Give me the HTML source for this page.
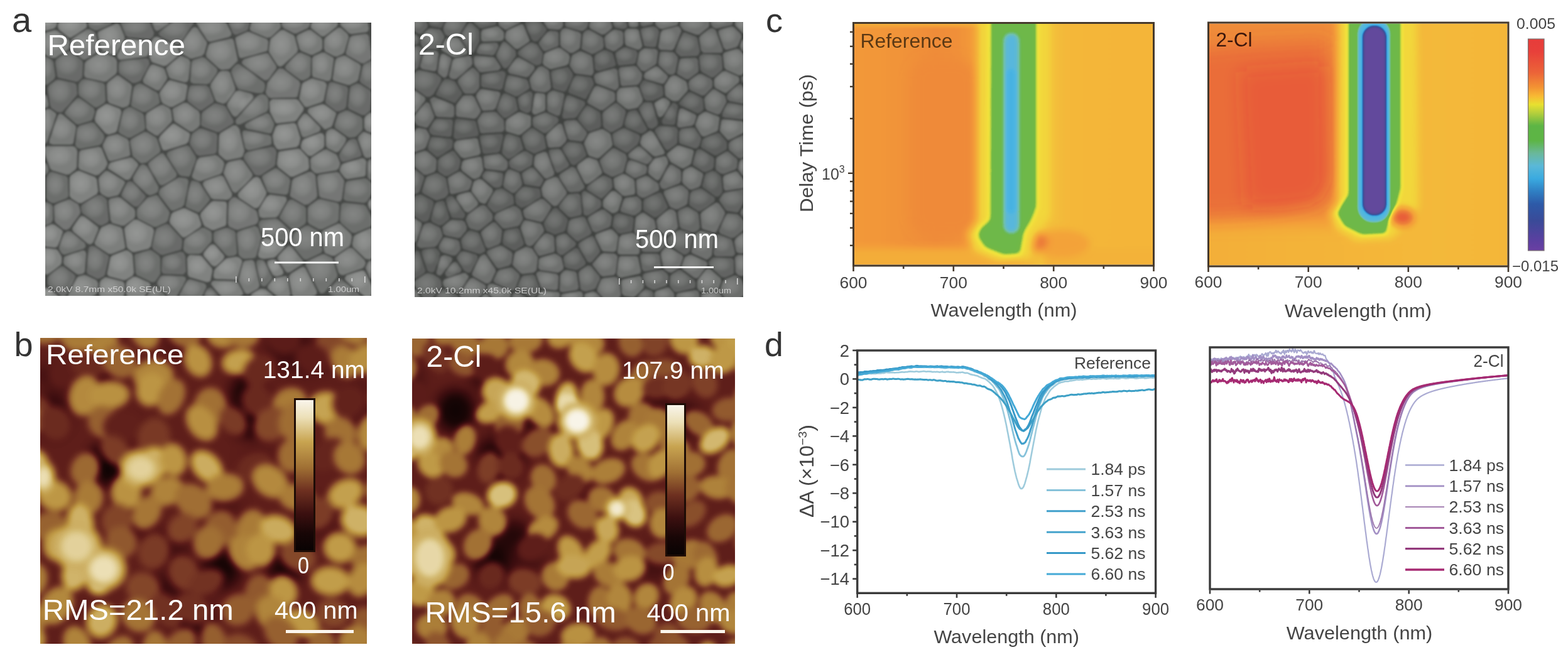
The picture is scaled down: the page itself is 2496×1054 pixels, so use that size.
<!DOCTYPE html>
<html><head><meta charset="utf-8"><title>Figure</title>
<style>html,body{margin:0;padding:0;background:#fff;width:2496px;height:1054px;overflow:hidden}svg{display:block}</style>
</head><body>
<svg width="2496" height="1054" viewBox="0 0 2496 1054" font-family="'Liberation Sans', Arial, sans-serif">
<rect x="0" y="0" width="2496" height="1054" fill="#ffffff"/>
<defs><clipPath id="semL_clip"><rect x="72" y="36" width="519" height="435"/></clipPath>
<filter id="semL_blur" x="62" y="26" width="539" height="455" filterUnits="userSpaceOnUse"><feGaussianBlur stdDeviation="1.50"/></filter>
<radialGradient id="semL_g0" cx="0.45" cy="0.4" r="0.65" fx="0.38" fy="0.3"><stop offset="0" stop-color="rgb(145,147,145)"/><stop offset="0.6" stop-color="rgb(121,123,121)"/><stop offset="0.9" stop-color="rgb(99,101,99)"/><stop offset="1" stop-color="rgb(94,96,94)"/></radialGradient>
<radialGradient id="semL_g1" cx="0.45" cy="0.4" r="0.65" fx="0.38" fy="0.3"><stop offset="0" stop-color="rgb(149,151,149)"/><stop offset="0.6" stop-color="rgb(125,127,125)"/><stop offset="0.9" stop-color="rgb(103,105,103)"/><stop offset="1" stop-color="rgb(98,100,98)"/></radialGradient>
<radialGradient id="semL_g2" cx="0.45" cy="0.4" r="0.65" fx="0.38" fy="0.3"><stop offset="0" stop-color="rgb(153,155,153)"/><stop offset="0.6" stop-color="rgb(129,131,129)"/><stop offset="0.9" stop-color="rgb(107,109,107)"/><stop offset="1" stop-color="rgb(102,104,102)"/></radialGradient>
<radialGradient id="semL_g3" cx="0.45" cy="0.4" r="0.65" fx="0.38" fy="0.3"><stop offset="0" stop-color="rgb(157,159,157)"/><stop offset="0.6" stop-color="rgb(132,134,132)"/><stop offset="0.9" stop-color="rgb(111,113,111)"/><stop offset="1" stop-color="rgb(106,108,106)"/></radialGradient>
<radialGradient id="semL_g4" cx="0.45" cy="0.4" r="0.65" fx="0.38" fy="0.3"><stop offset="0" stop-color="rgb(161,163,161)"/><stop offset="0.6" stop-color="rgb(136,138,136)"/><stop offset="0.9" stop-color="rgb(115,117,115)"/><stop offset="1" stop-color="rgb(110,112,110)"/></radialGradient>
<radialGradient id="semL_g5" cx="0.45" cy="0.4" r="0.65" fx="0.38" fy="0.3"><stop offset="0" stop-color="rgb(164,166,164)"/><stop offset="0.6" stop-color="rgb(140,142,140)"/><stop offset="0.9" stop-color="rgb(119,121,119)"/><stop offset="1" stop-color="rgb(113,115,113)"/></radialGradient>
<radialGradient id="semL_g6" cx="0.45" cy="0.4" r="0.65" fx="0.38" fy="0.3"><stop offset="0" stop-color="rgb(168,170,168)"/><stop offset="0.6" stop-color="rgb(144,146,144)"/><stop offset="0.9" stop-color="rgb(122,124,122)"/><stop offset="1" stop-color="rgb(117,119,117)"/></radialGradient>
<radialGradient id="semL_hl"><stop offset="0" stop-color="#fff" stop-opacity="0.16"/><stop offset="0.6" stop-color="#fff" stop-opacity="0.10"/><stop offset="1" stop-color="#fff" stop-opacity="0"/></radialGradient>
</defs>
<g clip-path="url(#semL_clip)"><g filter="url(#semL_blur)">
<rect x="64" y="28" width="535" height="451" fill="rgb(71,73,71)"/>
<path d="M65 44 L67 48 L72 49 L86 45 L89 42 L91 36 L90 31 L86 29 L70 29 L67 31 L65 34Z" fill="rgb(128,130,128)"/>
<ellipse cx="75" cy="36" rx="11" ry="7" fill="url(#semL_hl)"/>
<path d="M109 59 L112 60 L114 59 L136 45 L138 42 L138 40 L137 33 L135 31 L132 29 L99 29 L96 30 L94 33 L92 42 L94 47Z" fill="rgb(128,130,128)"/>
<ellipse cx="111" cy="39" rx="19" ry="12" fill="url(#semL_hl)"/>
<path d="M141 40 L143 44 L151 48 L155 48 L175 39 L178 36 L177 31 L173 29 L145 29 L141 31 L140 35Z" fill="rgb(108,110,108)"/>
<ellipse cx="154" cy="35" rx="16" ry="7" fill="url(#semL_hl)"/>
<path d="M197 29 L194 30 L192 33 L192 36 L200 56 L204 59 L237 62 L241 61 L244 57 L245 52 L237 32 L233 29Z" fill="rgb(105,107,105)"/>
<ellipse cx="215" cy="42" rx="23" ry="12" fill="url(#semL_hl)"/>
<path d="M246 46 L249 49 L253 48 L267 38 L269 35 L268 31 L264 29 L246 29 L243 30 L242 33 L242 36Z" fill="rgb(116,118,116)"/>
<ellipse cx="252" cy="35" rx="11" ry="7" fill="url(#semL_hl)"/>
<path d="M255 50 L253 53 L254 56 L256 58 L280 70 L283 71 L286 69 L308 37 L309 34 L307 31 L304 29 L286 29 L283 30Z" fill="rgb(105,107,105)"/>
<ellipse cx="277" cy="44" rx="23" ry="16" fill="url(#semL_hl)"/>
<path d="M317 29 L314 31 L312 34 L313 37 L330 64 L333 66 L336 66 L364 59 L368 56 L368 52 L361 38 L358 35 L338 30Z" fill="rgb(120,122,120)"/>
<ellipse cx="336" cy="43" rx="23" ry="14" fill="url(#semL_hl)"/>
<path d="M363 33 L364 37 L371 53 L374 55 L377 55 L392 49 L395 46 L397 36 L396 31 L392 29 L368 29Z" fill="rgb(105,107,105)"/>
<ellipse cx="378" cy="38" rx="14" ry="10" fill="url(#semL_hl)"/>
<path d="M445 34 L444 31 L441 29 L406 29 L403 30 L401 33 L398 44 L398 47 L401 50 L425 60 L431 59 L445 46 L447 42Z" fill="rgb(120,122,120)"/>
<ellipse cx="419" cy="39" rx="20" ry="12" fill="url(#semL_hl)"/>
<path d="M449 41 L452 45 L468 53 L472 53 L489 45 L492 42 L494 36 L493 31 L489 29 L453 29 L450 31 L448 35Z" fill="rgb(116,118,116)"/>
<ellipse cx="467" cy="37" rx="19" ry="9" fill="url(#semL_hl)"/>
<path d="M495 41 L495 44 L497 46 L511 57 L514 58 L517 57 L536 42 L538 37 L537 34 L536 31 L533 29 L502 29 L499 30 L497 33Z" fill="rgb(124,126,124)"/>
<ellipse cx="512" cy="38" rx="18" ry="11" fill="url(#semL_hl)"/>
<path d="M583 51 L586 49 L587 45 L585 34 L584 31 L580 29 L545 29 L542 31 L541 35 L543 41 L556 53 L560 54Z" fill="rgb(120,122,120)"/>
<ellipse cx="561" cy="38" rx="20" ry="9" fill="url(#semL_hl)"/>
<path d="M73 52 L70 53 L69 56 L69 82 L72 87 L83 92 L88 92 L108 79 L110 75 L110 66 L108 62 L91 49 L87 48Z" fill="rgb(124,126,124)"/>
<ellipse cx="84" cy="66" rx="17" ry="17" fill="url(#semL_hl)"/>
<path d="M152 54 L150 51 L143 47 L138 47 L115 62 L113 66 L113 76 L115 80 L131 94 L134 95 L137 94 L156 82 L158 80 L158 77Z" fill="rgb(116,118,116)"/>
<ellipse cx="132" cy="66" rx="19" ry="18" fill="url(#semL_hl)"/>
<path d="M198 62 L198 58 L191 41 L188 38 L184 38 L158 50 L156 52 L156 56 L161 78 L164 81 L179 87 L183 87 L186 84Z" fill="rgb(124,126,124)"/>
<ellipse cx="174" cy="57" rx="18" ry="19" fill="url(#semL_hl)"/>
<path d="M187 87 L187 91 L189 94 L192 95 L231 90 L234 89 L236 86 L238 70 L237 66 L233 65 L205 62 L202 62 L200 64Z" fill="rgb(128,130,128)"/>
<ellipse cx="209" cy="75" rx="21" ry="13" fill="url(#semL_hl)"/>
<path d="M260 105 L265 104 L284 88 L285 86 L285 83 L283 77 L281 74 L251 59 L248 59 L245 60 L241 66 L238 90 L239 92 L241 97 L243 99Z" fill="rgb(128,130,128)"/>
<ellipse cx="255" cy="78" rx="20" ry="18" fill="url(#semL_hl)"/>
<path d="M303 93 L306 93 L321 89 L325 85 L329 71 L329 67 L314 45 L310 43 L306 45 L287 72 L286 77 L289 84 L291 86Z" fill="rgb(120,122,120)"/>
<ellipse cx="305" cy="66" rx="18" ry="19" fill="url(#semL_hl)"/>
<path d="M366 109 L378 97 L378 94 L372 65 L370 62 L366 62 L335 69 L332 72 L328 86 L329 91 L349 109 L353 111 L363 110Z" fill="rgb(120,122,120)"/>
<ellipse cx="350" cy="81" rx="21" ry="19" fill="url(#semL_hl)"/>
<path d="M427 67 L426 64 L424 62 L397 51 L393 51 L378 58 L375 60 L375 64 L380 88 L382 92 L386 92 L422 82 L425 81 L426 78Z" fill="rgb(120,122,120)"/>
<ellipse cx="395" cy="67" rx="22" ry="16" fill="url(#semL_hl)"/>
<path d="M473 83 L474 78 L469 59 L467 56 L452 48 L449 48 L446 49 L431 62 L430 66 L428 80 L429 84 L442 104 L446 106 L450 104Z" fill="rgb(124,126,124)"/>
<ellipse cx="447" cy="70" rx="19" ry="22" fill="url(#semL_hl)"/>
<path d="M510 81 L513 77 L513 64 L511 60 L495 48 L490 48 L475 55 L473 57 L472 60 L477 78 L480 81 L494 87 L498 87Z" fill="rgb(120,122,120)"/>
<ellipse cx="490" cy="64" rx="17" ry="15" fill="url(#semL_hl)"/>
<path d="M531 89 L536 90 L545 86 L548 83 L555 59 L553 54 L543 45 L540 44 L537 45 L518 60 L516 64 L516 77 L518 82Z" fill="rgb(120,122,120)"/>
<ellipse cx="532" cy="63" rx="16" ry="17" fill="url(#semL_hl)"/>
<path d="M551 82 L551 86 L553 88 L574 100 L579 101 L589 95 L591 93 L591 90 L587 58 L585 55 L581 54 L561 57 L557 60Z" fill="rgb(116,118,116)"/>
<ellipse cx="569" cy="72" rx="17" ry="18" fill="url(#semL_hl)"/>
<path d="M73 90 L69 90 L66 92 L65 95 L65 129 L66 132 L72 135 L76 134 L86 126 L88 121 L85 99 L82 95Z" fill="rgb(108,110,108)"/>
<ellipse cx="74" cy="108" rx="10" ry="17" fill="url(#semL_hl)"/>
<path d="M132 101 L131 97 L114 83 L111 82 L108 82 L90 94 L88 99 L91 120 L92 123 L95 124 L121 130 L125 129 L130 124 L131 121Z" fill="rgb(105,107,105)"/>
<ellipse cx="107" cy="102" rx="19" ry="18" fill="url(#semL_hl)"/>
<path d="M184 93 L181 91 L163 83 L159 84 L138 97 L135 101 L134 118 L135 122 L138 124 L166 130 L170 129 L184 118 L186 114 L186 98Z" fill="rgb(120,122,120)"/>
<ellipse cx="157" cy="103" rx="22" ry="18" fill="url(#semL_hl)"/>
<path d="M238 102 L237 96 L235 94 L232 93 L193 97 L190 99 L189 102 L189 114 L191 118 L211 132 L215 132 L221 130 L224 128Z" fill="rgb(105,107,105)"/>
<ellipse cx="209" cy="107" rx="21" ry="15" fill="url(#semL_hl)"/>
<path d="M265 127 L266 123 L262 111 L259 108 L245 103 L242 103 L239 105 L228 126 L228 130 L230 133 L248 143 L252 144 L255 142Z" fill="rgb(120,122,120)"/>
<ellipse cx="245" cy="119" rx="16" ry="16" fill="url(#semL_hl)"/>
<path d="M269 122 L272 125 L294 131 L298 130 L300 126 L303 99 L300 94 L291 90 L288 89 L286 90 L267 106 L265 108 L265 111Z" fill="rgb(120,122,120)"/>
<ellipse cx="283" cy="107" rx="16" ry="16" fill="url(#semL_hl)"/>
<path d="M303 128 L304 131 L308 133 L329 134 L334 132 L345 116 L346 113 L345 109 L327 93 L322 91 L309 95 L306 97 L305 100Z" fill="rgb(112,114,112)"/>
<ellipse cx="319" cy="110" rx="18" ry="16" fill="url(#semL_hl)"/>
<path d="M417 148 L419 146 L421 143 L422 136 L420 131 L382 103 L379 102 L376 103 L370 109 L368 115 L377 138 L380 142 L409 148Z" fill="rgb(108,110,108)"/>
<ellipse cx="389" cy="123" rx="22" ry="18" fill="url(#semL_hl)"/>
<path d="M389 94 L386 97 L385 100 L387 103 L420 127 L423 128 L427 126 L439 110 L440 107 L439 104 L428 87 L426 85 L422 85Z" fill="rgb(116,118,116)"/>
<ellipse cx="411" cy="100" rx="23" ry="16" fill="url(#semL_hl)"/>
<path d="M495 94 L494 91 L491 89 L479 84 L474 85 L456 103 L454 107 L456 111 L478 127 L483 128 L491 124 L494 120Z" fill="rgb(112,114,112)"/>
<ellipse cx="475" cy="101" rx="17" ry="17" fill="url(#semL_hl)"/>
<path d="M521 129 L525 128 L527 124 L531 96 L531 93 L529 91 L517 84 L512 84 L500 89 L497 93 L497 118 L498 122 L500 123Z" fill="rgb(120,122,120)"/>
<ellipse cx="511" cy="102" rx="14" ry="17" fill="url(#semL_hl)"/>
<path d="M530 123 L530 127 L533 129 L553 135 L557 135 L567 130 L570 127 L574 108 L574 105 L572 102 L550 89 L546 89 L537 92 L534 96Z" fill="rgb(120,122,120)"/>
<ellipse cx="548" cy="108" rx="19" ry="18" fill="url(#semL_hl)"/>
<path d="M598 102 L596 98 L593 97 L590 97 L579 103 L577 107 L573 126 L573 129 L575 132 L590 142 L593 142 L596 141 L598 137Z" fill="rgb(105,107,105)"/>
<ellipse cx="585" cy="115" rx="10" ry="17" fill="url(#semL_hl)"/>
<path d="M65 167 L67 171 L72 172 L76 170 L77 166 L75 156 L74 152 L70 151 L67 153 L65 156Z" fill="rgb(120,122,120)"/>
<ellipse cx="70" cy="160" rx="5" ry="8" fill="url(#semL_hl)"/>
<path d="M121 153 L123 150 L122 137 L121 134 L118 132 L93 127 L89 128 L78 136 L76 141 L80 168 L82 172 L91 178 L97 179 L100 177Z" fill="rgb(105,107,105)"/>
<ellipse cx="95" cy="145" rx="19" ry="20" fill="url(#semL_hl)"/>
<path d="M127 131 L125 135 L125 149 L127 153 L150 170 L153 171 L156 170 L166 164 L168 160 L167 137 L166 134 L163 132 L136 126 L131 127Z" fill="rgb(108,110,108)"/>
<ellipse cx="144" cy="142" rx="18" ry="17" fill="url(#semL_hl)"/>
<path d="M190 121 L187 120 L185 121 L172 131 L170 135 L171 159 L174 164 L194 171 L197 171 L203 169 L206 165 L210 138 L208 134Z" fill="rgb(120,122,120)"/>
<ellipse cx="186" cy="141" rx="17" ry="19" fill="url(#semL_hl)"/>
<path d="M226 134 L222 133 L217 135 L213 139 L209 165 L209 168 L211 170 L227 178 L232 178 L252 166 L254 164 L254 161 L252 150 L249 147Z" fill="rgb(108,110,108)"/>
<ellipse cx="226" cy="152" rx="19" ry="17" fill="url(#semL_hl)"/>
<path d="M257 161 L260 165 L270 170 L275 170 L292 161 L295 158 L298 140 L298 136 L295 134 L272 128 L270 128 L267 130 L255 146 L254 150Z" fill="rgb(124,126,124)"/>
<ellipse cx="273" cy="145" rx="18" ry="16" fill="url(#semL_hl)"/>
<path d="M338 164 L340 162 L340 158 L333 140 L328 136 L306 136 L303 137 L301 140 L298 157 L300 162 L317 175 L320 176 L322 175Z" fill="rgb(105,107,105)"/>
<ellipse cx="315" cy="150" rx="18" ry="15" fill="url(#semL_hl)"/>
<path d="M366 116 L364 114 L361 113 L353 113 L349 115 L336 133 L335 138 L343 159 L346 162 L355 165 L358 164 L360 163 L374 144 L374 139Z" fill="rgb(120,122,120)"/>
<ellipse cx="352" cy="133" rx="16" ry="20" fill="url(#semL_hl)"/>
<path d="M381 144 L378 145 L375 146 L362 165 L362 170 L370 183 L374 186 L378 184 L402 157 L403 154 L402 151 L399 149Z" fill="rgb(120,122,120)"/>
<ellipse cx="377" cy="159" rx="17" ry="16" fill="url(#semL_hl)"/>
<path d="M451 110 L445 109 L442 111 L426 132 L423 146 L424 150 L427 154 L431 156 L470 155 L473 154 L474 151 L478 134 L476 129Z" fill="rgb(116,118,116)"/>
<ellipse cx="446" cy="131" rx="23" ry="18" fill="url(#semL_hl)"/>
<path d="M484 131 L481 134 L477 154 L477 158 L484 168 L486 170 L490 170 L511 163 L515 160 L520 136 L519 133 L516 130 L497 125 L494 126Z" fill="rgb(124,126,124)"/>
<ellipse cx="494" cy="143" rx="18" ry="17" fill="url(#semL_hl)"/>
<path d="M530 131 L526 131 L523 134 L518 160 L519 165 L535 177 L540 177 L548 174 L551 170 L554 143 L553 139 L550 137Z" fill="rgb(105,107,105)"/>
<ellipse cx="533" cy="149" rx="15" ry="18" fill="url(#semL_hl)"/>
<path d="M573 134 L568 133 L559 137 L557 141 L554 169 L555 172 L557 174 L576 183 L581 183 L587 178 L589 175 L591 149 L589 144Z" fill="rgb(105,107,105)"/>
<ellipse cx="569" cy="153" rx="15" ry="19" fill="url(#semL_hl)"/>
<path d="M69 176 L66 178 L65 181 L65 224 L67 227 L70 229 L73 228 L75 225 L89 184 L89 181 L87 179 L80 174 L76 174Z" fill="rgb(120,122,120)"/>
<ellipse cx="73" cy="192" rx="10" ry="21" fill="url(#semL_hl)"/>
<path d="M121 197 L125 198 L145 192 L148 188 L151 178 L149 172 L128 157 L124 156 L121 158 L105 176 L103 180 L105 183Z" fill="rgb(108,110,108)"/>
<ellipse cx="124" cy="174" rx="20" ry="16" fill="url(#semL_hl)"/>
<path d="M156 174 L154 177 L151 189 L152 194 L168 212 L173 214 L183 211 L186 208 L193 179 L192 175 L190 173 L172 166 L168 166Z" fill="rgb(128,130,128)"/>
<ellipse cx="169" cy="184" rx="18" ry="18" fill="url(#semL_hl)"/>
<path d="M209 171 L204 171 L199 174 L196 177 L189 207 L189 210 L192 213 L203 219 L208 219 L228 208 L230 206 L231 203 L229 184 L226 180Z" fill="rgb(108,110,108)"/>
<ellipse cx="206" cy="191" rx="17" ry="18" fill="url(#semL_hl)"/>
<path d="M234 180 L232 185 L233 204 L236 208 L247 215 L251 216 L253 214 L272 195 L274 191 L272 176 L269 172 L259 167 L254 168Z" fill="rgb(120,122,120)"/>
<ellipse cx="249" cy="186" rx="18" ry="18" fill="url(#semL_hl)"/>
<path d="M318 182 L316 177 L298 164 L292 164 L277 172 L275 174 L275 177 L277 191 L279 194 L302 209 L307 209 L315 203 L318 199Z" fill="rgb(120,122,120)"/>
<ellipse cx="294" cy="182" rx="18" ry="17" fill="url(#semL_hl)"/>
<path d="M345 210 L349 210 L369 198 L372 195 L371 191 L359 170 L356 168 L345 165 L341 165 L323 178 L321 182 L320 198 L321 200 L324 202Z" fill="rgb(105,107,105)"/>
<ellipse cx="341" cy="184" rx="21" ry="17" fill="url(#semL_hl)"/>
<path d="M376 190 L375 194 L377 198 L382 198 L424 178 L427 173 L427 159 L426 156 L423 152 L418 150 L413 151 L410 153Z" fill="rgb(112,114,112)"/>
<ellipse cx="400" cy="169" rx="22" ry="18" fill="url(#semL_hl)"/>
<path d="M393 196 L390 199 L391 203 L394 205 L427 212 L431 212 L433 209 L436 200 L436 196 L430 184 L427 181 L423 181Z" fill="rgb(112,114,112)"/>
<ellipse cx="413" cy="195" rx="19" ry="12" fill="url(#semL_hl)"/>
<path d="M469 193 L472 191 L482 177 L483 174 L483 171 L475 160 L471 158 L434 158 L431 160 L429 163 L430 178 L438 194 L440 196 L443 196Z" fill="rgb(128,130,128)"/>
<ellipse cx="451" cy="172" rx="23" ry="14" fill="url(#semL_hl)"/>
<path d="M493 172 L491 174 L490 177 L491 180 L515 204 L517 206 L520 205 L527 202 L529 199 L534 184 L535 181 L533 178 L517 167 L513 166Z" fill="rgb(124,126,124)"/>
<ellipse cx="511" cy="180" rx="19" ry="15" fill="url(#semL_hl)"/>
<path d="M554 218 L557 219 L565 218 L568 216 L576 208 L577 205 L577 190 L574 186 L554 176 L550 176 L541 180 L538 183 L533 198 L533 201 L534 204Z" fill="rgb(108,110,108)"/>
<ellipse cx="552" cy="193" rx="19" ry="16" fill="url(#semL_hl)"/>
<path d="M592 180 L588 180 L582 185 L580 189 L580 203 L583 208 L591 211 L594 212 L597 210 L598 207 L598 185 L596 181Z" fill="rgb(124,126,124)"/>
<ellipse cx="588" cy="193" rx="8" ry="12" fill="url(#semL_hl)"/>
<path d="M96 181 L94 182 L92 185 L79 223 L79 228 L84 230 L112 230 L116 229 L117 226 L121 203 L119 199 L100 183Z" fill="rgb(120,122,120)"/>
<ellipse cx="97" cy="205" rx="18" ry="18" fill="url(#semL_hl)"/>
<path d="M120 229 L121 233 L123 235 L128 237 L158 231 L162 228 L166 220 L165 214 L150 196 L145 195 L127 200 L123 204Z" fill="rgb(108,110,108)"/>
<ellipse cx="138" cy="213" rx="20" ry="16" fill="url(#semL_hl)"/>
<path d="M204 249 L207 247 L207 244 L205 225 L202 221 L188 214 L185 214 L172 217 L169 220 L164 230 L164 234 L172 253 L174 256 L178 256Z" fill="rgb(120,122,120)"/>
<ellipse cx="182" cy="231" rx="18" ry="16" fill="url(#semL_hl)"/>
<path d="M250 222 L248 219 L235 211 L230 210 L210 221 L208 223 L207 226 L211 247 L212 249 L222 258 L225 260 L231 259 L234 258 L254 243 L255 240 L255 237Z" fill="rgb(112,114,112)"/>
<ellipse cx="227" cy="230" rx="20" ry="19" fill="url(#semL_hl)"/>
<path d="M258 236 L260 239 L264 239 L296 229 L300 225 L302 216 L302 213 L300 211 L279 198 L276 197 L273 199 L255 217 L253 222Z" fill="rgb(128,130,128)"/>
<ellipse cx="273" cy="215" rx="20" ry="16" fill="url(#semL_hl)"/>
<path d="M307 212 L305 215 L302 227 L303 231 L313 246 L318 248 L341 245 L344 243 L345 240 L346 217 L345 214 L343 212 L322 205 L317 205Z" fill="rgb(105,107,105)"/>
<ellipse cx="321" cy="222" rx="18" ry="17" fill="url(#semL_hl)"/>
<path d="M379 203 L376 200 L371 200 L351 212 L349 216 L348 242 L349 246 L358 254 L362 255 L382 251 L386 249 L388 243 L389 240 L381 206Z" fill="rgb(124,126,124)"/>
<ellipse cx="364" cy="224" rx="17" ry="21" fill="url(#semL_hl)"/>
<path d="M390 235 L393 238 L396 239 L429 231 L432 229 L432 226 L432 220 L431 217 L428 215 L392 208 L388 208 L386 210 L386 214Z" fill="rgb(112,114,112)"/>
<ellipse cx="403" cy="220" rx="20" ry="12" fill="url(#semL_hl)"/>
<path d="M436 229 L441 237 L445 238 L472 234 L476 230 L478 220 L472 200 L470 197 L467 196 L443 199 L439 202 L434 216Z" fill="rgb(128,130,128)"/>
<ellipse cx="452" cy="213" rx="18" ry="16" fill="url(#semL_hl)"/>
<path d="M490 247 L493 248 L496 248 L514 236 L516 232 L516 217 L514 213 L509 212 L484 222 L481 225 L479 232 L480 237Z" fill="rgb(128,130,128)"/>
<ellipse cx="496" cy="226" rx="16" ry="14" fill="url(#semL_hl)"/>
<path d="M507 210 L509 208 L510 205 L509 202 L489 182 L485 181 L482 183 L475 193 L474 197 L480 215 L482 218 L486 218Z" fill="rgb(120,122,120)"/>
<ellipse cx="487" cy="197" rx="15" ry="14" fill="url(#semL_hl)"/>
<path d="M519 232 L522 236 L534 242 L537 242 L540 240 L550 225 L551 221 L549 218 L532 206 L527 205 L521 208 L519 213Z" fill="rgb(120,122,120)"/>
<ellipse cx="530" cy="220" rx="14" ry="14" fill="url(#semL_hl)"/>
<path d="M542 254 L544 257 L548 257 L572 250 L575 248 L575 244 L568 224 L566 222 L563 221 L558 222 L555 224 L541 244 L540 248Z" fill="rgb(105,107,105)"/>
<ellipse cx="555" cy="237" rx="15" ry="14" fill="url(#semL_hl)"/>
<path d="M582 251 L587 251 L594 249 L597 247 L598 244 L598 221 L595 216 L582 211 L579 210 L576 212 L571 217 L570 222 L579 247Z" fill="rgb(120,122,120)"/>
<ellipse cx="583" cy="226" rx="11" ry="16" fill="url(#semL_hl)"/>
<path d="M75 262 L73 260 L69 259 L67 261 L65 264 L65 274 L67 277 L71 279 L74 277 L77 273 L77 269Z" fill="rgb(112,114,112)"/>
<ellipse cx="70" cy="267" rx="5" ry="7" fill="url(#semL_hl)"/>
<path d="M123 242 L122 238 L119 234 L115 233 L76 233 L72 234 L70 237 L70 241 L80 268 L83 271 L106 278 L111 277 L120 270 L122 266Z" fill="rgb(124,126,124)"/>
<ellipse cx="94" cy="248" rx="22" ry="17" fill="url(#semL_hl)"/>
<path d="M167 269 L171 261 L170 257 L162 237 L160 235 L157 234 L130 239 L127 241 L126 244 L125 265 L126 268 L128 270 L152 279 L157 278Z" fill="rgb(124,126,124)"/>
<ellipse cx="144" cy="252" rx="19" ry="17" fill="url(#semL_hl)"/>
<path d="M200 286 L205 286 L208 283 L219 265 L220 262 L218 259 L211 252 L207 251 L176 259 L173 263 L172 268 L175 270Z" fill="rgb(124,126,124)"/>
<ellipse cx="194" cy="264" rx="20" ry="13" fill="url(#semL_hl)"/>
<path d="M262 247 L259 244 L255 245 L238 258 L236 261 L237 265 L253 292 L256 295 L260 294 L279 283 L281 280 L281 276Z" fill="rgb(112,114,112)"/>
<ellipse cx="255" cy="265" rx="19" ry="19" fill="url(#semL_hl)"/>
<path d="M298 281 L301 281 L303 278 L312 253 L311 249 L302 234 L299 232 L296 232 L269 241 L266 244 L266 248 L285 278 L289 280Z" fill="rgb(108,110,108)"/>
<ellipse cx="287" cy="250" rx="19" ry="19" fill="url(#semL_hl)"/>
<path d="M306 279 L306 282 L309 285 L316 288 L320 288 L351 277 L354 273 L357 261 L355 256 L347 249 L343 247 L318 251 L314 255Z" fill="rgb(120,122,120)"/>
<ellipse cx="327" cy="263" rx="21" ry="15" fill="url(#semL_hl)"/>
<path d="M370 304 L374 307 L378 305 L400 283 L402 279 L401 276 L387 256 L382 254 L364 258 L360 262 L356 275 L357 278Z" fill="rgb(120,122,120)"/>
<ellipse cx="374" cy="273" rx="19" ry="20" fill="url(#semL_hl)"/>
<path d="M388 249 L389 254 L405 277 L408 279 L412 279 L415 279 L436 265 L438 262 L440 243 L439 239 L436 235 L431 234 L394 242 L390 245Z" fill="rgb(105,107,105)"/>
<ellipse cx="412" cy="250" rx="22" ry="17" fill="url(#semL_hl)"/>
<path d="M447 241 L444 242 L443 245 L441 261 L443 266 L462 281 L467 281 L489 271 L491 269 L492 266 L491 254 L490 251 L478 238 L474 237Z" fill="rgb(128,130,128)"/>
<ellipse cx="462" cy="254" rx="21" ry="17" fill="url(#semL_hl)"/>
<path d="M495 268 L497 271 L501 275 L505 276 L535 271 L539 268 L541 262 L541 259 L537 249 L535 246 L520 238 L515 239 L496 251 L494 255Z" fill="rgb(120,122,120)"/>
<ellipse cx="513" cy="254" rx="20" ry="14" fill="url(#semL_hl)"/>
<path d="M583 257 L580 253 L576 252 L546 261 L543 264 L541 270 L542 274 L549 283 L553 285 L578 281 L581 280 L582 277Z" fill="rgb(124,126,124)"/>
<ellipse cx="560" cy="266" rx="17" ry="13" fill="url(#semL_hl)"/>
<path d="M591 253 L587 255 L585 258 L585 279 L586 283 L589 286 L593 287 L596 286 L598 282 L598 258 L596 254Z" fill="rgb(112,114,112)"/>
<ellipse cx="590" cy="266" rx="5" ry="13" fill="url(#semL_hl)"/>
<path d="M108 285 L107 282 L104 280 L84 274 L81 274 L78 276 L75 281 L74 284 L74 315 L77 320 L83 323 L87 323 L105 316 L108 314 L109 311Z" fill="rgb(108,110,108)"/>
<ellipse cx="88" cy="294" rx="15" ry="19" fill="url(#semL_hl)"/>
<path d="M154 286 L151 282 L126 272 L122 273 L113 279 L111 283 L111 312 L114 316 L125 323 L130 323 L154 309 L156 304Z" fill="rgb(128,130,128)"/>
<ellipse cx="128" cy="292" rx="19" ry="19" fill="url(#semL_hl)"/>
<path d="M169 313 L173 314 L187 311 L190 308 L198 293 L199 290 L196 287 L173 273 L170 272 L167 273 L159 281 L157 285 L159 305 L162 309Z" fill="rgb(120,122,120)"/>
<ellipse cx="173" cy="290" rx="17" ry="16" fill="url(#semL_hl)"/>
<path d="M213 328 L217 329 L220 328 L230 316 L232 313 L230 310 L211 290 L208 289 L205 289 L202 291 L194 308 L193 311 L195 314Z" fill="rgb(105,107,105)"/>
<ellipse cx="209" cy="306" rx="16" ry="15" fill="url(#semL_hl)"/>
<path d="M247 308 L251 305 L252 301 L252 297 L234 265 L229 262 L226 262 L222 265 L212 282 L212 286 L213 289 L234 309 L239 311Z" fill="rgb(112,114,112)"/>
<ellipse cx="229" cy="283" rx="17" ry="18" fill="url(#semL_hl)"/>
<path d="M253 306 L254 311 L271 333 L273 335 L277 335 L289 330 L293 326 L300 290 L299 286 L296 284 L288 283 L284 283 L258 299 L255 301Z" fill="rgb(112,114,112)"/>
<ellipse cx="275" cy="303" rx="20" ry="20" fill="url(#semL_hl)"/>
<path d="M332 321 L334 318 L333 315 L318 292 L316 290 L309 288 L305 288 L303 292 L296 325 L296 329 L299 331 L313 337 L316 338 L319 336Z" fill="rgb(108,110,108)"/>
<ellipse cx="310" cy="309" rx="16" ry="19" fill="url(#semL_hl)"/>
<path d="M326 288 L323 292 L324 296 L336 315 L340 317 L361 318 L364 317 L368 314 L369 311 L369 308 L356 282 L353 280 L349 280Z" fill="rgb(124,126,124)"/>
<ellipse cx="343" cy="297" rx="19" ry="15" fill="url(#semL_hl)"/>
<path d="M380 307 L379 311 L381 315 L405 331 L409 331 L412 329 L423 311 L424 306 L414 285 L410 282 L408 282 L404 283Z" fill="rgb(128,130,128)"/>
<ellipse cx="400" cy="302" rx="19" ry="19" fill="url(#semL_hl)"/>
<path d="M419 279 L417 282 L418 285 L426 305 L430 307 L454 310 L457 309 L459 306 L462 288 L460 283 L442 269 L439 268 L436 269Z" fill="rgb(112,114,112)"/>
<ellipse cx="437" cy="286" rx="19" ry="16" fill="url(#semL_hl)"/>
<path d="M462 309 L462 312 L464 314 L485 326 L491 325 L503 316 L505 311 L502 280 L500 277 L496 274 L491 274 L468 284 L465 288Z" fill="rgb(116,118,116)"/>
<ellipse cx="481" cy="295" rx="18" ry="20" fill="url(#semL_hl)"/>
<path d="M538 321 L542 320 L544 317 L548 289 L547 286 L540 276 L536 274 L509 278 L506 280 L505 284 L508 310 L509 313 L512 315Z" fill="rgb(116,118,116)"/>
<ellipse cx="523" cy="292" rx="18" ry="18" fill="url(#semL_hl)"/>
<path d="M596 301 L596 298 L595 295 L584 285 L580 284 L555 288 L552 289 L550 292 L547 315 L548 318 L552 320 L579 323 L584 321Z" fill="rgb(108,110,108)"/>
<ellipse cx="567" cy="300" rx="21" ry="15" fill="url(#semL_hl)"/>
<path d="M81 355 L84 350 L84 329 L81 325 L74 322 L70 322 L67 323 L65 326 L65 354 L66 357 L69 359 L72 359Z" fill="rgb(112,114,112)"/>
<ellipse cx="73" cy="336" rx="8" ry="14" fill="url(#semL_hl)"/>
<path d="M126 329 L124 325 L112 318 L108 318 L90 325 L87 327 L86 329 L87 351 L89 355 L101 365 L105 366 L108 365 L111 363 L127 341 L128 337Z" fill="rgb(116,118,116)"/>
<ellipse cx="102" cy="336" rx="17" ry="18" fill="url(#semL_hl)"/>
<path d="M170 355 L172 353 L173 350 L170 319 L167 315 L161 311 L155 311 L132 325 L130 327 L129 330 L130 337 L132 340 L157 358 L162 359Z" fill="rgb(105,107,105)"/>
<ellipse cx="150" cy="330" rx="18" ry="18" fill="url(#semL_hl)"/>
<path d="M193 359 L198 359 L213 348 L215 344 L215 336 L213 332 L192 315 L187 314 L177 316 L174 318 L173 321 L176 350 L179 355Z" fill="rgb(120,122,120)"/>
<ellipse cx="189" cy="332" rx="18" ry="17" fill="url(#semL_hl)"/>
<path d="M218 343 L220 348 L245 361 L249 361 L264 354 L267 351 L270 340 L269 336 L252 313 L250 311 L247 311 L238 314 L235 315 L219 332 L218 335Z" fill="rgb(112,114,112)"/>
<ellipse cx="240" cy="332" rx="22" ry="19" fill="url(#semL_hl)"/>
<path d="M270 351 L271 356 L289 376 L292 378 L295 377 L318 362 L320 359 L320 356 L316 344 L314 341 L295 332 L291 332 L276 338 L273 341Z" fill="rgb(128,130,128)"/>
<ellipse cx="291" cy="349" rx="21" ry="17" fill="url(#semL_hl)"/>
<path d="M337 366 L341 366 L357 360 L359 359 L360 356 L361 326 L360 322 L357 321 L340 320 L336 322 L320 339 L319 344 L324 357 L326 360Z" fill="rgb(128,130,128)"/>
<ellipse cx="339" cy="338" rx="18" ry="17" fill="url(#semL_hl)"/>
<path d="M376 315 L373 314 L370 315 L366 319 L364 323 L363 356 L365 361 L374 365 L378 366 L407 357 L410 354 L411 351 L411 347 L409 338 L407 335Z" fill="rgb(116,118,116)"/>
<ellipse cx="380" cy="337" rx="20" ry="20" fill="url(#semL_hl)"/>
<path d="M439 346 L443 343 L456 320 L456 317 L455 314 L452 313 L430 310 L425 313 L412 334 L412 338 L413 344 L415 346 L419 347Z" fill="rgb(124,126,124)"/>
<ellipse cx="430" cy="325" rx="19" ry="14" fill="url(#semL_hl)"/>
<path d="M487 332 L484 328 L466 318 L462 318 L459 320 L446 343 L445 346 L447 349 L465 365 L468 367 L471 366 L485 357 L487 353Z" fill="rgb(108,110,108)"/>
<ellipse cx="465" cy="338" rx="18" ry="19" fill="url(#semL_hl)"/>
<path d="M536 354 L539 350 L540 329 L539 325 L536 323 L510 317 L506 318 L492 328 L490 332 L490 353 L493 357 L508 365 L513 365Z" fill="rgb(112,114,112)"/>
<ellipse cx="510" cy="336" rx="21" ry="18" fill="url(#semL_hl)"/>
<path d="M549 323 L545 324 L543 327 L541 350 L543 355 L560 370 L565 371 L589 361 L592 358 L594 353 L593 349 L583 329 L579 326Z" fill="rgb(108,110,108)"/>
<ellipse cx="562" cy="341" rx="22" ry="18" fill="url(#semL_hl)"/>
<path d="M588 332 L592 335 L596 334 L598 330 L598 321 L596 318 L592 316 L588 319 L586 323 L586 327Z" fill="rgb(120,122,120)"/>
<ellipse cx="591" cy="324" rx="5" ry="7" fill="url(#semL_hl)"/>
<path d="M66 389 L70 392 L87 394 L90 393 L92 391 L99 372 L100 369 L98 366 L87 358 L82 357 L68 363 L65 368 L65 386Z" fill="rgb(128,130,128)"/>
<ellipse cx="79" cy="372" rx="14" ry="14" fill="url(#semL_hl)"/>
<path d="M134 345 L130 344 L127 346 L116 362 L115 365 L117 369 L140 388 L144 389 L148 386 L156 366 L156 362 L154 360Z" fill="rgb(124,126,124)"/>
<ellipse cx="133" cy="361" rx="17" ry="17" fill="url(#semL_hl)"/>
<path d="M113 369 L108 368 L106 369 L102 372 L94 394 L95 398 L98 403 L101 405 L104 405 L133 396 L136 393 L136 390 L135 387Z" fill="rgb(112,114,112)"/>
<ellipse cx="109" cy="384" rx="18" ry="14" fill="url(#semL_hl)"/>
<path d="M151 385 L151 388 L153 391 L173 404 L178 404 L196 397 L199 395 L199 392 L195 366 L192 362 L177 357 L173 357 L162 362 L160 365Z" fill="rgb(124,126,124)"/>
<ellipse cx="172" cy="376" rx="20" ry="18" fill="url(#semL_hl)"/>
<path d="M202 393 L205 397 L211 401 L215 401 L236 396 L240 392 L245 368 L244 365 L242 362 L219 350 L213 350 L200 361 L198 365Z" fill="rgb(128,130,128)"/>
<ellipse cx="217" cy="371" rx="20" ry="20" fill="url(#semL_hl)"/>
<path d="M250 363 L248 367 L242 392 L244 397 L255 405 L259 406 L286 398 L288 397 L289 394 L290 384 L289 380 L269 358 L266 357 L263 357Z" fill="rgb(105,107,105)"/>
<ellipse cx="261" cy="378" rx="20" ry="19" fill="url(#semL_hl)"/>
<path d="M317 404 L321 402 L336 385 L337 382 L337 372 L335 368 L326 363 L321 363 L295 380 L293 384 L292 396 L293 399 L296 402 L300 404Z" fill="rgb(112,114,112)"/>
<ellipse cx="311" cy="381" rx="19" ry="15" fill="url(#semL_hl)"/>
<path d="M340 381 L341 385 L360 406 L364 408 L372 407 L376 405 L377 402 L375 371 L372 367 L363 363 L359 363 L343 368 L341 370 L340 373Z" fill="rgb(108,110,108)"/>
<ellipse cx="357" cy="380" rx="16" ry="17" fill="url(#semL_hl)"/>
<path d="M381 368 L378 370 L377 373 L380 405 L382 408 L386 411 L389 412 L403 411 L406 410 L408 407 L416 378 L415 375 L411 363 L408 361 L405 360Z" fill="rgb(112,114,112)"/>
<ellipse cx="393" cy="381" rx="16" ry="20" fill="url(#semL_hl)"/>
<path d="M452 394 L453 391 L452 388 L449 386 L423 379 L420 380 L417 383 L411 405 L412 409 L415 411 L420 412 L436 410 L439 408Z" fill="rgb(128,130,128)"/>
<ellipse cx="427" cy="393" rx="18" ry="12" fill="url(#semL_hl)"/>
<path d="M456 385 L459 384 L461 382 L465 373 L465 370 L463 368 L443 350 L439 348 L417 350 L413 353 L412 356 L412 359 L418 373 L421 376Z" fill="rgb(108,110,108)"/>
<ellipse cx="434" cy="362" rx="22" ry="14" fill="url(#semL_hl)"/>
<path d="M491 359 L486 360 L470 370 L468 372 L464 384 L464 389 L483 412 L486 413 L489 413 L510 403 L512 401 L513 398 L509 372 L507 368Z" fill="rgb(108,110,108)"/>
<ellipse cx="486" cy="380" rx="21" ry="20" fill="url(#semL_hl)"/>
<path d="M516 399 L518 403 L528 407 L533 407 L556 392 L558 388 L560 377 L558 372 L542 357 L539 356 L536 357 L515 367 L513 369 L512 372Z" fill="rgb(124,126,124)"/>
<ellipse cx="531" cy="377" rx="20" ry="19" fill="url(#semL_hl)"/>
<path d="M594 366 L591 364 L588 364 L566 374 L563 377 L561 388 L562 393 L582 412 L588 413 L595 410 L598 405 L598 374Z" fill="rgb(124,126,124)"/>
<ellipse cx="579" cy="383" rx="15" ry="18" fill="url(#semL_hl)"/>
<path d="M71 395 L67 397 L65 400 L65 429 L67 433 L71 436 L74 437 L77 436 L96 422 L98 418 L98 410 L97 407 L92 399 L89 397Z" fill="rgb(128,130,128)"/>
<ellipse cx="77" cy="410" rx="14" ry="16" fill="url(#semL_hl)"/>
<path d="M131 436 L134 434 L135 431 L137 404 L136 401 L134 399 L131 399 L104 408 L102 410 L101 418 L103 422 L122 436 L125 437Z" fill="rgb(120,122,120)"/>
<ellipse cx="119" cy="414" rx="15" ry="14" fill="url(#semL_hl)"/>
<path d="M150 392 L144 392 L142 394 L141 397 L138 432 L139 435 L141 437 L155 444 L159 443 L165 440 L167 437 L173 411 L173 408 L171 406Z" fill="rgb(105,107,105)"/>
<ellipse cx="151" cy="413" rx="15" ry="20" fill="url(#semL_hl)"/>
<path d="M179 407 L176 410 L171 434 L171 437 L174 440 L197 446 L201 445 L211 439 L213 434 L211 407 L209 403 L203 399 L199 399Z" fill="rgb(128,130,128)"/>
<ellipse cx="190" cy="418" rx="18" ry="18" fill="url(#semL_hl)"/>
<path d="M241 449 L245 449 L248 447 L254 438 L255 436 L255 412 L253 407 L242 399 L238 398 L218 404 L215 405 L214 409 L216 434 L218 438Z" fill="rgb(108,110,108)"/>
<ellipse cx="232" cy="418" rx="17" ry="19" fill="url(#semL_hl)"/>
<path d="M292 402 L287 401 L262 408 L259 410 L258 413 L257 431 L259 435 L262 436 L291 437 L294 435 L296 432 L295 408Z" fill="rgb(105,107,105)"/>
<ellipse cx="274" cy="417" rx="16" ry="14" fill="url(#semL_hl)"/>
<path d="M299 436 L300 439 L302 441 L329 449 L334 448 L335 446 L338 431 L337 427 L321 408 L318 407 L303 406 L300 408 L298 412Z" fill="rgb(128,130,128)"/>
<ellipse cx="314" cy="423" rx="17" ry="16" fill="url(#semL_hl)"/>
<path d="M337 422 L341 424 L344 423 L355 413 L357 409 L356 406 L342 390 L338 389 L334 391 L325 402 L324 405 L325 408Z" fill="rgb(128,130,128)"/>
<ellipse cx="337" cy="403" rx="14" ry="13" fill="url(#semL_hl)"/>
<path d="M373 445 L376 445 L378 442 L385 418 L385 415 L383 412 L380 410 L376 409 L363 411 L360 412 L343 428 L341 431 L340 439 L341 443 L345 444Z" fill="rgb(128,130,128)"/>
<ellipse cx="360" cy="425" rx="19" ry="14" fill="url(#semL_hl)"/>
<path d="M430 414 L426 416 L426 421 L434 437 L437 439 L440 440 L448 438 L451 435 L450 430 L440 415 L435 413Z" fill="rgb(128,130,128)"/>
<ellipse cx="436" cy="424" rx="11" ry="10" fill="url(#semL_hl)"/>
<path d="M455 432 L458 434 L462 433 L480 421 L483 418 L481 414 L464 393 L460 391 L457 393 L443 408 L442 411 L443 414Z" fill="rgb(120,122,120)"/>
<ellipse cx="458" cy="409" rx="17" ry="16" fill="url(#semL_hl)"/>
<path d="M418 414 L411 414 L409 416 L408 420 L415 452 L417 455 L421 456 L424 454 L432 445 L433 442 L432 439 L421 417Z" fill="rgb(108,110,108)"/>
<ellipse cx="418" cy="430" rx="10" ry="16" fill="url(#semL_hl)"/>
<path d="M489 416 L487 419 L487 423 L508 464 L511 467 L516 466 L536 442 L537 438 L530 413 L527 410 L517 405 L513 405Z" fill="rgb(112,114,112)"/>
<ellipse cx="509" cy="427" rx="21" ry="23" fill="url(#semL_hl)"/>
<path d="M535 409 L533 411 L533 414 L539 434 L542 437 L546 438 L577 427 L580 424 L582 419 L580 414 L562 396 L559 395 L555 395Z" fill="rgb(120,122,120)"/>
<ellipse cx="552" cy="413" rx="20" ry="16" fill="url(#semL_hl)"/>
<path d="M587 416 L585 419 L582 426 L583 429 L588 441 L591 444 L596 443 L598 439 L598 419 L597 416 L594 414Z" fill="rgb(116,118,116)"/>
<ellipse cx="590" cy="426" rx="6" ry="11" fill="url(#semL_hl)"/>
<path d="M102 425 L99 424 L96 425 L78 439 L76 443 L76 452 L78 455 L97 471 L101 472 L106 469 L119 443 L120 440 L118 437Z" fill="rgb(105,107,105)"/>
<ellipse cx="94" cy="442" rx="18" ry="18" fill="url(#semL_hl)"/>
<path d="M109 469 L109 473 L111 475 L115 478 L134 477 L152 469 L155 465 L156 451 L153 446 L138 439 L134 438 L126 440 L123 442Z" fill="rgb(124,126,124)"/>
<ellipse cx="129" cy="455" rx="20" ry="15" fill="url(#semL_hl)"/>
<path d="M196 472 L198 468 L198 453 L197 450 L194 448 L170 442 L167 442 L161 446 L159 450 L158 467 L159 470 L163 476 L167 478 L187 478 L189 477Z" fill="rgb(128,130,128)"/>
<ellipse cx="174" cy="457" rx="17" ry="14" fill="url(#semL_hl)"/>
<path d="M201 468 L203 472 L212 477 L223 478 L228 475 L239 457 L239 453 L237 450 L217 441 L212 441 L203 447 L201 451Z" fill="rgb(128,130,128)"/>
<ellipse cx="215" cy="455" rx="16" ry="14" fill="url(#semL_hl)"/>
<path d="M259 439 L255 441 L251 448 L250 451 L251 454 L272 476 L275 477 L278 477 L280 474 L295 447 L296 444 L294 441 L291 440Z" fill="rgb(112,114,112)"/>
<ellipse cx="269" cy="450" rx="19" ry="14" fill="url(#semL_hl)"/>
<path d="M328 458 L328 454 L325 451 L304 445 L301 445 L298 447 L286 469 L286 474 L290 477 L295 478 L315 478 L320 475Z" fill="rgb(112,114,112)"/>
<ellipse cx="304" cy="459" rx="17" ry="13" fill="url(#semL_hl)"/>
<path d="M342 447 L338 448 L336 452 L338 455 L356 476 L360 478 L368 477 L384 471 L387 468 L386 464 L379 451 L375 448Z" fill="rgb(124,126,124)"/>
<ellipse cx="359" cy="458" rx="21" ry="12" fill="url(#semL_hl)"/>
<path d="M390 466 L394 468 L397 467 L410 460 L412 457 L413 454 L405 418 L403 415 L400 414 L392 415 L389 416 L387 418 L380 445 L381 449Z" fill="rgb(120,122,120)"/>
<ellipse cx="394" cy="436" rx="14" ry="20" fill="url(#semL_hl)"/>
<path d="M447 476 L452 477 L459 474 L461 471 L462 468 L458 444 L456 440 L452 440 L438 443 L435 445 L427 454 L426 458 L428 461Z" fill="rgb(124,126,124)"/>
<ellipse cx="443" cy="454" rx="15" ry="14" fill="url(#semL_hl)"/>
<path d="M465 469 L468 473 L483 477 L487 476 L502 470 L504 467 L504 463 L486 427 L483 425 L479 426 L463 436 L460 441Z" fill="rgb(124,126,124)"/>
<ellipse cx="477" cy="448" rx="18" ry="20" fill="url(#semL_hl)"/>
<path d="M524 461 L523 465 L526 469 L545 478 L569 478 L573 476 L574 472 L572 469 L544 445 L540 444 L537 446Z" fill="rgb(105,107,105)"/>
<ellipse cx="543" cy="461" rx="21" ry="13" fill="url(#semL_hl)"/>
<path d="M582 473 L585 474 L589 472 L591 470 L593 461 L593 458 L581 433 L579 431 L575 431 L552 438 L550 441 L549 444 L551 447Z" fill="rgb(128,130,128)"/>
<ellipse cx="570" cy="446" rx="18" ry="16" fill="url(#semL_hl)"/>
<path d="M87 478 L90 476 L92 472 L90 469 L77 459 L75 458 L68 461 L65 465 L65 473 L67 476 L70 478Z" fill="rgb(128,130,128)"/>
<ellipse cx="75" cy="467" rx="11" ry="8" fill="url(#semL_hl)"/>
<path d="M250 457 L246 455 L242 457 L234 470 L233 473 L235 476 L238 478 L258 478 L262 476 L263 473 L262 469Z" fill="rgb(108,110,108)"/>
<ellipse cx="245" cy="466" rx="12" ry="9" fill="url(#semL_hl)"/>
<path d="M325 471 L325 474 L326 477 L330 478 L343 478 L346 476 L348 473 L346 469 L338 460 L335 458 L332 459 L329 461Z" fill="rgb(105,107,105)"/>
<ellipse cx="334" cy="468" rx="10" ry="7" fill="url(#semL_hl)"/>
<path d="M401 468 L399 472 L400 476 L404 478 L430 478 L433 476 L435 472 L433 469 L423 461 L419 460 L414 460Z" fill="rgb(124,126,124)"/>
<ellipse cx="414" cy="468" rx="15" ry="7" fill="url(#semL_hl)"/>
</g></g>
<defs><clipPath id="semR_clip"><rect x="660" y="35" width="523" height="438"/></clipPath>
<filter id="semR_blur" x="650" y="25" width="543" height="458" filterUnits="userSpaceOnUse"><feGaussianBlur stdDeviation="1.50"/></filter>
<radialGradient id="semR_g0" cx="0.45" cy="0.4" r="0.65" fx="0.38" fy="0.3"><stop offset="0" stop-color="rgb(129,131,129)"/><stop offset="0.6" stop-color="rgb(106,108,106)"/><stop offset="0.9" stop-color="rgb(85,87,85)"/><stop offset="1" stop-color="rgb(80,82,80)"/></radialGradient>
<radialGradient id="semR_g1" cx="0.45" cy="0.4" r="0.65" fx="0.38" fy="0.3"><stop offset="0" stop-color="rgb(133,135,133)"/><stop offset="0.6" stop-color="rgb(110,112,110)"/><stop offset="0.9" stop-color="rgb(89,91,89)"/><stop offset="1" stop-color="rgb(84,86,84)"/></radialGradient>
<radialGradient id="semR_g2" cx="0.45" cy="0.4" r="0.65" fx="0.38" fy="0.3"><stop offset="0" stop-color="rgb(136,138,136)"/><stop offset="0.6" stop-color="rgb(113,115,113)"/><stop offset="0.9" stop-color="rgb(93,95,93)"/><stop offset="1" stop-color="rgb(88,90,88)"/></radialGradient>
<radialGradient id="semR_g3" cx="0.45" cy="0.4" r="0.65" fx="0.38" fy="0.3"><stop offset="0" stop-color="rgb(140,142,140)"/><stop offset="0.6" stop-color="rgb(117,119,117)"/><stop offset="0.9" stop-color="rgb(97,99,97)"/><stop offset="1" stop-color="rgb(92,94,92)"/></radialGradient>
<radialGradient id="semR_g4" cx="0.45" cy="0.4" r="0.65" fx="0.38" fy="0.3"><stop offset="0" stop-color="rgb(144,146,144)"/><stop offset="0.6" stop-color="rgb(121,123,121)"/><stop offset="0.9" stop-color="rgb(101,103,101)"/><stop offset="1" stop-color="rgb(96,98,96)"/></radialGradient>
<radialGradient id="semR_g5" cx="0.45" cy="0.4" r="0.65" fx="0.38" fy="0.3"><stop offset="0" stop-color="rgb(148,150,148)"/><stop offset="0.6" stop-color="rgb(125,127,125)"/><stop offset="0.9" stop-color="rgb(105,107,105)"/><stop offset="1" stop-color="rgb(99,101,99)"/></radialGradient>
<radialGradient id="semR_g6" cx="0.45" cy="0.4" r="0.65" fx="0.38" fy="0.3"><stop offset="0" stop-color="rgb(152,154,152)"/><stop offset="0.6" stop-color="rgb(129,131,129)"/><stop offset="0.9" stop-color="rgb(108,110,108)"/><stop offset="1" stop-color="rgb(103,105,103)"/></radialGradient>
<radialGradient id="semR_hl"><stop offset="0" stop-color="#fff" stop-opacity="0.15"/><stop offset="0.6" stop-color="#fff" stop-opacity="0.09"/><stop offset="1" stop-color="#fff" stop-opacity="0"/></radialGradient>
</defs>
<g clip-path="url(#semR_clip)"><g filter="url(#semR_blur)">
<rect x="652" y="27" width="539" height="454" fill="rgb(64,66,64)"/>
<path d="M665 53 L668 54 L671 53 L680 44 L681 40 L678 32 L677 29 L674 28 L658 28 L655 30 L653 33 L653 42 L655 46Z" fill="rgb(98,100,98)"/>
<ellipse cx="664" cy="37" rx="11" ry="10" fill="url(#semR_hl)"/>
<path d="M683 39 L687 42 L699 44 L702 44 L704 42 L707 35 L707 32 L706 29 L703 28 L686 28 L683 30 L682 34Z" fill="rgb(91,93,91)"/>
<ellipse cx="693" cy="34" rx="11" ry="6" fill="url(#semR_hl)"/>
<path d="M706 44 L706 48 L709 55 L713 57 L727 57 L731 55 L743 35 L744 32 L742 30 L740 28 L716 28 L712 31Z" fill="rgb(102,104,102)"/>
<ellipse cx="720" cy="39" rx="16" ry="11" fill="url(#semR_hl)"/>
<path d="M757 28 L754 30 L753 33 L754 36 L763 44 L767 45 L787 40 L790 38 L790 32 L789 30 L786 28Z" fill="rgb(94,96,94)"/>
<ellipse cx="769" cy="34" rx="16" ry="6" fill="url(#semR_hl)"/>
<path d="M826 37 L829 34 L828 30 L825 28 L798 28 L794 30 L793 33 L794 38 L795 41 L804 47 L806 47Z" fill="rgb(110,112,110)"/>
<ellipse cx="807" cy="34" rx="15" ry="7" fill="url(#semR_hl)"/>
<path d="M840 32 L838 33 L836 35 L836 38 L846 62 L849 65 L851 66 L856 65 L869 50 L870 47 L869 45 L862 36 L859 34Z" fill="rgb(91,93,91)"/>
<ellipse cx="850" cy="44" rx="14" ry="13" fill="url(#semR_hl)"/>
<path d="M869 28 L866 30 L865 32 L866 36 L872 45 L876 46 L888 47 L892 46 L895 43 L896 40 L896 33 L895 30 L892 28Z" fill="rgb(110,112,110)"/>
<ellipse cx="879" cy="35" rx="13" ry="7" fill="url(#semR_hl)"/>
<path d="M899 33 L900 41 L902 43 L924 49 L928 49 L933 45 L935 42 L937 34 L936 30 L932 28 L903 28 L900 30Z" fill="rgb(102,104,102)"/>
<ellipse cx="916" cy="35" rx="16" ry="8" fill="url(#semR_hl)"/>
<path d="M938 41 L939 44 L941 46 L958 55 L963 54 L973 46 L974 44 L974 41 L971 31 L969 29 L967 28 L944 28 L942 29 L940 32Z" fill="rgb(110,112,110)"/>
<ellipse cx="954" cy="37" rx="15" ry="10" fill="url(#semR_hl)"/>
<path d="M996 45 L998 43 L998 40 L997 32 L995 29 L992 28 L979 28 L975 30 L975 34 L977 41 L980 44 L991 46Z" fill="rgb(98,100,98)"/>
<ellipse cx="985" cy="35" rx="10" ry="7" fill="url(#semR_hl)"/>
<path d="M1001 39 L1002 42 L1005 43 L1011 43 L1015 42 L1016 39 L1016 33 L1015 30 L1012 28 L1004 28 L1001 30 L1000 34Z" fill="rgb(113,115,113)"/>
<ellipse cx="1007" cy="34" rx="7" ry="6" fill="url(#semR_hl)"/>
<path d="M1041 33 L1039 30 L1036 28 L1024 28 L1021 30 L1019 33 L1019 37 L1020 40 L1024 42 L1037 39 L1039 38Z" fill="rgb(102,104,102)"/>
<ellipse cx="1028" cy="33" rx="9" ry="5" fill="url(#semR_hl)"/>
<path d="M1077 40 L1079 38 L1080 35 L1078 30 L1074 28 L1048 28 L1045 30 L1043 33 L1043 37 L1045 41 L1050 45 L1054 46Z" fill="rgb(113,115,113)"/>
<ellipse cx="1057" cy="34" rx="16" ry="6" fill="url(#semR_hl)"/>
<path d="M1023 45 L1020 47 L1020 50 L1025 71 L1026 73 L1029 74 L1040 75 L1044 74 L1045 71 L1049 51 L1047 46 L1043 43 L1039 42Z" fill="rgb(98,100,98)"/>
<ellipse cx="1032" cy="55" rx="12" ry="13" fill="url(#semR_hl)"/>
<path d="M1128 43 L1129 39 L1129 32 L1127 30 L1124 28 L1091 28 L1088 30 L1084 32 L1083 35 L1083 41 L1087 46 L1089 48 L1108 55 L1113 55Z" fill="rgb(110,112,110)"/>
<ellipse cx="1103" cy="37" rx="19" ry="10" fill="url(#semR_hl)"/>
<path d="M1164 40 L1166 38 L1167 33 L1166 30 L1163 28 L1136 28 L1133 30 L1131 33 L1132 39 L1135 43 L1139 45 L1142 45Z" fill="rgb(106,108,106)"/>
<ellipse cx="1145" cy="34" rx="15" ry="6" fill="url(#semR_hl)"/>
<path d="M1170 38 L1171 41 L1182 52 L1186 54 L1189 52 L1190 49 L1190 33 L1188 30 L1185 28 L1174 28 L1171 30 L1170 33Z" fill="rgb(113,115,113)"/>
<ellipse cx="1179" cy="37" rx="8" ry="10" fill="url(#semR_hl)"/>
<path d="M667 60 L665 57 L661 54 L658 53 L655 54 L653 57 L653 67 L655 71 L659 72 L663 71 L666 69 L667 66Z" fill="rgb(94,96,94)"/>
<ellipse cx="659" cy="61" rx="6" ry="7" fill="url(#semR_hl)"/>
<path d="M707 61 L707 57 L703 50 L700 47 L686 45 L682 46 L671 57 L669 60 L670 69 L671 72 L674 77 L678 78 L696 78 L700 75Z" fill="rgb(102,104,102)"/>
<ellipse cx="685" cy="59" rx="16" ry="13" fill="url(#semR_hl)"/>
<path d="M703 76 L703 79 L705 81 L720 90 L723 91 L740 87 L743 86 L744 83 L743 80 L731 62 L727 60 L713 60 L709 63Z" fill="rgb(113,115,113)"/>
<ellipse cx="720" cy="72" rx="17" ry="12" fill="url(#semR_hl)"/>
<path d="M747 82 L750 84 L753 84 L755 82 L763 66 L763 50 L761 46 L751 37 L748 36 L745 38 L733 56 L733 61Z" fill="rgb(94,96,94)"/>
<ellipse cx="747" cy="55" rx="13" ry="18" fill="url(#semR_hl)"/>
<path d="M794 43 L790 42 L769 47 L767 49 L766 52 L766 61 L767 65 L770 66 L796 65 L800 64 L802 60 L802 52 L800 49Z" fill="rgb(113,115,113)"/>
<ellipse cx="781" cy="53" rx="15" ry="9" fill="url(#semR_hl)"/>
<path d="M834 42 L832 39 L828 39 L807 49 L805 53 L804 60 L806 64 L820 77 L823 78 L826 77 L841 67 L843 65 L842 62Z" fill="rgb(113,115,113)"/>
<ellipse cx="821" cy="55" rx="16" ry="15" fill="url(#semR_hl)"/>
<path d="M864 79 L866 81 L869 81 L887 74 L889 72 L889 70 L889 54 L888 51 L885 50 L876 49 L872 51 L859 66 L858 69 L859 72Z" fill="rgb(102,104,102)"/>
<ellipse cx="873" cy="62" rx="13" ry="12" fill="url(#semR_hl)"/>
<path d="M920 79 L923 76 L925 56 L924 53 L921 51 L901 45 L896 46 L894 48 L892 52 L892 71 L894 75 L907 84 L912 84Z" fill="rgb(110,112,110)"/>
<ellipse cx="905" cy="60" rx="14" ry="15" fill="url(#semR_hl)"/>
<path d="M960 61 L957 58 L939 48 L934 48 L930 51 L928 54 L926 75 L926 78 L928 79 L942 86 L946 85 L959 78 L961 73Z" fill="rgb(102,104,102)"/>
<ellipse cx="940" cy="63" rx="15" ry="14" fill="url(#semR_hl)"/>
<path d="M990 73 L992 69 L992 53 L990 50 L988 49 L979 47 L976 48 L964 57 L962 61 L964 74 L966 77 L975 81 L979 81Z" fill="rgb(106,108,106)"/>
<ellipse cx="975" cy="60" rx="12" ry="13" fill="url(#semR_hl)"/>
<path d="M1015 79 L1019 78 L1022 74 L1022 72 L1017 49 L1015 47 L1012 46 L999 46 L996 48 L994 52 L995 68 L996 71 L998 73Z" fill="rgb(113,115,113)"/>
<ellipse cx="1006" cy="58" rx="12" ry="12" fill="url(#semR_hl)"/>
<path d="M1048 74 L1049 77 L1052 79 L1069 80 L1071 79 L1073 77 L1084 51 L1084 47 L1082 44 L1080 42 L1077 42 L1055 48 L1052 52Z" fill="rgb(110,112,110)"/>
<ellipse cx="1062" cy="58" rx="15" ry="14" fill="url(#semR_hl)"/>
<path d="M1091 52 L1088 52 L1086 55 L1076 78 L1076 83 L1081 88 L1084 90 L1109 89 L1112 87 L1114 82 L1110 61 L1107 58Z" fill="rgb(98,100,98)"/>
<ellipse cx="1092" cy="69" rx="16" ry="14" fill="url(#semR_hl)"/>
<path d="M1116 80 L1118 82 L1120 84 L1146 84 L1150 83 L1150 78 L1140 50 L1138 47 L1134 45 L1129 46 L1115 57 L1113 61Z" fill="rgb(106,108,106)"/>
<ellipse cx="1128" cy="63" rx="16" ry="15" fill="url(#semR_hl)"/>
<path d="M1152 76 L1155 79 L1158 79 L1172 75 L1175 72 L1180 59 L1179 54 L1169 44 L1165 42 L1147 47 L1144 49 L1144 53Z" fill="rgb(110,112,110)"/>
<ellipse cx="1159" cy="56" rx="15" ry="14" fill="url(#semR_hl)"/>
<path d="M1190 67 L1188 63 L1184 62 L1181 65 L1178 73 L1179 77 L1182 81 L1185 82 L1188 81 L1190 78Z" fill="rgb(106,108,106)"/>
<ellipse cx="1183" cy="70" rx="5" ry="8" fill="url(#semR_hl)"/>
<path d="M653 108 L655 111 L657 113 L660 112 L666 107 L673 82 L672 78 L669 75 L665 73 L657 75 L654 76 L653 79Z" fill="rgb(98,100,98)"/>
<ellipse cx="660" cy="87" rx="8" ry="15" fill="url(#semR_hl)"/>
<path d="M707 86 L703 86 L701 89 L697 113 L698 117 L704 122 L708 124 L712 120 L718 96 L718 93 L716 91Z" fill="rgb(110,112,110)"/>
<ellipse cx="706" cy="100" rx="9" ry="14" fill="url(#semR_hl)"/>
<path d="M725 93 L721 96 L715 119 L716 123 L718 125 L723 126 L727 125 L750 105 L752 101 L751 93 L749 90 L746 89Z" fill="rgb(110,112,110)"/>
<ellipse cx="730" cy="102" rx="15" ry="14" fill="url(#semR_hl)"/>
<path d="M759 89 L755 90 L754 94 L755 102 L756 105 L763 114 L767 115 L793 112 L795 110 L797 108 L796 105 L788 93 L785 91Z" fill="rgb(106,108,106)"/>
<ellipse cx="770" cy="99" rx="18" ry="10" fill="url(#semR_hl)"/>
<path d="M806 68 L802 66 L799 69 L790 87 L791 92 L801 107 L804 109 L808 107 L821 89 L821 87 L821 84 L820 80Z" fill="rgb(98,100,98)"/>
<ellipse cx="803" cy="83" rx="13" ry="16" fill="url(#semR_hl)"/>
<path d="M784 88 L786 87 L788 85 L793 75 L793 72 L792 69 L789 68 L768 69 L764 71 L759 80 L759 83 L760 85 L763 86Z" fill="rgb(102,104,102)"/>
<ellipse cx="774" cy="76" rx="14" ry="7" fill="url(#semR_hl)"/>
<path d="M809 110 L809 114 L812 117 L838 123 L842 121 L850 111 L851 107 L849 104 L827 92 L824 92 L821 94Z" fill="rgb(106,108,106)"/>
<ellipse cx="826" cy="105" rx="18" ry="12" fill="url(#semR_hl)"/>
<path d="M853 104 L859 103 L862 100 L864 86 L863 83 L855 71 L848 68 L844 68 L826 81 L824 85 L827 89Z" fill="rgb(94,96,94)"/>
<ellipse cx="843" cy="82" rx="17" ry="14" fill="url(#semR_hl)"/>
<path d="M864 100 L866 104 L874 109 L877 110 L901 104 L905 101 L907 91 L905 86 L893 77 L888 76 L869 84 L866 87Z" fill="rgb(113,115,113)"/>
<ellipse cx="882" cy="90" rx="18" ry="13" fill="url(#semR_hl)"/>
<path d="M944 117 L945 115 L943 92 L940 88 L926 82 L922 82 L912 87 L910 90 L907 103 L908 106 L914 115 L917 117 L940 120 L942 120Z" fill="rgb(106,108,106)"/>
<ellipse cx="924" cy="98" rx="16" ry="15" fill="url(#semR_hl)"/>
<path d="M976 87 L974 84 L965 80 L961 80 L948 87 L946 92 L947 109 L949 112 L953 113 L977 106 L980 104 L980 101Z" fill="rgb(91,93,91)"/>
<ellipse cx="959" cy="93" rx="14" ry="13" fill="url(#semR_hl)"/>
<path d="M983 101 L985 104 L988 104 L1008 102 L1010 101 L1012 99 L1015 86 L1014 83 L1012 80 L996 75 L992 76 L981 83 L980 85 L980 88Z" fill="rgb(94,96,94)"/>
<ellipse cx="994" cy="87" rx="15" ry="11" fill="url(#semR_hl)"/>
<path d="M1027 116 L1025 121 L1026 124 L1028 126 L1053 133 L1056 133 L1058 131 L1062 125 L1063 122 L1061 119 L1048 107 L1046 106 L1043 106Z" fill="rgb(110,112,110)"/>
<ellipse cx="1041" cy="117" rx="16" ry="10" fill="url(#semR_hl)"/>
<path d="M1021 112 L1024 113 L1027 113 L1043 103 L1045 100 L1047 83 L1046 80 L1043 78 L1027 77 L1024 78 L1020 81 L1018 83 L1014 101 L1015 104Z" fill="rgb(106,108,106)"/>
<ellipse cx="1028" cy="90" rx="14" ry="14" fill="url(#semR_hl)"/>
<path d="M1054 82 L1051 83 L1050 86 L1048 100 L1049 104 L1064 118 L1069 119 L1072 118 L1075 115 L1079 94 L1078 90 L1073 84 L1070 83Z" fill="rgb(102,104,102)"/>
<ellipse cx="1061" cy="95" rx="13" ry="14" fill="url(#semR_hl)"/>
<path d="M1078 114 L1078 117 L1080 119 L1092 126 L1096 126 L1111 115 L1112 111 L1111 96 L1109 93 L1106 92 L1086 93 L1083 94 L1082 96Z" fill="rgb(102,104,102)"/>
<ellipse cx="1092" cy="104" rx="15" ry="13" fill="url(#semR_hl)"/>
<path d="M1114 89 L1113 92 L1115 111 L1118 115 L1132 123 L1135 123 L1137 122 L1149 112 L1150 108 L1149 91 L1147 88 L1144 87 L1119 86Z" fill="rgb(98,100,98)"/>
<ellipse cx="1129" cy="99" rx="16" ry="14" fill="url(#semR_hl)"/>
<path d="M1177 79 L1172 78 L1155 83 L1152 85 L1151 88 L1153 107 L1156 111 L1176 120 L1181 119 L1188 112 L1190 109 L1190 95 L1188 92Z" fill="rgb(113,115,113)"/>
<ellipse cx="1168" cy="94" rx="16" ry="16" fill="url(#semR_hl)"/>
<path d="M669 112 L665 112 L656 119 L654 123 L657 137 L659 140 L679 154 L684 154 L690 150 L702 129 L702 126 L701 123 L693 117Z" fill="rgb(98,100,98)"/>
<ellipse cx="674" cy="127" rx="20" ry="16" fill="url(#semR_hl)"/>
<path d="M698 86 L697 83 L694 81 L680 81 L677 82 L675 84 L669 104 L670 108 L673 110 L689 113 L693 113 L695 110Z" fill="rgb(110,112,110)"/>
<ellipse cx="682" cy="93" rx="12" ry="12" fill="url(#semR_hl)"/>
<path d="M708 126 L705 129 L695 147 L694 151 L697 153 L721 163 L724 164 L726 162 L734 152 L735 150 L735 147 L725 131 L723 129 L714 126Z" fill="rgb(91,93,91)"/>
<ellipse cx="712" cy="141" rx="17" ry="14" fill="url(#semR_hl)"/>
<path d="M762 141 L763 138 L763 119 L762 116 L756 110 L753 108 L750 109 L730 126 L729 129 L729 132 L738 147 L741 149 L752 149 L756 148Z" fill="rgb(102,104,102)"/>
<ellipse cx="745" cy="126" rx="15" ry="16" fill="url(#semR_hl)"/>
<path d="M795 143 L798 142 L800 140 L805 119 L804 115 L800 113 L770 118 L767 119 L766 122 L766 135 L767 138 L770 139Z" fill="rgb(94,96,94)"/>
<ellipse cx="782" cy="125" rx="17" ry="11" fill="url(#semR_hl)"/>
<path d="M803 141 L803 144 L805 146 L820 153 L824 153 L840 143 L842 141 L843 139 L840 129 L837 126 L812 120 L809 120 L807 123Z" fill="rgb(98,100,98)"/>
<ellipse cx="819" cy="133" rx="17" ry="13" fill="url(#semR_hl)"/>
<path d="M875 143 L877 139 L874 114 L872 111 L864 106 L860 106 L857 107 L844 124 L843 128 L846 140 L848 143 L852 145 L867 147 L870 146Z" fill="rgb(106,108,106)"/>
<ellipse cx="858" cy="124" rx="14" ry="16" fill="url(#semR_hl)"/>
<path d="M897 146 L900 145 L902 143 L912 121 L911 116 L906 109 L904 107 L902 107 L881 112 L878 113 L877 117 L880 138 L881 141 L883 142Z" fill="rgb(91,93,91)"/>
<ellipse cx="891" cy="122" rx="15" ry="15" fill="url(#semR_hl)"/>
<path d="M943 126 L940 123 L919 120 L916 121 L914 123 L905 143 L905 147 L908 149 L929 157 L932 158 L934 155 L945 135 L945 132Z" fill="rgb(91,93,91)"/>
<ellipse cx="922" cy="134" rx="17" ry="14" fill="url(#semR_hl)"/>
<path d="M983 113 L981 110 L977 109 L949 117 L946 120 L946 124 L948 131 L950 133 L977 143 L979 144 L984 140 L985 136Z" fill="rgb(106,108,106)"/>
<ellipse cx="965" cy="123" rx="17" ry="13" fill="url(#semR_hl)"/>
<path d="M988 133 L989 136 L992 137 L1014 135 L1017 133 L1021 127 L1022 119 L1021 116 L1013 106 L1009 105 L989 107 L986 109 L985 112Z" fill="rgb(106,108,106)"/>
<ellipse cx="1000" cy="118" rx="15" ry="12" fill="url(#semR_hl)"/>
<path d="M1019 135 L1019 139 L1025 157 L1029 160 L1040 160 L1053 154 L1055 152 L1056 150 L1055 140 L1054 137 L1052 136 L1027 128 L1024 128Z" fill="rgb(91,93,91)"/>
<ellipse cx="1034" cy="142" rx="16" ry="12" fill="url(#semR_hl)"/>
<path d="M1059 135 L1058 137 L1059 151 L1061 154 L1070 160 L1075 161 L1080 160 L1093 146 L1095 142 L1093 132 L1091 129 L1077 121 L1073 120 L1068 122 L1066 124Z" fill="rgb(113,115,113)"/>
<ellipse cx="1073" cy="137" rx="15" ry="16" fill="url(#semR_hl)"/>
<path d="M1117 118 L1112 118 L1098 128 L1096 133 L1097 141 L1100 144 L1117 152 L1119 152 L1122 151 L1133 140 L1134 137 L1134 129 L1131 125Z" fill="rgb(102,104,102)"/>
<ellipse cx="1112" cy="131" rx="16" ry="13" fill="url(#semR_hl)"/>
<path d="M1176 131 L1177 126 L1175 122 L1155 113 L1150 114 L1138 125 L1137 128 L1137 136 L1139 140 L1152 147 L1155 148 L1157 147Z" fill="rgb(113,115,113)"/>
<ellipse cx="1152" cy="127" rx="17" ry="13" fill="url(#semR_hl)"/>
<path d="M1181 122 L1180 125 L1181 131 L1185 133 L1188 132 L1190 129 L1190 125 L1188 122 L1185 120Z" fill="rgb(91,93,91)"/>
<ellipse cx="1184" cy="125" rx="4" ry="5" fill="url(#semR_hl)"/>
<path d="M653 176 L655 179 L658 180 L661 179 L676 161 L677 157 L675 154 L660 144 L657 144 L655 145 L653 148Z" fill="rgb(113,115,113)"/>
<ellipse cx="661" cy="157" rx="10" ry="14" fill="url(#semR_hl)"/>
<path d="M723 170 L720 166 L692 155 L689 155 L685 158 L685 161 L693 183 L695 185 L697 186 L718 187 L722 186 L723 182Z" fill="rgb(106,108,106)"/>
<ellipse cx="701" cy="169" rx="16" ry="12" fill="url(#semR_hl)"/>
<path d="M755 189 L759 187 L764 180 L765 176 L755 155 L751 152 L741 152 L737 153 L727 166 L726 169 L726 182 L727 185 L730 186Z" fill="rgb(110,112,110)"/>
<ellipse cx="742" cy="168" rx="16" ry="14" fill="url(#semR_hl)"/>
<path d="M768 142 L764 143 L759 149 L758 154 L767 174 L769 176 L771 176 L785 175 L789 172 L796 152 L796 148 L793 146Z" fill="rgb(110,112,110)"/>
<ellipse cx="774" cy="155" rx="16" ry="13" fill="url(#semR_hl)"/>
<path d="M806 149 L802 149 L799 152 L791 173 L793 178 L801 187 L804 188 L807 187 L822 177 L824 175 L824 173 L821 158 L819 155Z" fill="rgb(94,96,94)"/>
<ellipse cx="805" cy="165" rx="14" ry="15" fill="url(#semR_hl)"/>
<path d="M848 151 L847 148 L845 146 L841 146 L827 154 L825 156 L824 159 L827 173 L830 176 L838 180 L842 179 L845 176Z" fill="rgb(94,96,94)"/>
<ellipse cx="835" cy="159" rx="10" ry="13" fill="url(#semR_hl)"/>
<path d="M847 177 L848 180 L850 182 L853 182 L865 177 L867 176 L868 173 L868 153 L867 150 L864 149 L856 148 L852 149 L851 152Z" fill="rgb(113,115,113)"/>
<ellipse cx="856" cy="162" rx="9" ry="13" fill="url(#semR_hl)"/>
<path d="M871 174 L873 178 L886 184 L890 184 L892 181 L898 153 L898 150 L895 148 L881 144 L878 145 L873 148 L871 152Z" fill="rgb(102,104,102)"/>
<ellipse cx="881" cy="159" rx="12" ry="15" fill="url(#semR_hl)"/>
<path d="M895 184 L896 188 L899 189 L914 188 L918 186 L931 167 L931 163 L929 161 L907 152 L903 152 L901 155Z" fill="rgb(94,96,94)"/>
<ellipse cx="908" cy="167" rx="15" ry="14" fill="url(#semR_hl)"/>
<path d="M936 159 L935 162 L937 165 L955 175 L960 175 L977 162 L979 159 L979 150 L978 148 L976 146 L952 137 L949 137 L946 139Z" fill="rgb(106,108,106)"/>
<ellipse cx="954" cy="152" rx="18" ry="15" fill="url(#semR_hl)"/>
<path d="M989 140 L986 141 L983 145 L982 148 L982 159 L983 162 L997 173 L1001 174 L1012 172 L1015 171 L1022 163 L1023 158 L1017 141 L1015 139 L1012 138Z" fill="rgb(113,115,113)"/>
<ellipse cx="999" cy="152" rx="17" ry="14" fill="url(#semR_hl)"/>
<path d="M1037 205 L1040 204 L1046 200 L1047 195 L1039 167 L1038 164 L1035 163 L1028 163 L1024 164 L1018 171 L1017 173 L1018 176 L1032 203Z" fill="rgb(94,96,94)"/>
<ellipse cx="1031" cy="179" rx="13" ry="16" fill="url(#semR_hl)"/>
<path d="M1060 157 L1055 156 L1045 162 L1042 164 L1042 167 L1047 183 L1049 186 L1052 186 L1055 184 L1066 166 L1066 162 L1064 160Z" fill="rgb(113,115,113)"/>
<ellipse cx="1052" cy="167" rx="10" ry="11" fill="url(#semR_hl)"/>
<path d="M1083 161 L1081 165 L1084 168 L1109 180 L1113 180 L1118 177 L1120 172 L1119 158 L1116 155 L1100 147 L1097 147 L1095 148Z" fill="rgb(91,93,91)"/>
<ellipse cx="1100" cy="161" rx="16" ry="13" fill="url(#semR_hl)"/>
<path d="M1154 153 L1152 151 L1139 143 L1136 142 L1134 143 L1123 154 L1121 158 L1123 172 L1126 176 L1141 182 L1144 182 L1147 180 L1156 163 L1156 160Z" fill="rgb(106,108,106)"/>
<ellipse cx="1136" cy="158" rx="15" ry="15" fill="url(#semR_hl)"/>
<path d="M1150 180 L1150 185 L1153 187 L1181 190 L1186 188 L1189 184 L1190 175 L1188 171 L1185 168 L1162 164 L1159 164 L1157 166Z" fill="rgb(98,100,98)"/>
<ellipse cx="1167" cy="175" rx="17" ry="10" fill="url(#semR_hl)"/>
<path d="M1183 165 L1187 164 L1188 162 L1190 157 L1190 149 L1189 147 L1181 136 L1178 134 L1175 135 L1159 149 L1157 154 L1158 158 L1162 161Z" fill="rgb(102,104,102)"/>
<ellipse cx="1173" cy="148" rx="14" ry="12" fill="url(#semR_hl)"/>
<path d="M677 203 L680 203 L682 201 L690 189 L691 185 L684 166 L682 164 L679 163 L676 165 L659 186 L658 189 L659 192 L664 199 L666 200Z" fill="rgb(106,108,106)"/>
<ellipse cx="673" cy="181" rx="14" ry="15" fill="url(#semR_hl)"/>
<path d="M714 218 L718 217 L719 214 L721 195 L720 191 L717 190 L696 189 L692 191 L684 204 L683 208 L685 212 L689 215Z" fill="rgb(94,96,94)"/>
<ellipse cx="701" cy="200" rx="16" ry="11" fill="url(#semR_hl)"/>
<path d="M722 217 L723 220 L727 222 L758 217 L761 216 L762 212 L758 196 L757 193 L754 192 L729 189 L726 190 L724 193Z" fill="rgb(91,93,91)"/>
<ellipse cx="738" cy="202" rx="17" ry="12" fill="url(#semR_hl)"/>
<path d="M802 193 L801 190 L790 179 L786 178 L770 179 L767 181 L761 190 L760 193 L764 209 L766 212 L769 212 L799 210 L802 208 L803 205Z" fill="rgb(102,104,102)"/>
<ellipse cx="778" cy="192" rx="18" ry="13" fill="url(#semR_hl)"/>
<path d="M844 202 L845 199 L845 189 L845 186 L843 184 L829 179 L825 179 L807 190 L805 194 L805 206 L806 209 L809 210 L825 215 L829 214Z" fill="rgb(113,115,113)"/>
<ellipse cx="822" cy="193" rx="17" ry="14" fill="url(#semR_hl)"/>
<path d="M888 195 L889 191 L887 187 L871 180 L868 179 L851 186 L849 187 L848 190 L848 198 L850 202 L864 211 L867 212 L870 211Z" fill="rgb(98,100,98)"/>
<ellipse cx="864" cy="191" rx="17" ry="12" fill="url(#semR_hl)"/>
<path d="M918 192 L914 191 L902 192 L898 194 L898 198 L904 220 L906 222 L908 223 L925 225 L929 223 L934 214 L934 212 L933 209Z" fill="rgb(102,104,102)"/>
<ellipse cx="912" cy="205" rx="15" ry="13" fill="url(#semR_hl)"/>
<path d="M954 204 L956 202 L957 199 L956 182 L954 178 L938 169 L935 168 L932 170 L921 186 L920 189 L921 192 L935 208 L938 209 L940 209Z" fill="rgb(91,93,91)"/>
<ellipse cx="937" cy="185" rx="15" ry="16" fill="url(#semR_hl)"/>
<path d="M971 210 L975 210 L989 202 L991 199 L996 179 L995 175 L983 165 L980 164 L978 165 L961 178 L959 182 L960 200 L962 204Z" fill="rgb(98,100,98)"/>
<ellipse cx="974" cy="183" rx="16" ry="17" fill="url(#semR_hl)"/>
<path d="M1015 178 L1013 176 L1011 175 L1002 177 L999 180 L994 197 L995 200 L997 203 L1019 212 L1023 212 L1028 209 L1030 206 L1029 203Z" fill="rgb(91,93,91)"/>
<ellipse cx="1008" cy="191" rx="15" ry="14" fill="url(#semR_hl)"/>
<path d="M1054 191 L1054 194 L1055 197 L1058 198 L1070 199 L1074 198 L1075 195 L1079 170 L1078 167 L1074 164 L1071 164 L1069 166Z" fill="rgb(91,93,91)"/>
<ellipse cx="1066" cy="180" rx="11" ry="13" fill="url(#semR_hl)"/>
<path d="M1101 200 L1105 197 L1108 187 L1108 184 L1106 182 L1087 173 L1083 173 L1081 176 L1078 198 L1079 202 L1083 203Z" fill="rgb(110,112,110)"/>
<ellipse cx="1089" cy="186" rx="13" ry="11" fill="url(#semR_hl)"/>
<path d="M1124 178 L1120 179 L1114 183 L1112 185 L1107 198 L1108 202 L1116 215 L1119 217 L1122 217 L1141 209 L1143 206 L1145 190 L1145 187 L1142 185Z" fill="rgb(113,115,113)"/>
<ellipse cx="1123" cy="193" rx="16" ry="15" fill="url(#semR_hl)"/>
<path d="M1153 190 L1149 191 L1148 194 L1146 207 L1147 210 L1157 221 L1159 223 L1162 222 L1182 212 L1184 211 L1185 208 L1184 197 L1183 194 L1180 193Z" fill="rgb(113,115,113)"/>
<ellipse cx="1162" cy="201" rx="16" ry="12" fill="url(#semR_hl)"/>
<path d="M657 241 L661 242 L675 237 L678 234 L684 218 L683 214 L680 209 L678 206 L668 204 L665 204 L663 205 L654 218 L653 220 L653 236 L655 240Z" fill="rgb(110,112,110)"/>
<ellipse cx="665" cy="219" rx="13" ry="14" fill="url(#semR_hl)"/>
<path d="M694 249 L696 250 L699 249 L718 237 L720 234 L721 226 L720 223 L717 221 L690 218 L687 218 L685 221 L681 234 L682 239Z" fill="rgb(91,93,91)"/>
<ellipse cx="697" cy="229" rx="17" ry="12" fill="url(#semR_hl)"/>
<path d="M734 250 L739 252 L761 247 L764 245 L765 242 L761 224 L760 221 L756 220 L727 224 L725 226 L723 229 L723 235 L724 238Z" fill="rgb(113,115,113)"/>
<ellipse cx="741" cy="232" rx="17" ry="12" fill="url(#semR_hl)"/>
<path d="M768 215 L764 217 L764 221 L768 241 L769 244 L773 245 L792 243 L795 241 L796 239 L801 218 L800 214 L796 213Z" fill="rgb(91,93,91)"/>
<ellipse cx="779" cy="225" rx="16" ry="12" fill="url(#semR_hl)"/>
<path d="M810 213 L806 214 L804 217 L799 241 L800 245 L806 251 L809 253 L812 252 L831 239 L833 237 L832 234 L828 220 L825 218Z" fill="rgb(94,96,94)"/>
<ellipse cx="812" cy="229" rx="14" ry="15" fill="url(#semR_hl)"/>
<path d="M866 238 L869 236 L869 233 L866 217 L864 214 L850 205 L847 204 L844 205 L832 215 L831 218 L831 220 L836 235 L838 238 L849 244 L852 244Z" fill="rgb(94,96,94)"/>
<ellipse cx="847" cy="221" rx="16" ry="15" fill="url(#semR_hl)"/>
<path d="M890 234 L893 233 L900 226 L902 221 L895 200 L894 198 L891 197 L888 198 L871 214 L869 218 L872 231 L873 234 L876 235Z" fill="rgb(110,112,110)"/>
<ellipse cx="883" cy="214" rx="14" ry="15" fill="url(#semR_hl)"/>
<path d="M897 233 L895 236 L896 239 L909 261 L913 263 L916 262 L931 250 L933 248 L933 245 L928 231 L924 228 L906 226 L903 227Z" fill="rgb(91,93,91)"/>
<ellipse cx="912" cy="239" rx="16" ry="14" fill="url(#semR_hl)"/>
<path d="M931 225 L930 229 L936 245 L938 248 L950 252 L954 251 L973 234 L975 230 L972 215 L970 212 L960 206 L956 206 L939 212 L937 214Z" fill="rgb(113,115,113)"/>
<ellipse cx="949" cy="224" rx="19" ry="18" fill="url(#semR_hl)"/>
<path d="M1015 230 L1019 220 L1018 216 L1016 214 L994 204 L990 205 L977 212 L975 214 L975 216 L977 230 L980 233 L995 242 L998 243 L1000 242Z" fill="rgb(94,96,94)"/>
<ellipse cx="992" cy="219" rx="18" ry="15" fill="url(#semR_hl)"/>
<path d="M1055 246 L1058 244 L1057 240 L1040 211 L1035 208 L1024 215 L1022 217 L1019 227 L1021 232 L1040 248 L1044 249Z" fill="rgb(113,115,113)"/>
<ellipse cx="1035" cy="226" rx="16" ry="15" fill="url(#semR_hl)"/>
<path d="M1002 244 L1000 247 L1001 250 L1003 252 L1028 261 L1031 261 L1033 259 L1037 255 L1038 252 L1036 249 L1020 234 L1017 233 L1014 234Z" fill="rgb(106,108,106)"/>
<ellipse cx="1016" cy="245" rx="16" ry="10" fill="url(#semR_hl)"/>
<path d="M1076 230 L1078 227 L1079 207 L1076 203 L1074 202 L1051 201 L1048 202 L1044 205 L1043 207 L1043 210 L1059 237 L1062 239 L1065 238Z" fill="rgb(94,96,94)"/>
<ellipse cx="1060" cy="213" rx="15" ry="15" fill="url(#semR_hl)"/>
<path d="M1081 225 L1082 228 L1084 229 L1105 236 L1109 236 L1113 232 L1116 222 L1115 218 L1106 204 L1101 203 L1085 205 L1083 207 L1081 210Z" fill="rgb(98,100,98)"/>
<ellipse cx="1095" cy="216" rx="15" ry="13" fill="url(#semR_hl)"/>
<path d="M1157 228 L1156 225 L1146 213 L1144 212 L1141 212 L1121 220 L1118 223 L1116 231 L1116 234 L1118 236 L1137 247 L1141 247 L1155 239 L1157 236Z" fill="rgb(91,93,91)"/>
<ellipse cx="1134" cy="226" rx="17" ry="13" fill="url(#semR_hl)"/>
<path d="M1190 219 L1189 216 L1186 215 L1183 215 L1163 225 L1160 229 L1160 236 L1161 239 L1175 251 L1179 252 L1187 249 L1189 247 L1190 245Z" fill="rgb(102,104,102)"/>
<ellipse cx="1174" cy="230" rx="13" ry="14" fill="url(#semR_hl)"/>
<path d="M663 244 L661 245 L660 248 L660 264 L662 267 L675 278 L680 278 L691 274 L694 270 L695 256 L693 252 L680 241 L676 240Z" fill="rgb(106,108,106)"/>
<ellipse cx="674" cy="255" rx="15" ry="15" fill="url(#semR_hl)"/>
<path d="M697 270 L699 274 L708 280 L713 280 L729 271 L731 267 L733 257 L732 253 L724 242 L721 240 L718 241 L700 252 L697 256Z" fill="rgb(94,96,94)"/>
<ellipse cx="712" cy="257" rx="15" ry="15" fill="url(#semR_hl)"/>
<path d="M763 282 L765 279 L769 271 L769 269 L767 253 L765 250 L761 250 L739 255 L736 258 L734 267 L736 272 L752 284 L756 285Z" fill="rgb(113,115,113)"/>
<ellipse cx="750" cy="263" rx="15" ry="13" fill="url(#semR_hl)"/>
<path d="M798 247 L794 245 L773 248 L770 249 L770 253 L771 266 L773 268 L775 269 L801 272 L804 271 L807 268 L808 265 L808 258 L806 255Z" fill="rgb(106,108,106)"/>
<ellipse cx="786" cy="256" rx="16" ry="10" fill="url(#semR_hl)"/>
<path d="M786 298 L790 299 L796 298 L799 294 L801 280 L800 276 L797 275 L775 272 L772 273 L768 279 L768 281 L769 284Z" fill="rgb(98,100,98)"/>
<ellipse cx="783" cy="281" rx="14" ry="10" fill="url(#semR_hl)"/>
<path d="M838 241 L833 241 L812 255 L810 259 L811 263 L813 267 L827 273 L831 272 L845 264 L847 261 L848 250 L848 247 L846 246Z" fill="rgb(98,100,98)"/>
<ellipse cx="827" cy="254" rx="16" ry="12" fill="url(#semR_hl)"/>
<path d="M850 261 L851 265 L866 282 L868 284 L871 284 L880 280 L882 277 L882 274 L871 244 L868 242 L865 242 L854 246 L851 250Z" fill="rgb(110,112,110)"/>
<ellipse cx="863" cy="259" rx="14" ry="16" fill="url(#semR_hl)"/>
<path d="M877 238 L874 240 L874 244 L884 272 L887 275 L891 274 L904 266 L906 263 L905 260 L893 239 L889 237Z" fill="rgb(98,100,98)"/>
<ellipse cx="887" cy="251" rx="14" ry="14" fill="url(#semR_hl)"/>
<path d="M952 258 L950 255 L938 251 L934 252 L920 262 L919 265 L919 268 L930 290 L933 293 L937 292 L956 278 L958 276 L958 273Z" fill="rgb(113,115,113)"/>
<ellipse cx="935" cy="266" rx="17" ry="16" fill="url(#semR_hl)"/>
<path d="M997 248 L995 245 L980 237 L977 236 L974 237 L957 253 L955 255 L955 258 L961 274 L964 276 L973 281 L977 281 L991 275 L993 272 L998 253Z" fill="rgb(102,104,102)"/>
<ellipse cx="974" cy="255" rx="18" ry="17" fill="url(#semR_hl)"/>
<path d="M1005 255 L1001 256 L999 259 L996 271 L996 274 L998 276 L1009 283 L1013 283 L1027 277 L1029 274 L1030 268 L1029 265 L1027 263Z" fill="rgb(106,108,106)"/>
<ellipse cx="1010" cy="267" rx="14" ry="11" fill="url(#semR_hl)"/>
<path d="M1034 263 L1033 265 L1032 274 L1034 278 L1044 286 L1047 287 L1050 285 L1063 261 L1063 256 L1061 251 L1059 249 L1056 249 L1044 252 L1041 254Z" fill="rgb(113,115,113)"/>
<ellipse cx="1045" cy="263" rx="13" ry="14" fill="url(#semR_hl)"/>
<path d="M1064 243 L1062 245 L1062 248 L1068 258 L1084 267 L1088 268 L1097 263 L1100 260 L1104 243 L1104 240 L1101 238 L1082 232 L1078 232Z" fill="rgb(113,115,113)"/>
<ellipse cx="1081" cy="246" rx="18" ry="14" fill="url(#semR_hl)"/>
<path d="M1137 254 L1135 250 L1116 238 L1111 238 L1108 241 L1103 259 L1103 262 L1105 264 L1119 273 L1123 274 L1133 270 L1136 266Z" fill="rgb(94,96,94)"/>
<ellipse cx="1117" cy="253" rx="14" ry="14" fill="url(#semR_hl)"/>
<path d="M1170 270 L1173 267 L1174 257 L1173 253 L1160 242 L1158 241 L1155 242 L1142 250 L1140 253 L1139 266 L1140 271 L1147 276 L1152 277Z" fill="rgb(102,104,102)"/>
<ellipse cx="1153" cy="256" rx="15" ry="13" fill="url(#semR_hl)"/>
<path d="M1182 279 L1185 280 L1188 279 L1190 276 L1190 257 L1188 254 L1184 253 L1180 254 L1177 258 L1175 268 L1176 271Z" fill="rgb(110,112,110)"/>
<ellipse cx="1182" cy="264" rx="6" ry="10" fill="url(#semR_hl)"/>
<path d="M661 270 L656 269 L653 273 L653 305 L656 309 L660 309 L666 307 L668 304 L675 284 L675 282 L673 279Z" fill="rgb(98,100,98)"/>
<ellipse cx="660" cy="285" rx="9" ry="15" fill="url(#semR_hl)"/>
<path d="M697 276 L693 276 L680 281 L678 284 L672 303 L672 306 L674 308 L692 318 L695 319 L708 315 L712 311 L714 307 L710 285 L707 282Z" fill="rgb(98,100,98)"/>
<ellipse cx="690" cy="294" rx="18" ry="16" fill="url(#semR_hl)"/>
<path d="M734 274 L732 273 L729 274 L715 282 L713 284 L713 286 L716 305 L717 308 L720 309 L745 303 L748 300 L751 291 L751 288 L749 286Z" fill="rgb(106,108,106)"/>
<ellipse cx="728" cy="288" rx="16" ry="14" fill="url(#semR_hl)"/>
<path d="M751 301 L751 305 L764 322 L770 324 L772 324 L774 322 L784 305 L784 302 L783 300 L767 286 L762 285 L756 288 L754 290Z" fill="rgb(113,115,113)"/>
<ellipse cx="764" cy="300" rx="14" ry="15" fill="url(#semR_hl)"/>
<path d="M813 270 L810 270 L808 271 L805 276 L801 294 L803 299 L815 307 L818 307 L820 306 L830 296 L831 292 L828 279 L826 275Z" fill="rgb(102,104,102)"/>
<ellipse cx="814" cy="285" rx="13" ry="14" fill="url(#semR_hl)"/>
<path d="M833 274 L831 276 L831 279 L834 291 L835 293 L838 294 L857 297 L859 297 L861 295 L865 287 L864 284 L850 268 L847 267 L844 267Z" fill="rgb(98,100,98)"/>
<ellipse cx="845" cy="280" rx="14" ry="12" fill="url(#semR_hl)"/>
<path d="M863 298 L862 301 L864 312 L866 314 L880 327 L883 328 L887 327 L901 310 L902 307 L901 304 L888 283 L885 282 L882 282 L870 287 L868 289Z" fill="rgb(110,112,110)"/>
<ellipse cx="878" cy="300" rx="17" ry="18" fill="url(#semR_hl)"/>
<path d="M930 299 L930 296 L916 268 L912 266 L909 266 L892 277 L890 280 L891 283 L904 304 L908 306 L922 305 L928 301Z" fill="rgb(102,104,102)"/>
<ellipse cx="907" cy="283" rx="17" ry="15" fill="url(#semR_hl)"/>
<path d="M936 296 L934 300 L936 303 L955 315 L958 316 L960 314 L973 301 L975 297 L974 287 L972 284 L963 280 L959 280Z" fill="rgb(98,100,98)"/>
<ellipse cx="953" cy="294" rx="17" ry="14" fill="url(#semR_hl)"/>
<path d="M978 297 L979 300 L991 311 L995 312 L1007 310 L1010 309 L1011 305 L1010 289 L1008 285 L996 278 L991 277 L979 283 L977 285 L977 288Z" fill="rgb(113,115,113)"/>
<ellipse cx="992" cy="291" rx="14" ry="13" fill="url(#semR_hl)"/>
<path d="M1014 308 L1016 311 L1020 314 L1025 315 L1047 304 L1049 302 L1049 299 L1048 293 L1046 291 L1032 281 L1028 280 L1015 285 L1013 287 L1013 290Z" fill="rgb(106,108,106)"/>
<ellipse cx="1026" cy="294" rx="15" ry="13" fill="url(#semR_hl)"/>
<path d="M1052 298 L1054 300 L1058 301 L1081 292 L1084 288 L1084 274 L1082 270 L1071 263 L1067 262 L1065 265 L1051 290 L1050 293Z" fill="rgb(106,108,106)"/>
<ellipse cx="1066" cy="279" rx="14" ry="15" fill="url(#semR_hl)"/>
<path d="M1119 280 L1119 277 L1117 275 L1102 266 L1098 266 L1090 270 L1087 274 L1086 289 L1088 293 L1097 301 L1101 302 L1112 298 L1115 295Z" fill="rgb(110,112,110)"/>
<ellipse cx="1099" cy="280" rx="14" ry="14" fill="url(#semR_hl)"/>
<path d="M1148 282 L1146 279 L1139 273 L1134 272 L1124 276 L1122 279 L1118 295 L1118 297 L1120 299 L1139 313 L1142 313 L1145 312 L1149 307 L1150 304Z" fill="rgb(91,93,91)"/>
<ellipse cx="1133" cy="288" rx="13" ry="16" fill="url(#semR_hl)"/>
<path d="M1184 299 L1187 297 L1188 294 L1187 291 L1175 275 L1173 273 L1170 273 L1154 279 L1152 281 L1151 284 L1152 299 L1154 303 L1157 303Z" fill="rgb(110,112,110)"/>
<ellipse cx="1165" cy="286" rx="16" ry="12" fill="url(#semR_hl)"/>
<path d="M671 310 L667 310 L661 312 L659 315 L654 337 L656 342 L673 353 L676 353 L680 352 L683 349 L690 325 L690 322 L688 319Z" fill="rgb(91,93,91)"/>
<ellipse cx="669" cy="327" rx="15" ry="17" fill="url(#semR_hl)"/>
<path d="M711 315 L710 320 L718 344 L719 346 L722 347 L736 348 L738 347 L740 344 L740 340 L721 313 L718 312 L714 313Z" fill="rgb(91,93,91)"/>
<ellipse cx="722" cy="328" rx="13" ry="14" fill="url(#semR_hl)"/>
<path d="M750 307 L748 306 L745 306 L730 310 L727 313 L727 317 L740 336 L744 338 L747 337 L759 328 L761 325 L760 321Z" fill="rgb(113,115,113)"/>
<ellipse cx="741" cy="317" rx="14" ry="12" fill="url(#semR_hl)"/>
<path d="M784 336 L786 338 L789 338 L816 326 L818 324 L818 321 L817 313 L815 310 L801 301 L797 300 L790 302 L788 304 L777 323 L776 326 L777 329Z" fill="rgb(94,96,94)"/>
<ellipse cx="794" cy="315" rx="18" ry="14" fill="url(#semR_hl)"/>
<path d="M836 297 L832 298 L821 309 L820 313 L821 323 L823 326 L830 331 L833 330 L859 315 L861 313 L860 304 L859 301 L856 300Z" fill="rgb(91,93,91)"/>
<ellipse cx="836" cy="309" rx="17" ry="13" fill="url(#semR_hl)"/>
<path d="M866 318 L863 317 L860 317 L835 333 L833 335 L833 338 L835 345 L838 348 L860 353 L862 353 L865 351 L876 333 L877 330 L876 327Z" fill="rgb(106,108,106)"/>
<ellipse cx="852" cy="332" rx="19" ry="14" fill="url(#semR_hl)"/>
<path d="M905 345 L909 346 L923 343 L925 342 L926 338 L924 312 L922 309 L919 308 L908 309 L904 310 L891 326 L890 329 L891 332Z" fill="rgb(98,100,98)"/>
<ellipse cx="907" cy="324" rx="15" ry="15" fill="url(#semR_hl)"/>
<path d="M929 339 L930 342 L933 343 L936 343 L955 331 L957 327 L957 322 L955 318 L933 305 L931 304 L928 305 L926 309Z" fill="rgb(98,100,98)"/>
<ellipse cx="937" cy="320" rx="13" ry="15" fill="url(#semR_hl)"/>
<path d="M982 337 L984 335 L990 317 L989 312 L980 305 L977 304 L973 305 L961 318 L960 321 L960 328 L962 331 L974 339 L978 339Z" fill="rgb(113,115,113)"/>
<ellipse cx="973" cy="318" rx="13" ry="14" fill="url(#semR_hl)"/>
<path d="M1019 337 L1021 333 L1021 321 L1019 317 L1014 313 L1011 313 L996 315 L993 318 L988 332 L988 336 L991 338 L1008 343 L1012 342Z" fill="rgb(102,104,102)"/>
<ellipse cx="1003" cy="325" rx="14" ry="12" fill="url(#semR_hl)"/>
<path d="M1041 346 L1043 346 L1046 345 L1061 333 L1063 330 L1062 327 L1054 309 L1051 307 L1048 307 L1026 317 L1024 321 L1024 333 L1026 336Z" fill="rgb(91,93,91)"/>
<ellipse cx="1040" cy="323" rx="16" ry="15" fill="url(#semR_hl)"/>
<path d="M1075 333 L1079 333 L1091 327 L1094 324 L1096 307 L1095 303 L1087 296 L1082 295 L1059 303 L1057 305 L1057 309 L1066 328 L1068 330Z" fill="rgb(106,108,106)"/>
<ellipse cx="1075" cy="310" rx="17" ry="14" fill="url(#semR_hl)"/>
<path d="M1118 301 L1114 300 L1102 304 L1099 308 L1097 324 L1099 328 L1111 336 L1115 336 L1136 322 L1138 318 L1137 314Z" fill="rgb(94,96,94)"/>
<ellipse cx="1112" cy="314" rx="18" ry="13" fill="url(#semR_hl)"/>
<path d="M1146 316 L1145 318 L1146 321 L1156 335 L1159 336 L1172 338 L1174 338 L1176 336 L1189 313 L1190 306 L1188 302 L1184 301 L1154 307 L1151 309Z" fill="rgb(98,100,98)"/>
<ellipse cx="1164" cy="315" rx="19" ry="14" fill="url(#semR_hl)"/>
<path d="M1181 333 L1178 340 L1182 345 L1185 346 L1188 345 L1190 342 L1190 335 L1188 332 L1184 331Z" fill="rgb(94,96,94)"/>
<ellipse cx="1184" cy="337" rx="5" ry="6" fill="url(#semR_hl)"/>
<path d="M660 348 L657 347 L655 349 L653 352 L653 381 L655 385 L660 386 L663 383 L671 359 L671 356 L670 354Z" fill="rgb(113,115,113)"/>
<ellipse cx="659" cy="362" rx="8" ry="15" fill="url(#semR_hl)"/>
<path d="M697 321 L693 324 L686 348 L687 352 L689 354 L699 359 L704 358 L714 350 L715 348 L715 345 L708 323 L706 320 L702 320Z" fill="rgb(91,93,91)"/>
<ellipse cx="698" cy="336" rx="12" ry="15" fill="url(#semR_hl)"/>
<path d="M720 350 L717 351 L706 360 L704 362 L706 372 L710 375 L729 379 L733 378 L742 367 L743 362 L740 354 L736 351Z" fill="rgb(102,104,102)"/>
<ellipse cx="721" cy="361" rx="16" ry="11" fill="url(#semR_hl)"/>
<path d="M745 342 L742 348 L742 351 L746 361 L749 364 L760 367 L764 366 L783 351 L784 348 L784 343 L783 340 L774 329 L771 327 L767 327 L764 328Z" fill="rgb(102,104,102)"/>
<ellipse cx="760" cy="343" rx="18" ry="15" fill="url(#semR_hl)"/>
<path d="M832 350 L832 347 L829 336 L828 334 L822 329 L817 328 L790 340 L787 345 L787 348 L789 351 L800 363 L804 364 L824 360 L827 358Z" fill="rgb(102,104,102)"/>
<ellipse cx="807" cy="343" rx="19" ry="13" fill="url(#semR_hl)"/>
<path d="M837 388 L840 391 L844 392 L848 390 L865 370 L866 366 L863 359 L860 356 L838 351 L835 351 L833 353 L830 359 L829 363Z" fill="rgb(106,108,106)"/>
<ellipse cx="843" cy="365" rx="15" ry="15" fill="url(#semR_hl)"/>
<path d="M897 369 L900 366 L904 351 L902 347 L887 332 L884 331 L880 333 L866 354 L866 358 L869 366 L871 368 L882 373 L885 373Z" fill="rgb(91,93,91)"/>
<ellipse cx="882" cy="350" rx="16" ry="16" fill="url(#semR_hl)"/>
<path d="M932 348 L930 346 L926 345 L910 349 L906 352 L903 366 L904 371 L917 383 L920 384 L922 383 L939 374 L941 371 L941 368Z" fill="rgb(98,100,98)"/>
<ellipse cx="918" cy="360" rx="16" ry="15" fill="url(#semR_hl)"/>
<path d="M943 367 L946 369 L949 370 L969 362 L972 359 L974 346 L972 342 L962 334 L957 334 L938 345 L936 347 L936 350Z" fill="rgb(102,104,102)"/>
<ellipse cx="952" cy="348" rx="16" ry="14" fill="url(#semR_hl)"/>
<path d="M1009 350 L1008 347 L1006 345 L987 340 L983 340 L979 342 L977 346 L975 360 L977 363 L984 371 L988 372 L1003 369 L1006 368 L1007 365Z" fill="rgb(91,93,91)"/>
<ellipse cx="989" cy="353" rx="14" ry="12" fill="url(#semR_hl)"/>
<path d="M1017 375 L1021 375 L1041 367 L1043 365 L1044 362 L1042 352 L1040 349 L1025 339 L1023 339 L1020 340 L1013 345 L1012 348 L1010 366 L1011 371Z" fill="rgb(110,112,110)"/>
<ellipse cx="1023" cy="354" rx="14" ry="14" fill="url(#semR_hl)"/>
<path d="M1077 365 L1079 361 L1076 339 L1073 335 L1068 333 L1064 334 L1047 348 L1045 352 L1047 363 L1048 366 L1058 374 L1061 375 L1063 374Z" fill="rgb(110,112,110)"/>
<ellipse cx="1060" cy="350" rx="14" ry="16" fill="url(#semR_hl)"/>
<path d="M1103 370 L1107 369 L1112 366 L1114 362 L1112 342 L1110 338 L1096 330 L1092 330 L1082 334 L1080 336 L1079 339 L1082 360 L1085 364Z" fill="rgb(102,104,102)"/>
<ellipse cx="1094" cy="346" rx="15" ry="15" fill="url(#semR_hl)"/>
<path d="M1136 370 L1139 370 L1141 368 L1154 340 L1153 336 L1145 325 L1142 323 L1139 323 L1117 338 L1115 342 L1117 362 L1118 364 L1120 365Z" fill="rgb(110,112,110)"/>
<ellipse cx="1131" cy="342" rx="16" ry="18" fill="url(#semR_hl)"/>
<path d="M1161 340 L1158 340 L1156 342 L1145 366 L1145 369 L1147 372 L1164 379 L1169 378 L1184 366 L1186 362 L1186 356 L1185 353 L1176 343 L1173 341Z" fill="rgb(102,104,102)"/>
<ellipse cx="1162" cy="355" rx="17" ry="15" fill="url(#semR_hl)"/>
<path d="M664 388 L664 391 L666 393 L670 395 L692 393 L696 390 L704 377 L704 373 L701 364 L699 362 L685 355 L682 355 L677 356 L674 359Z" fill="rgb(102,104,102)"/>
<ellipse cx="681" cy="372" rx="17" ry="15" fill="url(#semR_hl)"/>
<path d="M732 399 L733 395 L731 385 L728 382 L710 378 L707 378 L705 380 L699 391 L699 396 L703 401 L705 402 L721 407 L726 406Z" fill="rgb(102,104,102)"/>
<ellipse cx="713" cy="389" rx="14" ry="11" fill="url(#semR_hl)"/>
<path d="M696 397 L692 395 L675 397 L672 399 L671 403 L680 430 L683 433 L687 434 L690 433 L692 431 L700 406 L700 402Z" fill="rgb(91,93,91)"/>
<ellipse cx="684" cy="408" rx="12" ry="15" fill="url(#semR_hl)"/>
<path d="M763 373 L760 370 L749 367 L744 369 L735 380 L734 384 L736 394 L739 397 L762 404 L765 404 L769 402 L772 400 L772 396Z" fill="rgb(94,96,94)"/>
<ellipse cx="750" cy="383" rx="16" ry="14" fill="url(#semR_hl)"/>
<path d="M789 355 L786 354 L783 355 L767 368 L766 370 L766 373 L773 392 L776 395 L779 395 L794 389 L797 385 L799 368 L798 365Z" fill="rgb(102,104,102)"/>
<ellipse cx="780" cy="371" rx="14" ry="15" fill="url(#semR_hl)"/>
<path d="M806 366 L803 368 L802 370 L800 385 L802 390 L816 398 L820 399 L831 392 L833 390 L834 387 L827 366 L825 364 L822 363Z" fill="rgb(91,93,91)"/>
<ellipse cx="814" cy="377" rx="14" ry="13" fill="url(#semR_hl)"/>
<path d="M872 372 L869 372 L866 373 L851 391 L850 394 L851 397 L856 405 L858 407 L861 407 L879 402 L882 401 L883 398 L882 379 L880 375Z" fill="rgb(106,108,106)"/>
<ellipse cx="865" cy="387" rx="14" ry="13" fill="url(#semR_hl)"/>
<path d="M915 392 L917 388 L915 385 L902 373 L898 372 L888 375 L886 377 L885 380 L886 399 L888 403 L892 406 L894 406 L897 405Z" fill="rgb(98,100,98)"/>
<ellipse cx="896" cy="385" rx="13" ry="13" fill="url(#semR_hl)"/>
<path d="M923 386 L921 389 L921 392 L935 416 L938 418 L942 417 L954 403 L955 399 L946 379 L943 376 L939 377Z" fill="rgb(98,100,98)"/>
<ellipse cx="936" cy="392" rx="14" ry="16" fill="url(#semR_hl)"/>
<path d="M958 398 L961 400 L976 401 L979 400 L981 398 L984 377 L982 373 L975 366 L971 365 L951 372 L948 374 L948 378Z" fill="rgb(113,115,113)"/>
<ellipse cx="965" cy="379" rx="15" ry="14" fill="url(#semR_hl)"/>
<path d="M983 400 L984 404 L988 405 L1014 405 L1017 404 L1018 400 L1017 381 L1016 377 L1009 372 L1005 371 L990 374 L988 376 L986 378Z" fill="rgb(113,115,113)"/>
<ellipse cx="998" cy="386" rx="15" ry="13" fill="url(#semR_hl)"/>
<path d="M1021 397 L1023 400 L1026 401 L1047 401 L1051 399 L1059 391 L1060 387 L1059 380 L1058 377 L1047 369 L1043 369 L1023 378 L1021 379 L1020 382Z" fill="rgb(102,104,102)"/>
<ellipse cx="1036" cy="383" rx="17" ry="12" fill="url(#semR_hl)"/>
<path d="M1062 387 L1065 390 L1088 405 L1092 405 L1095 403 L1098 400 L1103 377 L1102 374 L1100 371 L1083 366 L1079 367 L1064 377 L1062 381Z" fill="rgb(98,100,98)"/>
<ellipse cx="1081" cy="381" rx="17" ry="15" fill="url(#semR_hl)"/>
<path d="M1118 368 L1114 368 L1108 372 L1106 375 L1101 399 L1101 402 L1104 404 L1124 413 L1126 413 L1131 409 L1133 406 L1136 377 L1135 374 L1132 372Z" fill="rgb(110,112,110)"/>
<ellipse cx="1117" cy="385" rx="15" ry="17" fill="url(#semR_hl)"/>
<path d="M1145 374 L1141 374 L1138 377 L1136 403 L1137 406 L1140 408 L1166 408 L1169 406 L1170 403 L1166 385 L1164 381Z" fill="rgb(102,104,102)"/>
<ellipse cx="1149" cy="389" rx="14" ry="13" fill="url(#semR_hl)"/>
<path d="M1190 374 L1188 371 L1185 370 L1182 371 L1171 380 L1169 385 L1172 400 L1174 402 L1177 403 L1185 403 L1188 402 L1190 399Z" fill="rgb(110,112,110)"/>
<ellipse cx="1179" cy="384" rx="9" ry="13" fill="url(#semR_hl)"/>
<path d="M653 440 L654 443 L657 444 L660 444 L675 435 L677 432 L677 430 L668 402 L666 400 L663 399 L660 402 L654 413Z" fill="rgb(91,93,91)"/>
<ellipse cx="662" cy="419" rx="10" ry="17" fill="url(#semR_hl)"/>
<path d="M719 416 L720 412 L717 409 L708 406 L705 407 L702 409 L695 432 L695 435 L696 437 L700 439 L703 437Z" fill="rgb(106,108,106)"/>
<ellipse cx="704" cy="418" rx="11" ry="12" fill="url(#semR_hl)"/>
<path d="M709 433 L709 437 L711 440 L715 440 L732 434 L734 431 L734 428 L728 419 L725 417 L721 418Z" fill="rgb(102,104,102)"/>
<ellipse cx="720" cy="427" rx="11" ry="9" fill="url(#semR_hl)"/>
<path d="M728 408 L727 410 L728 413 L739 431 L744 434 L748 434 L750 432 L760 412 L760 408 L757 405 L738 400 L733 401Z" fill="rgb(94,96,94)"/>
<ellipse cx="741" cy="412" rx="14" ry="13" fill="url(#semR_hl)"/>
<path d="M752 434 L752 438 L754 440 L773 451 L778 451 L782 447 L789 432 L788 428 L774 407 L771 405 L768 406 L764 409Z" fill="rgb(110,112,110)"/>
<ellipse cx="768" cy="425" rx="15" ry="17" fill="url(#semR_hl)"/>
<path d="M778 398 L775 401 L776 405 L790 425 L793 427 L795 427 L810 423 L814 419 L816 405 L814 401 L800 392 L796 391Z" fill="rgb(102,104,102)"/>
<ellipse cx="794" cy="405" rx="17" ry="14" fill="url(#semR_hl)"/>
<path d="M856 411 L855 408 L847 396 L844 395 L838 393 L835 394 L821 401 L819 405 L816 421 L818 424 L829 435 L832 436 L849 434 L852 432 L854 429Z" fill="rgb(110,112,110)"/>
<ellipse cx="833" cy="411" rx="17" ry="16" fill="url(#semR_hl)"/>
<path d="M894 412 L892 409 L886 405 L882 404 L862 410 L860 411 L858 413 L857 425 L858 428 L861 430 L888 434 L892 432 L896 429 L897 425Z" fill="rgb(110,112,110)"/>
<ellipse cx="874" cy="417" rx="17" ry="11" fill="url(#semR_hl)"/>
<path d="M917 430 L920 429 L930 423 L932 420 L932 417 L921 397 L918 395 L914 396 L898 408 L897 413 L899 424 L903 427Z" fill="rgb(94,96,94)"/>
<ellipse cx="911" cy="411" rx="15" ry="13" fill="url(#semR_hl)"/>
<path d="M956 438 L960 440 L976 438 L978 437 L980 434 L983 409 L981 406 L978 404 L961 403 L957 405 L945 418 L943 421 L945 424Z" fill="rgb(110,112,110)"/>
<ellipse cx="962" cy="417" rx="16" ry="14" fill="url(#semR_hl)"/>
<path d="M986 441 L989 442 L1016 436 L1019 435 L1020 431 L1016 412 L1015 409 L1012 408 L989 408 L986 409 L985 412 L982 436 L984 440Z" fill="rgb(113,115,113)"/>
<ellipse cx="997" cy="421" rx="16" ry="13" fill="url(#semR_hl)"/>
<path d="M1023 404 L1020 406 L1019 409 L1022 428 L1024 431 L1027 432 L1049 428 L1052 426 L1052 423 L1050 407 L1048 405 L1045 404Z" fill="rgb(102,104,102)"/>
<ellipse cx="1033" cy="414" rx="14" ry="11" fill="url(#semR_hl)"/>
<path d="M1080 427 L1082 425 L1087 411 L1087 408 L1085 406 L1065 394 L1062 393 L1059 394 L1053 401 L1052 405 L1056 426 L1058 429 L1064 433 L1069 434Z" fill="rgb(110,112,110)"/>
<ellipse cx="1065" cy="409" rx="15" ry="15" fill="url(#semR_hl)"/>
<path d="M1125 424 L1126 419 L1123 416 L1101 406 L1097 406 L1093 408 L1090 410 L1085 424 L1085 426 L1087 429 L1105 442 L1108 443 L1111 442Z" fill="rgb(110,112,110)"/>
<ellipse cx="1101" cy="420" rx="17" ry="14" fill="url(#semR_hl)"/>
<path d="M1130 415 L1128 418 L1130 424 L1149 441 L1154 442 L1166 437 L1168 435 L1168 433 L1168 415 L1166 412 L1163 411 L1136 410 L1133 412Z" fill="rgb(98,100,98)"/>
<ellipse cx="1147" cy="421" rx="17" ry="12" fill="url(#semR_hl)"/>
<path d="M1171 409 L1170 412 L1171 433 L1174 437 L1178 439 L1182 439 L1188 436 L1190 432 L1190 410 L1188 407 L1185 406 L1175 406Z" fill="rgb(110,112,110)"/>
<ellipse cx="1179" cy="419" rx="8" ry="13" fill="url(#semR_hl)"/>
<path d="M681 435 L678 436 L661 447 L658 450 L659 453 L675 476 L677 477 L684 479 L686 477 L702 458 L703 455 L702 447 L699 443 L690 437Z" fill="rgb(98,100,98)"/>
<ellipse cx="678" cy="451" rx="19" ry="17" fill="url(#semR_hl)"/>
<path d="M745 443 L746 440 L743 437 L741 435 L737 435 L708 445 L706 447 L705 450 L706 454 L708 457 L726 466 L729 466 L731 464Z" fill="rgb(113,115,113)"/>
<ellipse cx="723" cy="447" rx="17" ry="12" fill="url(#semR_hl)"/>
<path d="M733 467 L732 470 L733 473 L736 474 L756 477 L760 476 L772 463 L773 457 L773 455 L771 453 L754 443 L751 443 L748 444Z" fill="rgb(110,112,110)"/>
<ellipse cx="750" cy="458" rx="17" ry="13" fill="url(#semR_hl)"/>
<path d="M795 430 L792 433 L786 445 L786 448 L789 451 L814 462 L817 462 L820 460 L827 441 L827 439 L826 436 L816 427 L812 426Z" fill="rgb(102,104,102)"/>
<ellipse cx="804" cy="440" rx="17" ry="14" fill="url(#semR_hl)"/>
<path d="M852 440 L850 438 L847 437 L833 439 L830 442 L823 457 L823 461 L826 463 L847 474 L850 474 L852 472 L858 463 L859 459Z" fill="rgb(94,96,94)"/>
<ellipse cx="839" cy="451" rx="15" ry="14" fill="url(#semR_hl)"/>
<path d="M859 432 L856 433 L854 435 L854 438 L861 457 L865 460 L883 462 L887 461 L888 458 L889 441 L888 438 L885 436Z" fill="rgb(110,112,110)"/>
<ellipse cx="870" cy="444" rx="15" ry="11" fill="url(#semR_hl)"/>
<path d="M891 461 L892 464 L896 465 L917 462 L920 460 L921 457 L918 436 L917 434 L914 432 L902 430 L898 431 L894 435 L892 438Z" fill="rgb(106,108,106)"/>
<ellipse cx="903" cy="444" rx="13" ry="14" fill="url(#semR_hl)"/>
<path d="M924 459 L926 462 L932 464 L944 461 L948 459 L955 444 L954 440 L941 424 L938 423 L935 423 L923 431 L921 435Z" fill="rgb(102,104,102)"/>
<ellipse cx="934" cy="440" rx="14" ry="16" fill="url(#semR_hl)"/>
<path d="M987 472 L988 469 L986 447 L984 444 L982 442 L978 441 L961 443 L957 445 L951 459 L951 464 L964 478 L967 480 L978 480 L982 478Z" fill="rgb(110,112,110)"/>
<ellipse cx="968" cy="456" rx="16" ry="15" fill="url(#semR_hl)"/>
<path d="M990 467 L992 469 L994 471 L1008 473 L1012 471 L1024 459 L1025 454 L1021 442 L1019 440 L1016 440 L992 445 L990 446 L989 450Z" fill="rgb(113,115,113)"/>
<ellipse cx="1003" cy="453" rx="15" ry="13" fill="url(#semR_hl)"/>
<path d="M1027 435 L1024 437 L1023 441 L1028 454 L1031 457 L1039 461 L1043 461 L1060 455 L1063 451 L1064 440 L1062 436 L1056 431 L1053 430Z" fill="rgb(102,104,102)"/>
<ellipse cx="1041" cy="442" rx="17" ry="12" fill="url(#semR_hl)"/>
<path d="M1107 450 L1105 446 L1085 431 L1082 430 L1080 430 L1069 437 L1067 440 L1066 453 L1067 456 L1073 464 L1078 465 L1104 459 L1106 458 L1107 455Z" fill="rgb(98,100,98)"/>
<ellipse cx="1081" cy="445" rx="17" ry="13" fill="url(#semR_hl)"/>
<path d="M1114 463 L1118 464 L1141 462 L1144 459 L1148 448 L1147 443 L1131 429 L1128 428 L1124 429 L1111 446 L1110 449 L1110 457 L1111 460Z" fill="rgb(113,115,113)"/>
<ellipse cx="1125" cy="445" rx="16" ry="14" fill="url(#semR_hl)"/>
<path d="M1186 468 L1188 465 L1187 463 L1180 445 L1178 443 L1172 439 L1168 439 L1154 445 L1151 448 L1147 460 L1147 464 L1156 478 L1160 480 L1170 480 L1172 479Z" fill="rgb(106,108,106)"/>
<ellipse cx="1163" cy="456" rx="17" ry="15" fill="url(#semR_hl)"/>
<path d="M662 461 L658 460 L655 461 L653 464 L653 475 L655 478 L658 480 L666 480 L669 478 L670 476 L669 473Z" fill="rgb(102,104,102)"/>
<ellipse cx="659" cy="469" rx="7" ry="8" fill="url(#semR_hl)"/>
<path d="M709 460 L706 460 L703 462 L694 472 L693 475 L695 478 L698 480 L726 480 L728 479 L730 476 L730 473 L727 470Z" fill="rgb(94,96,94)"/>
<ellipse cx="708" cy="470" rx="15" ry="7" fill="url(#semR_hl)"/>
<path d="M767 472 L766 475 L767 478 L771 480 L776 480 L779 478 L780 475 L780 472 L777 469 L774 467 L770 469Z" fill="rgb(102,104,102)"/>
<ellipse cx="772" cy="473" rx="6" ry="5" fill="url(#semR_hl)"/>
<path d="M787 478 L791 480 L807 480 L809 479 L811 476 L813 469 L813 466 L811 464 L785 452 L781 452 L778 453 L776 456 L776 460 L776 464Z" fill="rgb(113,115,113)"/>
<ellipse cx="791" cy="464" rx="16" ry="10" fill="url(#semR_hl)"/>
<path d="M823 465 L819 465 L817 468 L815 474 L815 478 L819 480 L833 480 L837 478 L838 474 L835 471Z" fill="rgb(94,96,94)"/>
<ellipse cx="823" cy="472" rx="10" ry="6" fill="url(#semR_hl)"/>
<path d="M855 473 L855 476 L856 478 L859 480 L886 480 L889 478 L890 475 L891 470 L890 466 L887 465 L864 463 L860 465Z" fill="rgb(113,115,113)"/>
<ellipse cx="870" cy="470" rx="15" ry="6" fill="url(#semR_hl)"/>
<path d="M893 475 L894 478 L898 480 L923 480 L926 478 L927 476 L928 470 L926 465 L921 464 L897 468 L894 469Z" fill="rgb(113,115,113)"/>
<ellipse cx="909" cy="471" rx="14" ry="6" fill="url(#semR_hl)"/>
<path d="M930 475 L931 478 L934 480 L951 480 L954 478 L956 475 L955 472 L949 466 L944 464 L934 467 L931 468Z" fill="rgb(110,112,110)"/>
<ellipse cx="940" cy="471" rx="11" ry="6" fill="url(#semR_hl)"/>
<path d="M1015 472 L1014 475 L1015 478 L1018 480 L1035 480 L1038 478 L1040 475 L1040 467 L1037 463 L1028 460 L1026 461Z" fill="rgb(98,100,98)"/>
<ellipse cx="1026" cy="469" rx="11" ry="7" fill="url(#semR_hl)"/>
<path d="M1042 475 L1044 478 L1047 480 L1068 480 L1071 478 L1073 475 L1073 469 L1072 466 L1066 459 L1064 458 L1061 458 L1045 463 L1043 465 L1042 467Z" fill="rgb(110,112,110)"/>
<ellipse cx="1055" cy="468" rx="13" ry="8" fill="url(#semR_hl)"/>
<path d="M1079 467 L1077 469 L1076 475 L1077 478 L1080 480 L1108 480 L1111 478 L1113 475 L1113 469 L1112 465 L1110 463 L1106 462Z" fill="rgb(106,108,106)"/>
<ellipse cx="1093" cy="470" rx="16" ry="7" fill="url(#semR_hl)"/>
<path d="M1116 475 L1117 478 L1120 480 L1146 480 L1148 478 L1150 476 L1149 473 L1145 466 L1141 464 L1120 467 L1117 468Z" fill="rgb(113,115,113)"/>
<ellipse cx="1130" cy="471" rx="14" ry="6" fill="url(#semR_hl)"/>
</g></g>
<text x="75.5" y="88.0" font-size="47.0" fill="#ffffff" textLength="219.5" lengthAdjust="spacingAndGlyphs">Reference</text>
<text x="666.0" y="87.0" font-size="48.0" fill="#ffffff" textLength="88.0" lengthAdjust="spacingAndGlyphs">2-Cl</text>
<text x="415.0" y="391.8" font-size="42.0" fill="#ffffff" textLength="133.0" lengthAdjust="spacingAndGlyphs">500 nm</text>
<text x="1011.0" y="395.3" font-size="42.0" fill="#ffffff" textLength="133.0" lengthAdjust="spacingAndGlyphs">500 nm</text>
<rect x="437" y="416.5" width="102" height="3" fill="#f4f4f4"/>
<rect x="1041" y="424" width="95" height="3" fill="#f4f4f4"/>
<rect x="375.0" y="440.0" width="1.6" height="10.0" fill="#e8e8e8" opacity="0.85"/><rect x="395.5" y="443.0" width="1.6" height="5.0" fill="#e8e8e8" opacity="0.85"/><rect x="416.0" y="443.0" width="1.6" height="5.0" fill="#e8e8e8" opacity="0.85"/><rect x="436.5" y="443.0" width="1.6" height="5.0" fill="#e8e8e8" opacity="0.85"/><rect x="457.0" y="443.0" width="1.6" height="5.0" fill="#e8e8e8" opacity="0.85"/><rect x="477.5" y="443.0" width="1.6" height="5.0" fill="#e8e8e8" opacity="0.85"/><rect x="498.0" y="443.0" width="1.6" height="5.0" fill="#e8e8e8" opacity="0.85"/><rect x="518.5" y="443.0" width="1.6" height="5.0" fill="#e8e8e8" opacity="0.85"/><rect x="539.0" y="443.0" width="1.6" height="5.0" fill="#e8e8e8" opacity="0.85"/><rect x="559.5" y="443.0" width="1.6" height="5.0" fill="#e8e8e8" opacity="0.85"/><rect x="580.0" y="440.0" width="1.6" height="10.0" fill="#e8e8e8" opacity="0.85"/>
<rect x="985.0" y="443.0" width="1.6" height="10.0" fill="#e8e8e8" opacity="0.85"/><rect x="1003.8" y="446.0" width="1.6" height="5.0" fill="#e8e8e8" opacity="0.85"/><rect x="1022.6" y="446.0" width="1.6" height="5.0" fill="#e8e8e8" opacity="0.85"/><rect x="1041.4" y="446.0" width="1.6" height="5.0" fill="#e8e8e8" opacity="0.85"/><rect x="1060.2" y="446.0" width="1.6" height="5.0" fill="#e8e8e8" opacity="0.85"/><rect x="1079.0" y="446.0" width="1.6" height="5.0" fill="#e8e8e8" opacity="0.85"/><rect x="1097.8" y="446.0" width="1.6" height="5.0" fill="#e8e8e8" opacity="0.85"/><rect x="1116.6" y="446.0" width="1.6" height="5.0" fill="#e8e8e8" opacity="0.85"/><rect x="1135.4" y="446.0" width="1.6" height="5.0" fill="#e8e8e8" opacity="0.85"/><rect x="1154.2" y="446.0" width="1.6" height="5.0" fill="#e8e8e8" opacity="0.85"/><rect x="1173.0" y="443.0" width="1.6" height="10.0" fill="#e8e8e8" opacity="0.85"/>
<text x="76.0" y="465.0" font-size="13.0" fill="#e0e0e0" textLength="196.0" lengthAdjust="spacingAndGlyphs" opacity="0.8">2.0kV 8.7mm x50.0k SE(UL)</text>
<text x="522.0" y="465.0" font-size="13.0" fill="#e0e0e0" textLength="50.0" lengthAdjust="spacingAndGlyphs" opacity="0.8">1.00um</text>
<text x="664.0" y="467.0" font-size="13.0" fill="#e0e0e0" textLength="206.0" lengthAdjust="spacingAndGlyphs" opacity="0.8">2.0kV 10.2mm x45.0k SE(UL)</text>
<text x="1116.0" y="467.0" font-size="13.0" fill="#e0e0e0" textLength="48.0" lengthAdjust="spacingAndGlyphs" opacity="0.8">1.00um</text>
<defs><clipPath id="afmL_clip"><rect x="64" y="538" width="520" height="487"/></clipPath>
<filter id="afmL_f" x="34" y="508" width="580" height="547" filterUnits="userSpaceOnUse" color-interpolation-filters="sRGB">
<feGaussianBlur stdDeviation="5.5"/>
<feComponentTransfer><feFuncR type="table" tableValues="0.024 0.032 0.040 0.048 0.057 0.065 0.073 0.082 0.090 0.098 0.111 0.129 0.146 0.163 0.180 0.198 0.215 0.232 0.250 0.270 0.290 0.310 0.330 0.350 0.370 0.392 0.414 0.435 0.457 0.479 0.498 0.518 0.537 0.556 0.576 0.594 0.609 0.625 0.640 0.656 0.672 0.689 0.706 0.723 0.740 0.757 0.772 0.787 0.803 0.818 0.833 0.847 0.861 0.875 0.889 0.902 0.916 0.928 0.937 0.946 0.954 0.963 0.972 0.980"/><feFuncG type="table" tableValues="0.012 0.013 0.014 0.015 0.017 0.018 0.019 0.020 0.022 0.023 0.026 0.029 0.033 0.037 0.041 0.045 0.049 0.052 0.058 0.068 0.078 0.088 0.098 0.108 0.119 0.141 0.163 0.184 0.206 0.228 0.254 0.281 0.307 0.333 0.359 0.384 0.406 0.428 0.449 0.471 0.494 0.517 0.540 0.564 0.587 0.611 0.636 0.660 0.685 0.710 0.735 0.757 0.778 0.799 0.819 0.840 0.860 0.879 0.894 0.909 0.924 0.939 0.954 0.969"/><feFuncB type="table" tableValues="0.012 0.013 0.014 0.015 0.017 0.018 0.019 0.020 0.022 0.023 0.026 0.031 0.036 0.041 0.045 0.050 0.055 0.060 0.065 0.071 0.077 0.084 0.090 0.096 0.103 0.112 0.121 0.131 0.140 0.149 0.156 0.163 0.170 0.177 0.184 0.190 0.197 0.203 0.209 0.215 0.223 0.234 0.245 0.256 0.267 0.284 0.318 0.353 0.388 0.422 0.457 0.493 0.530 0.568 0.605 0.642 0.680 0.717 0.754 0.792 0.829 0.866 0.904 0.941"/><feFuncA type="identity"/></feComponentTransfer>
</filter>
<filter id="afmL_s" x="34" y="508" width="580" height="547" filterUnits="userSpaceOnUse"><feGaussianBlur stdDeviation="10.0"/></filter>
</defs>
<g clip-path="url(#afmL_clip)"><g filter="url(#afmL_f)">
<rect x="34" y="508" width="580" height="547" fill="rgb(97,97,97)"/>
<g filter="url(#afmL_s)">
<ellipse cx="124" cy="598" rx="82" ry="20" fill="rgb(76,76,76)"/>
<ellipse cx="84" cy="658" rx="24" ry="33" fill="rgb(56,56,56)"/>
<ellipse cx="461" cy="550" rx="33" ry="24" fill="rgb(46,46,46)"/>
<ellipse cx="484" cy="568" rx="50" ry="28" fill="rgb(71,71,71)"/>
<ellipse cx="394" cy="628" rx="24" ry="29" fill="rgb(20,20,20)"/>
<ellipse cx="400" cy="666" rx="29" ry="31" fill="rgb(31,31,31)"/>
<ellipse cx="567" cy="642" rx="20" ry="33" fill="rgb(76,76,76)"/>
<ellipse cx="194" cy="684" rx="24" ry="22" fill="rgb(76,76,76)"/>
<ellipse cx="170" cy="739" rx="26" ry="31" fill="rgb(10,10,10)"/>
<ellipse cx="417" cy="735" rx="33" ry="22" fill="rgb(84,84,84)"/>
<ellipse cx="207" cy="840" rx="33" ry="28" fill="rgb(82,82,82)"/>
<ellipse cx="271" cy="874" rx="33" ry="31" fill="rgb(76,76,76)"/>
<ellipse cx="260" cy="943" rx="33" ry="28" fill="rgb(64,64,64)"/>
<ellipse cx="306" cy="985" rx="33" ry="33" fill="rgb(56,56,56)"/>
<ellipse cx="352" cy="906" rx="29" ry="29" fill="rgb(26,26,26)"/>
<ellipse cx="453" cy="906" rx="24" ry="24" fill="rgb(31,31,31)"/>
<ellipse cx="359" cy="805" rx="24" ry="22" fill="rgb(82,82,82)"/>
<ellipse cx="508" cy="828" rx="28" ry="33" fill="rgb(82,82,82)"/>
<ellipse cx="294" cy="548" rx="33" ry="16" fill="rgb(76,76,76)"/>
</g>
<ellipse cx="24" cy="489" rx="30" ry="23" transform="rotate(39 24 489)" fill="rgb(123,123,123)"/>
<ellipse cx="95" cy="473" rx="31" ry="25" transform="rotate(148 95 473)" fill="rgb(156,156,156)"/>
<ellipse cx="136" cy="504" rx="27" ry="20" transform="rotate(36 136 504)" fill="rgb(160,160,160)"/>
<ellipse cx="190" cy="477" rx="30" ry="23" transform="rotate(92 190 477)" fill="rgb(165,165,165)"/>
<ellipse cx="275" cy="493" rx="26" ry="24" transform="rotate(9 275 493)" fill="rgb(158,158,158)"/>
<ellipse cx="312" cy="490" rx="30" ry="22" transform="rotate(53 312 490)" fill="rgb(123,123,123)"/>
<ellipse cx="377" cy="482" rx="28" ry="20" transform="rotate(45 377 482)" fill="rgb(171,171,171)"/>
<ellipse cx="416" cy="499" rx="31" ry="21" transform="rotate(175 416 499)" fill="rgb(155,155,155)"/>
<ellipse cx="490" cy="490" rx="28" ry="23" transform="rotate(55 490 490)" fill="rgb(176,176,176)"/>
<ellipse cx="551" cy="491" rx="26" ry="22" transform="rotate(5 551 491)" fill="rgb(159,159,159)"/>
<ellipse cx="612" cy="479" rx="32" ry="22" transform="rotate(49 612 479)" fill="rgb(139,139,139)"/>
<ellipse cx="654" cy="489" rx="32" ry="22" transform="rotate(68 654 489)" fill="rgb(164,164,164)"/>
<ellipse cx="703" cy="492" rx="31" ry="24" transform="rotate(32 703 492)" fill="rgb(168,168,168)"/>
<ellipse cx="-1" cy="548" rx="31" ry="24" transform="rotate(161 -1 548)" fill="rgb(180,180,180)"/>
<ellipse cx="76" cy="526" rx="29" ry="21" transform="rotate(160 76 526)" fill="rgb(150,150,150)"/>
<ellipse cx="119" cy="531" rx="30" ry="24" transform="rotate(69 119 531)" fill="rgb(160,160,160)"/>
<ellipse cx="162" cy="551" rx="30" ry="23" transform="rotate(128 162 551)" fill="rgb(164,164,164)"/>
<ellipse cx="230" cy="526" rx="31" ry="22" transform="rotate(67 230 526)" fill="rgb(164,164,164)"/>
<ellipse cx="294" cy="528" rx="28" ry="25" transform="rotate(17 294 528)" fill="rgb(146,146,146)"/>
<ellipse cx="357" cy="528" rx="29" ry="25" transform="rotate(158 357 528)" fill="rgb(171,171,171)"/>
<ellipse cx="384" cy="528" rx="30" ry="24" transform="rotate(27 384 528)" fill="rgb(158,158,158)"/>
<ellipse cx="451" cy="537" rx="29" ry="26" transform="rotate(34 451 537)" fill="rgb(95,95,95)"/>
<ellipse cx="526" cy="545" rx="28" ry="24" transform="rotate(109 526 545)" fill="rgb(126,126,126)"/>
<ellipse cx="563" cy="522" rx="28" ry="23" transform="rotate(67 563 522)" fill="rgb(162,162,162)"/>
<ellipse cx="613" cy="555" rx="29" ry="23" transform="rotate(47 613 555)" fill="rgb(163,163,163)"/>
<ellipse cx="679" cy="544" rx="32" ry="22" transform="rotate(156 679 544)" fill="rgb(157,157,157)"/>
<ellipse cx="21" cy="571" rx="32" ry="21" transform="rotate(169 21 571)" fill="rgb(132,132,132)"/>
<ellipse cx="104" cy="590" rx="30" ry="24" transform="rotate(130 104 590)" fill="rgb(96,96,96)"/>
<ellipse cx="142" cy="581" rx="30" ry="21" transform="rotate(4 142 581)" fill="rgb(106,106,106)"/>
<ellipse cx="190" cy="576" rx="29" ry="25" transform="rotate(48 190 576)" fill="rgb(143,143,143)"/>
<ellipse cx="244" cy="598" rx="32" ry="25" transform="rotate(174 244 598)" fill="rgb(167,167,167)"/>
<ellipse cx="315" cy="574" rx="27" ry="21" transform="rotate(65 315 574)" fill="rgb(176,176,176)"/>
<ellipse cx="380" cy="576" rx="27" ry="20" transform="rotate(168 380 576)" fill="rgb(185,185,185)"/>
<ellipse cx="413" cy="590" rx="30" ry="23" transform="rotate(134 413 590)" fill="rgb(105,105,105)"/>
<ellipse cx="497" cy="571" rx="28" ry="23" transform="rotate(18 497 571)" fill="rgb(96,96,96)"/>
<ellipse cx="550" cy="576" rx="27" ry="22" transform="rotate(58 550 576)" fill="rgb(161,161,161)"/>
<ellipse cx="582" cy="571" rx="28" ry="22" transform="rotate(150 582 571)" fill="rgb(173,173,173)"/>
<ellipse cx="645" cy="594" rx="26" ry="20" transform="rotate(156 645 594)" fill="rgb(161,161,161)"/>
<ellipse cx="708" cy="599" rx="31" ry="26" transform="rotate(39 708 599)" fill="rgb(159,159,159)"/>
<ellipse cx="-2" cy="629" rx="27" ry="23" transform="rotate(123 -2 629)" fill="rgb(151,151,151)"/>
<ellipse cx="56" cy="652" rx="27" ry="23" transform="rotate(8 56 652)" fill="rgb(115,115,115)"/>
<ellipse cx="135" cy="630" rx="32" ry="25" transform="rotate(105 135 630)" fill="rgb(170,170,170)"/>
<ellipse cx="174" cy="629" rx="32" ry="22" transform="rotate(176 174 629)" fill="rgb(175,175,175)"/>
<ellipse cx="240" cy="620" rx="27" ry="23" transform="rotate(107 240 620)" fill="rgb(178,178,178)"/>
<ellipse cx="273" cy="632" rx="30" ry="20" transform="rotate(115 273 632)" fill="rgb(154,154,154)"/>
<ellipse cx="335" cy="647" rx="30" ry="26" transform="rotate(92 335 647)" fill="rgb(152,152,152)"/>
<ellipse cx="408" cy="637" rx="27" ry="25" transform="rotate(79 408 637)" fill="rgb(105,105,105)"/>
<ellipse cx="461" cy="642" rx="28" ry="24" transform="rotate(152 461 642)" fill="rgb(160,160,160)"/>
<ellipse cx="521" cy="650" rx="30" ry="26" transform="rotate(16 521 650)" fill="rgb(187,187,187)"/>
<ellipse cx="556" cy="640" rx="29" ry="26" transform="rotate(124 556 640)" fill="rgb(100,100,100)"/>
<ellipse cx="612" cy="634" rx="26" ry="23" transform="rotate(86 612 634)" fill="rgb(168,168,168)"/>
<ellipse cx="690" cy="649" rx="30" ry="22" transform="rotate(158 690 649)" fill="rgb(146,146,146)"/>
<ellipse cx="45" cy="669" rx="26" ry="22" transform="rotate(168 45 669)" fill="rgb(147,147,147)"/>
<ellipse cx="87" cy="673" rx="28" ry="25" transform="rotate(63 87 673)" fill="rgb(107,107,107)"/>
<ellipse cx="165" cy="672" rx="26" ry="25" transform="rotate(43 165 672)" fill="rgb(141,141,141)"/>
<ellipse cx="195" cy="679" rx="31" ry="26" transform="rotate(173 195 679)" fill="rgb(99,99,99)"/>
<ellipse cx="245" cy="697" rx="32" ry="26" transform="rotate(99 245 697)" fill="rgb(117,117,117)"/>
<ellipse cx="321" cy="673" rx="31" ry="22" transform="rotate(56 321 673)" fill="rgb(174,174,174)"/>
<ellipse cx="372" cy="670" rx="26" ry="20" transform="rotate(48 372 670)" fill="rgb(118,118,118)"/>
<ellipse cx="432" cy="675" rx="31" ry="26" transform="rotate(147 432 675)" fill="rgb(126,126,126)"/>
<ellipse cx="468" cy="671" rx="30" ry="24" transform="rotate(106 468 671)" fill="rgb(150,150,150)"/>
<ellipse cx="542" cy="689" rx="26" ry="24" transform="rotate(36 542 689)" fill="rgb(153,153,153)"/>
<ellipse cx="590" cy="689" rx="29" ry="20" transform="rotate(101 590 689)" fill="rgb(171,171,171)"/>
<ellipse cx="647" cy="672" rx="26" ry="22" transform="rotate(55 647 672)" fill="rgb(162,162,162)"/>
<ellipse cx="702" cy="681" rx="31" ry="21" transform="rotate(80 702 681)" fill="rgb(168,168,168)"/>
<ellipse cx="22" cy="720" rx="32" ry="21" transform="rotate(14 22 720)" fill="rgb(133,133,133)"/>
<ellipse cx="50" cy="735" rx="27" ry="21" transform="rotate(14 50 735)" fill="rgb(203,203,203)"/>
<ellipse cx="136" cy="747" rx="27" ry="23" transform="rotate(117 136 747)" fill="rgb(147,147,147)"/>
<ellipse cx="183" cy="718" rx="27" ry="21" transform="rotate(47 183 718)" fill="rgb(119,119,119)"/>
<ellipse cx="242" cy="739" rx="29" ry="25" transform="rotate(129 242 739)" fill="rgb(197,197,197)"/>
<ellipse cx="276" cy="732" rx="26" ry="21" transform="rotate(78 276 732)" fill="rgb(178,178,178)"/>
<ellipse cx="329" cy="743" rx="30" ry="21" transform="rotate(46 329 743)" fill="rgb(193,193,193)"/>
<ellipse cx="407" cy="743" rx="30" ry="23" transform="rotate(162 407 743)" fill="rgb(107,107,107)"/>
<ellipse cx="465" cy="725" rx="27" ry="23" transform="rotate(102 465 725)" fill="rgb(150,150,150)"/>
<ellipse cx="522" cy="724" rx="32" ry="23" transform="rotate(137 522 724)" fill="rgb(102,102,102)"/>
<ellipse cx="556" cy="729" rx="27" ry="24" transform="rotate(55 556 729)" fill="rgb(158,158,158)"/>
<ellipse cx="624" cy="726" rx="27" ry="20" transform="rotate(154 624 726)" fill="rgb(148,148,148)"/>
<ellipse cx="684" cy="736" rx="31" ry="22" transform="rotate(75 684 736)" fill="rgb(140,140,140)"/>
<ellipse cx="27" cy="786" rx="30" ry="25" transform="rotate(140 27 786)" fill="rgb(167,167,167)"/>
<ellipse cx="87" cy="789" rx="28" ry="24" transform="rotate(23 87 789)" fill="rgb(179,179,179)"/>
<ellipse cx="141" cy="792" rx="27" ry="23" transform="rotate(98 141 792)" fill="rgb(160,160,160)"/>
<ellipse cx="201" cy="783" rx="28" ry="24" transform="rotate(87 201 783)" fill="rgb(176,176,176)"/>
<ellipse cx="266" cy="782" rx="27" ry="22" transform="rotate(152 266 782)" fill="rgb(166,166,166)"/>
<ellipse cx="308" cy="798" rx="32" ry="25" transform="rotate(39 308 798)" fill="rgb(151,151,151)"/>
<ellipse cx="358" cy="776" rx="30" ry="22" transform="rotate(172 358 776)" fill="rgb(162,162,162)"/>
<ellipse cx="430" cy="766" rx="31" ry="24" transform="rotate(38 430 766)" fill="rgb(170,170,170)"/>
<ellipse cx="472" cy="792" rx="28" ry="21" transform="rotate(9 472 792)" fill="rgb(161,161,161)"/>
<ellipse cx="550" cy="786" rx="30" ry="22" transform="rotate(152 550 786)" fill="rgb(185,185,185)"/>
<ellipse cx="610" cy="790" rx="31" ry="20" transform="rotate(47 610 790)" fill="rgb(166,166,166)"/>
<ellipse cx="645" cy="786" rx="29" ry="22" transform="rotate(71 645 786)" fill="rgb(167,167,167)"/>
<ellipse cx="703" cy="790" rx="30" ry="24" transform="rotate(70 703 790)" fill="rgb(144,144,144)"/>
<ellipse cx="4" cy="819" rx="29" ry="24" transform="rotate(165 4 819)" fill="rgb(147,147,147)"/>
<ellipse cx="77" cy="837" rx="29" ry="22" transform="rotate(164 77 837)" fill="rgb(142,142,142)"/>
<ellipse cx="128" cy="832" rx="31" ry="21" transform="rotate(79 128 832)" fill="rgb(196,196,196)"/>
<ellipse cx="186" cy="829" rx="27" ry="25" transform="rotate(97 186 829)" fill="rgb(124,124,124)"/>
<ellipse cx="234" cy="816" rx="28" ry="21" transform="rotate(121 234 816)" fill="rgb(157,157,157)"/>
<ellipse cx="290" cy="841" rx="26" ry="22" transform="rotate(138 290 841)" fill="rgb(124,124,124)"/>
<ellipse cx="351" cy="841" rx="29" ry="25" transform="rotate(103 351 841)" fill="rgb(139,139,139)"/>
<ellipse cx="400" cy="843" rx="32" ry="24" transform="rotate(102 400 843)" fill="rgb(160,160,160)"/>
<ellipse cx="443" cy="843" rx="30" ry="22" transform="rotate(21 443 843)" fill="rgb(192,192,192)"/>
<ellipse cx="508" cy="817" rx="27" ry="22" transform="rotate(114 508 817)" fill="rgb(119,119,119)"/>
<ellipse cx="572" cy="829" rx="30" ry="25" transform="rotate(17 572 829)" fill="rgb(196,196,196)"/>
<ellipse cx="622" cy="842" rx="26" ry="23" transform="rotate(14 622 842)" fill="rgb(163,163,163)"/>
<ellipse cx="668" cy="834" rx="26" ry="22" transform="rotate(137 668 834)" fill="rgb(171,171,171)"/>
<ellipse cx="33" cy="880" rx="31" ry="21" transform="rotate(52 33 880)" fill="rgb(160,160,160)"/>
<ellipse cx="92" cy="867" rx="26" ry="23" transform="rotate(105 92 867)" fill="rgb(183,183,183)"/>
<ellipse cx="148" cy="891" rx="26" ry="25" transform="rotate(103 148 891)" fill="rgb(223,223,223)"/>
<ellipse cx="193" cy="863" rx="26" ry="25" transform="rotate(50 193 863)" fill="rgb(136,136,136)"/>
<ellipse cx="245" cy="878" rx="29" ry="25" transform="rotate(108 245 878)" fill="rgb(118,118,118)"/>
<ellipse cx="332" cy="864" rx="27" ry="24" transform="rotate(104 332 864)" fill="rgb(152,152,152)"/>
<ellipse cx="388" cy="880" rx="30" ry="23" transform="rotate(61 388 880)" fill="rgb(166,166,166)"/>
<ellipse cx="415" cy="876" rx="26" ry="23" transform="rotate(82 415 876)" fill="rgb(178,178,178)"/>
<ellipse cx="474" cy="886" rx="30" ry="24" transform="rotate(23 474 886)" fill="rgb(126,126,126)"/>
<ellipse cx="541" cy="872" rx="26" ry="24" transform="rotate(15 541 872)" fill="rgb(182,182,182)"/>
<ellipse cx="588" cy="891" rx="29" ry="23" transform="rotate(6 588 891)" fill="rgb(153,153,153)"/>
<ellipse cx="661" cy="877" rx="27" ry="24" transform="rotate(40 661 877)" fill="rgb(150,150,150)"/>
<ellipse cx="705" cy="887" rx="28" ry="22" transform="rotate(85 705 887)" fill="rgb(142,142,142)"/>
<ellipse cx="24" cy="914" rx="30" ry="24" transform="rotate(48 24 914)" fill="rgb(141,141,141)"/>
<ellipse cx="53" cy="923" rx="27" ry="22" transform="rotate(109 53 923)" fill="rgb(162,162,162)"/>
<ellipse cx="120" cy="913" rx="28" ry="21" transform="rotate(107 120 913)" fill="rgb(198,198,198)"/>
<ellipse cx="161" cy="918" rx="29" ry="24" transform="rotate(112 161 918)" fill="rgb(225,225,225)"/>
<ellipse cx="228" cy="936" rx="28" ry="25" transform="rotate(16 228 936)" fill="rgb(125,125,125)"/>
<ellipse cx="292" cy="912" rx="29" ry="24" transform="rotate(71 292 912)" fill="rgb(118,118,118)"/>
<ellipse cx="329" cy="926" rx="30" ry="20" transform="rotate(156 329 926)" fill="rgb(112,112,112)"/>
<ellipse cx="413" cy="942" rx="28" ry="23" transform="rotate(95 413 942)" fill="rgb(136,136,136)"/>
<ellipse cx="451" cy="941" rx="26" ry="22" transform="rotate(73 451 941)" fill="rgb(179,179,179)"/>
<ellipse cx="526" cy="925" rx="31" ry="23" transform="rotate(2 526 925)" fill="rgb(183,183,183)"/>
<ellipse cx="576" cy="923" rx="28" ry="21" transform="rotate(114 576 923)" fill="rgb(172,172,172)"/>
<ellipse cx="612" cy="930" rx="28" ry="22" transform="rotate(94 612 930)" fill="rgb(172,172,172)"/>
<ellipse cx="666" cy="933" rx="28" ry="25" transform="rotate(86 666 933)" fill="rgb(191,191,191)"/>
<ellipse cx="46" cy="990" rx="29" ry="25" transform="rotate(156 46 990)" fill="rgb(158,158,158)"/>
<ellipse cx="90" cy="964" rx="32" ry="24" transform="rotate(122 90 964)" fill="rgb(169,169,169)"/>
<ellipse cx="162" cy="989" rx="27" ry="24" transform="rotate(114 162 989)" fill="rgb(194,194,194)"/>
<ellipse cx="220" cy="980" rx="28" ry="25" transform="rotate(39 220 980)" fill="rgb(155,155,155)"/>
<ellipse cx="266" cy="972" rx="32" ry="20" transform="rotate(58 266 972)" fill="rgb(111,111,111)"/>
<ellipse cx="305" cy="969" rx="32" ry="24" transform="rotate(24 305 969)" fill="rgb(110,110,110)"/>
<ellipse cx="379" cy="971" rx="27" ry="25" transform="rotate(145 379 971)" fill="rgb(139,139,139)"/>
<ellipse cx="434" cy="977" rx="31" ry="25" transform="rotate(54 434 977)" fill="rgb(167,167,167)"/>
<ellipse cx="482" cy="992" rx="28" ry="20" transform="rotate(29 482 992)" fill="rgb(180,180,180)"/>
<ellipse cx="529" cy="976" rx="26" ry="23" transform="rotate(31 529 976)" fill="rgb(125,125,125)"/>
<ellipse cx="585" cy="991" rx="27" ry="21" transform="rotate(48 585 991)" fill="rgb(135,135,135)"/>
<ellipse cx="652" cy="971" rx="31" ry="24" transform="rotate(133 652 971)" fill="rgb(143,143,143)"/>
<ellipse cx="697" cy="980" rx="29" ry="22" transform="rotate(32 697 980)" fill="rgb(166,166,166)"/>
<ellipse cx="5" cy="1013" rx="29" ry="24" transform="rotate(12 5 1013)" fill="rgb(132,132,132)"/>
<ellipse cx="48" cy="1022" rx="26" ry="22" transform="rotate(132 48 1022)" fill="rgb(184,184,184)"/>
<ellipse cx="123" cy="1026" rx="30" ry="21" transform="rotate(69 123 1026)" fill="rgb(166,166,166)"/>
<ellipse cx="189" cy="1039" rx="29" ry="21" transform="rotate(126 189 1039)" fill="rgb(154,154,154)"/>
<ellipse cx="247" cy="1035" rx="31" ry="20" transform="rotate(88 247 1035)" fill="rgb(156,156,156)"/>
<ellipse cx="287" cy="1026" rx="30" ry="21" transform="rotate(131 287 1026)" fill="rgb(140,140,140)"/>
<ellipse cx="341" cy="1022" rx="32" ry="20" transform="rotate(75 341 1022)" fill="rgb(140,140,140)"/>
<ellipse cx="385" cy="1035" rx="31" ry="24" transform="rotate(33 385 1035)" fill="rgb(129,129,129)"/>
<ellipse cx="447" cy="1009" rx="31" ry="23" transform="rotate(47 447 1009)" fill="rgb(141,141,141)"/>
<ellipse cx="511" cy="1033" rx="31" ry="22" transform="rotate(99 511 1033)" fill="rgb(144,144,144)"/>
<ellipse cx="566" cy="1021" rx="27" ry="25" transform="rotate(159 566 1021)" fill="rgb(163,163,163)"/>
<ellipse cx="629" cy="1014" rx="30" ry="24" transform="rotate(98 629 1014)" fill="rgb(140,140,140)"/>
<ellipse cx="664" cy="1028" rx="27" ry="23" transform="rotate(121 664 1028)" fill="rgb(152,152,152)"/>
<ellipse cx="37" cy="1086" rx="30" ry="23" transform="rotate(145 37 1086)" fill="rgb(174,174,174)"/>
<ellipse cx="89" cy="1084" rx="26" ry="24" transform="rotate(51 89 1084)" fill="rgb(171,171,171)"/>
<ellipse cx="132" cy="1058" rx="27" ry="22" transform="rotate(94 132 1058)" fill="rgb(177,177,177)"/>
<ellipse cx="207" cy="1065" rx="27" ry="24" transform="rotate(67 207 1065)" fill="rgb(170,170,170)"/>
<ellipse cx="245" cy="1061" rx="27" ry="24" transform="rotate(64 245 1061)" fill="rgb(187,187,187)"/>
<ellipse cx="312" cy="1068" rx="30" ry="24" transform="rotate(17 312 1068)" fill="rgb(174,174,174)"/>
<ellipse cx="374" cy="1087" rx="28" ry="24" transform="rotate(152 374 1087)" fill="rgb(158,158,158)"/>
<ellipse cx="423" cy="1063" rx="26" ry="24" transform="rotate(174 423 1063)" fill="rgb(186,186,186)"/>
<ellipse cx="487" cy="1057" rx="29" ry="25" transform="rotate(4 487 1057)" fill="rgb(157,157,157)"/>
<ellipse cx="536" cy="1068" rx="30" ry="23" transform="rotate(148 536 1068)" fill="rgb(153,153,153)"/>
<ellipse cx="592" cy="1059" rx="29" ry="26" transform="rotate(54 592 1059)" fill="rgb(135,135,135)"/>
<ellipse cx="654" cy="1078" rx="30" ry="26" transform="rotate(33 654 1078)" fill="rgb(163,163,163)"/>
<ellipse cx="716" cy="1089" rx="29" ry="22" transform="rotate(46 716 1089)" fill="rgb(154,154,154)"/>
<ellipse cx="224" cy="746" rx="34" ry="30" fill="rgb(194,194,194)"/>
<ellipse cx="69" cy="760" rx="19" ry="27" fill="rgb(194,194,194)"/>
<ellipse cx="122" cy="870" rx="40" ry="38" fill="rgb(194,194,194)"/>
<ellipse cx="165" cy="906" rx="36" ry="34" fill="rgb(194,194,194)"/>
<ellipse cx="224" cy="746" rx="22" ry="19" fill="rgb(219,219,219)"/>
<ellipse cx="69" cy="760" rx="12" ry="17" fill="rgb(230,230,230)"/>
<ellipse cx="122" cy="870" rx="25" ry="24" fill="rgb(219,219,219)"/>
<ellipse cx="165" cy="906" rx="23" ry="22" fill="rgb(230,230,230)"/>
</g></g>
<defs><clipPath id="afmR_clip"><rect x="656" y="539" width="514" height="486"/></clipPath>
<filter id="afmR_f" x="626" y="509" width="574" height="546" filterUnits="userSpaceOnUse" color-interpolation-filters="sRGB">
<feGaussianBlur stdDeviation="5.0"/>
<feComponentTransfer><feFuncR type="table" tableValues="0.024 0.032 0.040 0.048 0.057 0.065 0.073 0.082 0.090 0.098 0.111 0.129 0.146 0.163 0.180 0.198 0.215 0.232 0.250 0.270 0.290 0.310 0.330 0.350 0.370 0.392 0.414 0.435 0.457 0.479 0.498 0.518 0.537 0.556 0.576 0.594 0.609 0.625 0.640 0.656 0.672 0.689 0.706 0.723 0.740 0.757 0.772 0.787 0.803 0.818 0.833 0.847 0.861 0.875 0.889 0.902 0.916 0.928 0.937 0.946 0.954 0.963 0.972 0.980"/><feFuncG type="table" tableValues="0.012 0.013 0.014 0.015 0.017 0.018 0.019 0.020 0.022 0.023 0.026 0.029 0.033 0.037 0.041 0.045 0.049 0.052 0.058 0.068 0.078 0.088 0.098 0.108 0.119 0.141 0.163 0.184 0.206 0.228 0.254 0.281 0.307 0.333 0.359 0.384 0.406 0.428 0.449 0.471 0.494 0.517 0.540 0.564 0.587 0.611 0.636 0.660 0.685 0.710 0.735 0.757 0.778 0.799 0.819 0.840 0.860 0.879 0.894 0.909 0.924 0.939 0.954 0.969"/><feFuncB type="table" tableValues="0.012 0.013 0.014 0.015 0.017 0.018 0.019 0.020 0.022 0.023 0.026 0.031 0.036 0.041 0.045 0.050 0.055 0.060 0.065 0.071 0.077 0.084 0.090 0.096 0.103 0.112 0.121 0.131 0.140 0.149 0.156 0.163 0.170 0.177 0.184 0.190 0.197 0.203 0.209 0.215 0.223 0.234 0.245 0.256 0.267 0.284 0.318 0.353 0.388 0.422 0.457 0.493 0.530 0.568 0.605 0.642 0.680 0.717 0.754 0.792 0.829 0.866 0.904 0.941"/><feFuncA type="identity"/></feComponentTransfer>
</filter>
<filter id="afmR_s" x="626" y="509" width="574" height="546" filterUnits="userSpaceOnUse"><feGaussianBlur stdDeviation="10.0"/></filter>
</defs>
<g clip-path="url(#afmR_clip)"><g filter="url(#afmR_f)">
<rect x="626" y="509" width="574" height="546" fill="rgb(97,97,97)"/>
<g filter="url(#afmR_s)">
<ellipse cx="725" cy="654" rx="28" ry="31" fill="rgb(20,20,20)"/>
<ellipse cx="799" cy="723" rx="33" ry="35" fill="rgb(20,20,20)"/>
<ellipse cx="771" cy="601" rx="24" ry="22" fill="rgb(64,64,64)"/>
<ellipse cx="806" cy="689" rx="28" ry="24" fill="rgb(82,82,82)"/>
<ellipse cx="852" cy="677" rx="24" ry="24" fill="rgb(64,64,64)"/>
<ellipse cx="661" cy="608" rx="13" ry="33" fill="rgb(76,76,76)"/>
<ellipse cx="661" cy="643" rx="13" ry="22" fill="rgb(76,76,76)"/>
<ellipse cx="1051" cy="627" rx="31" ry="33" fill="rgb(71,71,71)"/>
<ellipse cx="1093" cy="668" rx="24" ry="28" fill="rgb(64,64,64)"/>
<ellipse cx="785" cy="893" rx="28" ry="31" fill="rgb(26,26,26)"/>
<ellipse cx="817" cy="858" rx="28" ry="28" fill="rgb(46,46,46)"/>
<ellipse cx="840" cy="890" rx="28" ry="24" fill="rgb(76,76,76)"/>
<ellipse cx="1040" cy="897" rx="28" ry="28" fill="rgb(76,76,76)"/>
<ellipse cx="941" cy="796" rx="22" ry="20" fill="rgb(76,76,76)"/>
</g>
<ellipse cx="625" cy="510" rx="23" ry="18" transform="rotate(3 625 510)" fill="rgb(136,136,136)"/>
<ellipse cx="671" cy="488" rx="24" ry="20" transform="rotate(125 671 488)" fill="rgb(137,137,137)"/>
<ellipse cx="724" cy="489" rx="23" ry="22" transform="rotate(33 724 489)" fill="rgb(158,158,158)"/>
<ellipse cx="781" cy="486" rx="22" ry="20" transform="rotate(43 781 486)" fill="rgb(145,145,145)"/>
<ellipse cx="835" cy="508" rx="25" ry="21" transform="rotate(60 835 508)" fill="rgb(138,138,138)"/>
<ellipse cx="858" cy="498" rx="22" ry="19" transform="rotate(58 858 498)" fill="rgb(160,160,160)"/>
<ellipse cx="909" cy="490" rx="23" ry="19" transform="rotate(175 909 490)" fill="rgb(161,161,161)"/>
<ellipse cx="966" cy="496" rx="25" ry="22" transform="rotate(83 966 496)" fill="rgb(141,141,141)"/>
<ellipse cx="1015" cy="510" rx="25" ry="18" transform="rotate(36 1015 510)" fill="rgb(163,163,163)"/>
<ellipse cx="1057" cy="488" rx="26" ry="18" transform="rotate(87 1057 488)" fill="rgb(125,125,125)"/>
<ellipse cx="1117" cy="510" rx="23" ry="21" transform="rotate(169 1117 510)" fill="rgb(150,150,150)"/>
<ellipse cx="1172" cy="508" rx="23" ry="20" transform="rotate(141 1172 508)" fill="rgb(162,162,162)"/>
<ellipse cx="1195" cy="510" rx="27" ry="20" transform="rotate(1 1195 510)" fill="rgb(159,159,159)"/>
<ellipse cx="1260" cy="508" rx="27" ry="20" transform="rotate(164 1260 508)" fill="rgb(157,157,157)"/>
<ellipse cx="605" cy="531" rx="26" ry="20" transform="rotate(140 605 531)" fill="rgb(137,137,137)"/>
<ellipse cx="664" cy="544" rx="24" ry="20" transform="rotate(94 664 544)" fill="rgb(144,144,144)"/>
<ellipse cx="712" cy="530" rx="24" ry="18" transform="rotate(150 712 530)" fill="rgb(153,153,153)"/>
<ellipse cx="741" cy="547" rx="26" ry="18" transform="rotate(23 741 547)" fill="rgb(151,151,151)"/>
<ellipse cx="786" cy="552" rx="24" ry="21" transform="rotate(164 786 552)" fill="rgb(158,158,158)"/>
<ellipse cx="837" cy="542" rx="27" ry="20" transform="rotate(172 837 542)" fill="rgb(159,159,159)"/>
<ellipse cx="894" cy="534" rx="24" ry="19" transform="rotate(147 894 534)" fill="rgb(174,174,174)"/>
<ellipse cx="935" cy="547" rx="27" ry="22" transform="rotate(1 935 547)" fill="rgb(169,169,169)"/>
<ellipse cx="1004" cy="546" rx="23" ry="19" transform="rotate(66 1004 546)" fill="rgb(141,141,141)"/>
<ellipse cx="1043" cy="545" rx="23" ry="20" transform="rotate(118 1043 545)" fill="rgb(123,123,123)"/>
<ellipse cx="1089" cy="541" rx="23" ry="22" transform="rotate(47 1089 541)" fill="rgb(179,179,179)"/>
<ellipse cx="1148" cy="533" rx="27" ry="18" transform="rotate(76 1148 533)" fill="rgb(177,177,177)"/>
<ellipse cx="1176" cy="552" rx="23" ry="17" transform="rotate(37 1176 552)" fill="rgb(183,183,183)"/>
<ellipse cx="1245" cy="538" rx="22" ry="18" transform="rotate(170 1245 538)" fill="rgb(151,151,151)"/>
<ellipse cx="641" cy="588" rx="24" ry="22" transform="rotate(129 641 588)" fill="rgb(154,154,154)"/>
<ellipse cx="693" cy="569" rx="27" ry="17" transform="rotate(57 693 569)" fill="rgb(112,112,112)"/>
<ellipse cx="739" cy="581" rx="25" ry="18" transform="rotate(16 739 581)" fill="rgb(134,134,134)"/>
<ellipse cx="775" cy="586" rx="24" ry="22" transform="rotate(46 775 586)" fill="rgb(96,96,96)"/>
<ellipse cx="827" cy="579" rx="23" ry="21" transform="rotate(143 827 579)" fill="rgb(169,169,169)"/>
<ellipse cx="866" cy="593" rx="25" ry="21" transform="rotate(17 866 593)" fill="rgb(165,165,165)"/>
<ellipse cx="929" cy="569" rx="26" ry="21" transform="rotate(50 929 569)" fill="rgb(185,185,185)"/>
<ellipse cx="965" cy="588" rx="26" ry="21" transform="rotate(97 965 588)" fill="rgb(172,172,172)"/>
<ellipse cx="1027" cy="594" rx="24" ry="18" transform="rotate(158 1027 594)" fill="rgb(146,146,146)"/>
<ellipse cx="1057" cy="592" rx="26" ry="21" transform="rotate(177 1057 592)" fill="rgb(131,131,131)"/>
<ellipse cx="1118" cy="568" rx="22" ry="18" transform="rotate(179 1118 568)" fill="rgb(196,196,196)"/>
<ellipse cx="1152" cy="572" rx="24" ry="21" transform="rotate(135 1152 572)" fill="rgb(180,180,180)"/>
<ellipse cx="1196" cy="586" rx="26" ry="17" transform="rotate(8 1196 586)" fill="rgb(147,147,147)"/>
<ellipse cx="1251" cy="586" rx="27" ry="22" transform="rotate(9 1251 586)" fill="rgb(152,152,152)"/>
<ellipse cx="596" cy="633" rx="23" ry="22" transform="rotate(71 596 633)" fill="rgb(136,136,136)"/>
<ellipse cx="662" cy="631" rx="25" ry="19" transform="rotate(95 662 631)" fill="rgb(95,95,95)"/>
<ellipse cx="790" cy="623" rx="23" ry="22" transform="rotate(28 790 623)" fill="rgb(189,189,189)"/>
<ellipse cx="837" cy="611" rx="24" ry="22" transform="rotate(27 837 611)" fill="rgb(200,200,200)"/>
<ellipse cx="902" cy="634" rx="26" ry="17" transform="rotate(99 902 634)" fill="rgb(198,198,198)"/>
<ellipse cx="943" cy="631" rx="27" ry="19" transform="rotate(89 943 631)" fill="rgb(168,168,168)"/>
<ellipse cx="1002" cy="624" rx="26" ry="22" transform="rotate(140 1002 624)" fill="rgb(172,172,172)"/>
<ellipse cx="1048" cy="617" rx="26" ry="18" transform="rotate(169 1048 617)" fill="rgb(109,109,109)"/>
<ellipse cx="1078" cy="614" rx="25" ry="21" transform="rotate(132 1078 614)" fill="rgb(115,115,115)"/>
<ellipse cx="1122" cy="610" rx="24" ry="20" transform="rotate(69 1122 610)" fill="rgb(122,122,122)"/>
<ellipse cx="1191" cy="634" rx="24" ry="21" transform="rotate(82 1191 634)" fill="rgb(158,158,158)"/>
<ellipse cx="1219" cy="629" rx="23" ry="17" transform="rotate(164 1219 629)" fill="rgb(151,151,151)"/>
<ellipse cx="640" cy="669" rx="25" ry="20" transform="rotate(121 640 669)" fill="rgb(161,161,161)"/>
<ellipse cx="680" cy="664" rx="23" ry="17" transform="rotate(134 680 664)" fill="rgb(151,151,151)"/>
<ellipse cx="783" cy="655" rx="27" ry="17" transform="rotate(158 783 655)" fill="rgb(184,184,184)"/>
<ellipse cx="811" cy="677" rx="25" ry="22" transform="rotate(133 811 677)" fill="rgb(140,140,140)"/>
<ellipse cx="860" cy="656" rx="27" ry="19" transform="rotate(51 860 656)" fill="rgb(172,172,172)"/>
<ellipse cx="907" cy="650" rx="27" ry="20" transform="rotate(49 907 650)" fill="rgb(226,226,226)"/>
<ellipse cx="957" cy="676" rx="27" ry="18" transform="rotate(117 957 676)" fill="rgb(180,180,180)"/>
<ellipse cx="1022" cy="662" rx="22" ry="21" transform="rotate(15 1022 662)" fill="rgb(155,155,155)"/>
<ellipse cx="1050" cy="674" rx="26" ry="22" transform="rotate(52 1050 674)" fill="rgb(158,158,158)"/>
<ellipse cx="1112" cy="674" rx="26" ry="18" transform="rotate(35 1112 674)" fill="rgb(145,145,145)"/>
<ellipse cx="1160" cy="652" rx="27" ry="19" transform="rotate(172 1160 652)" fill="rgb(137,137,137)"/>
<ellipse cx="1196" cy="673" rx="24" ry="19" transform="rotate(118 1196 673)" fill="rgb(181,181,181)"/>
<ellipse cx="1248" cy="654" rx="27" ry="18" transform="rotate(166 1248 654)" fill="rgb(151,151,151)"/>
<ellipse cx="605" cy="699" rx="24" ry="19" transform="rotate(39 605 699)" fill="rgb(132,132,132)"/>
<ellipse cx="650" cy="714" rx="26" ry="19" transform="rotate(160 650 714)" fill="rgb(202,202,202)"/>
<ellipse cx="703" cy="720" rx="24" ry="19" transform="rotate(105 703 720)" fill="rgb(171,171,171)"/>
<ellipse cx="740" cy="700" rx="24" ry="17" transform="rotate(102 740 700)" fill="rgb(162,162,162)"/>
<ellipse cx="811" cy="704" rx="27" ry="22" transform="rotate(62 811 704)" fill="rgb(98,98,98)"/>
<ellipse cx="856" cy="704" rx="28" ry="21" transform="rotate(141 856 704)" fill="rgb(130,130,130)"/>
<ellipse cx="893" cy="717" rx="27" ry="20" transform="rotate(85 893 717)" fill="rgb(193,193,193)"/>
<ellipse cx="939" cy="707" rx="26" ry="21" transform="rotate(74 939 707)" fill="rgb(205,205,205)"/>
<ellipse cx="994" cy="693" rx="26" ry="19" transform="rotate(123 994 693)" fill="rgb(166,166,166)"/>
<ellipse cx="1028" cy="698" rx="25" ry="20" transform="rotate(134 1028 698)" fill="rgb(186,186,186)"/>
<ellipse cx="1074" cy="711" rx="25" ry="17" transform="rotate(23 1074 711)" fill="rgb(155,155,155)"/>
<ellipse cx="1138" cy="701" rx="27" ry="18" transform="rotate(144 1138 701)" fill="rgb(200,200,200)"/>
<ellipse cx="1182" cy="693" rx="26" ry="17" transform="rotate(73 1182 693)" fill="rgb(164,164,164)"/>
<ellipse cx="1229" cy="716" rx="23" ry="18" transform="rotate(71 1229 716)" fill="rgb(145,145,145)"/>
<ellipse cx="619" cy="752" rx="22" ry="18" transform="rotate(107 619 752)" fill="rgb(188,188,188)"/>
<ellipse cx="686" cy="740" rx="23" ry="19" transform="rotate(44 686 740)" fill="rgb(181,181,181)"/>
<ellipse cx="722" cy="739" rx="23" ry="20" transform="rotate(34 722 739)" fill="rgb(155,155,155)"/>
<ellipse cx="778" cy="744" rx="26" ry="18" transform="rotate(103 778 744)" fill="rgb(120,120,120)"/>
<ellipse cx="813" cy="742" rx="22" ry="21" transform="rotate(46 813 742)" fill="rgb(107,107,107)"/>
<ellipse cx="865" cy="762" rx="23" ry="20" transform="rotate(67 865 762)" fill="rgb(151,151,151)"/>
<ellipse cx="923" cy="747" rx="24" ry="18" transform="rotate(47 923 747)" fill="rgb(165,165,165)"/>
<ellipse cx="968" cy="750" rx="28" ry="19" transform="rotate(160 968 750)" fill="rgb(163,163,163)"/>
<ellipse cx="1030" cy="744" rx="27" ry="20" transform="rotate(32 1030 744)" fill="rgb(156,156,156)"/>
<ellipse cx="1051" cy="739" rx="24" ry="18" transform="rotate(117 1051 739)" fill="rgb(178,178,178)"/>
<ellipse cx="1098" cy="739" rx="25" ry="20" transform="rotate(173 1098 739)" fill="rgb(152,152,152)"/>
<ellipse cx="1163" cy="741" rx="27" ry="20" transform="rotate(111 1163 741)" fill="rgb(154,154,154)"/>
<ellipse cx="1218" cy="761" rx="25" ry="22" transform="rotate(160 1218 761)" fill="rgb(143,143,143)"/>
<ellipse cx="1245" cy="757" rx="26" ry="18" transform="rotate(43 1245 757)" fill="rgb(151,151,151)"/>
<ellipse cx="613" cy="804" rx="24" ry="22" transform="rotate(30 613 804)" fill="rgb(154,154,154)"/>
<ellipse cx="647" cy="797" rx="23" ry="21" transform="rotate(121 647 797)" fill="rgb(170,170,170)"/>
<ellipse cx="699" cy="781" rx="23" ry="22" transform="rotate(121 699 781)" fill="rgb(111,111,111)"/>
<ellipse cx="745" cy="802" rx="26" ry="17" transform="rotate(19 745 802)" fill="rgb(168,168,168)"/>
<ellipse cx="799" cy="788" rx="24" ry="21" transform="rotate(161 799 788)" fill="rgb(206,206,206)"/>
<ellipse cx="859" cy="800" rx="28" ry="22" transform="rotate(52 859 800)" fill="rgb(155,155,155)"/>
<ellipse cx="907" cy="776" rx="26" ry="19" transform="rotate(149 907 776)" fill="rgb(108,108,108)"/>
<ellipse cx="958" cy="795" rx="23" ry="20" transform="rotate(23 958 795)" fill="rgb(155,155,155)"/>
<ellipse cx="1004" cy="798" rx="23" ry="19" transform="rotate(68 1004 798)" fill="rgb(191,191,191)"/>
<ellipse cx="1051" cy="801" rx="24" ry="19" transform="rotate(4 1051 801)" fill="rgb(131,131,131)"/>
<ellipse cx="1092" cy="779" rx="25" ry="19" transform="rotate(152 1092 779)" fill="rgb(142,142,142)"/>
<ellipse cx="1141" cy="776" rx="27" ry="18" transform="rotate(9 1141 776)" fill="rgb(165,165,165)"/>
<ellipse cx="1180" cy="783" rx="27" ry="20" transform="rotate(34 1180 783)" fill="rgb(154,154,154)"/>
<ellipse cx="1226" cy="798" rx="25" ry="18" transform="rotate(99 1226 798)" fill="rgb(124,124,124)"/>
<ellipse cx="643" cy="843" rx="27" ry="19" transform="rotate(53 643 843)" fill="rgb(176,176,176)"/>
<ellipse cx="683" cy="839" rx="25" ry="18" transform="rotate(29 683 839)" fill="rgb(197,197,197)"/>
<ellipse cx="717" cy="827" rx="26" ry="20" transform="rotate(161 717 827)" fill="rgb(178,178,178)"/>
<ellipse cx="784" cy="830" rx="24" ry="22" transform="rotate(58 784 830)" fill="rgb(167,167,167)"/>
<ellipse cx="864" cy="842" rx="27" ry="18" transform="rotate(148 864 842)" fill="rgb(171,171,171)"/>
<ellipse cx="927" cy="819" rx="26" ry="21" transform="rotate(41 927 819)" fill="rgb(146,146,146)"/>
<ellipse cx="966" cy="843" rx="22" ry="19" transform="rotate(74 966 843)" fill="rgb(190,190,190)"/>
<ellipse cx="1009" cy="817" rx="23" ry="19" transform="rotate(60 1009 817)" fill="rgb(208,208,208)"/>
<ellipse cx="1055" cy="833" rx="24" ry="21" transform="rotate(94 1055 833)" fill="rgb(168,168,168)"/>
<ellipse cx="1101" cy="818" rx="26" ry="18" transform="rotate(141 1101 818)" fill="rgb(130,130,130)"/>
<ellipse cx="1150" cy="841" rx="27" ry="20" transform="rotate(145 1150 841)" fill="rgb(146,146,146)"/>
<ellipse cx="1221" cy="821" rx="23" ry="20" transform="rotate(11 1221 821)" fill="rgb(156,156,156)"/>
<ellipse cx="1258" cy="837" rx="27" ry="18" transform="rotate(137 1258 837)" fill="rgb(155,155,155)"/>
<ellipse cx="596" cy="884" rx="26" ry="20" transform="rotate(51 596 884)" fill="rgb(143,143,143)"/>
<ellipse cx="663" cy="878" rx="22" ry="22" transform="rotate(78 663 878)" fill="rgb(188,188,188)"/>
<ellipse cx="703" cy="881" rx="23" ry="21" transform="rotate(46 703 881)" fill="rgb(182,182,182)"/>
<ellipse cx="761" cy="867" rx="26" ry="22" transform="rotate(122 761 867)" fill="rgb(153,153,153)"/>
<ellipse cx="848" cy="871" rx="26" ry="21" transform="rotate(154 848 871)" fill="rgb(97,97,97)"/>
<ellipse cx="909" cy="879" rx="28" ry="19" transform="rotate(61 909 879)" fill="rgb(181,181,181)"/>
<ellipse cx="951" cy="882" rx="27" ry="18" transform="rotate(129 951 882)" fill="rgb(184,184,184)"/>
<ellipse cx="1002" cy="878" rx="26" ry="20" transform="rotate(16 1002 878)" fill="rgb(156,156,156)"/>
<ellipse cx="1054" cy="881" rx="28" ry="18" transform="rotate(177 1054 881)" fill="rgb(127,127,127)"/>
<ellipse cx="1097" cy="883" rx="27" ry="22" transform="rotate(145 1097 883)" fill="rgb(158,158,158)"/>
<ellipse cx="1123" cy="887" rx="26" ry="18" transform="rotate(69 1123 887)" fill="rgb(148,148,148)"/>
<ellipse cx="1192" cy="861" rx="22" ry="21" transform="rotate(142 1192 861)" fill="rgb(142,142,142)"/>
<ellipse cx="1238" cy="879" rx="24" ry="18" transform="rotate(175 1238 879)" fill="rgb(142,142,142)"/>
<ellipse cx="632" cy="909" rx="22" ry="19" transform="rotate(172 632 909)" fill="rgb(191,191,191)"/>
<ellipse cx="681" cy="905" rx="22" ry="19" transform="rotate(79 681 905)" fill="rgb(197,197,197)"/>
<ellipse cx="725" cy="918" rx="24" ry="19" transform="rotate(148 725 918)" fill="rgb(144,144,144)"/>
<ellipse cx="782" cy="916" rx="23" ry="21" transform="rotate(131 782 916)" fill="rgb(105,105,105)"/>
<ellipse cx="835" cy="926" rx="27" ry="21" transform="rotate(13 835 926)" fill="rgb(119,119,119)"/>
<ellipse cx="884" cy="918" rx="23" ry="21" transform="rotate(61 884 918)" fill="rgb(160,160,160)"/>
<ellipse cx="913" cy="902" rx="28" ry="19" transform="rotate(8 913 902)" fill="rgb(188,188,188)"/>
<ellipse cx="970" cy="915" rx="26" ry="19" transform="rotate(21 970 915)" fill="rgb(161,161,161)"/>
<ellipse cx="1002" cy="905" rx="26" ry="20" transform="rotate(165 1002 905)" fill="rgb(177,177,177)"/>
<ellipse cx="1077" cy="922" rx="26" ry="19" transform="rotate(122 1077 922)" fill="rgb(155,155,155)"/>
<ellipse cx="1124" cy="910" rx="24" ry="18" transform="rotate(102 1124 910)" fill="rgb(173,173,173)"/>
<ellipse cx="1158" cy="917" rx="24" ry="17" transform="rotate(164 1158 917)" fill="rgb(186,186,186)"/>
<ellipse cx="1205" cy="901" rx="28" ry="18" transform="rotate(1 1205 901)" fill="rgb(164,164,164)"/>
<ellipse cx="1255" cy="920" rx="26" ry="21" transform="rotate(73 1255 920)" fill="rgb(171,171,171)"/>
<ellipse cx="604" cy="969" rx="27" ry="22" transform="rotate(79 604 969)" fill="rgb(154,154,154)"/>
<ellipse cx="668" cy="943" rx="24" ry="22" transform="rotate(2 668 943)" fill="rgb(181,181,181)"/>
<ellipse cx="702" cy="960" rx="23" ry="21" transform="rotate(145 702 960)" fill="rgb(164,164,164)"/>
<ellipse cx="749" cy="970" rx="26" ry="22" transform="rotate(53 749 970)" fill="rgb(149,149,149)"/>
<ellipse cx="794" cy="968" rx="27" ry="18" transform="rotate(140 794 968)" fill="rgb(150,150,150)"/>
<ellipse cx="844" cy="968" rx="23" ry="18" transform="rotate(85 844 968)" fill="rgb(147,147,147)"/>
<ellipse cx="885" cy="967" rx="24" ry="20" transform="rotate(23 885 967)" fill="rgb(182,182,182)"/>
<ellipse cx="954" cy="958" rx="25" ry="18" transform="rotate(96 954 958)" fill="rgb(153,153,153)"/>
<ellipse cx="986" cy="953" rx="25" ry="20" transform="rotate(85 986 953)" fill="rgb(168,168,168)"/>
<ellipse cx="1029" cy="950" rx="22" ry="19" transform="rotate(121 1029 950)" fill="rgb(168,168,168)"/>
<ellipse cx="1088" cy="957" rx="25" ry="20" transform="rotate(124 1088 957)" fill="rgb(171,171,171)"/>
<ellipse cx="1135" cy="967" rx="27" ry="20" transform="rotate(60 1135 967)" fill="rgb(162,162,162)"/>
<ellipse cx="1176" cy="965" rx="24" ry="20" transform="rotate(62 1176 965)" fill="rgb(160,160,160)"/>
<ellipse cx="1242" cy="952" rx="26" ry="18" transform="rotate(131 1242 952)" fill="rgb(171,171,171)"/>
<ellipse cx="619" cy="1008" rx="25" ry="20" transform="rotate(126 619 1008)" fill="rgb(166,166,166)"/>
<ellipse cx="687" cy="998" rx="25" ry="21" transform="rotate(4 687 998)" fill="rgb(162,162,162)"/>
<ellipse cx="740" cy="991" rx="26" ry="22" transform="rotate(73 740 991)" fill="rgb(165,165,165)"/>
<ellipse cx="783" cy="1003" rx="25" ry="19" transform="rotate(102 783 1003)" fill="rgb(138,138,138)"/>
<ellipse cx="821" cy="1006" rx="23" ry="20" transform="rotate(133 821 1006)" fill="rgb(159,159,159)"/>
<ellipse cx="861" cy="993" rx="24" ry="20" transform="rotate(157 861 993)" fill="rgb(138,138,138)"/>
<ellipse cx="920" cy="1012" rx="27" ry="20" transform="rotate(171 920 1012)" fill="rgb(175,175,175)"/>
<ellipse cx="976" cy="986" rx="28" ry="18" transform="rotate(10 976 986)" fill="rgb(137,137,137)"/>
<ellipse cx="1020" cy="988" rx="26" ry="21" transform="rotate(28 1020 988)" fill="rgb(145,145,145)"/>
<ellipse cx="1061" cy="1012" rx="22" ry="19" transform="rotate(137 1061 1012)" fill="rgb(130,130,130)"/>
<ellipse cx="1105" cy="987" rx="27" ry="20" transform="rotate(7 1105 987)" fill="rgb(142,142,142)"/>
<ellipse cx="1172" cy="990" rx="26" ry="19" transform="rotate(176 1172 990)" fill="rgb(168,168,168)"/>
<ellipse cx="1211" cy="991" rx="25" ry="18" transform="rotate(4 1211 991)" fill="rgb(136,136,136)"/>
<ellipse cx="1269" cy="1006" rx="25" ry="20" transform="rotate(117 1269 1006)" fill="rgb(152,152,152)"/>
<ellipse cx="617" cy="1029" rx="26" ry="18" transform="rotate(61 617 1029)" fill="rgb(169,169,169)"/>
<ellipse cx="652" cy="1050" rx="24" ry="22" transform="rotate(30 652 1050)" fill="rgb(159,159,159)"/>
<ellipse cx="698" cy="1029" rx="25" ry="19" transform="rotate(59 698 1029)" fill="rgb(134,134,134)"/>
<ellipse cx="762" cy="1033" rx="27" ry="21" transform="rotate(94 762 1033)" fill="rgb(164,164,164)"/>
<ellipse cx="803" cy="1031" rx="24" ry="18" transform="rotate(99 803 1031)" fill="rgb(156,156,156)"/>
<ellipse cx="837" cy="1040" rx="22" ry="20" transform="rotate(25 837 1040)" fill="rgb(146,146,146)"/>
<ellipse cx="900" cy="1048" rx="28" ry="21" transform="rotate(132 900 1048)" fill="rgb(167,167,167)"/>
<ellipse cx="956" cy="1041" rx="27" ry="21" transform="rotate(90 956 1041)" fill="rgb(153,153,153)"/>
<ellipse cx="997" cy="1035" rx="24" ry="21" transform="rotate(15 997 1035)" fill="rgb(135,135,135)"/>
<ellipse cx="1051" cy="1036" rx="24" ry="20" transform="rotate(79 1051 1036)" fill="rgb(129,129,129)"/>
<ellipse cx="1075" cy="1032" rx="23" ry="22" transform="rotate(26 1075 1032)" fill="rgb(134,134,134)"/>
<ellipse cx="1126" cy="1044" rx="23" ry="18" transform="rotate(98 1126 1044)" fill="rgb(176,176,176)"/>
<ellipse cx="1174" cy="1039" rx="23" ry="21" transform="rotate(80 1174 1039)" fill="rgb(149,149,149)"/>
<ellipse cx="1227" cy="1049" rx="25" ry="19" transform="rotate(155 1227 1049)" fill="rgb(151,151,151)"/>
<ellipse cx="626" cy="1074" rx="25" ry="18" transform="rotate(139 626 1074)" fill="rgb(160,160,160)"/>
<ellipse cx="674" cy="1073" rx="26" ry="22" transform="rotate(173 674 1073)" fill="rgb(127,127,127)"/>
<ellipse cx="732" cy="1083" rx="26" ry="22" transform="rotate(149 732 1083)" fill="rgb(157,157,157)"/>
<ellipse cx="782" cy="1071" rx="24" ry="20" transform="rotate(78 782 1071)" fill="rgb(133,133,133)"/>
<ellipse cx="833" cy="1083" rx="27" ry="19" transform="rotate(71 833 1083)" fill="rgb(142,142,142)"/>
<ellipse cx="886" cy="1096" rx="22" ry="21" transform="rotate(33 886 1096)" fill="rgb(159,159,159)"/>
<ellipse cx="906" cy="1085" rx="25" ry="21" transform="rotate(57 906 1085)" fill="rgb(139,139,139)"/>
<ellipse cx="961" cy="1087" rx="23" ry="18" transform="rotate(81 961 1087)" fill="rgb(159,159,159)"/>
<ellipse cx="1006" cy="1084" rx="26" ry="18" transform="rotate(24 1006 1084)" fill="rgb(153,153,153)"/>
<ellipse cx="1072" cy="1084" rx="25" ry="20" transform="rotate(177 1072 1084)" fill="rgb(155,155,155)"/>
<ellipse cx="1106" cy="1089" rx="26" ry="21" transform="rotate(134 1106 1089)" fill="rgb(160,160,160)"/>
<ellipse cx="1173" cy="1075" rx="27" ry="21" transform="rotate(130 1173 1075)" fill="rgb(157,157,157)"/>
<ellipse cx="1197" cy="1079" rx="26" ry="20" transform="rotate(156 1197 1079)" fill="rgb(172,172,172)"/>
<ellipse cx="1253" cy="1079" rx="24" ry="22" transform="rotate(30 1253 1079)" fill="rgb(181,181,181)"/>
<ellipse cx="822" cy="638" rx="32" ry="32" fill="rgb(194,194,194)"/>
<ellipse cx="919" cy="670" rx="32" ry="30" fill="rgb(194,194,194)"/>
<ellipse cx="668" cy="696" rx="27" ry="30" fill="rgb(194,194,194)"/>
<ellipse cx="684" cy="888" rx="36" ry="48" fill="rgb(194,194,194)"/>
<ellipse cx="982" cy="810" rx="19" ry="19" fill="rgb(194,194,194)"/>
<ellipse cx="822" cy="638" rx="20" ry="20" fill="rgb(250,250,250)"/>
<ellipse cx="919" cy="670" rx="20" ry="19" fill="rgb(252,252,252)"/>
<ellipse cx="668" cy="696" rx="17" ry="19" fill="rgb(230,230,230)"/>
<ellipse cx="684" cy="888" rx="23" ry="30" fill="rgb(224,224,224)"/>
<ellipse cx="982" cy="810" rx="12" ry="12" fill="rgb(242,242,242)"/>
</g></g>
<defs><linearGradient id="acbL" x1="0" y1="0" x2="0" y2="1"><stop offset="0.00" stop-color="#faf6ee"/><stop offset="0.12" stop-color="#ece0b8"/><stop offset="0.28" stop-color="#c8a450"/><stop offset="0.45" stop-color="#a07034"/><stop offset="0.60" stop-color="#6e3020"/><stop offset="0.75" stop-color="#3c1010"/><stop offset="0.88" stop-color="#180606"/><stop offset="1.00" stop-color="#080303"/></linearGradient></defs><rect x="469.5" y="635.5" width="31.0" height="242.0" fill="url(#acbL)" stroke="#1e0c06" stroke-width="3"/>
<defs><linearGradient id="acbR" x1="0" y1="0" x2="0" y2="1"><stop offset="0.00" stop-color="#faf6ee"/><stop offset="0.12" stop-color="#ece0b8"/><stop offset="0.28" stop-color="#c8a450"/><stop offset="0.45" stop-color="#a07034"/><stop offset="0.60" stop-color="#6e3020"/><stop offset="0.75" stop-color="#3c1010"/><stop offset="0.88" stop-color="#180606"/><stop offset="1.00" stop-color="#080303"/></linearGradient></defs><rect x="1060.5" y="643.5" width="30.0" height="241.0" fill="url(#acbR)" stroke="#1e0c06" stroke-width="3"/>
<text x="73.0" y="580.0" font-size="45.0" fill="#ffffff" textLength="219.6" lengthAdjust="spacingAndGlyphs">Reference</text>
<text x="418.7" y="601.7" font-size="38.0" fill="#ffffff" textLength="162.3" lengthAdjust="spacingAndGlyphs">131.4 nm</text>
<text x="474.0" y="913.0" font-size="36.0" fill="#ffffff" textLength="18.0" lengthAdjust="spacingAndGlyphs">0</text>
<text x="437.0" y="984.8" font-size="39.0" fill="#ffffff" textLength="132.6" lengthAdjust="spacingAndGlyphs">400 nm</text>
<text x="67.7" y="987.0" font-size="46.0" fill="#ffffff" textLength="304.0" lengthAdjust="spacingAndGlyphs">RMS=21.2 nm</text>
<rect x="455" y="1003" width="108" height="5" fill="#fbf6ee"/>
<text x="678.5" y="583.5" font-size="48.0" fill="#ffffff" textLength="88.0" lengthAdjust="spacingAndGlyphs">2-Cl</text>
<text x="990.0" y="602.7" font-size="38.0" fill="#ffffff" textLength="162.7" lengthAdjust="spacingAndGlyphs">107.9 nm</text>
<text x="1054.5" y="923.7" font-size="36.0" fill="#ffffff" textLength="19.0" lengthAdjust="spacingAndGlyphs">0</text>
<text x="1029.4" y="988.7" font-size="39.0" fill="#ffffff" textLength="133.0" lengthAdjust="spacingAndGlyphs">400 nm</text>
<text x="676.4" y="990.5" font-size="46.0" fill="#ffffff" textLength="304.3" lengthAdjust="spacingAndGlyphs">RMS=15.6 nm</text>
<rect x="1051.5" y="1003" width="102.5" height="5" fill="#fbf6ee"/>
<defs><clipPath id="hmL_clip"><rect x="1360.0" y="38.0" width="475.0" height="383.5"/></clipPath>
<filter id="hmL_f" x="1320" y="-2" width="555" height="463" filterUnits="userSpaceOnUse" color-interpolation-filters="sRGB">
<feGaussianBlur stdDeviation="1.2"/>
<feComponentTransfer><feFuncR type="table" tableValues="0.902 0.903 0.904 0.905 0.906 0.907 0.908 0.909 0.910 0.910 0.911 0.911 0.912 0.912 0.913 0.913 0.913 0.913 0.913 0.913 0.914 0.914 0.914 0.915 0.916 0.917 0.918 0.919 0.920 0.921 0.921 0.922 0.923 0.924 0.925 0.926 0.927 0.928 0.929 0.930 0.931 0.931 0.932 0.933 0.935 0.936 0.938 0.939 0.941 0.942 0.944 0.945 0.947 0.948 0.950 0.951 0.953 0.953 0.953 0.953 0.954 0.954 0.954 0.954 0.954 0.955 0.955 0.955 0.955 0.955 0.955 0.956 0.956 0.956 0.956 0.956 0.957 0.957 0.957 0.956 0.956 0.955 0.955 0.954 0.954 0.954 0.953 0.953 0.952 0.952 0.951 0.951 0.950 0.950 0.949 0.948 0.935 0.923 0.911 0.899 0.858 0.811 0.764 0.714 0.663 0.611 0.559 0.507 0.455 0.445 0.442 0.440 0.437 0.434 0.432 0.429 0.426 0.424 0.426 0.428 0.430 0.433 0.435 0.439 0.423 0.404 0.386 0.367 0.348 0.330 0.311 0.293 0.276 0.262 0.248 0.234 0.222 0.211 0.201 0.191 0.196 0.207 0.218 0.229 0.240 0.252 0.266 0.280 0.293 0.307 0.321 0.335 0.349 0.358 0.367 0.375 0.383 0.391 0.399 0.408 0.416"/><feFuncG type="table" tableValues="0.235 0.240 0.244 0.249 0.254 0.258 0.263 0.267 0.276 0.293 0.310 0.327 0.343 0.358 0.363 0.368 0.373 0.378 0.383 0.388 0.393 0.398 0.403 0.409 0.415 0.421 0.426 0.432 0.438 0.444 0.450 0.456 0.461 0.467 0.473 0.479 0.485 0.490 0.496 0.502 0.508 0.514 0.519 0.525 0.531 0.537 0.543 0.549 0.556 0.562 0.568 0.574 0.580 0.586 0.592 0.598 0.604 0.609 0.615 0.620 0.626 0.631 0.637 0.642 0.647 0.653 0.658 0.664 0.669 0.675 0.680 0.686 0.691 0.697 0.702 0.707 0.713 0.718 0.725 0.735 0.744 0.754 0.764 0.773 0.783 0.792 0.802 0.811 0.821 0.830 0.840 0.849 0.859 0.868 0.878 0.886 0.883 0.880 0.877 0.874 0.864 0.853 0.842 0.826 0.806 0.786 0.765 0.745 0.725 0.722 0.722 0.722 0.722 0.722 0.722 0.722 0.722 0.722 0.726 0.730 0.735 0.740 0.745 0.752 0.747 0.740 0.733 0.727 0.721 0.716 0.712 0.708 0.695 0.668 0.642 0.615 0.579 0.536 0.493 0.451 0.421 0.396 0.371 0.347 0.322 0.305 0.303 0.301 0.299 0.297 0.295 0.293 0.291 0.290 0.290 0.290 0.290 0.290 0.290 0.290 0.290"/><feFuncB type="table" tableValues="0.227 0.227 0.227 0.227 0.227 0.227 0.227 0.227 0.227 0.227 0.227 0.227 0.227 0.227 0.227 0.227 0.227 0.227 0.227 0.227 0.227 0.227 0.227 0.227 0.227 0.227 0.227 0.227 0.227 0.227 0.227 0.227 0.227 0.227 0.227 0.227 0.227 0.227 0.227 0.227 0.227 0.227 0.227 0.227 0.227 0.227 0.227 0.227 0.227 0.227 0.227 0.227 0.227 0.227 0.227 0.227 0.227 0.227 0.227 0.227 0.227 0.227 0.227 0.227 0.227 0.227 0.227 0.227 0.227 0.227 0.227 0.227 0.227 0.227 0.227 0.227 0.227 0.227 0.228 0.228 0.229 0.229 0.229 0.230 0.230 0.231 0.231 0.232 0.232 0.233 0.233 0.234 0.234 0.234 0.235 0.235 0.236 0.237 0.238 0.239 0.242 0.246 0.249 0.253 0.256 0.260 0.263 0.267 0.270 0.273 0.276 0.279 0.282 0.285 0.288 0.292 0.295 0.298 0.349 0.408 0.466 0.524 0.594 0.679 0.723 0.760 0.797 0.835 0.865 0.873 0.881 0.889 0.889 0.877 0.865 0.852 0.828 0.796 0.763 0.730 0.704 0.681 0.658 0.634 0.611 0.596 0.596 0.596 0.596 0.596 0.596 0.596 0.596 0.599 0.603 0.607 0.611 0.615 0.619 0.623 0.627"/><feFuncA type="identity"/></feComponentTransfer>
</filter></defs>
<g clip-path="url(#hmL_clip)"><g filter="url(#hmL_f)">
<defs><linearGradient id="hrefbg" gradientUnits="userSpaceOnUse" x1="1340" y1="0" x2="1860" y2="0"><stop offset="0.000" stop-color="rgb(89,89,89)"/><stop offset="0.115" stop-color="rgb(87,87,87)"/><stop offset="0.212" stop-color="rgb(80,80,80)"/><stop offset="0.288" stop-color="rgb(75,75,75)"/><stop offset="0.356" stop-color="rgb(79,79,79)"/><stop offset="0.394" stop-color="rgb(89,89,89)"/><stop offset="0.615" stop-color="rgb(131,131,131)"/><stop offset="0.692" stop-color="rgb(124,124,124)"/><stop offset="0.769" stop-color="rgb(122,122,122)"/><stop offset="1.000" stop-color="rgb(121,121,121)"/></linearGradient><filter id="hb10" x="1300" y="-20" width="600" height="500" filterUnits="userSpaceOnUse"><feGaussianBlur stdDeviation="10"/></filter><filter id="hb6" x="1300" y="-20" width="600" height="500" filterUnits="userSpaceOnUse"><feGaussianBlur stdDeviation="6"/></filter><filter id="hb4" x="1300" y="-20" width="600" height="500" filterUnits="userSpaceOnUse"><feGaussianBlur stdDeviation="4"/></filter><filter id="hb2" x="1300" y="-20" width="600" height="500" filterUnits="userSpaceOnUse"><feGaussianBlur stdDeviation="2.5"/></filter></defs>
<rect x="1330" y="10" width="540" height="440" fill="url(#hrefbg)"/>
<g filter="url(#hb10)"><rect x="1450" y="95" width="105" height="280" rx="30" fill="rgb(73,73,73)"/></g>
<g filter="url(#hb6)"><rect x="1330" y="395" width="260" height="60" fill="rgb(111,111,111)"/><rect x="1665" y="398" width="200" height="60" fill="rgb(117,117,117)"/></g>
<g filter="url(#hb2)"><rect x="1330" y="30" width="240" height="12" fill="rgb(113,113,113)"/></g>
<g filter="url(#hb6)"><ellipse cx="1690" cy="388" rx="45" ry="22" fill="rgb(100,100,100)"/><ellipse cx="1652" cy="385" rx="17" ry="14" fill="rgb(55,55,55)"/></g>
<g filter="url(#hb6)"><path d="M1555 0 L1672 0 L1672 345 L1650 372 L1640 412 L1590 418 L1548 400 L1540 372 L1555 350 Z" fill="rgb(144,144,144)"/></g>
<g filter="url(#hb4)"><path d="M1577 0 L1650 0 L1650 330 L1642 350 L1630 370 L1624 404 L1598 406 L1568 394 L1556 376 L1560 364 L1576 350 Z" fill="rgb(181,181,181)"/></g>
<g filter="url(#hb4)"><rect x="1597" y="52" width="26" height="320" rx="12" fill="rgb(204,204,204)"/></g>
<g filter="url(#hb2)"><rect x="1603" y="110" width="13" height="230" rx="6" fill="rgb(210,210,210)"/></g>
</g></g>
<defs><clipPath id="hmR_clip"><rect x="1925.0" y="37.5" width="474.5" height="385.0"/></clipPath>
<filter id="hmR_f" x="1885" y="-2" width="554" height="465" filterUnits="userSpaceOnUse" color-interpolation-filters="sRGB">
<feGaussianBlur stdDeviation="1.2"/>
<feComponentTransfer><feFuncR type="table" tableValues="0.902 0.903 0.904 0.905 0.906 0.907 0.908 0.909 0.910 0.910 0.911 0.911 0.912 0.912 0.913 0.913 0.913 0.913 0.913 0.913 0.914 0.914 0.914 0.915 0.916 0.917 0.918 0.919 0.920 0.921 0.921 0.922 0.923 0.924 0.925 0.926 0.927 0.928 0.929 0.930 0.931 0.931 0.932 0.933 0.935 0.936 0.938 0.939 0.941 0.942 0.944 0.945 0.947 0.948 0.950 0.951 0.953 0.953 0.953 0.953 0.954 0.954 0.954 0.954 0.954 0.955 0.955 0.955 0.955 0.955 0.955 0.956 0.956 0.956 0.956 0.956 0.957 0.957 0.957 0.956 0.956 0.955 0.955 0.954 0.954 0.954 0.953 0.953 0.952 0.952 0.951 0.951 0.950 0.950 0.949 0.948 0.935 0.923 0.911 0.899 0.858 0.811 0.764 0.714 0.663 0.611 0.559 0.507 0.455 0.445 0.442 0.440 0.437 0.434 0.432 0.429 0.426 0.424 0.426 0.428 0.430 0.433 0.435 0.439 0.423 0.404 0.386 0.367 0.348 0.330 0.311 0.293 0.276 0.262 0.248 0.234 0.222 0.211 0.201 0.191 0.196 0.207 0.218 0.229 0.240 0.252 0.266 0.280 0.293 0.307 0.321 0.335 0.349 0.358 0.367 0.375 0.383 0.391 0.399 0.408 0.416"/><feFuncG type="table" tableValues="0.235 0.240 0.244 0.249 0.254 0.258 0.263 0.267 0.276 0.293 0.310 0.327 0.343 0.358 0.363 0.368 0.373 0.378 0.383 0.388 0.393 0.398 0.403 0.409 0.415 0.421 0.426 0.432 0.438 0.444 0.450 0.456 0.461 0.467 0.473 0.479 0.485 0.490 0.496 0.502 0.508 0.514 0.519 0.525 0.531 0.537 0.543 0.549 0.556 0.562 0.568 0.574 0.580 0.586 0.592 0.598 0.604 0.609 0.615 0.620 0.626 0.631 0.637 0.642 0.647 0.653 0.658 0.664 0.669 0.675 0.680 0.686 0.691 0.697 0.702 0.707 0.713 0.718 0.725 0.735 0.744 0.754 0.764 0.773 0.783 0.792 0.802 0.811 0.821 0.830 0.840 0.849 0.859 0.868 0.878 0.886 0.883 0.880 0.877 0.874 0.864 0.853 0.842 0.826 0.806 0.786 0.765 0.745 0.725 0.722 0.722 0.722 0.722 0.722 0.722 0.722 0.722 0.722 0.726 0.730 0.735 0.740 0.745 0.752 0.747 0.740 0.733 0.727 0.721 0.716 0.712 0.708 0.695 0.668 0.642 0.615 0.579 0.536 0.493 0.451 0.421 0.396 0.371 0.347 0.322 0.305 0.303 0.301 0.299 0.297 0.295 0.293 0.291 0.290 0.290 0.290 0.290 0.290 0.290 0.290 0.290"/><feFuncB type="table" tableValues="0.227 0.227 0.227 0.227 0.227 0.227 0.227 0.227 0.227 0.227 0.227 0.227 0.227 0.227 0.227 0.227 0.227 0.227 0.227 0.227 0.227 0.227 0.227 0.227 0.227 0.227 0.227 0.227 0.227 0.227 0.227 0.227 0.227 0.227 0.227 0.227 0.227 0.227 0.227 0.227 0.227 0.227 0.227 0.227 0.227 0.227 0.227 0.227 0.227 0.227 0.227 0.227 0.227 0.227 0.227 0.227 0.227 0.227 0.227 0.227 0.227 0.227 0.227 0.227 0.227 0.227 0.227 0.227 0.227 0.227 0.227 0.227 0.227 0.227 0.227 0.227 0.227 0.227 0.228 0.228 0.229 0.229 0.229 0.230 0.230 0.231 0.231 0.232 0.232 0.233 0.233 0.234 0.234 0.234 0.235 0.235 0.236 0.237 0.238 0.239 0.242 0.246 0.249 0.253 0.256 0.260 0.263 0.267 0.270 0.273 0.276 0.279 0.282 0.285 0.288 0.292 0.295 0.298 0.349 0.408 0.466 0.524 0.594 0.679 0.723 0.760 0.797 0.835 0.865 0.873 0.881 0.889 0.889 0.877 0.865 0.852 0.828 0.796 0.763 0.730 0.704 0.681 0.658 0.634 0.611 0.596 0.596 0.596 0.596 0.596 0.596 0.596 0.596 0.599 0.603 0.607 0.611 0.615 0.619 0.623 0.627"/><feFuncA type="identity"/></feComponentTransfer>
</filter></defs>
<g clip-path="url(#hmR_clip)"><g filter="url(#hmR_f)">
<defs><linearGradient id="hclbg" gradientUnits="userSpaceOnUse" x1="1900" y1="0" x2="2420" y2="0"><stop offset="0.000" stop-color="rgb(113,113,113)"/><stop offset="0.654" stop-color="rgb(124,124,124)"/><stop offset="0.750" stop-color="rgb(125,125,125)"/><stop offset="1.000" stop-color="rgb(122,122,122)"/></linearGradient><filter id="cb14" x="1850" y="-50" width="650" height="560" filterUnits="userSpaceOnUse"><feGaussianBlur stdDeviation="14"/></filter><filter id="cb6" x="1850" y="-50" width="650" height="560" filterUnits="userSpaceOnUse"><feGaussianBlur stdDeviation="6"/></filter><filter id="cb4" x="1850" y="-50" width="650" height="560" filterUnits="userSpaceOnUse"><feGaussianBlur stdDeviation="3.5"/></filter><filter id="cb2" x="1850" y="-50" width="650" height="560" filterUnits="userSpaceOnUse"><feGaussianBlur stdDeviation="2"/></filter></defs>
<rect x="1890" y="10" width="530" height="440" fill="url(#hclbg)"/>
<g filter="url(#cb14)"><rect x="1890" y="10" width="250" height="345" fill="rgb(75,75,75)"/></g>
<g filter="url(#cb14)"><path d="M1895 80 L2000 70 L2114 65 L2118 290 L2100 322 L2040 334 L1960 342 L1895 344 Z" fill="rgb(44,44,44)"/></g>
<g filter="url(#cb14)"><path d="M1975 115 L2108 105 L2110 290 L2095 318 L2040 326 L1985 326 Z" fill="rgb(20,20,20)"/></g>
<g filter="url(#cb6)"><path d="M2130 0 L2255 0 L2258 330 L2235 360 L2215 380 L2160 384 L2125 365 L2115 340 L2128 320 Z" fill="rgb(144,144,144)"/></g>
<g filter="url(#cb6)"><ellipse cx="2233" cy="346" rx="17" ry="13" fill="rgb(20,20,20)"/></g>
<g filter="url(#cb4)"><path d="M2146 0 L2230 0 L2230 300 L2222 330 L2212 350 L2206 372 L2168 374 L2140 360 L2128 340 L2136 325 L2146 310 Z" fill="rgb(181,181,181)"/></g>
<g filter="url(#cb2)"><rect x="2161" y="30" width="52" height="324" rx="24" fill="rgb(206,206,206)"/></g>
<g filter="url(#cb2)"><rect x="2170" y="42" width="36" height="300" rx="17" fill="rgb(249,249,249)"/></g>
</g></g>
<rect x="1358.5" y="36.5" width="478" height="386.5" fill="none" stroke="#45392c" stroke-width="3"/>
<rect x="1923.5" y="36" width="477.5" height="388" fill="none" stroke="#45392c" stroke-width="3"/>
<line x1="1358.5" y1="424.0" x2="1358.5" y2="432.0" stroke="#45392c" stroke-width="2.6"/><line x1="1517.8" y1="424.0" x2="1517.8" y2="432.0" stroke="#45392c" stroke-width="2.6"/><line x1="1677.2" y1="424.0" x2="1677.2" y2="432.0" stroke="#45392c" stroke-width="2.6"/><line x1="1836.5" y1="424.0" x2="1836.5" y2="432.0" stroke="#45392c" stroke-width="2.6"/><line x1="1438.2" y1="424.0" x2="1438.2" y2="428.0" stroke="#45392c" stroke-width="2.6"/><line x1="1597.5" y1="424.0" x2="1597.5" y2="428.0" stroke="#45392c" stroke-width="2.6"/><line x1="1756.8" y1="424.0" x2="1756.8" y2="428.0" stroke="#45392c" stroke-width="2.6"/>
<text x="1358.5" y="458.8" font-size="26.5" fill="#444444" text-anchor="middle" textLength="44.0" lengthAdjust="spacingAndGlyphs">600</text>
<text x="1517.8" y="458.8" font-size="26.5" fill="#444444" text-anchor="middle" textLength="44.0" lengthAdjust="spacingAndGlyphs">700</text>
<text x="1677.2" y="458.8" font-size="26.5" fill="#444444" text-anchor="middle" textLength="44.0" lengthAdjust="spacingAndGlyphs">800</text>
<text x="1836.5" y="458.8" font-size="26.5" fill="#444444" text-anchor="middle" textLength="44.0" lengthAdjust="spacingAndGlyphs">900</text>
<line x1="1923.5" y1="425.0" x2="1923.5" y2="433.0" stroke="#45392c" stroke-width="2.6"/><line x1="2082.7" y1="425.0" x2="2082.7" y2="433.0" stroke="#45392c" stroke-width="2.6"/><line x1="2241.8" y1="425.0" x2="2241.8" y2="433.0" stroke="#45392c" stroke-width="2.6"/><line x1="2401.0" y1="425.0" x2="2401.0" y2="433.0" stroke="#45392c" stroke-width="2.6"/><line x1="2003.1" y1="425.0" x2="2003.1" y2="429.0" stroke="#45392c" stroke-width="2.6"/><line x1="2162.2" y1="425.0" x2="2162.2" y2="429.0" stroke="#45392c" stroke-width="2.6"/><line x1="2321.4" y1="425.0" x2="2321.4" y2="429.0" stroke="#45392c" stroke-width="2.6"/>
<text x="1923.5" y="458.3" font-size="26.5" fill="#444444" text-anchor="middle" textLength="44.0" lengthAdjust="spacingAndGlyphs">600</text>
<text x="2082.7" y="458.3" font-size="26.5" fill="#444444" text-anchor="middle" textLength="44.0" lengthAdjust="spacingAndGlyphs">700</text>
<text x="2241.8" y="458.3" font-size="26.5" fill="#444444" text-anchor="middle" textLength="44.0" lengthAdjust="spacingAndGlyphs">800</text>
<text x="2401.0" y="458.3" font-size="26.5" fill="#444444" text-anchor="middle" textLength="44.0" lengthAdjust="spacingAndGlyphs">900</text>
<text x="1598.0" y="504.3" font-size="29.0" fill="#444444" text-anchor="middle" textLength="233.0" lengthAdjust="spacingAndGlyphs">Wavelength (nm)</text>
<text x="2162.0" y="505.0" font-size="29.0" fill="#444444" text-anchor="middle" textLength="234.0" lengthAdjust="spacingAndGlyphs">Wavelength (nm)</text>
<line x1="1357.0" y1="275.8" x2="1350.0" y2="275.8" stroke="#45392c" stroke-width="2.4"/><line x1="1357.0" y1="390.8" x2="1353.0" y2="390.8" stroke="#45392c" stroke-width="2.4"/><line x1="1357.0" y1="362.8" x2="1353.0" y2="362.8" stroke="#45392c" stroke-width="2.4"/><line x1="1357.0" y1="339.9" x2="1353.0" y2="339.9" stroke="#45392c" stroke-width="2.4"/><line x1="1357.0" y1="320.6" x2="1353.0" y2="320.6" stroke="#45392c" stroke-width="2.4"/><line x1="1357.0" y1="303.8" x2="1353.0" y2="303.8" stroke="#45392c" stroke-width="2.4"/><line x1="1357.0" y1="289.0" x2="1353.0" y2="289.0" stroke="#45392c" stroke-width="2.4"/><line x1="1357.0" y1="188.8" x2="1353.0" y2="188.8" stroke="#45392c" stroke-width="2.4"/><line x1="1357.0" y1="137.9" x2="1353.0" y2="137.9" stroke="#45392c" stroke-width="2.4"/><line x1="1357.0" y1="101.8" x2="1353.0" y2="101.8" stroke="#45392c" stroke-width="2.4"/><line x1="1357.0" y1="73.8" x2="1353.0" y2="73.8" stroke="#45392c" stroke-width="2.4"/><line x1="1357.0" y1="50.9" x2="1353.0" y2="50.9" stroke="#45392c" stroke-width="2.4"/>
<text x="1308" y="285.5" font-size="25" fill="#444444">10<tspan dy="-11" font-size="16">3</tspan></text>
<text transform="translate(1294,228) rotate(-90)" font-size="29" fill="#444444" text-anchor="middle" textLength="220" lengthAdjust="spacingAndGlyphs">Delay Time (ps)</text>
<text x="1369.5" y="75.9" font-size="31.0" fill="#5a3814" textLength="147.0" lengthAdjust="spacingAndGlyphs">Reference</text>
<text x="1935.5" y="73.8" font-size="32.0" fill="#3a160c" textLength="58.0" lengthAdjust="spacingAndGlyphs">2-Cl</text>
<defs><linearGradient id="hcb" x1="0" y1="0" x2="0" y2="1"><stop offset="0.00" stop-color="#e63c3a"/><stop offset="0.06" stop-color="#e8403a"/><stop offset="0.16" stop-color="#ec6438"/><stop offset="0.23" stop-color="#f39433"/><stop offset="0.27" stop-color="#f8b934"/><stop offset="0.31" stop-color="#e8e030"/><stop offset="0.35" stop-color="#b5cf3c"/><stop offset="0.41" stop-color="#5db545"/><stop offset="0.48" stop-color="#5db545"/><stop offset="0.54" stop-color="#6ab89a"/><stop offset="0.60" stop-color="#5ab8d8"/><stop offset="0.66" stop-color="#3aaae0"/><stop offset="0.72" stop-color="#2f7fc3"/><stop offset="0.78" stop-color="#2d5aa8"/><stop offset="0.86" stop-color="#3a4a98"/><stop offset="0.95" stop-color="#5a40a0"/><stop offset="1.00" stop-color="#6a3fa3"/></linearGradient></defs><rect x="2432.5" y="62" width="25.5" height="337" fill="url(#hcb)" stroke="#7a7070" stroke-width="1.2"/>
<text x="2414.0" y="45.9" font-size="24.0" fill="#444444" textLength="62.0" lengthAdjust="spacingAndGlyphs">0.005</text>
<text x="2407.0" y="432.4" font-size="24.0" fill="#444444" textLength="74.0" lengthAdjust="spacingAndGlyphs">−0.015</text>
<defs><clipPath id="dLc"><rect x="1364.7" y="558.0" width="474.9" height="386.3"/></clipPath></defs>
<g clip-path="url(#dLc)"><path d="M1364.7 596.1 L1365.5 596.0 L1366.3 595.8 L1367.1 595.6 L1367.9 595.5 L1368.7 595.5 L1369.4 595.4 L1370.2 595.3 L1371.0 595.3 L1371.8 595.3 L1372.6 595.3 L1373.4 595.2 L1374.2 595.3 L1375.0 595.5 L1375.8 595.4 L1376.6 595.3 L1377.4 595.6 L1378.2 595.7 L1378.9 595.5 L1379.7 595.4 L1380.5 595.2 L1381.3 595.1 L1382.1 595.0 L1382.9 594.7 L1383.7 595.0 L1384.5 595.0 L1385.3 595.0 L1386.1 595.1 L1386.9 595.3 L1387.7 595.0 L1388.4 595.0 L1389.2 594.9 L1390.0 594.9 L1390.8 594.8 L1391.6 594.9 L1392.4 595.0 L1393.2 594.9 L1394.0 594.9 L1394.8 594.7 L1395.6 594.4 L1396.4 594.4 L1397.2 594.4 L1397.9 594.4 L1398.7 594.5 L1399.5 594.5 L1400.3 594.5 L1401.1 594.5 L1401.9 594.4 L1402.7 594.2 L1403.5 594.3 L1404.3 593.9 L1405.1 594.0 L1405.9 594.0 L1406.6 594.2 L1407.4 593.8 L1408.2 593.8 L1409.0 593.3 L1409.8 593.1 L1410.6 592.9 L1411.4 592.9 L1412.2 593.0 L1413.0 593.3 L1413.8 593.2 L1414.6 593.3 L1415.4 593.4 L1416.1 593.3 L1416.9 593.1 L1417.7 593.3 L1418.5 593.2 L1419.3 593.2 L1420.1 593.1 L1420.9 593.3 L1421.7 593.1 L1422.5 593.2 L1423.3 593.3 L1424.1 593.5 L1424.9 593.2 L1425.6 593.3 L1426.4 593.2 L1427.2 593.2 L1428.0 592.9 L1428.8 593.1 L1429.6 593.2 L1430.4 592.9 L1431.2 592.9 L1432.0 592.9 L1432.8 592.8 L1433.6 592.6 L1434.4 592.6 L1435.1 592.3 L1435.9 592.2 L1436.7 592.4 L1437.5 592.5 L1438.3 592.5 L1439.1 592.7 L1439.9 592.5 L1440.7 592.4 L1441.5 592.2 L1442.3 592.2 L1443.1 592.2 L1443.8 592.2 L1444.6 592.1 L1445.4 592.0 L1446.2 591.6 L1447.0 591.5 L1447.8 591.7 L1448.6 591.4 L1449.4 591.3 L1450.2 591.7 L1451.0 591.6 L1451.8 591.4 L1452.6 591.7 L1453.3 591.8 L1454.1 591.8 L1454.9 591.9 L1455.7 591.7 L1456.5 591.7 L1457.3 591.6 L1458.1 591.2 L1458.9 591.3 L1459.7 591.5 L1460.5 591.5 L1461.3 591.7 L1462.1 592.1 L1462.8 591.9 L1463.6 591.9 L1464.4 591.9 L1465.2 591.8 L1466.0 591.6 L1466.8 591.5 L1467.6 591.5 L1468.4 591.3 L1469.2 591.3 L1470.0 591.1 L1470.8 591.1 L1471.6 591.2 L1472.3 591.2 L1473.1 591.4 L1473.9 591.7 L1474.7 591.7 L1475.5 591.6 L1476.3 591.5 L1477.1 591.4 L1477.9 591.6 L1478.7 591.4 L1479.5 591.4 L1480.3 591.7 L1481.1 591.6 L1481.8 591.4 L1482.6 591.9 L1483.4 592.1 L1484.2 592.1 L1485.0 592.0 L1485.8 592.2 L1486.6 592.0 L1487.4 592.0 L1488.2 592.0 L1489.0 592.3 L1489.8 592.2 L1490.5 592.0 L1491.3 591.9 L1492.1 592.0 L1492.9 592.1 L1493.7 592.1 L1494.5 592.4 L1495.3 592.5 L1496.1 592.7 L1496.9 592.3 L1497.7 592.2 L1498.5 592.2 L1499.3 592.0 L1500.0 591.6 L1500.8 592.2 L1501.6 592.5 L1502.4 592.4 L1503.2 592.5 L1504.0 592.7 L1504.8 592.4 L1505.6 592.4 L1506.4 592.1 L1507.2 591.9 L1508.0 592.0 L1508.8 592.1 L1509.5 591.7 L1510.3 592.1 L1511.1 592.5 L1511.9 592.5 L1512.7 592.3 L1513.5 592.6 L1514.3 592.4 L1515.1 592.5 L1515.9 592.5 L1516.7 592.5 L1517.5 592.4 L1518.3 592.5 L1519.0 592.6 L1519.8 592.8 L1520.6 592.7 L1521.4 593.1 L1522.2 593.4 L1523.0 593.3 L1523.8 593.2 L1524.6 593.3 L1525.4 593.4 L1526.2 593.0 L1527.0 592.9 L1527.7 593.0 L1528.5 593.3 L1529.3 592.9 L1530.1 592.8 L1530.9 592.8 L1531.7 592.8 L1532.5 592.6 L1533.3 593.0 L1534.1 593.3 L1534.9 593.6 L1535.7 593.8 L1536.5 594.0 L1537.2 593.8 L1538.0 593.9 L1538.8 593.7 L1539.6 593.7 L1540.4 593.9 L1541.2 594.3 L1542.0 594.7 L1542.8 595.0 L1543.6 595.3 L1544.4 595.8 L1545.2 596.3 L1546.0 596.0 L1546.7 596.3 L1547.5 596.8 L1548.3 596.7 L1549.1 596.9 L1549.9 597.1 L1550.7 597.3 L1551.5 597.4 L1552.3 597.7 L1553.1 597.9 L1553.9 598.0 L1554.7 598.3 L1555.5 598.4 L1556.2 598.6 L1557.0 599.0 L1557.8 599.6 L1558.6 599.8 L1559.4 600.2 L1560.2 600.6 L1561.0 600.9 L1561.8 601.1 L1562.6 601.5 L1563.4 601.9 L1564.2 602.1 L1564.9 602.2 L1565.7 602.6 L1566.5 602.8 L1567.3 603.0 L1568.1 603.2 L1568.9 603.6 L1569.7 604.2 L1570.5 604.9 L1571.3 605.5 L1572.1 606.2 L1572.9 606.9 L1573.7 607.3 L1574.4 608.1 L1575.2 609.1 L1576.0 609.6 L1576.8 610.5 L1577.6 611.4 L1578.4 612.3 L1579.2 612.8 L1580.0 613.8 L1580.8 614.9 L1581.6 616.1 L1582.4 617.1 L1583.2 618.5 L1583.9 620.0 L1584.7 621.5 L1585.5 622.7 L1586.3 624.3 L1587.1 625.9 L1587.9 627.5 L1588.7 629.5 L1589.5 631.5 L1590.3 633.6 L1591.1 635.8 L1591.9 638.0 L1592.7 640.2 L1593.4 642.6 L1594.2 645.3 L1595.0 648.1 L1595.8 651.1 L1596.6 654.0 L1597.4 657.1 L1598.2 660.4 L1599.0 663.8 L1599.8 667.1 L1600.6 670.9 L1601.4 674.5 L1602.2 678.3 L1602.9 682.1 L1603.7 686.4 L1604.5 690.3 L1605.3 694.5 L1606.1 698.8 L1606.9 702.9 L1607.7 706.9 L1608.5 711.4 L1609.3 716.0 L1610.1 720.5 L1610.9 725.2 L1611.6 729.9 L1612.4 734.3 L1613.2 738.5 L1614.0 742.4 L1614.8 746.5 L1615.6 750.5 L1616.4 753.8 L1617.2 757.0 L1618.0 760.3 L1618.8 762.9 L1619.6 765.3 L1620.4 768.1 L1621.1 770.5 L1621.9 772.7 L1622.7 774.4 L1623.5 776.1 L1624.3 777.2 L1625.1 778.0 L1625.9 778.0 L1626.7 778.0 L1627.5 777.3 L1628.3 776.6 L1629.1 775.4 L1629.9 773.6 L1630.6 771.7 L1631.4 769.6 L1632.2 766.9 L1633.0 764.0 L1633.8 761.2 L1634.6 758.3 L1635.4 755.1 L1636.2 751.8 L1637.0 748.5 L1637.8 744.8 L1638.6 740.9 L1639.4 737.0 L1640.1 732.8 L1640.9 728.4 L1641.7 724.3 L1642.5 720.0 L1643.3 715.6 L1644.1 711.4 L1644.9 707.3 L1645.7 703.0 L1646.5 698.9 L1647.3 694.7 L1648.1 690.6 L1648.8 686.6 L1649.6 682.9 L1650.4 679.2 L1651.2 675.6 L1652.0 672.2 L1652.8 668.9 L1653.6 665.9 L1654.4 663.1 L1655.2 660.1 L1656.0 657.2 L1656.8 654.2 L1657.6 651.2 L1658.3 648.3 L1659.1 646.0 L1659.9 644.0 L1660.7 641.9 L1661.5 640.1 L1662.3 638.2 L1663.1 636.4 L1663.9 634.5 L1664.7 632.9 L1665.5 631.4 L1666.3 630.2 L1667.1 629.0 L1667.8 627.8 L1668.6 626.5 L1669.4 625.3 L1670.2 624.0 L1671.0 622.7 L1671.8 621.5 L1672.6 620.7 L1673.4 619.9 L1674.2 619.1 L1675.0 618.2 L1675.8 617.6 L1676.6 616.9 L1677.3 616.1 L1678.1 615.4 L1678.9 615.1 L1679.7 614.2 L1680.5 613.6 L1681.3 613.2 L1682.1 612.5 L1682.9 611.7 L1683.7 611.4 L1684.5 610.8 L1685.3 610.2 L1686.0 610.1 L1686.8 609.8 L1687.6 609.5 L1688.4 609.1 L1689.2 608.8 L1690.0 608.6 L1690.8 608.6 L1691.6 608.3 L1692.4 608.1 L1693.2 608.0 L1694.0 607.8 L1694.8 607.4 L1695.5 607.3 L1696.3 607.3 L1697.1 607.3 L1697.9 607.1 L1698.7 607.2 L1699.5 607.2 L1700.3 607.3 L1701.1 606.9 L1701.9 606.7 L1702.7 606.4 L1703.5 606.5 L1704.3 606.1 L1705.0 606.0 L1705.8 606.2 L1706.6 606.1 L1707.4 605.7 L1708.2 605.7 L1709.0 605.7 L1709.8 605.4 L1710.6 605.2 L1711.4 605.2 L1712.2 605.0 L1713.0 604.7 L1713.8 604.5 L1714.5 604.4 L1715.3 604.6 L1716.1 604.6 L1716.9 604.7 L1717.7 604.6 L1718.5 604.7 L1719.3 604.4 L1720.1 604.4 L1720.9 604.4 L1721.7 604.6 L1722.5 604.5 L1723.2 604.6 L1724.0 604.5 L1724.8 604.5 L1725.6 604.0 L1726.4 604.2 L1727.2 604.2 L1728.0 603.9 L1728.8 603.9 L1729.6 603.9 L1730.4 603.7 L1731.2 603.5 L1732.0 603.6 L1732.7 603.2 L1733.5 603.4 L1734.3 603.3 L1735.1 603.2 L1735.9 603.5 L1736.7 603.8 L1737.5 603.6 L1738.3 603.6 L1739.1 603.5 L1739.9 603.1 L1740.7 603.1 L1741.5 603.2 L1742.2 603.4 L1743.0 603.4 L1743.8 603.5 L1744.6 603.5 L1745.4 603.4 L1746.2 603.3 L1747.0 603.2 L1747.8 603.0 L1748.6 602.9 L1749.4 602.8 L1750.2 602.9 L1751.0 603.2 L1751.7 603.1 L1752.5 603.0 L1753.3 602.9 L1754.1 602.6 L1754.9 602.2 L1755.7 602.4 L1756.5 602.4 L1757.3 602.6 L1758.1 602.8 L1758.9 603.0 L1759.7 602.9 L1760.4 602.9 L1761.2 603.4 L1762.0 603.2 L1762.8 603.0 L1763.6 603.0 L1764.4 603.0 L1765.2 602.5 L1766.0 602.6 L1766.8 602.6 L1767.6 602.6 L1768.4 602.7 L1769.2 602.7 L1769.9 602.4 L1770.7 602.6 L1771.5 602.8 L1772.3 602.9 L1773.1 602.6 L1773.9 602.8 L1774.7 602.6 L1775.5 602.5 L1776.3 602.4 L1777.1 602.9 L1777.9 602.8 L1778.7 602.8 L1779.4 602.9 L1780.2 602.9 L1781.0 602.7 L1781.8 602.7 L1782.6 602.7 L1783.4 602.3 L1784.2 601.9 L1785.0 601.7 L1785.8 601.5 L1786.6 601.6 L1787.4 601.8 L1788.2 601.9 L1788.9 601.9 L1789.7 602.1 L1790.5 602.2 L1791.3 602.4 L1792.1 602.4 L1792.9 602.4 L1793.7 602.4 L1794.5 602.2 L1795.3 602.2 L1796.1 602.2 L1796.9 602.1 L1797.7 601.8 L1798.4 601.7 L1799.2 601.5 L1800.0 601.7 L1800.8 601.7 L1801.6 601.7 L1802.4 601.7 L1803.2 601.7 L1804.0 601.5 L1804.8 601.7 L1805.6 602.3 L1806.4 602.2 L1807.1 602.2 L1807.9 602.4 L1808.7 602.4 L1809.5 602.5 L1810.3 602.3 L1811.1 602.3 L1811.9 602.1 L1812.7 602.0 L1813.5 601.6 L1814.3 601.8 L1815.1 601.9 L1815.9 601.9 L1816.6 601.9 L1817.4 601.8 L1818.2 601.5 L1819.0 601.7 L1819.8 601.6 L1820.6 601.7 L1821.4 601.9 L1822.2 602.4 L1823.0 602.1 L1823.8 602.3 L1824.6 602.3 L1825.4 602.0 L1826.1 601.9 L1826.9 601.9 L1827.7 601.8 L1828.5 601.6 L1829.3 601.5 L1830.1 601.5 L1830.9 601.4 L1831.7 601.4 L1832.5 601.4 L1833.3 601.6 L1834.1 601.4 L1834.9 601.7 L1835.6 601.6 L1836.4 601.5 L1837.2 601.5 L1838.0 601.3 L1838.8 601.1 L1839.6 601.2" fill="none" stroke="#9ecbdc" stroke-width="2.6" stroke-linejoin="round"/><path d="M1364.7 596.9 L1365.5 596.9 L1366.3 596.9 L1367.1 596.8 L1367.9 596.7 L1368.7 596.7 L1369.4 596.4 L1370.2 595.9 L1371.0 595.9 L1371.8 595.7 L1372.6 595.5 L1373.4 595.5 L1374.2 595.2 L1375.0 594.8 L1375.8 594.7 L1376.6 594.6 L1377.4 594.8 L1378.2 595.0 L1378.9 595.1 L1379.7 595.1 L1380.5 595.0 L1381.3 594.4 L1382.1 594.2 L1382.9 593.8 L1383.7 593.6 L1384.5 593.5 L1385.3 593.5 L1386.1 593.5 L1386.9 593.8 L1387.7 593.6 L1388.4 593.5 L1389.2 593.7 L1390.0 593.4 L1390.8 592.9 L1391.6 593.1 L1392.4 593.0 L1393.2 592.3 L1394.0 592.4 L1394.8 592.9 L1395.6 592.8 L1396.4 592.3 L1397.2 592.5 L1397.9 592.3 L1398.7 591.8 L1399.5 591.5 L1400.3 591.7 L1401.1 591.9 L1401.9 591.9 L1402.7 592.1 L1403.5 592.1 L1404.3 591.7 L1405.1 591.3 L1405.9 591.3 L1406.6 591.0 L1407.4 590.8 L1408.2 590.8 L1409.0 590.9 L1409.8 590.8 L1410.6 590.5 L1411.4 590.4 L1412.2 590.5 L1413.0 590.3 L1413.8 590.5 L1414.6 590.8 L1415.4 590.5 L1416.1 590.3 L1416.9 590.2 L1417.7 589.9 L1418.5 589.7 L1419.3 589.8 L1420.1 589.7 L1420.9 589.6 L1421.7 589.3 L1422.5 588.9 L1423.3 588.8 L1424.1 588.7 L1424.9 588.3 L1425.6 588.5 L1426.4 588.6 L1427.2 588.5 L1428.0 588.2 L1428.8 588.3 L1429.6 588.1 L1430.4 587.8 L1431.2 587.8 L1432.0 587.9 L1432.8 588.0 L1433.6 587.7 L1434.4 587.8 L1435.1 587.5 L1435.9 587.0 L1436.7 586.5 L1437.5 586.5 L1438.3 586.2 L1439.1 586.2 L1439.9 586.2 L1440.7 586.4 L1441.5 586.1 L1442.3 586.0 L1443.1 585.7 L1443.8 585.4 L1444.6 585.2 L1445.4 585.2 L1446.2 584.8 L1447.0 585.2 L1447.8 585.3 L1448.6 585.3 L1449.4 585.3 L1450.2 585.3 L1451.0 585.1 L1451.8 585.0 L1452.6 584.8 L1453.3 584.7 L1454.1 584.5 L1454.9 584.5 L1455.7 584.5 L1456.5 584.3 L1457.3 584.4 L1458.1 584.5 L1458.9 584.3 L1459.7 584.0 L1460.5 584.2 L1461.3 584.4 L1462.1 584.3 L1462.8 584.5 L1463.6 584.5 L1464.4 584.4 L1465.2 584.4 L1466.0 584.5 L1466.8 584.3 L1467.6 584.4 L1468.4 584.5 L1469.2 584.4 L1470.0 584.6 L1470.8 584.8 L1471.6 584.7 L1472.3 584.2 L1473.1 584.2 L1473.9 584.2 L1474.7 584.2 L1475.5 584.3 L1476.3 584.7 L1477.1 584.7 L1477.9 584.6 L1478.7 584.8 L1479.5 584.8 L1480.3 584.8 L1481.1 584.9 L1481.8 584.9 L1482.6 584.8 L1483.4 584.6 L1484.2 584.5 L1485.0 584.4 L1485.8 584.6 L1486.6 584.6 L1487.4 584.7 L1488.2 584.9 L1489.0 584.8 L1489.8 585.0 L1490.5 584.9 L1491.3 584.9 L1492.1 584.8 L1492.9 584.9 L1493.7 584.5 L1494.5 584.7 L1495.3 584.9 L1496.1 585.0 L1496.9 584.8 L1497.7 584.9 L1498.5 584.9 L1499.3 584.7 L1500.0 584.7 L1500.8 585.0 L1501.6 585.5 L1502.4 585.6 L1503.2 585.9 L1504.0 586.0 L1504.8 586.0 L1505.6 585.8 L1506.4 585.6 L1507.2 585.4 L1508.0 585.4 L1508.8 585.0 L1509.5 585.0 L1510.3 585.1 L1511.1 584.9 L1511.9 585.1 L1512.7 585.6 L1513.5 585.4 L1514.3 585.3 L1515.1 585.4 L1515.9 585.2 L1516.7 584.9 L1517.5 585.1 L1518.3 585.2 L1519.0 585.5 L1519.8 585.6 L1520.6 585.7 L1521.4 585.7 L1522.2 585.6 L1523.0 585.1 L1523.8 585.3 L1524.6 585.2 L1525.4 585.1 L1526.2 585.1 L1527.0 585.6 L1527.7 585.3 L1528.5 585.4 L1529.3 585.5 L1530.1 585.8 L1530.9 585.7 L1531.7 585.7 L1532.5 585.8 L1533.3 585.5 L1534.1 585.6 L1534.9 585.6 L1535.7 586.0 L1536.5 586.1 L1537.2 586.5 L1538.0 586.7 L1538.8 587.2 L1539.6 587.4 L1540.4 587.7 L1541.2 587.7 L1542.0 587.7 L1542.8 587.9 L1543.6 588.1 L1544.4 588.4 L1545.2 588.9 L1546.0 589.3 L1546.7 589.3 L1547.5 589.4 L1548.3 589.8 L1549.1 590.4 L1549.9 590.7 L1550.7 591.4 L1551.5 591.7 L1552.3 591.9 L1553.1 592.2 L1553.9 592.4 L1554.7 592.6 L1555.5 592.6 L1556.2 592.9 L1557.0 593.3 L1557.8 593.6 L1558.6 593.8 L1559.4 594.4 L1560.2 594.9 L1561.0 594.9 L1561.8 595.2 L1562.6 595.5 L1563.4 595.9 L1564.2 596.3 L1564.9 597.0 L1565.7 597.7 L1566.5 598.2 L1567.3 598.7 L1568.1 599.2 L1568.9 599.1 L1569.7 599.4 L1570.5 599.9 L1571.3 600.6 L1572.1 601.2 L1572.9 602.3 L1573.7 603.3 L1574.4 603.7 L1575.2 604.1 L1576.0 604.6 L1576.8 604.6 L1577.6 605.0 L1578.4 605.7 L1579.2 606.3 L1580.0 607.2 L1580.8 608.5 L1581.6 609.3 L1582.4 610.0 L1583.2 610.9 L1583.9 612.0 L1584.7 612.9 L1585.5 614.0 L1586.3 615.1 L1587.1 616.0 L1587.9 616.8 L1588.7 617.5 L1589.5 618.6 L1590.3 619.6 L1591.1 620.9 L1591.9 622.2 L1592.7 624.1 L1593.4 625.4 L1594.2 627.3 L1595.0 629.2 L1595.8 631.0 L1596.6 632.6 L1597.4 634.6 L1598.2 636.4 L1599.0 638.6 L1599.8 640.9 L1600.6 643.3 L1601.4 645.8 L1602.2 648.1 L1602.9 650.5 L1603.7 653.3 L1604.5 656.1 L1605.3 659.1 L1606.1 662.4 L1606.9 665.6 L1607.7 668.5 L1608.5 671.6 L1609.3 674.9 L1610.1 678.0 L1610.9 681.4 L1611.6 684.6 L1612.4 688.0 L1613.2 691.3 L1614.0 694.6 L1614.8 697.6 L1615.6 700.6 L1616.4 703.4 L1617.2 706.3 L1618.0 708.7 L1618.8 711.0 L1619.6 713.9 L1620.4 716.6 L1621.1 718.5 L1621.9 720.7 L1622.7 722.7 L1623.5 724.1 L1624.3 724.8 L1625.1 725.7 L1625.9 726.2 L1626.7 726.7 L1627.5 726.8 L1628.3 726.8 L1629.1 726.8 L1629.9 726.1 L1630.6 725.3 L1631.4 724.1 L1632.2 722.8 L1633.0 720.8 L1633.8 719.0 L1634.6 716.6 L1635.4 714.5 L1636.2 712.2 L1637.0 709.8 L1637.8 707.4 L1638.6 704.7 L1639.4 701.9 L1640.1 698.8 L1640.9 695.7 L1641.7 692.4 L1642.5 689.4 L1643.3 685.9 L1644.1 682.6 L1644.9 679.9 L1645.7 676.8 L1646.5 673.8 L1647.3 670.9 L1648.1 668.2 L1648.8 665.0 L1649.6 662.2 L1650.4 659.3 L1651.2 656.4 L1652.0 653.5 L1652.8 651.1 L1653.6 648.8 L1654.4 646.3 L1655.2 644.3 L1656.0 642.2 L1656.8 640.0 L1657.6 637.8 L1658.3 635.9 L1659.1 633.9 L1659.9 632.2 L1660.7 630.6 L1661.5 629.3 L1662.3 628.0 L1663.1 626.8 L1663.9 625.6 L1664.7 624.9 L1665.5 623.6 L1666.3 622.5 L1667.1 621.5 L1667.8 620.5 L1668.6 619.3 L1669.4 618.5 L1670.2 617.7 L1671.0 616.7 L1671.8 615.8 L1672.6 615.1 L1673.4 614.4 L1674.2 613.8 L1675.0 613.2 L1675.8 612.8 L1676.6 612.2 L1677.3 611.6 L1678.1 611.0 L1678.9 610.5 L1679.7 609.6 L1680.5 609.1 L1681.3 608.4 L1682.1 607.9 L1682.9 607.5 L1683.7 607.3 L1684.5 607.2 L1685.3 607.3 L1686.0 606.8 L1686.8 606.6 L1687.6 606.1 L1688.4 605.6 L1689.2 605.3 L1690.0 605.0 L1690.8 604.8 L1691.6 604.6 L1692.4 604.6 L1693.2 604.3 L1694.0 604.2 L1694.8 604.1 L1695.5 604.0 L1696.3 603.6 L1697.1 603.5 L1697.9 603.6 L1698.7 603.4 L1699.5 603.4 L1700.3 603.3 L1701.1 603.0 L1701.9 602.8 L1702.7 603.0 L1703.5 602.9 L1704.3 602.9 L1705.0 603.0 L1705.8 602.8 L1706.6 602.5 L1707.4 602.4 L1708.2 602.5 L1709.0 602.4 L1709.8 602.3 L1710.6 602.3 L1711.4 602.3 L1712.2 602.3 L1713.0 602.1 L1713.8 602.4 L1714.5 602.3 L1715.3 602.1 L1716.1 601.7 L1716.9 601.8 L1717.7 601.4 L1718.5 601.6 L1719.3 601.5 L1720.1 601.6 L1720.9 601.7 L1721.7 602.0 L1722.5 601.8 L1723.2 601.8 L1724.0 601.8 L1724.8 601.5 L1725.6 601.2 L1726.4 600.9 L1727.2 601.1 L1728.0 601.2 L1728.8 601.3 L1729.6 601.2 L1730.4 601.3 L1731.2 601.0 L1732.0 600.9 L1732.7 600.4 L1733.5 600.6 L1734.3 600.5 L1735.1 600.6 L1735.9 600.5 L1736.7 600.5 L1737.5 600.5 L1738.3 600.6 L1739.1 600.6 L1739.9 600.5 L1740.7 601.0 L1741.5 600.8 L1742.2 600.5 L1743.0 600.5 L1743.8 600.6 L1744.6 600.5 L1745.4 600.6 L1746.2 600.8 L1747.0 600.6 L1747.8 600.3 L1748.6 600.2 L1749.4 600.2 L1750.2 600.3 L1751.0 600.5 L1751.7 600.7 L1752.5 600.6 L1753.3 600.5 L1754.1 600.2 L1754.9 600.0 L1755.7 600.1 L1756.5 599.9 L1757.3 600.2 L1758.1 600.4 L1758.9 600.5 L1759.7 600.6 L1760.4 600.9 L1761.2 600.6 L1762.0 600.5 L1762.8 600.4 L1763.6 600.2 L1764.4 600.1 L1765.2 600.0 L1766.0 600.0 L1766.8 600.2 L1767.6 600.3 L1768.4 600.1 L1769.2 600.1 L1769.9 599.8 L1770.7 599.5 L1771.5 599.3 L1772.3 599.5 L1773.1 599.4 L1773.9 599.4 L1774.7 599.2 L1775.5 599.3 L1776.3 599.1 L1777.1 599.3 L1777.9 599.4 L1778.7 599.8 L1779.4 599.9 L1780.2 600.0 L1781.0 599.8 L1781.8 599.9 L1782.6 599.7 L1783.4 599.4 L1784.2 599.4 L1785.0 599.4 L1785.8 599.4 L1786.6 599.4 L1787.4 599.6 L1788.2 599.4 L1788.9 599.5 L1789.7 599.6 L1790.5 599.4 L1791.3 599.4 L1792.1 599.4 L1792.9 599.2 L1793.7 598.9 L1794.5 599.2 L1795.3 599.2 L1796.1 599.5 L1796.9 599.6 L1797.7 599.8 L1798.4 599.7 L1799.2 599.4 L1800.0 599.1 L1800.8 599.1 L1801.6 599.2 L1802.4 599.1 L1803.2 599.2 L1804.0 599.4 L1804.8 599.3 L1805.6 599.2 L1806.4 599.3 L1807.1 599.5 L1807.9 599.6 L1808.7 599.7 L1809.5 599.9 L1810.3 599.7 L1811.1 599.5 L1811.9 599.2 L1812.7 599.1 L1813.5 598.9 L1814.3 599.1 L1815.1 599.2 L1815.9 599.2 L1816.6 599.2 L1817.4 599.4 L1818.2 599.6 L1819.0 599.7 L1819.8 599.6 L1820.6 599.6 L1821.4 599.2 L1822.2 599.1 L1823.0 599.0 L1823.8 599.0 L1824.6 598.8 L1825.4 598.8 L1826.1 598.7 L1826.9 598.7 L1827.7 598.8 L1828.5 598.8 L1829.3 599.0 L1830.1 599.0 L1830.9 598.9 L1831.7 598.7 L1832.5 598.6 L1833.3 598.5 L1834.1 598.6 L1834.9 598.8 L1835.6 599.2 L1836.4 599.3 L1837.2 599.4 L1838.0 599.8 L1838.8 599.6 L1839.6 599.4" fill="none" stroke="#86c2da" stroke-width="2.8" stroke-linejoin="round"/><path d="M1364.7 593.1 L1365.5 593.1 L1366.3 592.9 L1367.1 592.7 L1367.9 592.8 L1368.7 592.7 L1369.4 592.4 L1370.2 592.5 L1371.0 592.6 L1371.8 592.6 L1372.6 592.9 L1373.4 592.8 L1374.2 592.4 L1375.0 592.1 L1375.8 591.7 L1376.6 591.5 L1377.4 591.6 L1378.2 591.7 L1378.9 591.6 L1379.7 591.6 L1380.5 591.7 L1381.3 591.8 L1382.1 591.9 L1382.9 591.9 L1383.7 591.8 L1384.5 591.6 L1385.3 591.4 L1386.1 591.2 L1386.9 591.0 L1387.7 590.9 L1388.4 590.8 L1389.2 590.7 L1390.0 590.5 L1390.8 590.5 L1391.6 590.6 L1392.4 590.6 L1393.2 590.4 L1394.0 590.4 L1394.8 590.1 L1395.6 589.9 L1396.4 589.5 L1397.2 589.5 L1397.9 589.5 L1398.7 589.7 L1399.5 589.5 L1400.3 589.5 L1401.1 589.3 L1401.9 589.3 L1402.7 589.3 L1403.5 589.3 L1404.3 589.4 L1405.1 589.3 L1405.9 589.3 L1406.6 589.1 L1407.4 589.1 L1408.2 588.9 L1409.0 588.7 L1409.8 588.5 L1410.6 588.3 L1411.4 588.1 L1412.2 588.1 L1413.0 588.4 L1413.8 588.2 L1414.6 588.0 L1415.4 587.7 L1416.1 587.7 L1416.9 587.4 L1417.7 587.5 L1418.5 587.5 L1419.3 587.6 L1420.1 587.3 L1420.9 587.2 L1421.7 586.9 L1422.5 586.9 L1423.3 586.7 L1424.1 586.7 L1424.9 586.7 L1425.6 586.6 L1426.4 586.4 L1427.2 586.6 L1428.0 586.6 L1428.8 586.4 L1429.6 586.3 L1430.4 586.5 L1431.2 586.5 L1432.0 586.2 L1432.8 586.1 L1433.6 586.0 L1434.4 585.5 L1435.1 585.0 L1435.9 584.5 L1436.7 584.6 L1437.5 584.5 L1438.3 584.4 L1439.1 584.6 L1439.9 585.0 L1440.7 584.7 L1441.5 584.5 L1442.3 584.4 L1443.1 584.4 L1443.8 584.2 L1444.6 584.2 L1445.4 584.3 L1446.2 584.4 L1447.0 584.1 L1447.8 583.6 L1448.6 583.5 L1449.4 583.4 L1450.2 583.3 L1451.0 583.2 L1451.8 583.5 L1452.6 583.4 L1453.3 583.5 L1454.1 583.6 L1454.9 583.6 L1455.7 583.4 L1456.5 583.2 L1457.3 583.0 L1458.1 582.8 L1458.9 582.9 L1459.7 582.9 L1460.5 583.1 L1461.3 582.9 L1462.1 583.1 L1462.8 582.9 L1463.6 583.0 L1464.4 582.9 L1465.2 583.1 L1466.0 582.9 L1466.8 583.0 L1467.6 582.9 L1468.4 583.2 L1469.2 583.1 L1470.0 583.1 L1470.8 583.7 L1471.6 583.6 L1472.3 583.3 L1473.1 583.6 L1473.9 583.7 L1474.7 583.2 L1475.5 583.5 L1476.3 583.7 L1477.1 583.6 L1477.9 583.5 L1478.7 583.4 L1479.5 583.3 L1480.3 583.2 L1481.1 583.1 L1481.8 583.1 L1482.6 583.3 L1483.4 583.1 L1484.2 583.3 L1485.0 583.4 L1485.8 583.6 L1486.6 583.6 L1487.4 583.8 L1488.2 583.6 L1489.0 583.3 L1489.8 583.2 L1490.5 583.1 L1491.3 582.9 L1492.1 582.8 L1492.9 583.4 L1493.7 583.4 L1494.5 583.4 L1495.3 583.7 L1496.1 583.8 L1496.9 583.6 L1497.7 583.6 L1498.5 584.0 L1499.3 584.2 L1500.0 584.3 L1500.8 584.2 L1501.6 584.1 L1502.4 583.9 L1503.2 583.8 L1504.0 583.6 L1504.8 583.7 L1505.6 583.6 L1506.4 583.6 L1507.2 583.8 L1508.0 584.0 L1508.8 584.2 L1509.5 584.6 L1510.3 584.7 L1511.1 584.6 L1511.9 584.5 L1512.7 584.5 L1513.5 584.3 L1514.3 584.2 L1515.1 584.1 L1515.9 584.0 L1516.7 584.2 L1517.5 584.5 L1518.3 584.7 L1519.0 584.7 L1519.8 585.0 L1520.6 584.8 L1521.4 584.6 L1522.2 584.2 L1523.0 584.2 L1523.8 584.1 L1524.6 584.0 L1525.4 584.0 L1526.2 584.3 L1527.0 584.3 L1527.7 584.3 L1528.5 584.5 L1529.3 584.5 L1530.1 584.4 L1530.9 584.7 L1531.7 584.8 L1532.5 585.0 L1533.3 585.1 L1534.1 585.3 L1534.9 585.3 L1535.7 585.2 L1536.5 585.2 L1537.2 585.3 L1538.0 585.6 L1538.8 585.6 L1539.6 586.0 L1540.4 586.3 L1541.2 586.5 L1542.0 586.6 L1542.8 586.8 L1543.6 586.6 L1544.4 586.6 L1545.2 587.0 L1546.0 587.0 L1546.7 587.5 L1547.5 588.0 L1548.3 588.5 L1549.1 588.8 L1549.9 589.2 L1550.7 589.5 L1551.5 590.1 L1552.3 590.4 L1553.1 590.7 L1553.9 590.8 L1554.7 591.0 L1555.5 591.0 L1556.2 591.3 L1557.0 591.6 L1557.8 592.2 L1558.6 592.7 L1559.4 593.2 L1560.2 593.6 L1561.0 593.8 L1561.8 594.4 L1562.6 594.8 L1563.4 594.8 L1564.2 595.2 L1564.9 595.7 L1565.7 596.1 L1566.5 596.5 L1567.3 597.0 L1568.1 597.4 L1568.9 597.9 L1569.7 598.3 L1570.5 598.7 L1571.3 599.4 L1572.1 600.2 L1572.9 600.9 L1573.7 601.2 L1574.4 601.9 L1575.2 602.4 L1576.0 603.1 L1576.8 603.5 L1577.6 604.2 L1578.4 605.0 L1579.2 605.9 L1580.0 606.1 L1580.8 607.0 L1581.6 607.5 L1582.4 608.1 L1583.2 608.9 L1583.9 609.8 L1584.7 610.3 L1585.5 611.3 L1586.3 612.1 L1587.1 612.6 L1587.9 613.4 L1588.7 614.5 L1589.5 615.7 L1590.3 616.4 L1591.1 617.5 L1591.9 618.5 L1592.7 619.6 L1593.4 620.5 L1594.2 622.0 L1595.0 623.5 L1595.8 625.0 L1596.6 626.5 L1597.4 628.0 L1598.2 629.4 L1599.0 630.8 L1599.8 632.7 L1600.6 634.4 L1601.4 636.3 L1602.2 638.5 L1602.9 640.5 L1603.7 642.8 L1604.5 645.1 L1605.3 647.6 L1606.1 649.9 L1606.9 652.8 L1607.7 655.3 L1608.5 657.9 L1609.3 660.4 L1610.1 663.2 L1610.9 665.4 L1611.6 667.8 L1612.4 670.6 L1613.2 673.6 L1614.0 676.4 L1614.8 679.3 L1615.6 682.3 L1616.4 684.7 L1617.2 686.8 L1618.0 689.1 L1618.8 691.3 L1619.6 693.5 L1620.4 695.7 L1621.1 697.8 L1621.9 699.1 L1622.7 700.7 L1623.5 702.3 L1624.3 703.7 L1625.1 704.6 L1625.9 705.8 L1626.7 706.5 L1627.5 706.4 L1628.3 706.1 L1629.1 706.4 L1629.9 706.1 L1630.6 705.3 L1631.4 704.8 L1632.2 704.1 L1633.0 702.5 L1633.8 700.8 L1634.6 699.6 L1635.4 698.2 L1636.2 696.4 L1637.0 694.6 L1637.8 692.5 L1638.6 690.1 L1639.4 687.6 L1640.1 685.0 L1640.9 682.6 L1641.7 680.4 L1642.5 678.0 L1643.3 675.4 L1644.1 672.6 L1644.9 670.0 L1645.7 667.2 L1646.5 664.5 L1647.3 661.7 L1648.1 659.6 L1648.8 657.1 L1649.6 654.8 L1650.4 652.3 L1651.2 650.2 L1652.0 647.6 L1652.8 645.4 L1653.6 643.3 L1654.4 641.1 L1655.2 639.0 L1656.0 637.3 L1656.8 635.5 L1657.6 633.6 L1658.3 632.2 L1659.1 630.6 L1659.9 629.1 L1660.7 627.5 L1661.5 626.3 L1662.3 624.6 L1663.1 623.7 L1663.9 622.4 L1664.7 621.4 L1665.5 620.3 L1666.3 619.9 L1667.1 618.6 L1667.8 618.0 L1668.6 617.0 L1669.4 616.3 L1670.2 615.3 L1671.0 614.8 L1671.8 614.0 L1672.6 613.4 L1673.4 612.9 L1674.2 612.5 L1675.0 612.0 L1675.8 611.2 L1676.6 610.5 L1677.3 609.7 L1678.1 608.9 L1678.9 608.1 L1679.7 607.6 L1680.5 607.2 L1681.3 607.0 L1682.1 606.6 L1682.9 606.4 L1683.7 606.1 L1684.5 605.9 L1685.3 605.5 L1686.0 604.9 L1686.8 604.5 L1687.6 604.2 L1688.4 603.6 L1689.2 603.7 L1690.0 603.9 L1690.8 603.6 L1691.6 603.7 L1692.4 603.7 L1693.2 603.2 L1694.0 602.9 L1694.8 602.8 L1695.5 602.3 L1696.3 602.1 L1697.1 602.2 L1697.9 602.1 L1698.7 602.1 L1699.5 602.1 L1700.3 602.1 L1701.1 602.0 L1701.9 601.9 L1702.7 601.6 L1703.5 601.8 L1704.3 601.7 L1705.0 601.5 L1705.8 601.3 L1706.6 601.2 L1707.4 601.0 L1708.2 601.0 L1709.0 600.9 L1709.8 601.0 L1710.6 600.9 L1711.4 600.9 L1712.2 600.7 L1713.0 601.0 L1713.8 600.5 L1714.5 600.4 L1715.3 600.2 L1716.1 600.2 L1716.9 599.7 L1717.7 599.6 L1718.5 599.8 L1719.3 599.8 L1720.1 599.7 L1720.9 599.7 L1721.7 600.0 L1722.5 600.0 L1723.2 600.0 L1724.0 600.2 L1724.8 599.9 L1725.6 599.8 L1726.4 599.8 L1727.2 600.1 L1728.0 599.9 L1728.8 600.0 L1729.6 600.2 L1730.4 599.9 L1731.2 599.5 L1732.0 599.6 L1732.7 599.8 L1733.5 599.6 L1734.3 599.9 L1735.1 599.8 L1735.9 599.6 L1736.7 599.3 L1737.5 599.2 L1738.3 599.0 L1739.1 599.0 L1739.9 599.1 L1740.7 599.0 L1741.5 599.1 L1742.2 599.2 L1743.0 599.3 L1743.8 599.4 L1744.6 599.3 L1745.4 599.2 L1746.2 599.2 L1747.0 599.3 L1747.8 599.0 L1748.6 598.9 L1749.4 599.0 L1750.2 599.0 L1751.0 598.8 L1751.7 599.0 L1752.5 599.0 L1753.3 599.0 L1754.1 599.2 L1754.9 599.2 L1755.7 598.9 L1756.5 599.0 L1757.3 599.1 L1758.1 599.0 L1758.9 598.9 L1759.7 599.0 L1760.4 599.0 L1761.2 598.9 L1762.0 598.7 L1762.8 598.6 L1763.6 598.8 L1764.4 598.5 L1765.2 598.4 L1766.0 598.5 L1766.8 598.2 L1767.6 598.4 L1768.4 598.7 L1769.2 598.7 L1769.9 598.5 L1770.7 598.9 L1771.5 598.7 L1772.3 598.4 L1773.1 598.6 L1773.9 598.7 L1774.7 598.8 L1775.5 598.9 L1776.3 599.1 L1777.1 598.8 L1777.9 598.7 L1778.7 598.5 L1779.4 598.4 L1780.2 598.2 L1781.0 598.5 L1781.8 598.5 L1782.6 598.4 L1783.4 598.4 L1784.2 598.7 L1785.0 598.4 L1785.8 598.6 L1786.6 598.8 L1787.4 598.7 L1788.2 598.7 L1788.9 598.7 L1789.7 598.4 L1790.5 598.3 L1791.3 598.2 L1792.1 598.1 L1792.9 598.1 L1793.7 598.4 L1794.5 598.3 L1795.3 598.4 L1796.1 597.9 L1796.9 597.9 L1797.7 597.7 L1798.4 597.6 L1799.2 597.6 L1800.0 598.0 L1800.8 598.0 L1801.6 598.2 L1802.4 598.4 L1803.2 598.5 L1804.0 598.5 L1804.8 598.4 L1805.6 598.4 L1806.4 598.0 L1807.1 597.8 L1807.9 597.6 L1808.7 597.6 L1809.5 597.5 L1810.3 597.7 L1811.1 597.9 L1811.9 598.1 L1812.7 598.3 L1813.5 598.4 L1814.3 598.2 L1815.1 598.2 L1815.9 598.0 L1816.6 597.7 L1817.4 597.6 L1818.2 597.8 L1819.0 598.0 L1819.8 598.1 L1820.6 598.1 L1821.4 598.2 L1822.2 598.1 L1823.0 597.9 L1823.8 597.7 L1824.6 597.5 L1825.4 597.5 L1826.1 597.7 L1826.9 597.7 L1827.7 597.7 L1828.5 598.2 L1829.3 598.4 L1830.1 598.4 L1830.9 598.3 L1831.7 598.3 L1832.5 598.1 L1833.3 597.7 L1834.1 597.6 L1834.9 597.8 L1835.6 597.8 L1836.4 597.5 L1837.2 597.8 L1838.0 598.0 L1838.8 597.9 L1839.6 598.0" fill="none" stroke="#3f9fcb" stroke-width="3.0" stroke-linejoin="round"/><path d="M1364.7 604.5 L1365.5 604.6 L1366.3 604.6 L1367.1 604.6 L1367.9 604.6 L1368.7 604.9 L1369.4 604.8 L1370.2 605.0 L1371.0 604.9 L1371.8 605.1 L1372.6 605.2 L1373.4 604.9 L1374.2 604.5 L1375.0 604.3 L1375.8 604.1 L1376.6 603.6 L1377.4 603.8 L1378.2 603.9 L1378.9 603.8 L1379.7 603.7 L1380.5 603.6 L1381.3 603.6 L1382.1 603.7 L1382.9 603.8 L1383.7 603.9 L1384.5 604.3 L1385.3 604.1 L1386.1 604.3 L1386.9 604.2 L1387.7 604.0 L1388.4 603.6 L1389.2 603.6 L1390.0 603.3 L1390.8 603.2 L1391.6 603.2 L1392.4 603.4 L1393.2 603.3 L1394.0 603.5 L1394.8 603.5 L1395.6 603.4 L1396.4 603.5 L1397.2 603.8 L1397.9 604.0 L1398.7 603.9 L1399.5 604.1 L1400.3 604.2 L1401.1 603.9 L1401.9 603.6 L1402.7 603.8 L1403.5 603.6 L1404.3 603.5 L1405.1 603.7 L1405.9 603.9 L1406.6 603.8 L1407.4 603.7 L1408.2 603.4 L1409.0 603.3 L1409.8 603.5 L1410.6 603.5 L1411.4 603.7 L1412.2 604.2 L1413.0 604.0 L1413.8 603.7 L1414.6 603.7 L1415.4 603.7 L1416.1 603.3 L1416.9 603.5 L1417.7 603.5 L1418.5 603.5 L1419.3 603.4 L1420.1 603.4 L1420.9 603.1 L1421.7 603.1 L1422.5 603.1 L1423.3 603.3 L1424.1 603.3 L1424.9 603.6 L1425.6 603.6 L1426.4 603.5 L1427.2 603.5 L1428.0 603.4 L1428.8 603.2 L1429.6 603.2 L1430.4 603.2 L1431.2 603.4 L1432.0 603.6 L1432.8 603.8 L1433.6 603.9 L1434.4 603.9 L1435.1 603.9 L1435.9 603.7 L1436.7 604.0 L1437.5 604.1 L1438.3 604.2 L1439.1 604.0 L1439.9 604.1 L1440.7 604.0 L1441.5 603.8 L1442.3 603.7 L1443.1 603.6 L1443.8 603.5 L1444.6 603.3 L1445.4 603.4 L1446.2 603.3 L1447.0 603.6 L1447.8 603.8 L1448.6 603.7 L1449.4 603.8 L1450.2 603.9 L1451.0 603.7 L1451.8 603.4 L1452.6 603.9 L1453.3 604.0 L1454.1 603.9 L1454.9 604.2 L1455.7 604.3 L1456.5 604.0 L1457.3 604.0 L1458.1 604.2 L1458.9 604.2 L1459.7 604.2 L1460.5 604.1 L1461.3 604.2 L1462.1 604.3 L1462.8 603.9 L1463.6 603.9 L1464.4 604.2 L1465.2 603.8 L1466.0 604.0 L1466.8 604.2 L1467.6 604.3 L1468.4 604.3 L1469.2 604.5 L1470.0 604.5 L1470.8 604.5 L1471.6 604.7 L1472.3 604.5 L1473.1 604.5 L1473.9 604.4 L1474.7 604.6 L1475.5 604.6 L1476.3 604.9 L1477.1 605.2 L1477.9 605.1 L1478.7 605.0 L1479.5 604.8 L1480.3 604.7 L1481.1 604.8 L1481.8 605.1 L1482.6 605.1 L1483.4 605.3 L1484.2 605.3 L1485.0 605.0 L1485.8 604.8 L1486.6 604.7 L1487.4 605.0 L1488.2 605.1 L1489.0 605.4 L1489.8 605.8 L1490.5 605.9 L1491.3 606.0 L1492.1 606.1 L1492.9 606.2 L1493.7 606.0 L1494.5 605.7 L1495.3 605.8 L1496.1 605.9 L1496.9 605.6 L1497.7 605.9 L1498.5 606.3 L1499.3 606.2 L1500.0 606.3 L1500.8 606.8 L1501.6 606.7 L1502.4 606.7 L1503.2 606.4 L1504.0 606.5 L1504.8 606.4 L1505.6 606.5 L1506.4 607.0 L1507.2 607.4 L1508.0 607.3 L1508.8 607.3 L1509.5 607.4 L1510.3 607.1 L1511.1 607.2 L1511.9 607.7 L1512.7 607.5 L1513.5 607.6 L1514.3 607.7 L1515.1 607.6 L1515.9 607.5 L1516.7 607.9 L1517.5 607.6 L1518.3 607.6 L1519.0 607.8 L1519.8 608.0 L1520.6 608.2 L1521.4 608.5 L1522.2 608.4 L1523.0 608.7 L1523.8 608.6 L1524.6 608.3 L1525.4 608.4 L1526.2 608.7 L1527.0 608.6 L1527.7 608.7 L1528.5 609.0 L1529.3 608.9 L1530.1 608.9 L1530.9 609.1 L1531.7 609.1 L1532.5 609.5 L1533.3 609.7 L1534.1 609.9 L1534.9 610.4 L1535.7 610.3 L1536.5 610.0 L1537.2 610.2 L1538.0 610.4 L1538.8 610.2 L1539.6 610.6 L1540.4 611.0 L1541.2 611.1 L1542.0 611.1 L1542.8 611.2 L1543.6 611.2 L1544.4 611.2 L1545.2 611.4 L1546.0 611.5 L1546.7 611.8 L1547.5 612.1 L1548.3 612.2 L1549.1 612.2 L1549.9 612.3 L1550.7 612.3 L1551.5 612.5 L1552.3 612.7 L1553.1 613.1 L1553.9 613.2 L1554.7 613.6 L1555.5 613.9 L1556.2 614.1 L1557.0 614.0 L1557.8 614.0 L1558.6 614.0 L1559.4 613.8 L1560.2 613.9 L1561.0 614.2 L1561.8 614.7 L1562.6 615.1 L1563.4 615.3 L1564.2 615.4 L1564.9 615.5 L1565.7 615.3 L1566.5 615.2 L1567.3 615.9 L1568.1 616.1 L1568.9 616.6 L1569.7 617.2 L1570.5 618.0 L1571.3 618.4 L1572.1 619.0 L1572.9 619.1 L1573.7 619.8 L1574.4 619.8 L1575.2 620.0 L1576.0 620.3 L1576.8 620.9 L1577.6 620.8 L1578.4 621.4 L1579.2 622.1 L1580.0 622.4 L1580.8 622.9 L1581.6 624.0 L1582.4 624.6 L1583.2 625.0 L1583.9 626.0 L1584.7 626.8 L1585.5 627.4 L1586.3 628.2 L1587.1 628.8 L1587.9 629.3 L1588.7 630.2 L1589.5 630.9 L1590.3 631.4 L1591.1 632.4 L1591.9 633.3 L1592.7 633.8 L1593.4 634.8 L1594.2 635.7 L1595.0 636.7 L1595.8 637.5 L1596.6 638.6 L1597.4 639.6 L1598.2 640.9 L1599.0 641.9 L1599.8 642.9 L1600.6 644.1 L1601.4 645.2 L1602.2 646.3 L1602.9 647.6 L1603.7 649.0 L1604.5 650.6 L1605.3 651.8 L1606.1 653.3 L1606.9 654.6 L1607.7 656.1 L1608.5 657.2 L1609.3 659.0 L1610.1 660.4 L1610.9 661.9 L1611.6 663.5 L1612.4 665.3 L1613.2 666.5 L1614.0 668.0 L1614.8 669.4 L1615.6 670.7 L1616.4 672.4 L1617.2 674.0 L1618.0 675.3 L1618.8 676.9 L1619.6 678.5 L1620.4 679.7 L1621.1 680.5 L1621.9 681.8 L1622.7 682.6 L1623.5 683.3 L1624.3 683.7 L1625.1 684.3 L1625.9 684.9 L1626.7 685.3 L1627.5 685.6 L1628.3 686.0 L1629.1 686.4 L1629.9 686.1 L1630.6 685.7 L1631.4 685.1 L1632.2 684.4 L1633.0 683.9 L1633.8 683.2 L1634.6 682.6 L1635.4 681.9 L1636.2 681.2 L1637.0 679.9 L1637.8 678.7 L1638.6 677.3 L1639.4 675.9 L1640.1 674.4 L1640.9 673.2 L1641.7 672.1 L1642.5 671.0 L1643.3 669.7 L1644.1 668.5 L1644.9 667.2 L1645.7 665.6 L1646.5 664.3 L1647.3 662.8 L1648.1 661.4 L1648.8 659.9 L1649.6 658.6 L1650.4 657.2 L1651.2 655.9 L1652.0 654.7 L1652.8 653.8 L1653.6 652.7 L1654.4 651.4 L1655.2 650.5 L1656.0 649.4 L1656.8 647.9 L1657.6 647.1 L1658.3 646.5 L1659.1 645.5 L1659.9 644.6 L1660.7 644.2 L1661.5 643.0 L1662.3 642.2 L1663.1 641.4 L1663.9 640.8 L1664.7 640.0 L1665.5 639.5 L1666.3 639.0 L1667.1 638.3 L1667.8 637.6 L1668.6 637.2 L1669.4 636.7 L1670.2 636.4 L1671.0 636.2 L1671.8 636.1 L1672.6 635.6 L1673.4 635.4 L1674.2 635.0 L1675.0 634.4 L1675.8 633.7 L1676.6 633.6 L1677.3 633.3 L1678.1 633.0 L1678.9 633.2 L1679.7 633.3 L1680.5 632.6 L1681.3 632.5 L1682.1 632.1 L1682.9 631.6 L1683.7 631.1 L1684.5 631.2 L1685.3 631.0 L1686.0 631.2 L1686.8 631.0 L1687.6 631.0 L1688.4 631.0 L1689.2 630.8 L1690.0 630.6 L1690.8 630.6 L1691.6 630.6 L1692.4 630.8 L1693.2 630.9 L1694.0 630.7 L1694.8 630.9 L1695.5 630.7 L1696.3 630.3 L1697.1 630.0 L1697.9 629.9 L1698.7 629.7 L1699.5 629.7 L1700.3 629.6 L1701.1 629.4 L1701.9 629.2 L1702.7 628.9 L1703.5 628.5 L1704.3 628.5 L1705.0 628.4 L1705.8 628.2 L1706.6 628.3 L1707.4 628.6 L1708.2 628.5 L1709.0 628.7 L1709.8 628.8 L1710.6 628.5 L1711.4 628.4 L1712.2 628.6 L1713.0 628.5 L1713.8 628.5 L1714.5 628.3 L1715.3 628.0 L1716.1 627.7 L1716.9 627.7 L1717.7 627.9 L1718.5 628.2 L1719.3 628.1 L1720.1 628.0 L1720.9 627.9 L1721.7 627.8 L1722.5 627.5 L1723.2 627.5 L1724.0 627.6 L1724.8 627.1 L1725.6 627.0 L1726.4 627.0 L1727.2 627.0 L1728.0 626.8 L1728.8 626.9 L1729.6 627.0 L1730.4 626.7 L1731.2 626.4 L1732.0 626.4 L1732.7 626.3 L1733.5 626.1 L1734.3 626.1 L1735.1 626.4 L1735.9 626.4 L1736.7 626.2 L1737.5 626.0 L1738.3 626.3 L1739.1 626.1 L1739.9 626.3 L1740.7 626.6 L1741.5 626.5 L1742.2 626.1 L1743.0 626.2 L1743.8 625.9 L1744.6 625.9 L1745.4 625.7 L1746.2 625.5 L1747.0 625.4 L1747.8 625.5 L1748.6 625.2 L1749.4 625.1 L1750.2 625.3 L1751.0 625.3 L1751.7 625.4 L1752.5 625.2 L1753.3 625.1 L1754.1 625.0 L1754.9 624.5 L1755.7 624.3 L1756.5 624.3 L1757.3 624.7 L1758.1 624.8 L1758.9 625.0 L1759.7 624.8 L1760.4 624.8 L1761.2 624.7 L1762.0 624.5 L1762.8 624.5 L1763.6 624.6 L1764.4 624.6 L1765.2 624.3 L1766.0 624.1 L1766.8 624.2 L1767.6 624.0 L1768.4 623.9 L1769.2 623.9 L1769.9 623.9 L1770.7 623.5 L1771.5 623.5 L1772.3 623.7 L1773.1 623.6 L1773.9 623.7 L1774.7 623.8 L1775.5 623.8 L1776.3 623.7 L1777.1 623.8 L1777.9 623.6 L1778.7 623.7 L1779.4 623.4 L1780.2 623.1 L1781.0 623.1 L1781.8 622.8 L1782.6 622.7 L1783.4 622.9 L1784.2 623.2 L1785.0 623.0 L1785.8 623.0 L1786.6 622.7 L1787.4 622.8 L1788.2 622.3 L1788.9 622.2 L1789.7 622.2 L1790.5 622.4 L1791.3 622.4 L1792.1 622.5 L1792.9 622.7 L1793.7 623.0 L1794.5 622.9 L1795.3 622.6 L1796.1 622.6 L1796.9 622.2 L1797.7 622.0 L1798.4 622.3 L1799.2 622.6 L1800.0 622.4 L1800.8 622.7 L1801.6 622.7 L1802.4 622.6 L1803.2 622.4 L1804.0 622.6 L1804.8 622.5 L1805.6 622.5 L1806.4 622.3 L1807.1 622.1 L1807.9 622.0 L1808.7 621.9 L1809.5 622.2 L1810.3 622.2 L1811.1 622.0 L1811.9 621.8 L1812.7 622.0 L1813.5 621.5 L1814.3 621.4 L1815.1 621.5 L1815.9 621.3 L1816.6 621.2 L1817.4 621.1 L1818.2 621.1 L1819.0 621.1 L1819.8 621.5 L1820.6 621.4 L1821.4 621.5 L1822.2 621.4 L1823.0 621.2 L1823.8 620.9 L1824.6 620.7 L1825.4 620.6 L1826.1 620.4 L1826.9 620.3 L1827.7 620.0 L1828.5 620.1 L1829.3 619.9 L1830.1 620.0 L1830.9 620.3 L1831.7 620.4 L1832.5 620.4 L1833.3 620.7 L1834.1 620.8 L1834.9 620.6 L1835.6 620.3 L1836.4 620.2 L1837.2 619.7 L1838.0 619.4 L1838.8 619.2 L1839.6 619.5" fill="none" stroke="#3ea0c6" stroke-width="3.0" stroke-linejoin="round"/><path d="M1364.7 594.4 L1365.5 594.1 L1366.3 594.2 L1367.1 594.1 L1367.9 594.2 L1368.7 593.7 L1369.4 593.6 L1370.2 593.1 L1371.0 593.0 L1371.8 592.9 L1372.6 592.9 L1373.4 592.6 L1374.2 592.7 L1375.0 592.7 L1375.8 592.8 L1376.6 592.9 L1377.4 593.1 L1378.2 593.0 L1378.9 592.8 L1379.7 592.6 L1380.5 592.4 L1381.3 592.1 L1382.1 591.8 L1382.9 591.6 L1383.7 591.3 L1384.5 591.1 L1385.3 590.9 L1386.1 591.3 L1386.9 591.4 L1387.7 591.5 L1388.4 591.5 L1389.2 591.5 L1390.0 591.5 L1390.8 591.3 L1391.6 591.2 L1392.4 591.2 L1393.2 591.3 L1394.0 590.9 L1394.8 590.7 L1395.6 590.7 L1396.4 590.5 L1397.2 590.4 L1397.9 590.3 L1398.7 590.3 L1399.5 590.0 L1400.3 590.0 L1401.1 589.9 L1401.9 590.1 L1402.7 590.0 L1403.5 590.0 L1404.3 589.9 L1405.1 589.9 L1405.9 589.6 L1406.6 589.5 L1407.4 589.4 L1408.2 589.4 L1409.0 589.1 L1409.8 588.9 L1410.6 588.5 L1411.4 588.5 L1412.2 588.4 L1413.0 588.6 L1413.8 588.6 L1414.6 588.6 L1415.4 588.5 L1416.1 588.2 L1416.9 587.8 L1417.7 587.8 L1418.5 588.0 L1419.3 588.1 L1420.1 588.2 L1420.9 588.3 L1421.7 588.3 L1422.5 588.1 L1423.3 587.9 L1424.1 587.6 L1424.9 587.3 L1425.6 586.9 L1426.4 586.9 L1427.2 586.8 L1428.0 586.9 L1428.8 586.8 L1429.6 586.3 L1430.4 586.0 L1431.2 585.8 L1432.0 585.4 L1432.8 585.3 L1433.6 585.5 L1434.4 585.4 L1435.1 585.3 L1435.9 585.5 L1436.7 585.3 L1437.5 585.2 L1438.3 585.1 L1439.1 585.0 L1439.9 584.7 L1440.7 584.7 L1441.5 584.6 L1442.3 584.5 L1443.1 584.2 L1443.8 584.0 L1444.6 584.0 L1445.4 583.7 L1446.2 583.8 L1447.0 584.0 L1447.8 583.6 L1448.6 583.4 L1449.4 583.3 L1450.2 583.5 L1451.0 583.1 L1451.8 583.3 L1452.6 583.3 L1453.3 583.5 L1454.1 583.4 L1454.9 583.7 L1455.7 583.6 L1456.5 583.2 L1457.3 583.3 L1458.1 582.6 L1458.9 582.4 L1459.7 582.3 L1460.5 582.9 L1461.3 582.7 L1462.1 583.1 L1462.8 583.4 L1463.6 583.4 L1464.4 583.3 L1465.2 583.5 L1466.0 583.3 L1466.8 583.2 L1467.6 583.6 L1468.4 583.5 L1469.2 583.4 L1470.0 583.2 L1470.8 583.3 L1471.6 583.0 L1472.3 583.0 L1473.1 583.1 L1473.9 583.3 L1474.7 583.2 L1475.5 583.4 L1476.3 583.7 L1477.1 583.5 L1477.9 583.7 L1478.7 583.8 L1479.5 583.6 L1480.3 583.5 L1481.1 583.6 L1481.8 583.7 L1482.6 583.7 L1483.4 584.0 L1484.2 584.2 L1485.0 583.9 L1485.8 583.9 L1486.6 584.1 L1487.4 584.0 L1488.2 583.7 L1489.0 584.1 L1489.8 584.0 L1490.5 583.8 L1491.3 583.9 L1492.1 584.1 L1492.9 584.1 L1493.7 584.1 L1494.5 583.9 L1495.3 583.6 L1496.1 583.2 L1496.9 583.2 L1497.7 583.1 L1498.5 583.1 L1499.3 582.9 L1500.0 583.2 L1500.8 583.4 L1501.6 583.7 L1502.4 583.6 L1503.2 583.8 L1504.0 584.1 L1504.8 583.8 L1505.6 583.8 L1506.4 583.8 L1507.2 583.9 L1508.0 583.7 L1508.8 583.8 L1509.5 584.0 L1510.3 584.2 L1511.1 584.0 L1511.9 583.9 L1512.7 583.9 L1513.5 583.7 L1514.3 583.6 L1515.1 583.8 L1515.9 584.0 L1516.7 584.0 L1517.5 583.9 L1518.3 584.1 L1519.0 584.0 L1519.8 584.2 L1520.6 584.3 L1521.4 584.5 L1522.2 584.3 L1523.0 584.6 L1523.8 584.4 L1524.6 584.3 L1525.4 584.3 L1526.2 584.5 L1527.0 584.4 L1527.7 584.5 L1528.5 584.5 L1529.3 584.4 L1530.1 584.3 L1530.9 583.9 L1531.7 583.7 L1532.5 583.7 L1533.3 583.9 L1534.1 583.8 L1534.9 584.1 L1535.7 584.5 L1536.5 584.5 L1537.2 584.5 L1538.0 585.0 L1538.8 585.2 L1539.6 585.1 L1540.4 585.4 L1541.2 585.6 L1542.0 585.9 L1542.8 586.2 L1543.6 586.6 L1544.4 586.9 L1545.2 587.2 L1546.0 587.2 L1546.7 587.4 L1547.5 587.6 L1548.3 587.9 L1549.1 588.4 L1549.9 588.9 L1550.7 589.4 L1551.5 589.8 L1552.3 590.0 L1553.1 590.0 L1553.9 590.3 L1554.7 590.3 L1555.5 590.5 L1556.2 590.9 L1557.0 591.4 L1557.8 592.0 L1558.6 592.1 L1559.4 592.6 L1560.2 592.8 L1561.0 593.2 L1561.8 593.1 L1562.6 593.8 L1563.4 594.0 L1564.2 594.4 L1564.9 594.8 L1565.7 595.2 L1566.5 595.6 L1567.3 596.1 L1568.1 596.6 L1568.9 596.8 L1569.7 597.2 L1570.5 597.5 L1571.3 598.0 L1572.1 598.1 L1572.9 598.9 L1573.7 599.2 L1574.4 599.6 L1575.2 600.0 L1576.0 601.2 L1576.8 601.5 L1577.6 602.3 L1578.4 603.1 L1579.2 603.7 L1580.0 604.1 L1580.8 604.7 L1581.6 605.3 L1582.4 605.7 L1583.2 606.3 L1583.9 606.9 L1584.7 607.6 L1585.5 608.2 L1586.3 608.9 L1587.1 609.7 L1587.9 609.9 L1588.7 610.3 L1589.5 610.9 L1590.3 611.6 L1591.1 612.3 L1591.9 613.2 L1592.7 614.1 L1593.4 615.0 L1594.2 615.9 L1595.0 616.8 L1595.8 618.0 L1596.6 619.1 L1597.4 620.3 L1598.2 621.3 L1599.0 622.6 L1599.8 623.7 L1600.6 625.2 L1601.4 626.8 L1602.2 628.6 L1602.9 630.2 L1603.7 631.9 L1604.5 633.5 L1605.3 635.0 L1606.1 636.6 L1606.9 638.4 L1607.7 640.4 L1608.5 642.5 L1609.3 644.6 L1610.1 646.8 L1610.9 649.0 L1611.6 651.3 L1612.4 653.1 L1613.2 655.6 L1614.0 657.9 L1614.8 660.1 L1615.6 662.3 L1616.4 664.7 L1617.2 666.4 L1618.0 668.7 L1618.8 670.4 L1619.6 672.6 L1620.4 674.5 L1621.1 676.4 L1621.9 677.8 L1622.7 679.6 L1623.5 680.8 L1624.3 681.8 L1625.1 682.8 L1625.9 683.7 L1626.7 684.6 L1627.5 685.2 L1628.3 685.4 L1629.1 685.4 L1629.9 685.3 L1630.6 684.7 L1631.4 684.2 L1632.2 683.4 L1633.0 683.0 L1633.8 682.2 L1634.6 681.3 L1635.4 679.9 L1636.2 678.8 L1637.0 677.1 L1637.8 675.6 L1638.6 673.9 L1639.4 672.1 L1640.1 670.0 L1640.9 668.0 L1641.7 665.8 L1642.5 663.5 L1643.3 661.6 L1644.1 659.7 L1644.9 657.8 L1645.7 655.5 L1646.5 653.4 L1647.3 651.4 L1648.1 649.2 L1648.8 647.3 L1649.6 645.6 L1650.4 643.7 L1651.2 641.7 L1652.0 640.0 L1652.8 637.9 L1653.6 635.8 L1654.4 634.1 L1655.2 632.2 L1656.0 630.6 L1656.8 629.3 L1657.6 628.0 L1658.3 626.7 L1659.1 625.5 L1659.9 624.6 L1660.7 623.5 L1661.5 622.7 L1662.3 621.7 L1663.1 621.1 L1663.9 620.0 L1664.7 619.1 L1665.5 618.2 L1666.3 617.4 L1667.1 616.4 L1667.8 615.5 L1668.6 614.8 L1669.4 614.3 L1670.2 613.9 L1671.0 613.4 L1671.8 613.1 L1672.6 612.7 L1673.4 612.2 L1674.2 611.8 L1675.0 611.4 L1675.8 610.9 L1676.6 610.2 L1677.3 609.5 L1678.1 608.7 L1678.9 608.1 L1679.7 607.6 L1680.5 607.1 L1681.3 606.8 L1682.1 606.6 L1682.9 606.2 L1683.7 605.7 L1684.5 605.4 L1685.3 605.3 L1686.0 604.7 L1686.8 604.3 L1687.6 604.2 L1688.4 604.2 L1689.2 604.1 L1690.0 604.3 L1690.8 604.3 L1691.6 603.9 L1692.4 603.6 L1693.2 603.3 L1694.0 603.1 L1694.8 603.1 L1695.5 603.1 L1696.3 603.3 L1697.1 603.1 L1697.9 603.0 L1698.7 602.8 L1699.5 602.8 L1700.3 602.4 L1701.1 602.2 L1701.9 602.1 L1702.7 602.2 L1703.5 601.9 L1704.3 602.0 L1705.0 602.3 L1705.8 602.2 L1706.6 601.7 L1707.4 601.7 L1708.2 601.8 L1709.0 601.5 L1709.8 601.2 L1710.6 601.5 L1711.4 601.5 L1712.2 601.4 L1713.0 601.4 L1713.8 601.4 L1714.5 601.3 L1715.3 601.5 L1716.1 601.3 L1716.9 601.2 L1717.7 601.2 L1718.5 601.2 L1719.3 600.9 L1720.1 600.8 L1720.9 600.9 L1721.7 601.2 L1722.5 601.2 L1723.2 601.3 L1724.0 601.1 L1724.8 601.0 L1725.6 600.6 L1726.4 600.7 L1727.2 600.7 L1728.0 600.8 L1728.8 601.0 L1729.6 601.3 L1730.4 601.3 L1731.2 601.1 L1732.0 601.3 L1732.7 601.1 L1733.5 601.2 L1734.3 600.9 L1735.1 600.8 L1735.9 600.5 L1736.7 600.6 L1737.5 600.3 L1738.3 600.2 L1739.1 600.2 L1739.9 600.0 L1740.7 599.6 L1741.5 599.6 L1742.2 599.8 L1743.0 599.9 L1743.8 600.1 L1744.6 600.4 L1745.4 600.4 L1746.2 600.3 L1747.0 600.0 L1747.8 600.1 L1748.6 600.1 L1749.4 600.0 L1750.2 600.2 L1751.0 600.3 L1751.7 600.2 L1752.5 600.0 L1753.3 600.2 L1754.1 600.0 L1754.9 600.1 L1755.7 600.3 L1756.5 600.2 L1757.3 599.8 L1758.1 599.9 L1758.9 599.8 L1759.7 599.7 L1760.4 599.6 L1761.2 599.8 L1762.0 599.7 L1762.8 599.7 L1763.6 599.5 L1764.4 599.7 L1765.2 599.6 L1766.0 599.7 L1766.8 599.6 L1767.6 599.7 L1768.4 599.5 L1769.2 599.4 L1769.9 599.4 L1770.7 599.3 L1771.5 599.1 L1772.3 599.3 L1773.1 599.3 L1773.9 599.4 L1774.7 599.8 L1775.5 600.0 L1776.3 599.9 L1777.1 599.7 L1777.9 599.5 L1778.7 599.7 L1779.4 599.6 L1780.2 599.6 L1781.0 599.9 L1781.8 599.9 L1782.6 599.6 L1783.4 599.5 L1784.2 599.5 L1785.0 599.3 L1785.8 599.3 L1786.6 599.1 L1787.4 599.2 L1788.2 599.0 L1788.9 599.3 L1789.7 599.1 L1790.5 599.3 L1791.3 599.3 L1792.1 599.3 L1792.9 599.1 L1793.7 599.4 L1794.5 599.6 L1795.3 599.7 L1796.1 599.6 L1796.9 599.6 L1797.7 599.5 L1798.4 599.5 L1799.2 599.3 L1800.0 599.7 L1800.8 599.8 L1801.6 599.5 L1802.4 599.6 L1803.2 599.7 L1804.0 599.5 L1804.8 599.5 L1805.6 599.8 L1806.4 599.3 L1807.1 599.2 L1807.9 599.1 L1808.7 599.3 L1809.5 599.1 L1810.3 599.2 L1811.1 599.1 L1811.9 598.9 L1812.7 598.5 L1813.5 598.6 L1814.3 598.7 L1815.1 598.8 L1815.9 598.9 L1816.6 599.2 L1817.4 599.0 L1818.2 598.9 L1819.0 598.8 L1819.8 598.9 L1820.6 598.8 L1821.4 598.9 L1822.2 598.9 L1823.0 598.7 L1823.8 598.8 L1824.6 598.8 L1825.4 598.8 L1826.1 598.8 L1826.9 598.9 L1827.7 598.7 L1828.5 598.7 L1829.3 598.7 L1830.1 598.8 L1830.9 598.8 L1831.7 598.9 L1832.5 599.0 L1833.3 599.0 L1834.1 598.8 L1834.9 598.9 L1835.6 598.8 L1836.4 598.6 L1837.2 598.7 L1838.0 598.8 L1838.8 598.8 L1839.6 598.8" fill="none" stroke="#3799c8" stroke-width="3.0" stroke-linejoin="round"/><path d="M1364.7 597.0 L1365.5 596.9 L1366.3 596.9 L1367.1 596.9 L1367.9 596.5 L1368.7 596.5 L1369.4 596.6 L1370.2 596.4 L1371.0 596.1 L1371.8 596.2 L1372.6 596.1 L1373.4 595.7 L1374.2 595.6 L1375.0 595.2 L1375.8 595.1 L1376.6 595.1 L1377.4 594.8 L1378.2 594.9 L1378.9 594.8 L1379.7 594.8 L1380.5 594.4 L1381.3 594.6 L1382.1 594.1 L1382.9 593.9 L1383.7 593.5 L1384.5 593.5 L1385.3 593.3 L1386.1 593.3 L1386.9 593.2 L1387.7 593.3 L1388.4 593.4 L1389.2 593.0 L1390.0 593.0 L1390.8 593.1 L1391.6 592.9 L1392.4 592.6 L1393.2 592.8 L1394.0 592.7 L1394.8 592.9 L1395.6 592.9 L1396.4 592.9 L1397.2 592.6 L1397.9 592.6 L1398.7 592.2 L1399.5 592.3 L1400.3 592.0 L1401.1 591.9 L1401.9 591.7 L1402.7 591.5 L1403.5 591.2 L1404.3 591.2 L1405.1 591.2 L1405.9 591.2 L1406.6 591.3 L1407.4 591.2 L1408.2 591.1 L1409.0 590.9 L1409.8 590.7 L1410.6 590.6 L1411.4 590.4 L1412.2 590.5 L1413.0 590.5 L1413.8 590.4 L1414.6 590.2 L1415.4 590.2 L1416.1 589.8 L1416.9 589.7 L1417.7 589.8 L1418.5 589.4 L1419.3 589.1 L1420.1 589.0 L1420.9 588.8 L1421.7 588.4 L1422.5 588.4 L1423.3 588.3 L1424.1 588.2 L1424.9 588.2 L1425.6 588.1 L1426.4 587.9 L1427.2 588.0 L1428.0 588.0 L1428.8 588.0 L1429.6 588.3 L1430.4 588.4 L1431.2 588.0 L1432.0 587.7 L1432.8 587.1 L1433.6 586.7 L1434.4 586.1 L1435.1 586.2 L1435.9 586.2 L1436.7 586.4 L1437.5 586.3 L1438.3 586.5 L1439.1 586.5 L1439.9 586.3 L1440.7 586.0 L1441.5 586.1 L1442.3 585.9 L1443.1 585.7 L1443.8 585.3 L1444.6 585.2 L1445.4 585.1 L1446.2 585.0 L1447.0 584.9 L1447.8 585.2 L1448.6 585.5 L1449.4 585.2 L1450.2 585.2 L1451.0 585.2 L1451.8 585.0 L1452.6 584.4 L1453.3 584.2 L1454.1 584.2 L1454.9 583.8 L1455.7 583.8 L1456.5 583.9 L1457.3 584.2 L1458.1 584.1 L1458.9 584.3 L1459.7 584.4 L1460.5 584.4 L1461.3 584.5 L1462.1 584.5 L1462.8 584.5 L1463.6 584.4 L1464.4 584.4 L1465.2 584.5 L1466.0 584.4 L1466.8 584.3 L1467.6 584.4 L1468.4 584.4 L1469.2 583.9 L1470.0 584.1 L1470.8 584.0 L1471.6 584.0 L1472.3 584.1 L1473.1 584.3 L1473.9 584.5 L1474.7 584.5 L1475.5 584.5 L1476.3 584.3 L1477.1 584.5 L1477.9 584.1 L1478.7 584.0 L1479.5 584.1 L1480.3 584.2 L1481.1 583.9 L1481.8 584.2 L1482.6 584.3 L1483.4 584.3 L1484.2 584.3 L1485.0 584.5 L1485.8 584.4 L1486.6 584.8 L1487.4 584.8 L1488.2 584.6 L1489.0 584.5 L1489.8 584.5 L1490.5 584.3 L1491.3 584.1 L1492.1 584.3 L1492.9 584.4 L1493.7 584.4 L1494.5 584.4 L1495.3 584.6 L1496.1 584.6 L1496.9 584.5 L1497.7 584.8 L1498.5 585.1 L1499.3 584.7 L1500.0 584.7 L1500.8 585.0 L1501.6 584.7 L1502.4 584.5 L1503.2 584.7 L1504.0 584.8 L1504.8 584.8 L1505.6 584.8 L1506.4 585.1 L1507.2 585.2 L1508.0 584.9 L1508.8 584.7 L1509.5 584.7 L1510.3 584.4 L1511.1 584.5 L1511.9 584.6 L1512.7 584.5 L1513.5 584.5 L1514.3 584.8 L1515.1 584.9 L1515.9 585.1 L1516.7 585.2 L1517.5 585.3 L1518.3 585.2 L1519.0 585.1 L1519.8 584.9 L1520.6 585.1 L1521.4 585.0 L1522.2 585.0 L1523.0 585.3 L1523.8 585.4 L1524.6 585.5 L1525.4 585.8 L1526.2 585.8 L1527.0 585.3 L1527.7 585.2 L1528.5 584.9 L1529.3 584.8 L1530.1 585.0 L1530.9 585.3 L1531.7 585.6 L1532.5 585.9 L1533.3 585.6 L1534.1 585.3 L1534.9 585.5 L1535.7 585.3 L1536.5 585.3 L1537.2 586.0 L1538.0 586.1 L1538.8 586.2 L1539.6 586.5 L1540.4 586.4 L1541.2 586.5 L1542.0 586.7 L1542.8 586.9 L1543.6 587.3 L1544.4 587.9 L1545.2 588.0 L1546.0 588.3 L1546.7 588.7 L1547.5 588.7 L1548.3 589.1 L1549.1 589.3 L1549.9 589.6 L1550.7 589.7 L1551.5 590.1 L1552.3 590.3 L1553.1 590.8 L1553.9 591.3 L1554.7 591.8 L1555.5 592.2 L1556.2 592.7 L1557.0 592.9 L1557.8 593.1 L1558.6 592.9 L1559.4 593.3 L1560.2 593.1 L1561.0 593.3 L1561.8 593.5 L1562.6 594.1 L1563.4 594.3 L1564.2 594.8 L1564.9 595.2 L1565.7 595.5 L1566.5 595.9 L1567.3 595.9 L1568.1 596.0 L1568.9 596.8 L1569.7 597.3 L1570.5 597.7 L1571.3 598.5 L1572.1 599.5 L1572.9 599.9 L1573.7 600.4 L1574.4 600.7 L1575.2 601.0 L1576.0 601.1 L1576.8 601.4 L1577.6 601.7 L1578.4 602.2 L1579.2 602.6 L1580.0 603.2 L1580.8 603.7 L1581.6 604.6 L1582.4 604.9 L1583.2 605.6 L1583.9 606.3 L1584.7 606.9 L1585.5 607.2 L1586.3 608.0 L1587.1 608.4 L1587.9 608.7 L1588.7 608.8 L1589.5 609.4 L1590.3 610.0 L1591.1 610.4 L1591.9 611.0 L1592.7 611.9 L1593.4 612.5 L1594.2 612.7 L1595.0 613.5 L1595.8 614.4 L1596.6 615.2 L1597.4 616.0 L1598.2 617.2 L1599.0 618.1 L1599.8 619.0 L1600.6 620.3 L1601.4 621.4 L1602.2 622.6 L1602.9 623.8 L1603.7 625.1 L1604.5 626.4 L1605.3 627.8 L1606.1 629.4 L1606.9 631.2 L1607.7 632.8 L1608.5 634.2 L1609.3 635.9 L1610.1 637.7 L1610.9 639.0 L1611.6 640.7 L1612.4 642.7 L1613.2 644.4 L1614.0 645.8 L1614.8 647.3 L1615.6 649.0 L1616.4 650.7 L1617.2 652.2 L1618.0 654.0 L1618.8 655.7 L1619.6 657.3 L1620.4 658.9 L1621.1 660.6 L1621.9 662.0 L1622.7 663.4 L1623.5 664.3 L1624.3 665.0 L1625.1 665.4 L1625.9 666.1 L1626.7 666.2 L1627.5 666.5 L1628.3 666.9 L1629.1 667.1 L1629.9 667.1 L1630.6 667.6 L1631.4 667.3 L1632.2 666.8 L1633.0 666.1 L1633.8 665.2 L1634.6 663.9 L1635.4 663.1 L1636.2 662.1 L1637.0 661.1 L1637.8 660.1 L1638.6 658.9 L1639.4 657.2 L1640.1 655.9 L1640.9 654.6 L1641.7 652.8 L1642.5 651.1 L1643.3 649.6 L1644.1 647.5 L1644.9 645.6 L1645.7 643.8 L1646.5 642.2 L1647.3 640.5 L1648.1 639.1 L1648.8 637.6 L1649.6 636.0 L1650.4 634.4 L1651.2 633.1 L1652.0 631.7 L1652.8 630.1 L1653.6 629.1 L1654.4 627.8 L1655.2 626.5 L1656.0 625.2 L1656.8 624.4 L1657.6 623.0 L1658.3 622.1 L1659.1 620.9 L1659.9 619.6 L1660.7 619.0 L1661.5 618.3 L1662.3 617.6 L1663.1 617.0 L1663.9 616.4 L1664.7 615.3 L1665.5 614.4 L1666.3 613.6 L1667.1 613.1 L1667.8 612.6 L1668.6 612.3 L1669.4 612.1 L1670.2 611.6 L1671.0 611.2 L1671.8 610.8 L1672.6 610.4 L1673.4 609.8 L1674.2 609.2 L1675.0 608.6 L1675.8 608.1 L1676.6 607.4 L1677.3 607.1 L1678.1 606.8 L1678.9 606.3 L1679.7 605.8 L1680.5 605.6 L1681.3 605.1 L1682.1 604.9 L1682.9 604.7 L1683.7 604.5 L1684.5 604.2 L1685.3 603.8 L1686.0 603.4 L1686.8 602.7 L1687.6 602.6 L1688.4 602.3 L1689.2 602.3 L1690.0 602.3 L1690.8 602.7 L1691.6 602.2 L1692.4 602.5 L1693.2 602.3 L1694.0 602.2 L1694.8 601.8 L1695.5 602.1 L1696.3 601.5 L1697.1 601.2 L1697.9 601.0 L1698.7 600.9 L1699.5 600.6 L1700.3 600.8 L1701.1 600.6 L1701.9 600.5 L1702.7 600.5 L1703.5 600.5 L1704.3 600.4 L1705.0 600.4 L1705.8 600.5 L1706.6 600.4 L1707.4 600.6 L1708.2 600.4 L1709.0 600.5 L1709.8 600.5 L1710.6 600.2 L1711.4 600.0 L1712.2 600.2 L1713.0 600.0 L1713.8 599.9 L1714.5 600.5 L1715.3 600.4 L1716.1 600.2 L1716.9 600.3 L1717.7 600.2 L1718.5 599.9 L1719.3 599.9 L1720.1 600.1 L1720.9 600.1 L1721.7 599.9 L1722.5 599.6 L1723.2 599.6 L1724.0 599.1 L1724.8 599.0 L1725.6 599.2 L1726.4 599.3 L1727.2 599.2 L1728.0 599.4 L1728.8 599.5 L1729.6 599.5 L1730.4 599.7 L1731.2 599.7 L1732.0 599.8 L1732.7 599.4 L1733.5 599.3 L1734.3 598.9 L1735.1 598.8 L1735.9 598.6 L1736.7 599.0 L1737.5 599.1 L1738.3 599.0 L1739.1 598.9 L1739.9 599.3 L1740.7 599.0 L1741.5 598.9 L1742.2 599.1 L1743.0 599.1 L1743.8 599.0 L1744.6 598.9 L1745.4 598.8 L1746.2 598.8 L1747.0 599.1 L1747.8 598.7 L1748.6 598.9 L1749.4 599.1 L1750.2 599.0 L1751.0 598.8 L1751.7 598.9 L1752.5 598.6 L1753.3 598.3 L1754.1 598.3 L1754.9 598.1 L1755.7 597.8 L1756.5 598.2 L1757.3 598.1 L1758.1 598.2 L1758.9 598.3 L1759.7 598.6 L1760.4 598.4 L1761.2 598.3 L1762.0 598.2 L1762.8 598.2 L1763.6 598.2 L1764.4 598.4 L1765.2 598.7 L1766.0 598.7 L1766.8 598.9 L1767.6 598.6 L1768.4 598.5 L1769.2 598.1 L1769.9 598.1 L1770.7 598.2 L1771.5 598.4 L1772.3 598.2 L1773.1 598.3 L1773.9 598.4 L1774.7 598.1 L1775.5 597.9 L1776.3 597.8 L1777.1 598.0 L1777.9 598.3 L1778.7 598.3 L1779.4 598.6 L1780.2 598.8 L1781.0 598.7 L1781.8 598.3 L1782.6 598.6 L1783.4 598.5 L1784.2 598.3 L1785.0 598.4 L1785.8 598.5 L1786.6 598.0 L1787.4 597.9 L1788.2 598.0 L1788.9 597.8 L1789.7 597.9 L1790.5 598.1 L1791.3 598.3 L1792.1 598.4 L1792.9 598.5 L1793.7 598.4 L1794.5 598.5 L1795.3 598.2 L1796.1 598.2 L1796.9 598.1 L1797.7 597.8 L1798.4 597.8 L1799.2 598.1 L1800.0 598.1 L1800.8 598.0 L1801.6 598.1 L1802.4 597.9 L1803.2 597.7 L1804.0 597.7 L1804.8 597.7 L1805.6 597.5 L1806.4 597.7 L1807.1 597.7 L1807.9 597.7 L1808.7 597.8 L1809.5 597.9 L1810.3 598.0 L1811.1 598.1 L1811.9 597.9 L1812.7 598.0 L1813.5 598.2 L1814.3 598.1 L1815.1 598.1 L1815.9 598.0 L1816.6 598.0 L1817.4 598.0 L1818.2 597.9 L1819.0 598.0 L1819.8 598.0 L1820.6 598.0 L1821.4 597.8 L1822.2 597.8 L1823.0 597.7 L1823.8 598.0 L1824.6 598.0 L1825.4 597.9 L1826.1 597.9 L1826.9 597.7 L1827.7 597.5 L1828.5 597.4 L1829.3 597.8 L1830.1 597.7 L1830.9 598.0 L1831.7 598.1 L1832.5 598.0 L1833.3 598.0 L1834.1 597.7 L1834.9 597.6 L1835.6 597.6 L1836.4 597.5 L1837.2 597.5 L1838.0 597.8 L1838.8 597.8 L1839.6 597.8" fill="none" stroke="#44a9d6" stroke-width="3.0" stroke-linejoin="round"/></g>
<rect x="1364.7" y="558.0" width="474.9" height="386.3" fill="none" stroke="#3a3a3a" stroke-width="3.4"/>
<line x1="1364.7" y1="945.8" x2="1364.7" y2="951.8" stroke="#3a3a3a" stroke-width="2.6"/><line x1="1523.0" y1="945.8" x2="1523.0" y2="951.8" stroke="#3a3a3a" stroke-width="2.6"/><line x1="1681.3" y1="945.8" x2="1681.3" y2="951.8" stroke="#3a3a3a" stroke-width="2.6"/><line x1="1839.6" y1="945.8" x2="1839.6" y2="951.8" stroke="#3a3a3a" stroke-width="2.6"/><line x1="1443.8" y1="945.8" x2="1443.8" y2="948.8" stroke="#3a3a3a" stroke-width="2.6"/><line x1="1602.2" y1="945.8" x2="1602.2" y2="948.8" stroke="#3a3a3a" stroke-width="2.6"/><line x1="1760.4" y1="945.8" x2="1760.4" y2="948.8" stroke="#3a3a3a" stroke-width="2.6"/>
<text x="1364.7" y="978.6" font-size="27.0" fill="#444444" text-anchor="middle" textLength="43.0" lengthAdjust="spacingAndGlyphs">600</text>
<text x="1523.0" y="978.6" font-size="27.0" fill="#444444" text-anchor="middle" textLength="43.0" lengthAdjust="spacingAndGlyphs">700</text>
<text x="1681.3" y="978.6" font-size="27.0" fill="#444444" text-anchor="middle" textLength="43.0" lengthAdjust="spacingAndGlyphs">800</text>
<text x="1839.6" y="978.6" font-size="27.0" fill="#444444" text-anchor="middle" textLength="43.0" lengthAdjust="spacingAndGlyphs">900</text>
<text x="1602.2" y="1024.2" font-size="29.5" fill="#444444" text-anchor="middle" textLength="231.6" lengthAdjust="spacingAndGlyphs">Wavelength (nm)</text>
<line x1="1363.2" y1="557.9" x2="1357.2" y2="557.9" stroke="#3a3a3a" stroke-width="2.6"/><line x1="1363.2" y1="603.4" x2="1357.2" y2="603.4" stroke="#3a3a3a" stroke-width="2.6"/><line x1="1363.2" y1="648.9" x2="1357.2" y2="648.9" stroke="#3a3a3a" stroke-width="2.6"/><line x1="1363.2" y1="694.3" x2="1357.2" y2="694.3" stroke="#3a3a3a" stroke-width="2.6"/><line x1="1363.2" y1="739.8" x2="1357.2" y2="739.8" stroke="#3a3a3a" stroke-width="2.6"/><line x1="1363.2" y1="785.2" x2="1357.2" y2="785.2" stroke="#3a3a3a" stroke-width="2.6"/><line x1="1363.2" y1="830.7" x2="1357.2" y2="830.7" stroke="#3a3a3a" stroke-width="2.6"/><line x1="1363.2" y1="876.2" x2="1357.2" y2="876.2" stroke="#3a3a3a" stroke-width="2.6"/><line x1="1363.2" y1="921.6" x2="1357.2" y2="921.6" stroke="#3a3a3a" stroke-width="2.6"/><line x1="1363.2" y1="580.7" x2="1359.7" y2="580.7" stroke="#3a3a3a" stroke-width="2.6"/><line x1="1363.2" y1="626.1" x2="1359.7" y2="626.1" stroke="#3a3a3a" stroke-width="2.6"/><line x1="1363.2" y1="671.6" x2="1359.7" y2="671.6" stroke="#3a3a3a" stroke-width="2.6"/><line x1="1363.2" y1="717.0" x2="1359.7" y2="717.0" stroke="#3a3a3a" stroke-width="2.6"/><line x1="1363.2" y1="762.5" x2="1359.7" y2="762.5" stroke="#3a3a3a" stroke-width="2.6"/><line x1="1363.2" y1="808.0" x2="1359.7" y2="808.0" stroke="#3a3a3a" stroke-width="2.6"/><line x1="1363.2" y1="853.4" x2="1359.7" y2="853.4" stroke="#3a3a3a" stroke-width="2.6"/><line x1="1363.2" y1="898.9" x2="1359.7" y2="898.9" stroke="#3a3a3a" stroke-width="2.6"/>
<text x="1352.0" y="567.6" font-size="27.5" fill="#444444" text-anchor="end">2</text>
<text x="1352.0" y="613.1" font-size="27.5" fill="#444444" text-anchor="end">0</text>
<text x="1352.0" y="658.6" font-size="27.5" fill="#444444" text-anchor="end">−2</text>
<text x="1352.0" y="704.0" font-size="27.5" fill="#444444" text-anchor="end">−4</text>
<text x="1352.0" y="749.5" font-size="27.5" fill="#444444" text-anchor="end">−6</text>
<text x="1352.0" y="794.9" font-size="27.5" fill="#444444" text-anchor="end">−8</text>
<text x="1352.0" y="840.4" font-size="27.5" fill="#444444" text-anchor="end">−10</text>
<text x="1352.0" y="885.9" font-size="27.5" fill="#444444" text-anchor="end">−12</text>
<text x="1352.0" y="931.3" font-size="27.5" fill="#444444" text-anchor="end">−14</text>
<text transform="translate(1295,750) rotate(-90)" font-size="31" fill="#444444" text-anchor="middle" textLength="148" lengthAdjust="spacingAndGlyphs">ΔA (×10<tspan dy="-11" font-size="19">−3</tspan><tspan dy="11">)</tspan></text>
<text x="1710.0" y="587.0" font-size="25.5" fill="#444444" textLength="122.0" lengthAdjust="spacingAndGlyphs">Reference</text>
<line x1="1666" y1="747.0" x2="1728" y2="747.0" stroke="#9ecbdc" stroke-width="3"/>
<text x="1736.5" y="756.3" font-size="25.5" fill="#444444" textLength="87.0" lengthAdjust="spacingAndGlyphs">1.84 ps</text>
<line x1="1666" y1="780.4" x2="1728" y2="780.4" stroke="#86c2da" stroke-width="3"/>
<text x="1736.5" y="789.7" font-size="25.5" fill="#444444" textLength="87.0" lengthAdjust="spacingAndGlyphs">1.57 ns</text>
<line x1="1666" y1="813.8" x2="1728" y2="813.8" stroke="#3f9fcb" stroke-width="3"/>
<text x="1736.5" y="823.1" font-size="25.5" fill="#444444" textLength="87.0" lengthAdjust="spacingAndGlyphs">2.53 ns</text>
<line x1="1666" y1="847.2" x2="1728" y2="847.2" stroke="#45a3cc" stroke-width="3"/>
<text x="1736.5" y="856.5" font-size="25.5" fill="#444444" textLength="87.0" lengthAdjust="spacingAndGlyphs">3.63 ns</text>
<line x1="1666" y1="880.6" x2="1728" y2="880.6" stroke="#3799c8" stroke-width="3"/>
<text x="1736.5" y="889.9" font-size="25.5" fill="#444444" textLength="87.0" lengthAdjust="spacingAndGlyphs">5.62 ns</text>
<line x1="1666" y1="914.0" x2="1728" y2="914.0" stroke="#44a9d6" stroke-width="3"/>
<text x="1736.5" y="923.3" font-size="25.5" fill="#444444" textLength="87.0" lengthAdjust="spacingAndGlyphs">6.60 ns</text>
<defs><clipPath id="dRc"><rect x="1926.0" y="553.0" width="475.0" height="385.0"/></clipPath></defs>
<g clip-path="url(#dRc)"><path d="M1926.0 575.9 L1926.5 577.5 L1927.1 577.8 L1927.6 575.6 L1928.1 572.7 L1928.6 571.8 L1929.2 573.7 L1929.7 575.0 L1930.2 575.7 L1930.8 574.6 L1931.3 575.7 L1931.8 574.3 L1932.3 576.3 L1932.9 576.1 L1933.4 577.8 L1933.9 575.9 L1934.4 574.4 L1935.0 573.7 L1935.5 573.2 L1936.0 573.0 L1936.6 572.2 L1937.1 573.3 L1937.6 573.8 L1938.1 574.9 L1938.7 573.4 L1939.2 572.1 L1939.7 570.8 L1940.2 571.6 L1940.8 571.6 L1941.3 572.9 L1941.8 571.8 L1942.4 572.4 L1942.9 572.0 L1943.4 571.7 L1943.9 570.1 L1944.5 570.9 L1945.0 571.8 L1945.5 573.0 L1946.1 573.4 L1946.6 575.5 L1947.1 576.1 L1947.6 574.8 L1948.2 575.2 L1948.7 574.5 L1949.2 575.3 L1949.8 573.7 L1950.3 573.6 L1950.8 571.6 L1951.3 569.9 L1951.9 570.5 L1952.4 571.6 L1952.9 574.7 L1953.4 573.6 L1954.0 573.4 L1954.5 570.2 L1955.0 571.9 L1955.6 572.0 L1956.1 571.5 L1956.6 570.2 L1957.1 569.8 L1957.7 571.7 L1958.2 572.5 L1958.7 573.0 L1959.2 572.3 L1959.8 572.3 L1960.3 571.7 L1960.8 572.5 L1961.4 572.5 L1961.9 571.5 L1962.4 570.5 L1962.9 569.2 L1963.5 569.8 L1964.0 570.4 L1964.5 571.1 L1965.1 571.0 L1965.6 569.9 L1966.1 571.1 L1966.6 571.2 L1967.2 570.8 L1967.7 568.9 L1968.2 569.7 L1968.8 572.4 L1969.3 574.0 L1969.8 572.8 L1970.3 571.6 L1970.9 568.8 L1971.4 569.8 L1971.9 568.8 L1972.4 570.5 L1973.0 568.5 L1973.5 569.0 L1974.0 567.5 L1974.6 567.1 L1975.1 568.0 L1975.6 568.0 L1976.1 570.3 L1976.7 568.4 L1977.2 569.4 L1977.7 568.4 L1978.2 569.9 L1978.8 570.4 L1979.3 569.5 L1979.8 567.9 L1980.4 568.7 L1980.9 570.7 L1981.4 570.7 L1981.9 570.2 L1982.5 568.8 L1983.0 570.1 L1983.5 568.3 L1984.1 569.1 L1984.6 567.5 L1985.1 567.2 L1985.6 566.9 L1986.2 567.9 L1986.7 567.7 L1987.2 564.9 L1987.8 564.2 L1988.3 565.9 L1988.8 567.5 L1989.3 567.6 L1989.9 566.7 L1990.4 566.7 L1990.9 566.9 L1991.4 568.3 L1992.0 569.2 L1992.5 568.5 L1993.0 566.6 L1993.6 566.3 L1994.1 564.5 L1994.6 565.1 L1995.1 564.8 L1995.7 566.7 L1996.2 566.3 L1996.7 566.2 L1997.2 564.7 L1997.8 565.5 L1998.3 565.3 L1998.8 566.6 L1999.4 565.5 L1999.9 564.3 L2000.4 564.8 L2000.9 565.0 L2001.5 566.0 L2002.0 565.7 L2002.5 567.4 L2003.1 567.6 L2003.6 567.6 L2004.1 567.7 L2004.6 567.4 L2005.2 567.9 L2005.7 566.2 L2006.2 567.3 L2006.8 566.2 L2007.3 567.0 L2007.8 565.3 L2008.3 564.6 L2008.9 563.1 L2009.4 563.4 L2009.9 564.8 L2010.4 565.7 L2011.0 566.5 L2011.5 565.2 L2012.0 564.8 L2012.6 564.5 L2013.1 564.9 L2013.6 564.3 L2014.1 563.4 L2014.7 562.0 L2015.2 563.1 L2015.7 564.4 L2016.2 567.1 L2016.8 563.4 L2017.3 563.1 L2017.8 561.8 L2018.4 567.1 L2018.9 565.8 L2019.4 564.4 L2019.9 562.1 L2020.5 561.1 L2021.0 560.4 L2021.5 560.6 L2022.1 560.3 L2022.6 560.5 L2023.1 561.0 L2023.6 563.0 L2024.2 562.7 L2024.7 562.8 L2025.2 562.3 L2025.8 563.1 L2026.3 561.8 L2026.8 561.6 L2027.3 562.9 L2027.9 563.2 L2028.4 562.4 L2028.9 560.7 L2029.4 560.8 L2030.0 561.0 L2030.5 560.5 L2031.0 557.5 L2031.6 558.8 L2032.1 559.6 L2032.6 561.6 L2033.1 559.9 L2033.7 559.3 L2034.2 559.4 L2034.7 559.1 L2035.2 559.6 L2035.8 561.2 L2036.3 561.7 L2036.8 561.5 L2037.4 561.3 L2037.9 561.9 L2038.4 563.2 L2038.9 562.7 L2039.5 563.4 L2040.0 561.7 L2040.5 560.2 L2041.1 560.6 L2041.6 560.8 L2042.1 561.1 L2042.6 557.7 L2043.2 557.4 L2043.7 559.8 L2044.2 562.4 L2044.8 564.2 L2045.3 562.0 L2045.8 560.1 L2046.3 558.5 L2046.9 559.9 L2047.4 561.4 L2047.9 560.9 L2048.4 559.1 L2049.0 557.8 L2049.5 557.7 L2050.0 557.9 L2050.6 559.9 L2051.1 560.9 L2051.6 559.7 L2052.1 557.0 L2052.7 555.9 L2053.2 556.2 L2053.7 558.7 L2054.2 558.1 L2054.8 559.3 L2055.3 558.1 L2055.8 560.1 L2056.4 559.6 L2056.9 558.1 L2057.4 554.9 L2057.9 555.1 L2058.5 555.9 L2059.0 559.0 L2059.5 558.7 L2060.1 561.3 L2060.6 560.4 L2061.1 559.7 L2061.6 556.1 L2062.2 556.6 L2062.7 557.1 L2063.2 558.7 L2063.8 560.8 L2064.3 561.7 L2064.8 561.2 L2065.3 559.3 L2065.9 557.1 L2066.4 557.4 L2066.9 557.6 L2067.4 557.9 L2068.0 558.5 L2068.5 557.8 L2069.0 559.2 L2069.6 558.3 L2070.1 557.0 L2070.6 556.8 L2071.1 558.4 L2071.7 558.8 L2072.2 559.6 L2072.7 560.1 L2073.2 561.4 L2073.8 561.6 L2074.3 561.5 L2074.8 562.4 L2075.4 561.8 L2075.9 561.2 L2076.4 560.4 L2076.9 561.3 L2077.5 560.6 L2078.0 561.7 L2078.5 559.8 L2079.1 562.1 L2079.6 561.4 L2080.1 564.6 L2080.6 563.2 L2081.2 563.2 L2081.7 559.6 L2082.2 559.2 L2082.8 558.9 L2083.3 560.6 L2083.8 561.4 L2084.3 561.4 L2084.9 561.1 L2085.4 561.4 L2085.9 560.1 L2086.4 559.9 L2087.0 559.8 L2087.5 560.9 L2088.0 562.3 L2088.6 561.3 L2089.1 561.1 L2089.6 560.8 L2090.1 562.7 L2090.7 562.1 L2091.2 560.4 L2091.7 558.4 L2092.2 558.6 L2092.8 560.0 L2093.3 561.6 L2093.8 562.5 L2094.4 562.6 L2094.9 562.5 L2095.4 562.8 L2095.9 562.9 L2096.5 562.8 L2097.0 563.3 L2097.5 562.5 L2098.1 562.2 L2098.6 561.8 L2099.1 564.2 L2099.6 564.0 L2100.2 564.4 L2100.7 562.5 L2101.2 563.0 L2101.8 562.3 L2102.3 563.9 L2102.8 564.3 L2103.3 564.5 L2103.9 564.2 L2104.4 563.8 L2104.9 564.5 L2105.4 563.6 L2106.0 564.2 L2106.5 564.6 L2107.0 565.9 L2107.6 566.2 L2108.1 566.2 L2108.6 565.8 L2109.1 565.9 L2109.7 566.9 L2110.2 568.9 L2110.7 570.7 L2111.2 571.9 L2111.8 572.2 L2112.3 572.9 L2112.8 573.5 L2113.4 575.1 L2113.9 575.9 L2114.4 577.3 L2114.9 577.2 L2115.5 577.9 L2116.0 578.5 L2116.5 579.6 L2117.1 581.6 L2117.6 582.8 L2118.1 584.6 L2118.6 585.1 L2119.2 586.3 L2119.7 587.2 L2120.2 588.9 L2120.8 590.4 L2121.3 591.6 L2121.8 592.2 L2122.3 592.7 L2122.9 593.8 L2123.4 595.6 L2123.9 597.4 L2124.4 599.4 L2125.0 600.5 L2125.5 601.7 L2126.0 602.8 L2126.6 603.9 L2127.1 605.0 L2127.6 606.4 L2128.1 607.7 L2128.7 608.8 L2129.2 609.8 L2129.7 611.5 L2130.2 612.8 L2130.8 614.1 L2131.3 615.0 L2131.8 616.3 L2132.4 617.8 L2132.9 619.0 L2133.4 620.4 L2133.9 621.7 L2134.5 623.2 L2135.0 624.6 L2135.5 626.0 L2136.1 627.5 L2136.6 629.1 L2137.1 630.7 L2137.6 632.4 L2138.2 634.2 L2138.7 635.9 L2139.2 637.7 L2139.8 639.5 L2140.3 641.4 L2140.8 643.3 L2141.3 645.2 L2141.9 647.2 L2142.4 649.2 L2142.9 651.3 L2143.4 653.4 L2144.0 655.6 L2144.5 657.7 L2145.0 660.0 L2145.6 662.3 L2146.1 664.6 L2146.6 667.0 L2147.1 669.4 L2147.7 671.8 L2148.2 674.3 L2148.7 676.9 L2149.2 679.4 L2149.8 682.1 L2150.3 684.7 L2150.8 687.4 L2151.4 690.2 L2151.9 693.0 L2152.4 695.8 L2152.9 698.6 L2153.5 701.5 L2154.0 704.5 L2154.5 707.5 L2155.1 710.5 L2155.6 713.5 L2156.1 716.6 L2156.6 719.8 L2157.2 723.0 L2157.7 726.3 L2158.2 729.6 L2158.8 733.0 L2159.3 736.5 L2159.8 740.0 L2160.3 743.6 L2160.9 747.2 L2161.4 750.9 L2161.9 754.7 L2162.4 758.5 L2163.0 762.3 L2163.5 766.2 L2164.0 770.1 L2164.6 774.1 L2165.1 778.1 L2165.6 782.2 L2166.1 786.2 L2166.7 790.4 L2167.2 794.5 L2167.7 798.7 L2168.2 802.8 L2168.8 807.0 L2169.3 811.2 L2169.8 815.5 L2170.4 819.7 L2170.9 823.9 L2171.4 828.1 L2171.9 832.3 L2172.5 836.5 L2173.0 840.7 L2173.5 844.8 L2174.1 848.9 L2174.6 853.0 L2175.1 857.0 L2175.6 861.0 L2176.2 864.9 L2176.7 868.7 L2177.2 872.5 L2177.8 876.2 L2178.3 879.9 L2178.8 883.4 L2179.3 886.9 L2179.9 890.2 L2180.4 893.5 L2180.9 896.6 L2181.4 899.6 L2182.0 902.5 L2182.5 905.3 L2183.0 907.9 L2183.6 910.3 L2184.1 912.7 L2184.6 914.8 L2185.1 916.8 L2185.7 918.7 L2186.2 920.3 L2186.7 921.8 L2187.2 923.1 L2187.8 924.2 L2188.3 925.2 L2188.8 925.9 L2189.4 926.5 L2189.9 926.8 L2190.4 927.0 L2190.9 927.0 L2191.5 926.8 L2192.0 926.4 L2192.5 925.8 L2193.1 925.0 L2193.6 924.0 L2194.1 922.9 L2194.6 921.5 L2195.2 920.0 L2195.7 918.3 L2196.2 916.5 L2196.8 914.5 L2197.3 912.3 L2197.8 910.0 L2198.3 907.5 L2198.9 904.9 L2199.4 902.2 L2199.9 899.3 L2200.4 896.3 L2201.0 893.2 L2201.5 890.0 L2202.0 886.7 L2202.6 883.3 L2203.1 879.9 L2203.6 876.3 L2204.1 872.6 L2204.7 868.9 L2205.2 865.2 L2205.7 861.4 L2206.2 857.5 L2206.8 853.6 L2207.3 849.6 L2207.8 845.6 L2208.4 841.6 L2208.9 837.6 L2209.4 833.5 L2209.9 829.5 L2210.5 825.4 L2211.0 821.3 L2211.5 817.3 L2212.1 813.2 L2212.6 809.2 L2213.1 805.2 L2213.6 801.1 L2214.2 797.2 L2214.7 793.2 L2215.2 789.3 L2215.8 785.4 L2216.3 781.5 L2216.8 777.7 L2217.3 773.9 L2217.9 770.2 L2218.4 766.5 L2218.9 762.8 L2219.4 759.2 L2220.0 755.7 L2220.5 752.2 L2221.0 748.8 L2221.6 745.4 L2222.1 742.1 L2222.6 738.8 L2223.1 735.7 L2223.7 732.5 L2224.2 729.5 L2224.7 726.4 L2225.2 723.5 L2225.8 720.6 L2226.3 717.8 L2226.8 715.1 L2227.4 712.4 L2227.9 709.8 L2228.4 707.2 L2228.9 704.7 L2229.5 702.2 L2230.0 699.8 L2230.5 697.4 L2231.1 695.1 L2231.6 692.8 L2232.1 690.6 L2232.6 688.5 L2233.2 686.4 L2233.7 684.4 L2234.2 682.4 L2234.8 680.4 L2235.3 678.5 L2235.8 676.7 L2236.3 674.9 L2236.9 673.2 L2237.4 671.5 L2237.9 669.8 L2238.4 668.2 L2239.0 666.7 L2239.5 665.1 L2240.0 663.7 L2240.6 662.2 L2241.1 660.9 L2241.6 659.5 L2242.1 658.2 L2242.7 656.9 L2243.2 655.7 L2243.7 654.5 L2244.2 653.4 L2244.8 652.3 L2245.3 651.2 L2245.8 650.1 L2246.4 649.1 L2246.9 648.1 L2247.4 647.2 L2247.9 646.3 L2248.5 645.4 L2249.0 644.5 L2249.5 643.7 L2250.1 642.9 L2250.6 642.1 L2251.1 641.4 L2251.6 640.6 L2252.2 639.9 L2252.7 639.3 L2253.2 638.6 L2253.8 638.0 L2254.3 637.4 L2254.8 636.8 L2255.3 636.3 L2255.9 635.7 L2256.4 635.2 L2256.9 634.8 L2257.4 634.3 L2258.0 633.8 L2258.5 633.4 L2259.0 633.0 L2259.6 632.6 L2260.1 632.3 L2260.6 631.9 L2261.1 631.5 L2261.7 631.2 L2262.2 630.8 L2262.7 630.5 L2263.2 630.2 L2263.8 629.9 L2264.3 629.6 L2264.8 629.3 L2265.4 629.0 L2265.9 628.7 L2266.4 628.5 L2266.9 628.2 L2267.5 627.9 L2268.0 627.7 L2268.5 627.4 L2269.1 627.2 L2269.6 626.9 L2270.1 626.7 L2270.6 626.5 L2271.2 626.3 L2271.7 626.0 L2272.2 625.8 L2272.8 625.6 L2273.3 625.4 L2273.8 625.2 L2274.3 625.0 L2274.9 624.8 L2275.4 624.6 L2275.9 624.4 L2276.4 624.2 L2277.0 624.0 L2277.5 623.9 L2278.0 623.7 L2278.6 623.5 L2279.1 623.3 L2279.6 623.1 L2280.1 623.0 L2280.7 622.8 L2281.2 622.6 L2281.7 622.5 L2282.2 622.3 L2282.8 622.2 L2283.3 622.0 L2283.8 621.8 L2284.4 621.7 L2284.9 621.5 L2285.4 621.4 L2285.9 621.2 L2286.5 621.1 L2287.0 620.9 L2287.5 620.8 L2288.1 620.7 L2288.6 620.5 L2289.1 620.4 L2289.6 620.2 L2290.2 620.1 L2290.7 620.0 L2291.2 619.8 L2291.8 619.7 L2292.3 619.6 L2292.8 619.4 L2293.3 619.3 L2293.9 619.2 L2294.4 619.0 L2294.9 618.9 L2295.4 618.8 L2296.0 618.7 L2296.5 618.5 L2297.0 618.4 L2297.6 618.3 L2298.1 618.2 L2298.6 618.1 L2299.1 617.9 L2299.7 617.8 L2300.2 617.7 L2300.7 617.6 L2301.2 617.5 L2301.8 617.4 L2302.3 617.2 L2302.8 617.1 L2303.4 617.0 L2303.9 616.9 L2304.4 616.8 L2304.9 616.7 L2305.5 616.6 L2306.0 616.5 L2306.5 616.4 L2307.1 616.3 L2307.6 616.1 L2308.1 616.0 L2308.6 615.9 L2309.2 615.8 L2309.7 615.7 L2310.2 615.6 L2310.8 615.5 L2311.3 615.4 L2311.8 615.3 L2312.3 615.2 L2312.9 615.1 L2313.4 615.0 L2313.9 614.9 L2314.4 614.8 L2315.0 614.7 L2315.5 614.6 L2316.0 614.5 L2316.6 614.4 L2317.1 614.3 L2317.6 614.2 L2318.1 614.1 L2318.7 614.0 L2319.2 613.9 L2319.7 613.8 L2320.2 613.7 L2320.8 613.6 L2321.3 613.5 L2321.8 613.4 L2322.4 613.3 L2322.9 613.2 L2323.4 613.1 L2323.9 613.0 L2324.5 612.9 L2325.0 612.8 L2325.5 612.8 L2326.1 612.7 L2326.6 612.6 L2327.1 612.5 L2327.6 612.4 L2328.2 612.3 L2328.7 612.2 L2329.2 612.1 L2329.8 612.0 L2330.3 611.9 L2330.8 611.8 L2331.3 611.7 L2331.9 611.6 L2332.4 611.6 L2332.9 611.5 L2333.4 611.4 L2334.0 611.3 L2334.5 611.2 L2335.0 611.1 L2335.6 611.0 L2336.1 610.9 L2336.6 610.9 L2337.1 610.8 L2337.7 610.7 L2338.2 610.6 L2338.7 610.5 L2339.2 610.4 L2339.8 610.3 L2340.3 610.3 L2340.8 610.2 L2341.4 610.1 L2341.9 610.0 L2342.4 609.9 L2342.9 609.8 L2343.5 609.8 L2344.0 609.7 L2344.5 609.6 L2345.1 609.5 L2345.6 609.4 L2346.1 609.3 L2346.6 609.3 L2347.2 609.2 L2347.7 609.1 L2348.2 609.0 L2348.8 608.9 L2349.3 608.9 L2349.8 608.8 L2350.3 608.7 L2350.9 608.6 L2351.4 608.6 L2351.9 608.5 L2352.4 608.4 L2353.0 608.3 L2353.5 608.2 L2354.0 608.2 L2354.6 608.1 L2355.1 608.0 L2355.6 607.9 L2356.1 607.9 L2356.7 607.8 L2357.2 607.7 L2357.7 607.6 L2358.2 607.6 L2358.8 607.5 L2359.3 607.4 L2359.8 607.3 L2360.4 607.3 L2360.9 607.2 L2361.4 607.1 L2361.9 607.0 L2362.5 607.0 L2363.0 606.9 L2363.5 606.8 L2364.1 606.8 L2364.6 606.7 L2365.1 606.6 L2365.6 606.5 L2366.2 606.5 L2366.7 606.4 L2367.2 606.3 L2367.8 606.3 L2368.3 606.2 L2368.8 606.1 L2369.3 606.0 L2369.9 606.0 L2370.4 605.9 L2370.9 605.8 L2371.4 605.8 L2372.0 605.7 L2372.5 605.6 L2373.0 605.6 L2373.6 605.5 L2374.1 605.4 L2374.6 605.4 L2375.1 605.3 L2375.7 605.2 L2376.2 605.2 L2376.7 605.1 L2377.2 605.0 L2377.8 605.0 L2378.3 604.9 L2378.8 604.8 L2379.4 604.8 L2379.9 604.7 L2380.4 604.7 L2380.9 604.6 L2381.5 604.5 L2382.0 604.5 L2382.5 604.4 L2383.1 604.3 L2383.6 604.3 L2384.1 604.2 L2384.6 604.2 L2385.2 604.1 L2385.7 604.0 L2386.2 604.0 L2386.8 603.9 L2387.3 603.8 L2387.8 603.8 L2388.3 603.7 L2388.9 603.7 L2389.4 603.6 L2389.9 603.5 L2390.4 603.5 L2391.0 603.4 L2391.5 603.4 L2392.0 603.3 L2392.6 603.3 L2393.1 603.2 L2393.6 603.1 L2394.1 603.1 L2394.7 603.0 L2395.2 603.0 L2395.7 602.9 L2396.2 602.9 L2396.8 602.8 L2397.3 602.7 L2397.8 602.7 L2398.4 602.6 L2398.9 602.6 L2399.4 602.5 L2399.9 602.5 L2400.5 602.4 L2401.0 602.4" fill="none" stroke="#aaaad2" stroke-width="2.2" stroke-linejoin="round"/><path d="M1926.0 572.1 L1926.5 571.1 L1927.1 572.4 L1927.6 573.9 L1928.1 574.5 L1928.6 575.8 L1929.2 575.3 L1929.7 576.9 L1930.2 575.2 L1930.8 572.5 L1931.3 571.4 L1931.8 572.3 L1932.3 573.1 L1932.9 572.2 L1933.4 570.4 L1933.9 573.7 L1934.4 572.6 L1935.0 574.5 L1935.5 571.1 L1936.0 574.1 L1936.6 574.5 L1937.1 574.0 L1937.6 572.8 L1938.1 571.3 L1938.7 572.8 L1939.2 572.7 L1939.7 573.7 L1940.2 573.7 L1940.8 573.2 L1941.3 573.4 L1941.8 573.4 L1942.4 574.4 L1942.9 573.0 L1943.4 573.2 L1943.9 572.3 L1944.5 573.9 L1945.0 573.6 L1945.5 571.8 L1946.1 571.2 L1946.6 571.3 L1947.1 573.5 L1947.6 573.6 L1948.2 571.7 L1948.7 572.0 L1949.2 570.5 L1949.8 572.0 L1950.3 571.0 L1950.8 570.5 L1951.3 570.0 L1951.9 569.0 L1952.4 570.3 L1952.9 571.2 L1953.4 574.0 L1954.0 574.3 L1954.5 573.2 L1955.0 571.8 L1955.6 571.3 L1956.1 572.8 L1956.6 572.1 L1957.1 571.7 L1957.7 568.6 L1958.2 570.6 L1958.7 570.0 L1959.2 570.7 L1959.8 567.7 L1960.3 569.0 L1960.8 569.9 L1961.4 571.4 L1961.9 569.8 L1962.4 569.5 L1962.9 570.9 L1963.5 570.7 L1964.0 571.3 L1964.5 571.5 L1965.1 571.8 L1965.6 572.3 L1966.1 571.6 L1966.6 571.9 L1967.2 571.2 L1967.7 571.2 L1968.2 572.7 L1968.8 572.2 L1969.3 570.2 L1969.8 569.5 L1970.3 570.2 L1970.9 572.2 L1971.4 573.3 L1971.9 574.2 L1972.4 574.4 L1973.0 572.8 L1973.5 573.0 L1974.0 573.2 L1974.6 573.2 L1975.1 571.5 L1975.6 569.1 L1976.1 569.0 L1976.7 569.5 L1977.2 570.5 L1977.7 571.5 L1978.2 571.5 L1978.8 570.9 L1979.3 571.5 L1979.8 569.9 L1980.4 571.6 L1980.9 570.5 L1981.4 572.3 L1981.9 570.7 L1982.5 570.8 L1983.0 572.0 L1983.5 572.0 L1984.1 572.2 L1984.6 570.8 L1985.1 568.5 L1985.6 567.7 L1986.2 567.8 L1986.7 570.0 L1987.2 570.4 L1987.8 568.9 L1988.3 571.0 L1988.8 571.5 L1989.3 572.4 L1989.9 570.2 L1990.4 570.8 L1990.9 571.1 L1991.4 572.5 L1992.0 572.2 L1992.5 570.7 L1993.0 570.4 L1993.6 567.6 L1994.1 566.3 L1994.6 565.6 L1995.1 569.3 L1995.7 572.3 L1996.2 573.1 L1996.7 570.7 L1997.2 570.0 L1997.8 569.9 L1998.3 568.7 L1998.8 568.1 L1999.4 567.2 L1999.9 569.9 L2000.4 571.8 L2000.9 571.7 L2001.5 572.2 L2002.0 571.2 L2002.5 571.7 L2003.1 571.5 L2003.6 570.6 L2004.1 570.1 L2004.6 567.7 L2005.2 567.6 L2005.7 566.1 L2006.2 569.6 L2006.8 571.0 L2007.3 574.8 L2007.8 571.1 L2008.3 568.7 L2008.9 568.2 L2009.4 569.4 L2009.9 570.8 L2010.4 568.9 L2011.0 567.9 L2011.5 567.5 L2012.0 570.0 L2012.6 570.2 L2013.1 572.2 L2013.6 570.6 L2014.1 572.4 L2014.7 572.1 L2015.2 570.8 L2015.7 570.8 L2016.2 570.1 L2016.8 573.6 L2017.3 573.2 L2017.8 573.7 L2018.4 571.3 L2018.9 571.3 L2019.4 570.6 L2019.9 570.3 L2020.5 571.0 L2021.0 571.0 L2021.5 571.5 L2022.1 571.3 L2022.6 570.4 L2023.1 569.6 L2023.6 569.1 L2024.2 570.1 L2024.7 572.0 L2025.2 569.7 L2025.8 568.5 L2026.3 565.9 L2026.8 567.9 L2027.3 568.4 L2027.9 567.7 L2028.4 566.7 L2028.9 566.0 L2029.4 565.9 L2030.0 565.8 L2030.5 566.1 L2031.0 568.7 L2031.6 569.7 L2032.1 569.8 L2032.6 568.1 L2033.1 567.8 L2033.7 569.4 L2034.2 571.3 L2034.7 570.7 L2035.2 569.2 L2035.8 568.1 L2036.3 569.2 L2036.8 568.5 L2037.4 568.9 L2037.9 569.4 L2038.4 571.2 L2038.9 572.4 L2039.5 572.6 L2040.0 571.6 L2040.5 568.5 L2041.1 567.5 L2041.6 567.0 L2042.1 569.3 L2042.6 569.3 L2043.2 568.7 L2043.7 567.2 L2044.2 568.7 L2044.8 569.2 L2045.3 569.8 L2045.8 569.4 L2046.3 570.4 L2046.9 568.9 L2047.4 566.6 L2047.9 565.5 L2048.4 567.1 L2049.0 568.7 L2049.5 568.8 L2050.0 568.4 L2050.6 568.3 L2051.1 567.4 L2051.6 566.2 L2052.1 566.1 L2052.7 568.7 L2053.2 569.7 L2053.7 569.8 L2054.2 570.1 L2054.8 569.5 L2055.3 569.3 L2055.8 567.7 L2056.4 570.1 L2056.9 569.7 L2057.4 569.2 L2057.9 568.3 L2058.5 571.6 L2059.0 573.2 L2059.5 573.6 L2060.1 572.1 L2060.6 571.7 L2061.1 570.3 L2061.6 570.8 L2062.2 570.8 L2062.7 570.0 L2063.2 567.8 L2063.8 567.4 L2064.3 567.6 L2064.8 568.1 L2065.3 567.7 L2065.9 568.1 L2066.4 566.7 L2066.9 568.5 L2067.4 567.8 L2068.0 568.0 L2068.5 567.2 L2069.0 568.0 L2069.6 569.1 L2070.1 570.2 L2070.6 569.7 L2071.1 568.7 L2071.7 566.2 L2072.2 566.2 L2072.7 567.7 L2073.2 569.0 L2073.8 570.7 L2074.3 570.1 L2074.8 570.1 L2075.4 568.1 L2075.9 568.1 L2076.4 567.7 L2076.9 567.6 L2077.5 569.6 L2078.0 569.1 L2078.5 569.4 L2079.1 567.0 L2079.6 567.6 L2080.1 570.0 L2080.6 569.6 L2081.2 569.6 L2081.7 567.4 L2082.2 569.2 L2082.8 568.7 L2083.3 567.6 L2083.8 566.0 L2084.3 566.3 L2084.9 567.8 L2085.4 570.0 L2085.9 570.7 L2086.4 570.1 L2087.0 569.6 L2087.5 569.2 L2088.0 571.7 L2088.6 570.9 L2089.1 570.6 L2089.6 569.3 L2090.1 570.9 L2090.7 571.2 L2091.2 572.1 L2091.7 571.0 L2092.2 571.5 L2092.8 571.4 L2093.3 572.2 L2093.8 572.5 L2094.4 573.0 L2094.9 572.0 L2095.4 570.1 L2095.9 569.5 L2096.5 570.0 L2097.0 571.6 L2097.5 572.0 L2098.1 570.6 L2098.6 570.7 L2099.1 570.9 L2099.6 572.5 L2100.2 573.5 L2100.7 573.1 L2101.2 572.3 L2101.8 571.1 L2102.3 571.2 L2102.8 571.3 L2103.3 573.0 L2103.9 572.6 L2104.4 572.5 L2104.9 571.7 L2105.4 572.5 L2106.0 573.6 L2106.5 573.8 L2107.0 573.5 L2107.6 572.8 L2108.1 573.2 L2108.6 574.0 L2109.1 574.5 L2109.7 574.9 L2110.2 573.9 L2110.7 574.7 L2111.2 574.2 L2111.8 575.5 L2112.3 575.0 L2112.8 575.2 L2113.4 574.9 L2113.9 575.7 L2114.4 576.3 L2114.9 577.0 L2115.5 577.2 L2116.0 577.5 L2116.5 578.1 L2117.1 578.8 L2117.6 579.3 L2118.1 579.2 L2118.6 578.6 L2119.2 578.6 L2119.7 579.5 L2120.2 580.0 L2120.8 581.0 L2121.3 581.0 L2121.8 581.7 L2122.3 582.6 L2122.9 582.8 L2123.4 583.8 L2123.9 583.5 L2124.4 584.1 L2125.0 584.4 L2125.5 585.1 L2126.0 585.8 L2126.6 586.4 L2127.1 586.7 L2127.6 587.1 L2128.1 587.4 L2128.7 588.5 L2129.2 589.2 L2129.7 590.3 L2130.2 590.7 L2130.8 591.4 L2131.3 591.7 L2131.8 592.4 L2132.4 593.1 L2132.9 593.9 L2133.4 594.8 L2133.9 595.6 L2134.5 596.7 L2135.0 597.5 L2135.5 598.5 L2136.1 599.4 L2136.6 600.4 L2137.1 601.3 L2137.6 602.3 L2138.2 603.2 L2138.7 604.3 L2139.2 605.4 L2139.8 606.5 L2140.3 607.7 L2140.8 608.9 L2141.3 610.3 L2141.9 611.7 L2142.4 613.2 L2142.9 614.8 L2143.4 616.5 L2144.0 618.3 L2144.5 620.1 L2145.0 622.0 L2145.6 624.0 L2146.1 626.0 L2146.6 628.1 L2147.1 630.2 L2147.7 632.5 L2148.2 634.7 L2148.7 637.0 L2149.2 639.4 L2149.8 641.8 L2150.3 644.2 L2150.8 646.7 L2151.4 649.2 L2151.9 651.8 L2152.4 654.4 L2152.9 657.0 L2153.5 659.6 L2154.0 662.3 L2154.5 664.9 L2155.1 667.6 L2155.6 670.3 L2156.1 673.0 L2156.6 675.7 L2157.2 678.4 L2157.7 681.0 L2158.2 683.7 L2158.8 686.4 L2159.3 689.0 L2159.8 691.6 L2160.3 694.2 L2160.9 696.8 L2161.4 699.5 L2161.9 702.2 L2162.4 705.0 L2163.0 707.8 L2163.5 710.7 L2164.0 713.6 L2164.6 716.6 L2165.1 719.7 L2165.6 722.8 L2166.1 725.9 L2166.7 729.1 L2167.2 732.4 L2167.7 735.6 L2168.2 739.0 L2168.8 742.3 L2169.3 745.7 L2169.8 749.1 L2170.4 752.5 L2170.9 756.0 L2171.4 759.4 L2171.9 762.9 L2172.5 766.4 L2173.0 769.9 L2173.5 773.4 L2174.1 776.9 L2174.6 780.3 L2175.1 783.8 L2175.6 787.2 L2176.2 790.7 L2176.7 794.0 L2177.2 797.4 L2177.8 800.7 L2178.3 803.9 L2178.8 807.1 L2179.3 810.2 L2179.9 813.3 L2180.4 816.3 L2180.9 819.2 L2181.4 822.0 L2182.0 824.7 L2182.5 827.3 L2183.0 829.8 L2183.6 832.2 L2184.1 834.4 L2184.6 836.6 L2185.1 838.5 L2185.7 840.4 L2186.2 842.1 L2186.7 843.6 L2187.2 845.0 L2187.8 846.2 L2188.3 847.3 L2188.8 848.2 L2189.4 848.9 L2189.9 849.4 L2190.4 849.8 L2190.9 850.0 L2191.5 850.0 L2192.0 849.8 L2192.5 849.4 L2193.1 848.9 L2193.6 848.2 L2194.1 847.3 L2194.6 846.2 L2195.2 845.0 L2195.7 843.6 L2196.2 842.1 L2196.8 840.4 L2197.3 838.5 L2197.8 836.6 L2198.3 834.4 L2198.9 832.2 L2199.4 829.8 L2199.9 827.3 L2200.4 824.7 L2201.0 822.0 L2201.5 819.2 L2202.0 816.3 L2202.6 813.3 L2203.1 810.2 L2203.6 807.1 L2204.1 803.9 L2204.7 800.7 L2205.2 797.4 L2205.7 794.0 L2206.2 790.7 L2206.8 787.2 L2207.3 783.8 L2207.8 780.3 L2208.4 776.9 L2208.9 773.4 L2209.4 769.9 L2209.9 766.4 L2210.5 762.9 L2211.0 759.4 L2211.5 756.0 L2212.1 752.5 L2212.6 749.1 L2213.1 745.7 L2213.6 742.3 L2214.2 739.0 L2214.7 735.6 L2215.2 732.4 L2215.8 729.1 L2216.3 725.9 L2216.8 722.8 L2217.3 719.7 L2217.9 716.6 L2218.4 713.6 L2218.9 710.7 L2219.4 707.8 L2220.0 705.0 L2220.5 702.2 L2221.0 699.5 L2221.6 696.8 L2222.1 694.2 L2222.6 691.7 L2223.1 689.2 L2223.7 686.8 L2224.2 684.4 L2224.7 682.1 L2225.2 679.9 L2225.8 677.7 L2226.3 675.6 L2226.8 673.6 L2227.4 671.6 L2227.9 669.6 L2228.4 667.7 L2228.9 665.9 L2229.5 664.1 L2230.0 662.3 L2230.5 660.6 L2231.1 658.9 L2231.6 657.3 L2232.1 655.7 L2232.6 654.2 L2233.2 652.7 L2233.7 651.3 L2234.2 649.9 L2234.8 648.5 L2235.3 647.2 L2235.8 645.9 L2236.3 644.7 L2236.9 643.5 L2237.4 642.3 L2237.9 641.2 L2238.4 640.1 L2239.0 639.0 L2239.5 638.0 L2240.0 637.0 L2240.6 636.1 L2241.1 635.2 L2241.6 634.3 L2242.1 633.5 L2242.7 632.6 L2243.2 631.8 L2243.7 631.1 L2244.2 630.4 L2244.8 629.7 L2245.3 629.0 L2245.8 628.3 L2246.4 627.7 L2246.9 627.1 L2247.4 626.6 L2247.9 626.0 L2248.5 625.5 L2249.0 625.0 L2249.5 624.6 L2250.1 624.1 L2250.6 623.7 L2251.1 623.3 L2251.6 623.0 L2252.2 622.6 L2252.7 622.3 L2253.2 621.9 L2253.8 621.6 L2254.3 621.3 L2254.8 621.0 L2255.3 620.7 L2255.9 620.4 L2256.4 620.1 L2256.9 619.8 L2257.4 619.6 L2258.0 619.3 L2258.5 619.1 L2259.0 618.9 L2259.6 618.6 L2260.1 618.4 L2260.6 618.2 L2261.1 618.0 L2261.7 617.8 L2262.2 617.6 L2262.7 617.4 L2263.2 617.2 L2263.8 617.0 L2264.3 616.8 L2264.8 616.6 L2265.4 616.5 L2265.9 616.3 L2266.4 616.1 L2266.9 616.0 L2267.5 615.8 L2268.0 615.7 L2268.5 615.5 L2269.1 615.4 L2269.6 615.2 L2270.1 615.1 L2270.6 614.9 L2271.2 614.8 L2271.7 614.6 L2272.2 614.5 L2272.8 614.4 L2273.3 614.2 L2273.8 614.1 L2274.3 614.0 L2274.9 613.9 L2275.4 613.7 L2275.9 613.6 L2276.4 613.5 L2277.0 613.4 L2277.5 613.3 L2278.0 613.1 L2278.6 613.0 L2279.1 612.9 L2279.6 612.8 L2280.1 612.7 L2280.7 612.6 L2281.2 612.5 L2281.7 612.4 L2282.2 612.3 L2282.8 612.2 L2283.3 612.0 L2283.8 611.9 L2284.4 611.8 L2284.9 611.7 L2285.4 611.6 L2285.9 611.5 L2286.5 611.5 L2287.0 611.4 L2287.5 611.3 L2288.1 611.2 L2288.6 611.1 L2289.1 611.0 L2289.6 610.9 L2290.2 610.8 L2290.7 610.7 L2291.2 610.6 L2291.8 610.5 L2292.3 610.4 L2292.8 610.4 L2293.3 610.3 L2293.9 610.2 L2294.4 610.1 L2294.9 610.0 L2295.4 609.9 L2296.0 609.8 L2296.5 609.8 L2297.0 609.7 L2297.6 609.6 L2298.1 609.5 L2298.6 609.4 L2299.1 609.4 L2299.7 609.3 L2300.2 609.2 L2300.7 609.1 L2301.2 609.0 L2301.8 609.0 L2302.3 608.9 L2302.8 608.8 L2303.4 608.7 L2303.9 608.7 L2304.4 608.6 L2304.9 608.5 L2305.5 608.4 L2306.0 608.4 L2306.5 608.3 L2307.1 608.2 L2307.6 608.1 L2308.1 608.1 L2308.6 608.0 L2309.2 607.9 L2309.7 607.8 L2310.2 607.8 L2310.8 607.7 L2311.3 607.6 L2311.8 607.6 L2312.3 607.5 L2312.9 607.4 L2313.4 607.3 L2313.9 607.3 L2314.4 607.2 L2315.0 607.1 L2315.5 607.1 L2316.0 607.0 L2316.6 606.9 L2317.1 606.9 L2317.6 606.8 L2318.1 606.7 L2318.7 606.6 L2319.2 606.6 L2319.7 606.5 L2320.2 606.4 L2320.8 606.4 L2321.3 606.3 L2321.8 606.2 L2322.4 606.2 L2322.9 606.1 L2323.4 606.0 L2323.9 606.0 L2324.5 605.9 L2325.0 605.8 L2325.5 605.7 L2326.1 605.7 L2326.6 605.6 L2327.1 605.5 L2327.6 605.5 L2328.2 605.4 L2328.7 605.3 L2329.2 605.3 L2329.8 605.2 L2330.3 605.1 L2330.8 605.1 L2331.3 605.0 L2331.9 604.9 L2332.4 604.9 L2332.9 604.8 L2333.4 604.8 L2334.0 604.7 L2334.5 604.6 L2335.0 604.6 L2335.6 604.5 L2336.1 604.4 L2336.6 604.4 L2337.1 604.3 L2337.7 604.2 L2338.2 604.2 L2338.7 604.1 L2339.2 604.1 L2339.8 604.0 L2340.3 603.9 L2340.8 603.9 L2341.4 603.8 L2341.9 603.7 L2342.4 603.7 L2342.9 603.6 L2343.5 603.6 L2344.0 603.5 L2344.5 603.4 L2345.1 603.4 L2345.6 603.3 L2346.1 603.3 L2346.6 603.2 L2347.2 603.1 L2347.7 603.1 L2348.2 603.0 L2348.8 603.0 L2349.3 602.9 L2349.8 602.8 L2350.3 602.8 L2350.9 602.7 L2351.4 602.7 L2351.9 602.6 L2352.4 602.6 L2353.0 602.5 L2353.5 602.4 L2354.0 602.4 L2354.6 602.3 L2355.1 602.3 L2355.6 602.2 L2356.1 602.2 L2356.7 602.1 L2357.2 602.0 L2357.7 602.0 L2358.2 601.9 L2358.8 601.9 L2359.3 601.8 L2359.8 601.8 L2360.4 601.7 L2360.9 601.7 L2361.4 601.6 L2361.9 601.5 L2362.5 601.5 L2363.0 601.4 L2363.5 601.4 L2364.1 601.3 L2364.6 601.3 L2365.1 601.2 L2365.6 601.2 L2366.2 601.1 L2366.7 601.1 L2367.2 601.0 L2367.8 600.9 L2368.3 600.9 L2368.8 600.8 L2369.3 600.8 L2369.9 600.7 L2370.4 600.7 L2370.9 600.6 L2371.4 600.6 L2372.0 600.5 L2372.5 600.5 L2373.0 600.4 L2373.6 600.4 L2374.1 600.3 L2374.6 600.3 L2375.1 600.2 L2375.7 600.2 L2376.2 600.1 L2376.7 600.1 L2377.2 600.0 L2377.8 600.0 L2378.3 599.9 L2378.8 599.9 L2379.4 599.8 L2379.9 599.8 L2380.4 599.7 L2380.9 599.7 L2381.5 599.6 L2382.0 599.6 L2382.5 599.5 L2383.1 599.5 L2383.6 599.4 L2384.1 599.4 L2384.6 599.3 L2385.2 599.3 L2385.7 599.2 L2386.2 599.2 L2386.8 599.1 L2387.3 599.1 L2387.8 599.0 L2388.3 599.0 L2388.9 598.9 L2389.4 598.9 L2389.9 598.8 L2390.4 598.8 L2391.0 598.7 L2391.5 598.7 L2392.0 598.7 L2392.6 598.6 L2393.1 598.6 L2393.6 598.5 L2394.1 598.5 L2394.7 598.4 L2395.2 598.4 L2395.7 598.3 L2396.2 598.3 L2396.8 598.2 L2397.3 598.2 L2397.8 598.1 L2398.4 598.1 L2398.9 598.1 L2399.4 598.0 L2399.9 598.0 L2400.5 597.9 L2401.0 597.9" fill="none" stroke="#a28fc4" stroke-width="2.6" stroke-linejoin="round"/><path d="M1926.0 574.0 L1926.5 573.2 L1927.1 573.8 L1927.6 575.2 L1928.1 575.7 L1928.6 576.6 L1929.2 575.0 L1929.7 575.2 L1930.2 574.2 L1930.8 575.1 L1931.3 574.3 L1931.8 574.9 L1932.3 574.7 L1932.9 575.9 L1933.4 576.6 L1933.9 576.8 L1934.4 575.5 L1935.0 574.7 L1935.5 576.5 L1936.0 577.7 L1936.6 577.1 L1937.1 575.9 L1937.6 574.1 L1938.1 574.3 L1938.7 573.4 L1939.2 575.0 L1939.7 575.2 L1940.2 576.1 L1940.8 574.1 L1941.3 573.9 L1941.8 573.6 L1942.4 576.1 L1942.9 574.9 L1943.4 574.4 L1943.9 572.5 L1944.5 574.4 L1945.0 574.7 L1945.5 576.7 L1946.1 577.8 L1946.6 576.6 L1947.1 576.6 L1947.6 575.8 L1948.2 578.4 L1948.7 577.7 L1949.2 576.8 L1949.8 575.6 L1950.3 574.6 L1950.8 574.0 L1951.3 574.7 L1951.9 575.2 L1952.4 576.2 L1952.9 576.1 L1953.4 574.6 L1954.0 574.3 L1954.5 573.5 L1955.0 574.2 L1955.6 574.2 L1956.1 575.7 L1956.6 576.3 L1957.1 576.6 L1957.7 577.2 L1958.2 578.1 L1958.7 578.4 L1959.2 576.3 L1959.8 576.5 L1960.3 575.6 L1960.8 577.7 L1961.4 578.7 L1961.9 578.4 L1962.4 577.3 L1962.9 575.6 L1963.5 577.7 L1964.0 576.2 L1964.5 577.2 L1965.1 576.8 L1965.6 578.1 L1966.1 577.5 L1966.6 576.4 L1967.2 576.7 L1967.7 576.0 L1968.2 574.8 L1968.8 573.9 L1969.3 573.6 L1969.8 575.4 L1970.3 575.5 L1970.9 576.4 L1971.4 576.8 L1971.9 576.9 L1972.4 576.9 L1973.0 574.7 L1973.5 575.2 L1974.0 575.6 L1974.6 577.7 L1975.1 580.8 L1975.6 579.4 L1976.1 578.6 L1976.7 575.4 L1977.2 575.3 L1977.7 575.1 L1978.2 573.9 L1978.8 574.2 L1979.3 577.0 L1979.8 577.4 L1980.4 578.6 L1980.9 577.0 L1981.4 579.1 L1981.9 578.8 L1982.5 577.8 L1983.0 577.3 L1983.5 577.6 L1984.1 575.9 L1984.6 576.5 L1985.1 575.6 L1985.6 577.9 L1986.2 577.5 L1986.7 577.7 L1987.2 575.7 L1987.8 573.1 L1988.3 573.6 L1988.8 574.1 L1989.3 574.3 L1989.9 572.9 L1990.4 573.5 L1990.9 576.3 L1991.4 575.7 L1992.0 576.2 L1992.5 574.8 L1993.0 575.4 L1993.6 574.0 L1994.1 575.2 L1994.6 575.4 L1995.1 576.6 L1995.7 575.1 L1996.2 576.9 L1996.7 577.0 L1997.2 576.8 L1997.8 575.9 L1998.3 575.8 L1998.8 575.2 L1999.4 573.0 L1999.9 572.3 L2000.4 572.7 L2000.9 572.6 L2001.5 571.2 L2002.0 571.7 L2002.5 573.2 L2003.1 575.7 L2003.6 574.4 L2004.1 574.3 L2004.6 573.8 L2005.2 574.6 L2005.7 573.8 L2006.2 573.7 L2006.8 573.5 L2007.3 573.7 L2007.8 573.4 L2008.3 572.9 L2008.9 572.6 L2009.4 572.7 L2009.9 573.6 L2010.4 575.2 L2011.0 575.1 L2011.5 574.3 L2012.0 572.6 L2012.6 573.6 L2013.1 573.9 L2013.6 574.0 L2014.1 574.5 L2014.7 575.9 L2015.2 576.4 L2015.7 575.0 L2016.2 573.2 L2016.8 573.6 L2017.3 575.0 L2017.8 575.7 L2018.4 576.8 L2018.9 576.7 L2019.4 575.1 L2019.9 573.4 L2020.5 573.5 L2021.0 574.6 L2021.5 574.7 L2022.1 572.8 L2022.6 574.2 L2023.1 574.6 L2023.6 577.6 L2024.2 577.0 L2024.7 575.2 L2025.2 571.8 L2025.8 571.6 L2026.3 575.3 L2026.8 577.4 L2027.3 576.6 L2027.9 574.3 L2028.4 571.9 L2028.9 573.5 L2029.4 572.5 L2030.0 574.7 L2030.5 574.6 L2031.0 576.5 L2031.6 576.8 L2032.1 578.0 L2032.6 576.9 L2033.1 577.5 L2033.7 573.5 L2034.2 573.8 L2034.7 572.0 L2035.2 573.9 L2035.8 575.3 L2036.3 575.3 L2036.8 574.5 L2037.4 572.5 L2037.9 572.4 L2038.4 573.7 L2038.9 573.6 L2039.5 573.3 L2040.0 572.1 L2040.5 573.6 L2041.1 574.5 L2041.6 574.1 L2042.1 572.5 L2042.6 571.5 L2043.2 572.8 L2043.7 575.2 L2044.2 576.0 L2044.8 575.0 L2045.3 575.8 L2045.8 576.4 L2046.3 574.8 L2046.9 573.5 L2047.4 573.8 L2047.9 577.0 L2048.4 575.9 L2049.0 573.3 L2049.5 572.4 L2050.0 573.5 L2050.6 575.5 L2051.1 575.8 L2051.6 574.5 L2052.1 574.1 L2052.7 573.7 L2053.2 573.9 L2053.7 575.5 L2054.2 575.2 L2054.8 575.5 L2055.3 575.5 L2055.8 575.4 L2056.4 575.3 L2056.9 573.4 L2057.4 572.6 L2057.9 573.5 L2058.5 573.3 L2059.0 574.7 L2059.5 575.1 L2060.1 574.9 L2060.6 574.2 L2061.1 571.7 L2061.6 573.0 L2062.2 573.0 L2062.7 575.2 L2063.2 574.4 L2063.8 574.4 L2064.3 572.8 L2064.8 574.0 L2065.3 575.1 L2065.9 576.9 L2066.4 575.8 L2066.9 573.9 L2067.4 572.8 L2068.0 573.5 L2068.5 575.5 L2069.0 576.5 L2069.6 576.9 L2070.1 577.2 L2070.6 577.9 L2071.1 575.3 L2071.7 575.1 L2072.2 574.2 L2072.7 576.6 L2073.2 576.1 L2073.8 574.9 L2074.3 574.4 L2074.8 575.0 L2075.4 575.8 L2075.9 576.6 L2076.4 576.8 L2076.9 574.8 L2077.5 575.9 L2078.0 574.1 L2078.5 578.2 L2079.1 576.8 L2079.6 577.3 L2080.1 575.4 L2080.6 574.7 L2081.2 575.7 L2081.7 574.3 L2082.2 574.1 L2082.8 571.6 L2083.3 572.9 L2083.8 572.7 L2084.3 573.8 L2084.9 573.0 L2085.4 573.3 L2085.9 573.8 L2086.4 574.5 L2087.0 574.3 L2087.5 574.4 L2088.0 574.1 L2088.6 575.4 L2089.1 575.6 L2089.6 576.1 L2090.1 575.9 L2090.7 577.2 L2091.2 576.3 L2091.7 575.6 L2092.2 574.1 L2092.8 575.3 L2093.3 575.8 L2093.8 575.4 L2094.4 574.7 L2094.9 574.2 L2095.4 576.0 L2095.9 575.4 L2096.5 576.4 L2097.0 575.9 L2097.5 577.0 L2098.1 576.9 L2098.6 576.6 L2099.1 578.2 L2099.6 578.3 L2100.2 578.6 L2100.7 578.2 L2101.2 578.4 L2101.8 578.3 L2102.3 577.7 L2102.8 578.0 L2103.3 578.7 L2103.9 579.1 L2104.4 579.2 L2104.9 579.6 L2105.4 579.6 L2106.0 580.6 L2106.5 580.7 L2107.0 581.4 L2107.6 580.7 L2108.1 580.3 L2108.6 579.9 L2109.1 580.2 L2109.7 580.4 L2110.2 579.3 L2110.7 579.2 L2111.2 580.2 L2111.8 582.2 L2112.3 583.2 L2112.8 582.8 L2113.4 582.2 L2113.9 582.5 L2114.4 583.2 L2114.9 583.1 L2115.5 582.4 L2116.0 582.1 L2116.5 582.6 L2117.1 582.5 L2117.6 582.9 L2118.1 583.3 L2118.6 584.6 L2119.2 585.1 L2119.7 585.2 L2120.2 585.5 L2120.8 586.3 L2121.3 587.7 L2121.8 588.3 L2122.3 588.7 L2122.9 589.1 L2123.4 589.1 L2123.9 589.8 L2124.4 590.3 L2125.0 590.9 L2125.5 591.3 L2126.0 591.2 L2126.6 592.5 L2127.1 593.0 L2127.6 593.8 L2128.1 593.8 L2128.7 594.3 L2129.2 595.0 L2129.7 595.9 L2130.2 596.7 L2130.8 597.3 L2131.3 597.9 L2131.8 598.6 L2132.4 599.7 L2132.9 600.2 L2133.4 600.9 L2133.9 601.5 L2134.5 602.5 L2135.0 603.2 L2135.5 604.0 L2136.1 604.9 L2136.6 605.8 L2137.1 606.7 L2137.6 607.6 L2138.2 608.7 L2138.7 609.7 L2139.2 610.7 L2139.8 611.8 L2140.3 612.9 L2140.8 614.0 L2141.3 615.3 L2141.9 616.6 L2142.4 618.0 L2142.9 619.4 L2143.4 620.9 L2144.0 622.5 L2144.5 624.1 L2145.0 625.8 L2145.6 627.5 L2146.1 629.3 L2146.6 631.2 L2147.1 633.1 L2147.7 635.0 L2148.2 637.0 L2148.7 639.1 L2149.2 641.2 L2149.8 643.3 L2150.3 645.5 L2150.8 647.7 L2151.4 649.9 L2151.9 652.2 L2152.4 654.5 L2152.9 656.8 L2153.5 659.2 L2154.0 661.6 L2154.5 664.0 L2155.1 666.4 L2155.6 668.9 L2156.1 671.3 L2156.6 673.8 L2157.2 676.3 L2157.7 678.8 L2158.2 681.3 L2158.8 683.8 L2159.3 686.3 L2159.8 688.8 L2160.3 691.2 L2160.9 693.8 L2161.4 696.3 L2161.9 698.9 L2162.4 701.6 L2163.0 704.3 L2163.5 707.1 L2164.0 709.9 L2164.6 712.8 L2165.1 715.7 L2165.6 718.7 L2166.1 721.8 L2166.7 724.8 L2167.2 727.9 L2167.7 731.1 L2168.2 734.3 L2168.8 737.5 L2169.3 740.7 L2169.8 744.0 L2170.4 747.3 L2170.9 750.6 L2171.4 753.9 L2171.9 757.3 L2172.5 760.6 L2173.0 764.0 L2173.5 767.4 L2174.1 770.7 L2174.6 774.0 L2175.1 777.4 L2175.6 780.7 L2176.2 784.0 L2176.7 787.2 L2177.2 790.4 L2177.8 793.6 L2178.3 796.7 L2178.8 799.8 L2179.3 802.8 L2179.9 805.7 L2180.4 808.6 L2180.9 811.4 L2181.4 814.1 L2182.0 816.7 L2182.5 819.2 L2183.0 821.6 L2183.6 823.9 L2184.1 826.0 L2184.6 828.1 L2185.1 830.0 L2185.7 831.8 L2186.2 833.4 L2186.7 834.9 L2187.2 836.2 L2187.8 837.4 L2188.3 838.4 L2188.8 839.3 L2189.4 839.9 L2189.9 840.5 L2190.4 840.8 L2190.9 841.0 L2191.5 841.0 L2192.0 840.8 L2192.5 840.5 L2193.1 839.9 L2193.6 839.3 L2194.1 838.4 L2194.6 837.4 L2195.2 836.2 L2195.7 834.9 L2196.2 833.4 L2196.8 831.8 L2197.3 830.0 L2197.8 828.1 L2198.3 826.0 L2198.9 823.9 L2199.4 821.6 L2199.9 819.2 L2200.4 816.7 L2201.0 814.1 L2201.5 811.4 L2202.0 808.6 L2202.6 805.7 L2203.1 802.8 L2203.6 799.8 L2204.1 796.7 L2204.7 793.6 L2205.2 790.4 L2205.7 787.2 L2206.2 784.0 L2206.8 780.7 L2207.3 777.4 L2207.8 774.0 L2208.4 770.7 L2208.9 767.4 L2209.4 764.0 L2209.9 760.6 L2210.5 757.3 L2211.0 753.9 L2211.5 750.6 L2212.1 747.3 L2212.6 744.0 L2213.1 740.7 L2213.6 737.5 L2214.2 734.3 L2214.7 731.1 L2215.2 727.9 L2215.8 724.8 L2216.3 721.8 L2216.8 718.7 L2217.3 715.7 L2217.9 712.8 L2218.4 709.9 L2218.9 707.1 L2219.4 704.3 L2220.0 701.6 L2220.5 698.9 L2221.0 696.3 L2221.6 693.8 L2222.1 691.2 L2222.6 688.8 L2223.1 686.4 L2223.7 684.1 L2224.2 681.8 L2224.7 679.6 L2225.2 677.5 L2225.8 675.4 L2226.3 673.4 L2226.8 671.4 L2227.4 669.5 L2227.9 667.6 L2228.4 665.8 L2228.9 664.0 L2229.5 662.3 L2230.0 660.6 L2230.5 658.9 L2231.1 657.3 L2231.6 655.8 L2232.1 654.2 L2232.6 652.8 L2233.2 651.3 L2233.7 649.9 L2234.2 648.6 L2234.8 647.3 L2235.3 646.0 L2235.8 644.8 L2236.3 643.6 L2236.9 642.4 L2237.4 641.3 L2237.9 640.2 L2238.4 639.1 L2239.0 638.1 L2239.5 637.1 L2240.0 636.2 L2240.6 635.3 L2241.1 634.4 L2241.6 633.5 L2242.1 632.7 L2242.7 631.9 L2243.2 631.2 L2243.7 630.4 L2244.2 629.7 L2244.8 629.0 L2245.3 628.4 L2245.8 627.8 L2246.4 627.2 L2246.9 626.6 L2247.4 626.0 L2247.9 625.5 L2248.5 625.0 L2249.0 624.5 L2249.5 624.1 L2250.1 623.7 L2250.6 623.3 L2251.1 622.9 L2251.6 622.5 L2252.2 622.2 L2252.7 621.8 L2253.2 621.5 L2253.8 621.2 L2254.3 620.9 L2254.8 620.6 L2255.3 620.3 L2255.9 620.0 L2256.4 619.8 L2256.9 619.5 L2257.4 619.3 L2258.0 619.0 L2258.5 618.8 L2259.0 618.5 L2259.6 618.3 L2260.1 618.1 L2260.6 617.9 L2261.1 617.7 L2261.7 617.5 L2262.2 617.3 L2262.7 617.1 L2263.2 616.9 L2263.8 616.7 L2264.3 616.6 L2264.8 616.4 L2265.4 616.2 L2265.9 616.0 L2266.4 615.9 L2266.9 615.7 L2267.5 615.6 L2268.0 615.4 L2268.5 615.3 L2269.1 615.1 L2269.6 615.0 L2270.1 614.8 L2270.6 614.7 L2271.2 614.6 L2271.7 614.4 L2272.2 614.3 L2272.8 614.2 L2273.3 614.0 L2273.8 613.9 L2274.3 613.8 L2274.9 613.7 L2275.4 613.5 L2275.9 613.4 L2276.4 613.3 L2277.0 613.2 L2277.5 613.1 L2278.0 612.9 L2278.6 612.8 L2279.1 612.7 L2279.6 612.6 L2280.1 612.5 L2280.7 612.4 L2281.2 612.3 L2281.7 612.2 L2282.2 612.1 L2282.8 612.0 L2283.3 611.9 L2283.8 611.8 L2284.4 611.7 L2284.9 611.6 L2285.4 611.5 L2285.9 611.4 L2286.5 611.3 L2287.0 611.2 L2287.5 611.1 L2288.1 611.0 L2288.6 610.9 L2289.1 610.8 L2289.6 610.7 L2290.2 610.7 L2290.7 610.6 L2291.2 610.5 L2291.8 610.4 L2292.3 610.3 L2292.8 610.2 L2293.3 610.1 L2293.9 610.0 L2294.4 610.0 L2294.9 609.9 L2295.4 609.8 L2296.0 609.7 L2296.5 609.6 L2297.0 609.6 L2297.6 609.5 L2298.1 609.4 L2298.6 609.3 L2299.1 609.2 L2299.7 609.2 L2300.2 609.1 L2300.7 609.0 L2301.2 608.9 L2301.8 608.8 L2302.3 608.8 L2302.8 608.7 L2303.4 608.6 L2303.9 608.5 L2304.4 608.5 L2304.9 608.4 L2305.5 608.3 L2306.0 608.3 L2306.5 608.2 L2307.1 608.1 L2307.6 608.0 L2308.1 608.0 L2308.6 607.9 L2309.2 607.8 L2309.7 607.7 L2310.2 607.7 L2310.8 607.6 L2311.3 607.5 L2311.8 607.5 L2312.3 607.4 L2312.9 607.3 L2313.4 607.3 L2313.9 607.2 L2314.4 607.1 L2315.0 607.0 L2315.5 607.0 L2316.0 606.9 L2316.6 606.8 L2317.1 606.8 L2317.6 606.7 L2318.1 606.6 L2318.7 606.6 L2319.2 606.5 L2319.7 606.4 L2320.2 606.3 L2320.8 606.3 L2321.3 606.2 L2321.8 606.1 L2322.4 606.1 L2322.9 606.0 L2323.4 605.9 L2323.9 605.9 L2324.5 605.8 L2325.0 605.7 L2325.5 605.7 L2326.1 605.6 L2326.6 605.5 L2327.1 605.5 L2327.6 605.4 L2328.2 605.3 L2328.7 605.3 L2329.2 605.2 L2329.8 605.1 L2330.3 605.1 L2330.8 605.0 L2331.3 604.9 L2331.9 604.9 L2332.4 604.8 L2332.9 604.7 L2333.4 604.7 L2334.0 604.6 L2334.5 604.6 L2335.0 604.5 L2335.6 604.4 L2336.1 604.4 L2336.6 604.3 L2337.1 604.2 L2337.7 604.2 L2338.2 604.1 L2338.7 604.0 L2339.2 604.0 L2339.8 603.9 L2340.3 603.9 L2340.8 603.8 L2341.4 603.7 L2341.9 603.7 L2342.4 603.6 L2342.9 603.6 L2343.5 603.5 L2344.0 603.4 L2344.5 603.4 L2345.1 603.3 L2345.6 603.3 L2346.1 603.2 L2346.6 603.1 L2347.2 603.1 L2347.7 603.0 L2348.2 603.0 L2348.8 602.9 L2349.3 602.8 L2349.8 602.8 L2350.3 602.7 L2350.9 602.7 L2351.4 602.6 L2351.9 602.6 L2352.4 602.5 L2353.0 602.4 L2353.5 602.4 L2354.0 602.3 L2354.6 602.3 L2355.1 602.2 L2355.6 602.2 L2356.1 602.1 L2356.7 602.0 L2357.2 602.0 L2357.7 601.9 L2358.2 601.9 L2358.8 601.8 L2359.3 601.8 L2359.8 601.7 L2360.4 601.7 L2360.9 601.6 L2361.4 601.5 L2361.9 601.5 L2362.5 601.4 L2363.0 601.4 L2363.5 601.3 L2364.1 601.3 L2364.6 601.2 L2365.1 601.2 L2365.6 601.1 L2366.2 601.1 L2366.7 601.0 L2367.2 601.0 L2367.8 600.9 L2368.3 600.8 L2368.8 600.8 L2369.3 600.7 L2369.9 600.7 L2370.4 600.6 L2370.9 600.6 L2371.4 600.5 L2372.0 600.5 L2372.5 600.4 L2373.0 600.4 L2373.6 600.3 L2374.1 600.3 L2374.6 600.2 L2375.1 600.2 L2375.7 600.1 L2376.2 600.1 L2376.7 600.0 L2377.2 600.0 L2377.8 599.9 L2378.3 599.9 L2378.8 599.8 L2379.4 599.8 L2379.9 599.7 L2380.4 599.7 L2380.9 599.6 L2381.5 599.6 L2382.0 599.5 L2382.5 599.5 L2383.1 599.4 L2383.6 599.4 L2384.1 599.3 L2384.6 599.3 L2385.2 599.2 L2385.7 599.2 L2386.2 599.1 L2386.8 599.1 L2387.3 599.0 L2387.8 599.0 L2388.3 598.9 L2388.9 598.9 L2389.4 598.9 L2389.9 598.8 L2390.4 598.8 L2391.0 598.7 L2391.5 598.7 L2392.0 598.6 L2392.6 598.6 L2393.1 598.5 L2393.6 598.5 L2394.1 598.4 L2394.7 598.4 L2395.2 598.3 L2395.7 598.3 L2396.2 598.3 L2396.8 598.2 L2397.3 598.2 L2397.8 598.1 L2398.4 598.1 L2398.9 598.0 L2399.4 598.0 L2399.9 597.9 L2400.5 597.9 L2401.0 597.8" fill="none" stroke="#9a72aa" stroke-width="1.6" stroke-linejoin="round"/><path d="M1926.0 578.0 L1926.5 577.6 L1927.1 579.3 L1927.6 579.8 L1928.1 580.9 L1928.6 577.6 L1929.2 576.0 L1929.7 576.3 L1930.2 578.8 L1930.8 579.8 L1931.3 579.5 L1931.8 578.8 L1932.3 578.1 L1932.9 576.9 L1933.4 576.3 L1933.9 576.7 L1934.4 575.1 L1935.0 577.7 L1935.5 579.5 L1936.0 582.1 L1936.6 580.9 L1937.1 577.4 L1937.6 578.7 L1938.1 579.2 L1938.7 580.3 L1939.2 577.5 L1939.7 577.1 L1940.2 577.0 L1940.8 578.3 L1941.3 579.0 L1941.8 578.5 L1942.4 576.7 L1942.9 575.1 L1943.4 577.2 L1943.9 578.9 L1944.5 579.7 L1945.0 578.6 L1945.5 579.4 L1946.1 578.4 L1946.6 579.8 L1947.1 577.9 L1947.6 578.5 L1948.2 577.6 L1948.7 579.6 L1949.2 580.2 L1949.8 578.6 L1950.3 577.4 L1950.8 575.7 L1951.3 577.7 L1951.9 577.8 L1952.4 579.2 L1952.9 579.0 L1953.4 577.7 L1954.0 576.0 L1954.5 575.1 L1955.0 575.8 L1955.6 575.8 L1956.1 576.2 L1956.6 577.5 L1957.1 580.8 L1957.7 581.3 L1958.2 580.4 L1958.7 576.4 L1959.2 573.5 L1959.8 574.3 L1960.3 578.2 L1960.8 579.9 L1961.4 579.2 L1961.9 578.3 L1962.4 579.3 L1962.9 580.0 L1963.5 578.7 L1964.0 576.7 L1964.5 575.8 L1965.1 576.5 L1965.6 575.6 L1966.1 575.7 L1966.6 578.3 L1967.2 581.6 L1967.7 581.5 L1968.2 579.6 L1968.8 579.3 L1969.3 579.7 L1969.8 578.8 L1970.3 576.9 L1970.9 575.7 L1971.4 576.5 L1971.9 577.2 L1972.4 578.0 L1973.0 578.0 L1973.5 579.3 L1974.0 579.1 L1974.6 577.0 L1975.1 575.9 L1975.6 575.5 L1976.1 577.5 L1976.7 576.4 L1977.2 577.3 L1977.7 577.2 L1978.2 577.0 L1978.8 577.2 L1979.3 577.0 L1979.8 580.4 L1980.4 580.6 L1980.9 581.1 L1981.4 579.8 L1981.9 580.7 L1982.5 579.4 L1983.0 580.9 L1983.5 580.5 L1984.1 579.5 L1984.6 577.2 L1985.1 577.5 L1985.6 580.1 L1986.2 580.5 L1986.7 578.8 L1987.2 578.5 L1987.8 577.3 L1988.3 577.6 L1988.8 578.2 L1989.3 578.3 L1989.9 579.9 L1990.4 580.3 L1990.9 581.1 L1991.4 578.4 L1992.0 576.6 L1992.5 577.6 L1993.0 579.6 L1993.6 579.3 L1994.1 577.8 L1994.6 578.1 L1995.1 577.7 L1995.7 577.7 L1996.2 575.8 L1996.7 577.1 L1997.2 577.6 L1997.8 577.9 L1998.3 578.2 L1998.8 577.8 L1999.4 575.8 L1999.9 575.2 L2000.4 576.6 L2000.9 579.4 L2001.5 578.5 L2002.0 576.8 L2002.5 576.0 L2003.1 575.5 L2003.6 577.7 L2004.1 578.4 L2004.6 581.4 L2005.2 581.2 L2005.7 580.7 L2006.2 580.2 L2006.8 578.7 L2007.3 580.0 L2007.8 579.7 L2008.3 580.3 L2008.9 578.4 L2009.4 577.4 L2009.9 577.2 L2010.4 578.0 L2011.0 578.5 L2011.5 579.2 L2012.0 579.3 L2012.6 579.7 L2013.1 579.7 L2013.6 581.2 L2014.1 578.8 L2014.7 578.7 L2015.2 576.5 L2015.7 579.2 L2016.2 579.1 L2016.8 580.8 L2017.3 581.3 L2017.8 581.0 L2018.4 580.9 L2018.9 580.2 L2019.4 579.7 L2019.9 578.1 L2020.5 578.0 L2021.0 576.8 L2021.5 577.0 L2022.1 575.7 L2022.6 577.3 L2023.1 577.7 L2023.6 580.2 L2024.2 579.9 L2024.7 578.7 L2025.2 576.9 L2025.8 576.4 L2026.3 578.4 L2026.8 579.2 L2027.3 578.8 L2027.9 576.6 L2028.4 576.1 L2028.9 577.0 L2029.4 578.2 L2030.0 579.3 L2030.5 579.7 L2031.0 580.1 L2031.6 577.5 L2032.1 576.3 L2032.6 574.9 L2033.1 575.5 L2033.7 577.4 L2034.2 579.3 L2034.7 581.4 L2035.2 580.1 L2035.8 580.0 L2036.3 577.7 L2036.8 576.9 L2037.4 577.6 L2037.9 578.9 L2038.4 579.8 L2038.9 578.1 L2039.5 578.3 L2040.0 580.9 L2040.5 582.1 L2041.1 582.1 L2041.6 579.5 L2042.1 577.1 L2042.6 576.3 L2043.2 575.8 L2043.7 576.9 L2044.2 578.2 L2044.8 579.7 L2045.3 579.1 L2045.8 576.2 L2046.3 574.9 L2046.9 576.5 L2047.4 575.9 L2047.9 575.8 L2048.4 575.7 L2049.0 577.4 L2049.5 578.5 L2050.0 576.9 L2050.6 578.4 L2051.1 580.6 L2051.6 582.2 L2052.1 582.7 L2052.7 580.2 L2053.2 580.1 L2053.7 578.7 L2054.2 577.5 L2054.8 577.0 L2055.3 576.9 L2055.8 578.1 L2056.4 577.9 L2056.9 576.2 L2057.4 577.3 L2057.9 576.8 L2058.5 578.8 L2059.0 577.7 L2059.5 579.4 L2060.1 579.3 L2060.6 580.4 L2061.1 578.4 L2061.6 578.9 L2062.2 578.7 L2062.7 579.7 L2063.2 578.6 L2063.8 578.6 L2064.3 579.2 L2064.8 579.6 L2065.3 579.4 L2065.9 578.6 L2066.4 578.0 L2066.9 576.6 L2067.4 578.0 L2068.0 579.0 L2068.5 580.4 L2069.0 579.2 L2069.6 578.6 L2070.1 577.9 L2070.6 579.0 L2071.1 579.4 L2071.7 580.1 L2072.2 579.1 L2072.7 578.1 L2073.2 579.4 L2073.8 579.4 L2074.3 581.1 L2074.8 579.2 L2075.4 579.6 L2075.9 579.8 L2076.4 579.2 L2076.9 578.2 L2077.5 576.3 L2078.0 577.9 L2078.5 577.1 L2079.1 577.5 L2079.6 576.0 L2080.1 576.0 L2080.6 578.5 L2081.2 579.5 L2081.7 582.1 L2082.2 581.1 L2082.8 582.7 L2083.3 581.6 L2083.8 579.7 L2084.3 580.2 L2084.9 579.1 L2085.4 578.5 L2085.9 577.3 L2086.4 579.3 L2087.0 581.5 L2087.5 580.8 L2088.0 579.1 L2088.6 578.7 L2089.1 579.7 L2089.6 580.8 L2090.1 581.7 L2090.7 581.0 L2091.2 581.7 L2091.7 580.2 L2092.2 580.7 L2092.8 581.2 L2093.3 582.7 L2093.8 582.9 L2094.4 581.9 L2094.9 580.7 L2095.4 580.3 L2095.9 581.1 L2096.5 582.2 L2097.0 581.6 L2097.5 581.8 L2098.1 582.4 L2098.6 582.7 L2099.1 582.3 L2099.6 580.9 L2100.2 581.5 L2100.7 581.3 L2101.2 582.2 L2101.8 582.3 L2102.3 582.2 L2102.8 582.4 L2103.3 581.2 L2103.9 581.0 L2104.4 580.9 L2104.9 582.3 L2105.4 583.3 L2106.0 583.0 L2106.5 582.5 L2107.0 582.4 L2107.6 582.7 L2108.1 582.6 L2108.6 583.2 L2109.1 583.9 L2109.7 584.9 L2110.2 585.8 L2110.7 585.3 L2111.2 585.6 L2111.8 585.0 L2112.3 585.5 L2112.8 585.5 L2113.4 585.4 L2113.9 585.8 L2114.4 586.5 L2114.9 586.5 L2115.5 586.4 L2116.0 586.1 L2116.5 586.4 L2117.1 586.7 L2117.6 587.1 L2118.1 588.2 L2118.6 588.5 L2119.2 588.9 L2119.7 589.4 L2120.2 590.2 L2120.8 589.9 L2121.3 589.7 L2121.8 589.8 L2122.3 590.6 L2122.9 590.7 L2123.4 591.5 L2123.9 592.4 L2124.4 593.2 L2125.0 593.3 L2125.5 594.0 L2126.0 594.6 L2126.6 595.3 L2127.1 595.6 L2127.6 595.8 L2128.1 596.4 L2128.7 597.2 L2129.2 598.1 L2129.7 598.5 L2130.2 599.1 L2130.8 599.5 L2131.3 600.1 L2131.8 600.6 L2132.4 601.5 L2132.9 602.2 L2133.4 602.7 L2133.9 603.4 L2134.5 604.1 L2135.0 604.8 L2135.5 605.6 L2136.1 606.3 L2136.6 607.0 L2137.1 607.7 L2137.6 608.5 L2138.2 609.3 L2138.7 610.1 L2139.2 610.9 L2139.8 611.7 L2140.3 612.5 L2140.8 613.4 L2141.3 614.4 L2141.9 615.4 L2142.4 616.5 L2142.9 617.6 L2143.4 618.7 L2144.0 619.9 L2144.5 621.1 L2145.0 622.4 L2145.6 623.7 L2146.1 625.1 L2146.6 626.5 L2147.1 627.9 L2147.7 629.3 L2148.2 630.8 L2148.7 632.4 L2149.2 634.0 L2149.8 635.6 L2150.3 637.2 L2150.8 638.8 L2151.4 640.5 L2151.9 642.2 L2152.4 644.0 L2152.9 645.8 L2153.5 647.6 L2154.0 649.4 L2154.5 651.2 L2155.1 653.1 L2155.6 654.9 L2156.1 656.8 L2156.6 658.7 L2157.2 660.6 L2157.7 662.6 L2158.2 664.5 L2158.8 666.5 L2159.3 668.4 L2159.8 670.4 L2160.3 672.3 L2160.9 674.3 L2161.4 676.4 L2161.9 678.5 L2162.4 680.6 L2163.0 682.8 L2163.5 685.1 L2164.0 687.4 L2164.6 689.7 L2165.1 692.1 L2165.6 694.6 L2166.1 697.0 L2166.7 699.6 L2167.2 702.2 L2167.7 704.8 L2168.2 707.4 L2168.8 710.1 L2169.3 712.9 L2169.8 715.6 L2170.4 718.4 L2170.9 721.2 L2171.4 724.1 L2171.9 726.9 L2172.5 729.8 L2173.0 732.7 L2173.5 735.6 L2174.1 738.5 L2174.6 741.4 L2175.1 744.4 L2175.6 747.3 L2176.2 750.2 L2176.7 753.0 L2177.2 755.9 L2177.8 758.7 L2178.3 761.5 L2178.8 764.3 L2179.3 767.0 L2179.9 769.7 L2180.4 772.3 L2180.9 774.9 L2181.4 777.4 L2182.0 779.8 L2182.5 782.1 L2183.0 784.4 L2183.6 786.6 L2184.1 788.7 L2184.6 790.7 L2185.1 792.5 L2185.7 794.3 L2186.2 796.0 L2186.7 797.5 L2187.2 798.9 L2187.8 800.1 L2188.3 801.3 L2188.8 802.2 L2189.4 803.1 L2189.9 803.8 L2190.4 804.3 L2190.9 804.7 L2191.5 804.9 L2192.0 805.0 L2192.5 804.9 L2193.1 804.7 L2193.6 804.3 L2194.1 803.8 L2194.6 803.1 L2195.2 802.2 L2195.7 801.3 L2196.2 800.1 L2196.8 798.9 L2197.3 797.5 L2197.8 796.0 L2198.3 794.3 L2198.9 792.5 L2199.4 790.7 L2199.9 788.7 L2200.4 786.6 L2201.0 784.4 L2201.5 782.1 L2202.0 779.8 L2202.6 777.4 L2203.1 774.9 L2203.6 772.3 L2204.1 769.7 L2204.7 767.0 L2205.2 764.3 L2205.7 761.5 L2206.2 758.7 L2206.8 755.9 L2207.3 753.0 L2207.8 750.2 L2208.4 747.3 L2208.9 744.4 L2209.4 741.4 L2209.9 738.5 L2210.5 735.6 L2211.0 732.7 L2211.5 729.8 L2212.1 726.9 L2212.6 724.1 L2213.1 721.2 L2213.6 718.4 L2214.2 715.6 L2214.7 712.9 L2215.2 710.1 L2215.8 707.4 L2216.3 704.8 L2216.8 702.2 L2217.3 699.6 L2217.9 697.0 L2218.4 694.6 L2218.9 692.1 L2219.4 689.7 L2220.0 687.4 L2220.5 685.1 L2221.0 682.8 L2221.6 680.6 L2222.1 678.5 L2222.6 676.4 L2223.1 674.3 L2223.7 672.3 L2224.2 670.4 L2224.7 668.5 L2225.2 666.7 L2225.8 664.9 L2226.3 663.2 L2226.8 661.5 L2227.4 659.9 L2227.9 658.3 L2228.4 656.8 L2228.9 655.3 L2229.5 653.8 L2230.0 652.4 L2230.5 651.0 L2231.1 649.6 L2231.6 648.3 L2232.1 647.0 L2232.6 645.8 L2233.2 644.6 L2233.7 643.4 L2234.2 642.2 L2234.8 641.1 L2235.3 640.1 L2235.8 639.0 L2236.3 638.0 L2236.9 637.0 L2237.4 636.1 L2237.9 635.2 L2238.4 634.3 L2239.0 633.4 L2239.5 632.6 L2240.0 631.8 L2240.6 631.0 L2241.1 630.3 L2241.6 629.5 L2242.1 628.8 L2242.7 628.2 L2243.2 627.5 L2243.7 626.9 L2244.2 626.3 L2244.8 625.7 L2245.3 625.2 L2245.8 624.7 L2246.4 624.2 L2246.9 623.7 L2247.4 623.2 L2247.9 622.8 L2248.5 622.4 L2249.0 622.0 L2249.5 621.6 L2250.1 621.2 L2250.6 620.9 L2251.1 620.6 L2251.6 620.3 L2252.2 620.0 L2252.7 619.7 L2253.2 619.4 L2253.8 619.2 L2254.3 618.9 L2254.8 618.7 L2255.3 618.4 L2255.9 618.2 L2256.4 618.0 L2256.9 617.7 L2257.4 617.5 L2258.0 617.3 L2258.5 617.1 L2259.0 616.9 L2259.6 616.7 L2260.1 616.6 L2260.6 616.4 L2261.1 616.2 L2261.7 616.0 L2262.2 615.9 L2262.7 615.7 L2263.2 615.5 L2263.8 615.4 L2264.3 615.2 L2264.8 615.1 L2265.4 614.9 L2265.9 614.8 L2266.4 614.6 L2266.9 614.5 L2267.5 614.4 L2268.0 614.2 L2268.5 614.1 L2269.1 614.0 L2269.6 613.8 L2270.1 613.7 L2270.6 613.6 L2271.2 613.5 L2271.7 613.3 L2272.2 613.2 L2272.8 613.1 L2273.3 613.0 L2273.8 612.9 L2274.3 612.8 L2274.9 612.6 L2275.4 612.5 L2275.9 612.4 L2276.4 612.3 L2277.0 612.2 L2277.5 612.1 L2278.0 612.0 L2278.6 611.9 L2279.1 611.8 L2279.6 611.7 L2280.1 611.6 L2280.7 611.5 L2281.2 611.4 L2281.7 611.3 L2282.2 611.2 L2282.8 611.1 L2283.3 611.0 L2283.8 611.0 L2284.4 610.9 L2284.9 610.8 L2285.4 610.7 L2285.9 610.6 L2286.5 610.5 L2287.0 610.4 L2287.5 610.3 L2288.1 610.2 L2288.6 610.2 L2289.1 610.1 L2289.6 610.0 L2290.2 609.9 L2290.7 609.8 L2291.2 609.8 L2291.8 609.7 L2292.3 609.6 L2292.8 609.5 L2293.3 609.4 L2293.9 609.4 L2294.4 609.3 L2294.9 609.2 L2295.4 609.1 L2296.0 609.1 L2296.5 609.0 L2297.0 608.9 L2297.6 608.8 L2298.1 608.8 L2298.6 608.7 L2299.1 608.6 L2299.7 608.5 L2300.2 608.5 L2300.7 608.4 L2301.2 608.3 L2301.8 608.2 L2302.3 608.2 L2302.8 608.1 L2303.4 608.0 L2303.9 608.0 L2304.4 607.9 L2304.9 607.8 L2305.5 607.8 L2306.0 607.7 L2306.5 607.6 L2307.1 607.6 L2307.6 607.5 L2308.1 607.4 L2308.6 607.4 L2309.2 607.3 L2309.7 607.2 L2310.2 607.2 L2310.8 607.1 L2311.3 607.0 L2311.8 607.0 L2312.3 606.9 L2312.9 606.8 L2313.4 606.8 L2313.9 606.7 L2314.4 606.6 L2315.0 606.6 L2315.5 606.5 L2316.0 606.4 L2316.6 606.4 L2317.1 606.3 L2317.6 606.2 L2318.1 606.2 L2318.7 606.1 L2319.2 606.0 L2319.7 606.0 L2320.2 605.9 L2320.8 605.8 L2321.3 605.8 L2321.8 605.7 L2322.4 605.6 L2322.9 605.6 L2323.4 605.5 L2323.9 605.4 L2324.5 605.4 L2325.0 605.3 L2325.5 605.2 L2326.1 605.2 L2326.6 605.1 L2327.1 605.1 L2327.6 605.0 L2328.2 604.9 L2328.7 604.9 L2329.2 604.8 L2329.8 604.7 L2330.3 604.7 L2330.8 604.6 L2331.3 604.6 L2331.9 604.5 L2332.4 604.4 L2332.9 604.4 L2333.4 604.3 L2334.0 604.2 L2334.5 604.2 L2335.0 604.1 L2335.6 604.1 L2336.1 604.0 L2336.6 603.9 L2337.1 603.9 L2337.7 603.8 L2338.2 603.8 L2338.7 603.7 L2339.2 603.6 L2339.8 603.6 L2340.3 603.5 L2340.8 603.5 L2341.4 603.4 L2341.9 603.3 L2342.4 603.3 L2342.9 603.2 L2343.5 603.2 L2344.0 603.1 L2344.5 603.1 L2345.1 603.0 L2345.6 602.9 L2346.1 602.9 L2346.6 602.8 L2347.2 602.8 L2347.7 602.7 L2348.2 602.7 L2348.8 602.6 L2349.3 602.5 L2349.8 602.5 L2350.3 602.4 L2350.9 602.4 L2351.4 602.3 L2351.9 602.3 L2352.4 602.2 L2353.0 602.1 L2353.5 602.1 L2354.0 602.0 L2354.6 602.0 L2355.1 601.9 L2355.6 601.9 L2356.1 601.8 L2356.7 601.8 L2357.2 601.7 L2357.7 601.7 L2358.2 601.6 L2358.8 601.5 L2359.3 601.5 L2359.8 601.4 L2360.4 601.4 L2360.9 601.3 L2361.4 601.3 L2361.9 601.2 L2362.5 601.2 L2363.0 601.1 L2363.5 601.1 L2364.1 601.0 L2364.6 601.0 L2365.1 600.9 L2365.6 600.9 L2366.2 600.8 L2366.7 600.8 L2367.2 600.7 L2367.8 600.7 L2368.3 600.6 L2368.8 600.6 L2369.3 600.5 L2369.9 600.4 L2370.4 600.4 L2370.9 600.3 L2371.4 600.3 L2372.0 600.2 L2372.5 600.2 L2373.0 600.1 L2373.6 600.1 L2374.1 600.0 L2374.6 600.0 L2375.1 599.9 L2375.7 599.9 L2376.2 599.8 L2376.7 599.8 L2377.2 599.7 L2377.8 599.7 L2378.3 599.7 L2378.8 599.6 L2379.4 599.6 L2379.9 599.5 L2380.4 599.5 L2380.9 599.4 L2381.5 599.4 L2382.0 599.3 L2382.5 599.3 L2383.1 599.2 L2383.6 599.2 L2384.1 599.1 L2384.6 599.1 L2385.2 599.0 L2385.7 599.0 L2386.2 598.9 L2386.8 598.9 L2387.3 598.8 L2387.8 598.8 L2388.3 598.7 L2388.9 598.7 L2389.4 598.7 L2389.9 598.6 L2390.4 598.6 L2391.0 598.5 L2391.5 598.5 L2392.0 598.4 L2392.6 598.4 L2393.1 598.3 L2393.6 598.3 L2394.1 598.2 L2394.7 598.2 L2395.2 598.2 L2395.7 598.1 L2396.2 598.1 L2396.8 598.0 L2397.3 598.0 L2397.8 597.9 L2398.4 597.9 L2398.9 597.8 L2399.4 597.8 L2399.9 597.8 L2400.5 597.7 L2401.0 597.7" fill="none" stroke="#a25a9a" stroke-width="2.6" stroke-linejoin="round"/><path d="M1926.0 591.9 L1926.5 591.2 L1927.1 590.0 L1927.6 588.0 L1928.1 589.4 L1928.6 590.3 L1929.2 592.4 L1929.7 591.9 L1930.2 591.7 L1930.8 590.3 L1931.3 589.3 L1931.8 590.4 L1932.3 589.1 L1932.9 590.9 L1933.4 588.4 L1933.9 589.7 L1934.4 589.5 L1935.0 589.9 L1935.5 588.8 L1936.0 588.5 L1936.6 590.0 L1937.1 592.1 L1937.6 590.2 L1938.1 589.6 L1938.7 589.2 L1939.2 590.2 L1939.7 590.2 L1940.2 589.3 L1940.8 590.8 L1941.3 589.9 L1941.8 591.0 L1942.4 590.2 L1942.9 590.7 L1943.4 591.3 L1943.9 590.9 L1944.5 591.5 L1945.0 589.7 L1945.5 590.1 L1946.1 589.5 L1946.6 589.4 L1947.1 589.0 L1947.6 588.3 L1948.2 589.0 L1948.7 587.6 L1949.2 587.2 L1949.8 587.0 L1950.3 588.3 L1950.8 589.3 L1951.3 589.8 L1951.9 589.0 L1952.4 589.0 L1952.9 590.4 L1953.4 591.9 L1954.0 592.1 L1954.5 591.3 L1955.0 590.5 L1955.6 590.3 L1956.1 590.4 L1956.6 590.8 L1957.1 591.4 L1957.7 592.0 L1958.2 592.8 L1958.7 592.6 L1959.2 591.4 L1959.8 589.3 L1960.3 587.3 L1960.8 588.5 L1961.4 590.1 L1961.9 591.5 L1962.4 589.6 L1962.9 589.3 L1963.5 590.7 L1964.0 592.9 L1964.5 594.9 L1965.1 594.5 L1965.6 594.0 L1966.1 593.0 L1966.6 590.7 L1967.2 590.6 L1967.7 588.7 L1968.2 590.6 L1968.8 588.3 L1969.3 588.0 L1969.8 586.7 L1970.3 587.6 L1970.9 589.3 L1971.4 589.2 L1971.9 590.3 L1972.4 590.6 L1973.0 590.5 L1973.5 590.8 L1974.0 591.5 L1974.6 592.0 L1975.1 591.6 L1975.6 591.4 L1976.1 591.4 L1976.7 590.2 L1977.2 588.7 L1977.7 589.1 L1978.2 588.8 L1978.8 588.5 L1979.3 587.8 L1979.8 589.2 L1980.4 591.8 L1980.9 593.7 L1981.4 591.8 L1981.9 590.8 L1982.5 588.9 L1983.0 590.7 L1983.5 589.3 L1984.1 591.5 L1984.6 591.0 L1985.1 591.4 L1985.6 590.1 L1986.2 589.9 L1986.7 590.1 L1987.2 591.8 L1987.8 593.5 L1988.3 593.9 L1988.8 592.2 L1989.3 590.7 L1989.9 591.3 L1990.4 590.4 L1990.9 589.5 L1991.4 587.6 L1992.0 588.7 L1992.5 589.9 L1993.0 590.9 L1993.6 590.4 L1994.1 589.4 L1994.6 587.0 L1995.1 587.6 L1995.7 587.6 L1996.2 590.5 L1996.7 589.1 L1997.2 589.9 L1997.8 589.4 L1998.3 590.8 L1998.8 591.4 L1999.4 591.7 L1999.9 591.7 L2000.4 591.8 L2000.9 590.9 L2001.5 590.6 L2002.0 592.2 L2002.5 592.2 L2003.1 592.0 L2003.6 587.8 L2004.1 586.9 L2004.6 587.2 L2005.2 588.2 L2005.7 589.1 L2006.2 587.9 L2006.8 589.7 L2007.3 589.8 L2007.8 590.6 L2008.3 589.1 L2008.9 588.7 L2009.4 589.8 L2009.9 589.6 L2010.4 590.2 L2011.0 589.2 L2011.5 588.6 L2012.0 587.8 L2012.6 588.1 L2013.1 589.7 L2013.6 591.6 L2014.1 590.6 L2014.7 589.6 L2015.2 588.6 L2015.7 589.4 L2016.2 588.6 L2016.8 589.0 L2017.3 588.0 L2017.8 588.1 L2018.4 586.3 L2018.9 585.5 L2019.4 586.1 L2019.9 587.4 L2020.5 590.2 L2021.0 590.6 L2021.5 589.5 L2022.1 588.5 L2022.6 588.4 L2023.1 591.8 L2023.6 593.3 L2024.2 594.3 L2024.7 591.5 L2025.2 590.4 L2025.8 590.7 L2026.3 590.8 L2026.8 591.1 L2027.3 593.0 L2027.9 591.2 L2028.4 590.7 L2028.9 589.0 L2029.4 590.2 L2030.0 588.9 L2030.5 588.4 L2031.0 589.0 L2031.6 589.6 L2032.1 588.2 L2032.6 589.7 L2033.1 589.8 L2033.7 591.7 L2034.2 590.2 L2034.7 589.3 L2035.2 588.5 L2035.8 586.7 L2036.3 588.4 L2036.8 588.4 L2037.4 588.6 L2037.9 588.6 L2038.4 589.9 L2038.9 590.6 L2039.5 588.3 L2040.0 585.2 L2040.5 585.4 L2041.1 588.7 L2041.6 589.3 L2042.1 591.7 L2042.6 589.1 L2043.2 590.4 L2043.7 587.1 L2044.2 588.9 L2044.8 588.5 L2045.3 591.2 L2045.8 590.6 L2046.3 591.3 L2046.9 590.8 L2047.4 591.2 L2047.9 591.1 L2048.4 590.2 L2049.0 589.6 L2049.5 588.7 L2050.0 590.1 L2050.6 589.8 L2051.1 588.4 L2051.6 587.6 L2052.1 588.9 L2052.7 590.3 L2053.2 589.9 L2053.7 588.6 L2054.2 589.7 L2054.8 591.2 L2055.3 591.7 L2055.8 591.1 L2056.4 590.7 L2056.9 591.1 L2057.4 590.8 L2057.9 589.8 L2058.5 590.8 L2059.0 591.4 L2059.5 591.9 L2060.1 589.5 L2060.6 590.7 L2061.1 589.8 L2061.6 590.8 L2062.2 589.6 L2062.7 589.3 L2063.2 588.2 L2063.8 589.1 L2064.3 590.0 L2064.8 591.9 L2065.3 593.1 L2065.9 592.4 L2066.4 591.5 L2066.9 589.4 L2067.4 588.5 L2068.0 587.7 L2068.5 589.5 L2069.0 591.1 L2069.6 592.9 L2070.1 592.9 L2070.6 592.5 L2071.1 593.0 L2071.7 592.2 L2072.2 592.2 L2072.7 591.2 L2073.2 591.1 L2073.8 591.3 L2074.3 591.7 L2074.8 591.5 L2075.4 589.2 L2075.9 588.6 L2076.4 587.2 L2076.9 590.4 L2077.5 590.1 L2078.0 591.6 L2078.5 590.6 L2079.1 589.6 L2079.6 590.3 L2080.1 590.4 L2080.6 592.3 L2081.2 590.7 L2081.7 590.1 L2082.2 588.4 L2082.8 589.7 L2083.3 590.9 L2083.8 592.0 L2084.3 589.4 L2084.9 589.2 L2085.4 588.8 L2085.9 590.5 L2086.4 590.4 L2087.0 590.5 L2087.5 590.3 L2088.0 590.0 L2088.6 591.2 L2089.1 590.8 L2089.6 590.8 L2090.1 590.9 L2090.7 592.0 L2091.2 592.5 L2091.7 591.8 L2092.2 591.8 L2092.8 591.7 L2093.3 590.8 L2093.8 591.2 L2094.4 591.2 L2094.9 590.8 L2095.4 589.4 L2095.9 589.2 L2096.5 590.5 L2097.0 592.2 L2097.5 592.6 L2098.1 592.7 L2098.6 591.1 L2099.1 592.0 L2099.6 592.3 L2100.2 592.5 L2100.7 592.4 L2101.2 593.4 L2101.8 593.9 L2102.3 593.6 L2102.8 593.4 L2103.3 594.9 L2103.9 594.4 L2104.4 594.8 L2104.9 593.4 L2105.4 593.1 L2106.0 592.9 L2106.5 592.5 L2107.0 593.4 L2107.6 594.1 L2108.1 594.7 L2108.6 595.8 L2109.1 594.5 L2109.7 594.9 L2110.2 594.7 L2110.7 594.4 L2111.2 594.5 L2111.8 595.3 L2112.3 596.1 L2112.8 596.4 L2113.4 595.9 L2113.9 596.2 L2114.4 597.3 L2114.9 596.9 L2115.5 597.9 L2116.0 597.7 L2116.5 598.6 L2117.1 598.9 L2117.6 598.4 L2118.1 598.8 L2118.6 599.1 L2119.2 600.1 L2119.7 600.2 L2120.2 600.5 L2120.8 601.0 L2121.3 601.3 L2121.8 601.7 L2122.3 601.7 L2122.9 602.3 L2123.4 602.5 L2123.9 603.4 L2124.4 604.0 L2125.0 604.6 L2125.5 605.2 L2126.0 605.6 L2126.6 606.3 L2127.1 606.6 L2127.6 607.2 L2128.1 608.1 L2128.7 608.9 L2129.2 609.4 L2129.7 609.9 L2130.2 610.4 L2130.8 611.2 L2131.3 611.7 L2131.8 612.6 L2132.4 613.3 L2132.9 613.7 L2133.4 614.3 L2133.9 614.9 L2134.5 615.6 L2135.0 616.1 L2135.5 616.6 L2136.1 617.4 L2136.6 618.0 L2137.1 618.7 L2137.6 619.3 L2138.2 620.0 L2138.7 620.6 L2139.2 621.2 L2139.8 621.8 L2140.3 622.5 L2140.8 623.1 L2141.3 623.8 L2141.9 624.6 L2142.4 625.3 L2142.9 626.1 L2143.4 626.9 L2144.0 627.7 L2144.5 628.6 L2145.0 629.5 L2145.6 630.4 L2146.1 631.3 L2146.6 632.3 L2147.1 633.3 L2147.7 634.3 L2148.2 635.4 L2148.7 636.5 L2149.2 637.6 L2149.8 638.7 L2150.3 639.9 L2150.8 641.1 L2151.4 642.3 L2151.9 643.6 L2152.4 644.9 L2152.9 646.3 L2153.5 647.6 L2154.0 649.0 L2154.5 650.5 L2155.1 652.0 L2155.6 653.5 L2156.1 655.0 L2156.6 656.6 L2157.2 658.2 L2157.7 659.8 L2158.2 661.5 L2158.8 663.2 L2159.3 665.0 L2159.8 666.8 L2160.3 668.6 L2160.9 670.4 L2161.4 672.3 L2161.9 674.3 L2162.4 676.3 L2163.0 678.3 L2163.5 680.4 L2164.0 682.5 L2164.6 684.7 L2165.1 687.0 L2165.6 689.2 L2166.1 691.6 L2166.7 693.9 L2167.2 696.3 L2167.7 698.8 L2168.2 701.2 L2168.8 703.7 L2169.3 706.3 L2169.8 708.8 L2170.4 711.4 L2170.9 714.1 L2171.4 716.7 L2171.9 719.4 L2172.5 722.1 L2173.0 724.7 L2173.5 727.4 L2174.1 730.2 L2174.6 732.9 L2175.1 735.6 L2175.6 738.3 L2176.2 741.0 L2176.7 743.6 L2177.2 746.3 L2177.8 748.9 L2178.3 751.5 L2178.8 754.1 L2179.3 756.6 L2179.9 759.1 L2180.4 761.6 L2180.9 764.0 L2181.4 766.3 L2182.0 768.5 L2182.5 770.7 L2183.0 772.8 L2183.6 774.9 L2184.1 776.8 L2184.6 778.7 L2185.1 780.4 L2185.7 782.1 L2186.2 783.6 L2186.7 785.0 L2187.2 786.3 L2187.8 787.5 L2188.3 788.5 L2188.8 789.4 L2189.4 790.2 L2189.9 790.9 L2190.4 791.4 L2190.9 791.7 L2191.5 791.9 L2192.0 792.0 L2192.5 791.9 L2193.1 791.7 L2193.6 791.4 L2194.1 790.9 L2194.6 790.2 L2195.2 789.4 L2195.7 788.5 L2196.2 787.5 L2196.8 786.3 L2197.3 785.0 L2197.8 783.6 L2198.3 782.1 L2198.9 780.4 L2199.4 778.7 L2199.9 776.8 L2200.4 774.9 L2201.0 772.8 L2201.5 770.7 L2202.0 768.5 L2202.6 766.3 L2203.1 764.0 L2203.6 761.6 L2204.1 759.1 L2204.7 756.6 L2205.2 754.1 L2205.7 751.5 L2206.2 748.9 L2206.8 746.3 L2207.3 743.6 L2207.8 741.0 L2208.4 738.3 L2208.9 735.6 L2209.4 732.9 L2209.9 730.2 L2210.5 727.4 L2211.0 724.7 L2211.5 722.1 L2212.1 719.4 L2212.6 716.7 L2213.1 714.1 L2213.6 711.4 L2214.2 708.8 L2214.7 706.3 L2215.2 703.7 L2215.8 701.2 L2216.3 698.8 L2216.8 696.3 L2217.3 693.9 L2217.9 691.6 L2218.4 689.2 L2218.9 687.0 L2219.4 684.7 L2220.0 682.5 L2220.5 680.4 L2221.0 678.3 L2221.6 676.3 L2222.1 674.3 L2222.6 672.3 L2223.1 670.4 L2223.7 668.6 L2224.2 666.8 L2224.7 665.0 L2225.2 663.3 L2225.8 661.7 L2226.3 660.1 L2226.8 658.5 L2227.4 657.0 L2227.9 655.5 L2228.4 654.1 L2228.9 652.7 L2229.5 651.3 L2230.0 650.0 L2230.5 648.7 L2231.1 647.4 L2231.6 646.2 L2232.1 645.0 L2232.6 643.8 L2233.2 642.7 L2233.7 641.5 L2234.2 640.5 L2234.8 639.4 L2235.3 638.4 L2235.8 637.4 L2236.3 636.5 L2236.9 635.6 L2237.4 634.7 L2237.9 633.8 L2238.4 633.0 L2239.0 632.2 L2239.5 631.4 L2240.0 630.6 L2240.6 629.9 L2241.1 629.2 L2241.6 628.5 L2242.1 627.8 L2242.7 627.2 L2243.2 626.6 L2243.7 626.0 L2244.2 625.4 L2244.8 624.9 L2245.3 624.4 L2245.8 623.9 L2246.4 623.4 L2246.9 622.9 L2247.4 622.5 L2247.9 622.1 L2248.5 621.7 L2249.0 621.3 L2249.5 620.9 L2250.1 620.6 L2250.6 620.3 L2251.1 620.0 L2251.6 619.7 L2252.2 619.4 L2252.7 619.1 L2253.2 618.9 L2253.8 618.6 L2254.3 618.4 L2254.8 618.2 L2255.3 617.9 L2255.9 617.7 L2256.4 617.5 L2256.9 617.3 L2257.4 617.1 L2258.0 616.9 L2258.5 616.7 L2259.0 616.5 L2259.6 616.3 L2260.1 616.1 L2260.6 616.0 L2261.1 615.8 L2261.7 615.6 L2262.2 615.5 L2262.7 615.3 L2263.2 615.2 L2263.8 615.0 L2264.3 614.9 L2264.8 614.7 L2265.4 614.6 L2265.9 614.4 L2266.4 614.3 L2266.9 614.2 L2267.5 614.0 L2268.0 613.9 L2268.5 613.8 L2269.1 613.6 L2269.6 613.5 L2270.1 613.4 L2270.6 613.3 L2271.2 613.2 L2271.7 613.0 L2272.2 612.9 L2272.8 612.8 L2273.3 612.7 L2273.8 612.6 L2274.3 612.5 L2274.9 612.4 L2275.4 612.3 L2275.9 612.2 L2276.4 612.1 L2277.0 612.0 L2277.5 611.9 L2278.0 611.8 L2278.6 611.7 L2279.1 611.6 L2279.6 611.5 L2280.1 611.4 L2280.7 611.3 L2281.2 611.2 L2281.7 611.1 L2282.2 611.0 L2282.8 610.9 L2283.3 610.8 L2283.8 610.7 L2284.4 610.6 L2284.9 610.5 L2285.4 610.5 L2285.9 610.4 L2286.5 610.3 L2287.0 610.2 L2287.5 610.1 L2288.1 610.0 L2288.6 610.0 L2289.1 609.9 L2289.6 609.8 L2290.2 609.7 L2290.7 609.6 L2291.2 609.6 L2291.8 609.5 L2292.3 609.4 L2292.8 609.3 L2293.3 609.2 L2293.9 609.2 L2294.4 609.1 L2294.9 609.0 L2295.4 608.9 L2296.0 608.9 L2296.5 608.8 L2297.0 608.7 L2297.6 608.7 L2298.1 608.6 L2298.6 608.5 L2299.1 608.4 L2299.7 608.4 L2300.2 608.3 L2300.7 608.2 L2301.2 608.2 L2301.8 608.1 L2302.3 608.0 L2302.8 607.9 L2303.4 607.9 L2303.9 607.8 L2304.4 607.7 L2304.9 607.7 L2305.5 607.6 L2306.0 607.5 L2306.5 607.5 L2307.1 607.4 L2307.6 607.3 L2308.1 607.3 L2308.6 607.2 L2309.2 607.1 L2309.7 607.1 L2310.2 607.0 L2310.8 606.9 L2311.3 606.9 L2311.8 606.8 L2312.3 606.7 L2312.9 606.7 L2313.4 606.6 L2313.9 606.6 L2314.4 606.5 L2315.0 606.4 L2315.5 606.4 L2316.0 606.3 L2316.6 606.2 L2317.1 606.2 L2317.6 606.1 L2318.1 606.0 L2318.7 606.0 L2319.2 605.9 L2319.7 605.8 L2320.2 605.8 L2320.8 605.7 L2321.3 605.6 L2321.8 605.6 L2322.4 605.5 L2322.9 605.5 L2323.4 605.4 L2323.9 605.3 L2324.5 605.3 L2325.0 605.2 L2325.5 605.1 L2326.1 605.1 L2326.6 605.0 L2327.1 604.9 L2327.6 604.9 L2328.2 604.8 L2328.7 604.8 L2329.2 604.7 L2329.8 604.6 L2330.3 604.6 L2330.8 604.5 L2331.3 604.4 L2331.9 604.4 L2332.4 604.3 L2332.9 604.3 L2333.4 604.2 L2334.0 604.1 L2334.5 604.1 L2335.0 604.0 L2335.6 604.0 L2336.1 603.9 L2336.6 603.8 L2337.1 603.8 L2337.7 603.7 L2338.2 603.7 L2338.7 603.6 L2339.2 603.5 L2339.8 603.5 L2340.3 603.4 L2340.8 603.4 L2341.4 603.3 L2341.9 603.3 L2342.4 603.2 L2342.9 603.1 L2343.5 603.1 L2344.0 603.0 L2344.5 603.0 L2345.1 602.9 L2345.6 602.9 L2346.1 602.8 L2346.6 602.7 L2347.2 602.7 L2347.7 602.6 L2348.2 602.6 L2348.8 602.5 L2349.3 602.5 L2349.8 602.4 L2350.3 602.3 L2350.9 602.3 L2351.4 602.2 L2351.9 602.2 L2352.4 602.1 L2353.0 602.1 L2353.5 602.0 L2354.0 602.0 L2354.6 601.9 L2355.1 601.9 L2355.6 601.8 L2356.1 601.7 L2356.7 601.7 L2357.2 601.6 L2357.7 601.6 L2358.2 601.5 L2358.8 601.5 L2359.3 601.4 L2359.8 601.4 L2360.4 601.3 L2360.9 601.3 L2361.4 601.2 L2361.9 601.2 L2362.5 601.1 L2363.0 601.1 L2363.5 601.0 L2364.1 600.9 L2364.6 600.9 L2365.1 600.8 L2365.6 600.8 L2366.2 600.7 L2366.7 600.7 L2367.2 600.6 L2367.8 600.6 L2368.3 600.5 L2368.8 600.5 L2369.3 600.4 L2369.9 600.4 L2370.4 600.3 L2370.9 600.3 L2371.4 600.2 L2372.0 600.2 L2372.5 600.1 L2373.0 600.1 L2373.6 600.0 L2374.1 600.0 L2374.6 599.9 L2375.1 599.9 L2375.7 599.8 L2376.2 599.8 L2376.7 599.7 L2377.2 599.7 L2377.8 599.6 L2378.3 599.6 L2378.8 599.5 L2379.4 599.5 L2379.9 599.4 L2380.4 599.4 L2380.9 599.4 L2381.5 599.3 L2382.0 599.3 L2382.5 599.2 L2383.1 599.2 L2383.6 599.1 L2384.1 599.1 L2384.6 599.0 L2385.2 599.0 L2385.7 598.9 L2386.2 598.9 L2386.8 598.8 L2387.3 598.8 L2387.8 598.7 L2388.3 598.7 L2388.9 598.6 L2389.4 598.6 L2389.9 598.6 L2390.4 598.5 L2391.0 598.5 L2391.5 598.4 L2392.0 598.4 L2392.6 598.3 L2393.1 598.3 L2393.6 598.2 L2394.1 598.2 L2394.7 598.1 L2395.2 598.1 L2395.7 598.1 L2396.2 598.0 L2396.8 598.0 L2397.3 597.9 L2397.8 597.9 L2398.4 597.8 L2398.9 597.8 L2399.4 597.8 L2399.9 597.7 L2400.5 597.7 L2401.0 597.6" fill="none" stroke="#933a7c" stroke-width="3.0" stroke-linejoin="round"/><path d="M1926.0 609.6 L1926.5 610.1 L1927.1 608.2 L1927.6 608.7 L1928.1 607.9 L1928.6 608.6 L1929.2 607.0 L1929.7 607.1 L1930.2 606.1 L1930.8 605.2 L1931.3 606.4 L1931.8 606.2 L1932.3 607.4 L1932.9 606.1 L1933.4 606.5 L1933.9 605.9 L1934.4 606.3 L1935.0 606.8 L1935.5 605.1 L1936.0 604.1 L1936.6 603.8 L1937.1 606.7 L1937.6 607.5 L1938.1 608.8 L1938.7 607.9 L1939.2 608.1 L1939.7 606.8 L1940.2 607.2 L1940.8 604.7 L1941.3 605.0 L1941.8 605.0 L1942.4 607.1 L1942.9 606.3 L1943.4 606.8 L1943.9 606.1 L1944.5 606.9 L1945.0 606.7 L1945.5 606.1 L1946.1 604.3 L1946.6 603.4 L1947.1 605.8 L1947.6 607.0 L1948.2 606.7 L1948.7 606.3 L1949.2 606.8 L1949.8 606.9 L1950.3 606.7 L1950.8 607.6 L1951.3 607.9 L1951.9 609.0 L1952.4 608.4 L1952.9 610.2 L1953.4 609.4 L1954.0 609.6 L1954.5 607.6 L1955.0 609.2 L1955.6 607.1 L1956.1 608.3 L1956.6 606.2 L1957.1 606.3 L1957.7 604.9 L1958.2 604.3 L1958.7 606.1 L1959.2 606.7 L1959.8 607.1 L1960.3 603.4 L1960.8 602.3 L1961.4 601.8 L1961.9 604.4 L1962.4 604.1 L1962.9 606.6 L1963.5 606.7 L1964.0 609.0 L1964.5 605.7 L1965.1 605.2 L1965.6 604.8 L1966.1 606.0 L1966.6 606.4 L1967.2 607.2 L1967.7 607.5 L1968.2 607.3 L1968.8 604.9 L1969.3 605.2 L1969.8 606.5 L1970.3 608.8 L1970.9 608.7 L1971.4 608.3 L1971.9 607.4 L1972.4 609.4 L1973.0 609.5 L1973.5 610.3 L1974.0 607.7 L1974.6 606.8 L1975.1 604.6 L1975.6 605.0 L1976.1 605.3 L1976.7 607.0 L1977.2 607.6 L1977.7 608.1 L1978.2 607.1 L1978.8 605.3 L1979.3 605.2 L1979.8 605.9 L1980.4 608.7 L1980.9 609.4 L1981.4 608.0 L1981.9 607.8 L1982.5 607.8 L1983.0 608.7 L1983.5 606.0 L1984.1 605.6 L1984.6 604.7 L1985.1 605.9 L1985.6 604.2 L1986.2 604.5 L1986.7 604.6 L1987.2 606.7 L1987.8 608.1 L1988.3 609.0 L1988.8 608.2 L1989.3 607.5 L1989.9 607.5 L1990.4 607.0 L1990.9 606.8 L1991.4 605.9 L1992.0 606.5 L1992.5 608.3 L1993.0 607.2 L1993.6 607.6 L1994.1 605.4 L1994.6 605.9 L1995.1 606.1 L1995.7 605.1 L1996.2 604.9 L1996.7 604.6 L1997.2 606.5 L1997.8 607.2 L1998.3 606.8 L1998.8 603.9 L1999.4 602.8 L1999.9 602.2 L2000.4 602.6 L2000.9 604.6 L2001.5 604.8 L2002.0 606.6 L2002.5 605.1 L2003.1 606.0 L2003.6 607.9 L2004.1 607.1 L2004.6 606.8 L2005.2 605.3 L2005.7 605.6 L2006.2 604.3 L2006.8 604.7 L2007.3 607.0 L2007.8 609.5 L2008.3 606.9 L2008.9 608.0 L2009.4 606.2 L2009.9 607.8 L2010.4 607.8 L2011.0 607.6 L2011.5 610.1 L2012.0 607.8 L2012.6 607.1 L2013.1 606.6 L2013.6 606.1 L2014.1 606.5 L2014.7 604.7 L2015.2 606.3 L2015.7 607.9 L2016.2 608.5 L2016.8 606.1 L2017.3 605.1 L2017.8 604.1 L2018.4 606.6 L2018.9 607.4 L2019.4 607.4 L2019.9 604.5 L2020.5 602.8 L2021.0 603.2 L2021.5 605.6 L2022.1 607.7 L2022.6 608.1 L2023.1 606.3 L2023.6 606.2 L2024.2 606.8 L2024.7 605.9 L2025.2 607.3 L2025.8 606.4 L2026.3 607.3 L2026.8 606.9 L2027.3 604.9 L2027.9 603.0 L2028.4 600.5 L2028.9 602.6 L2029.4 605.2 L2030.0 606.5 L2030.5 605.5 L2031.0 606.5 L2031.6 607.1 L2032.1 608.0 L2032.6 606.9 L2033.1 605.6 L2033.7 604.4 L2034.2 607.0 L2034.7 606.9 L2035.2 608.7 L2035.8 605.0 L2036.3 604.9 L2036.8 603.9 L2037.4 605.1 L2037.9 605.6 L2038.4 605.4 L2038.9 605.5 L2039.5 605.3 L2040.0 605.1 L2040.5 606.4 L2041.1 607.1 L2041.6 607.2 L2042.1 606.5 L2042.6 606.6 L2043.2 606.8 L2043.7 605.5 L2044.2 604.0 L2044.8 606.0 L2045.3 605.8 L2045.8 606.2 L2046.3 604.3 L2046.9 604.6 L2047.4 605.0 L2047.9 605.1 L2048.4 606.2 L2049.0 605.7 L2049.5 606.6 L2050.0 606.4 L2050.6 608.4 L2051.1 608.6 L2051.6 608.4 L2052.1 605.6 L2052.7 604.3 L2053.2 603.2 L2053.7 605.9 L2054.2 605.9 L2054.8 606.5 L2055.3 604.0 L2055.8 603.3 L2056.4 604.8 L2056.9 605.4 L2057.4 607.5 L2057.9 606.3 L2058.5 606.7 L2059.0 603.5 L2059.5 603.5 L2060.1 602.6 L2060.6 605.2 L2061.1 605.4 L2061.6 605.5 L2062.2 605.9 L2062.7 604.9 L2063.2 606.3 L2063.8 604.9 L2064.3 605.5 L2064.8 604.1 L2065.3 605.6 L2065.9 606.3 L2066.4 606.0 L2066.9 603.8 L2067.4 603.9 L2068.0 604.9 L2068.5 606.0 L2069.0 605.8 L2069.6 606.0 L2070.1 604.9 L2070.6 606.1 L2071.1 607.2 L2071.7 608.8 L2072.2 606.8 L2072.7 606.2 L2073.2 604.1 L2073.8 604.8 L2074.3 603.5 L2074.8 605.8 L2075.4 604.6 L2075.9 604.4 L2076.4 602.8 L2076.9 603.4 L2077.5 602.4 L2078.0 604.2 L2078.5 604.7 L2079.1 608.9 L2079.6 607.6 L2080.1 606.2 L2080.6 605.1 L2081.2 605.0 L2081.7 606.2 L2082.2 605.4 L2082.8 606.2 L2083.3 606.3 L2083.8 606.7 L2084.3 605.7 L2084.9 605.8 L2085.4 605.0 L2085.9 606.0 L2086.4 606.2 L2087.0 607.7 L2087.5 606.4 L2088.0 606.4 L2088.6 605.2 L2089.1 606.5 L2089.6 605.5 L2090.1 606.5 L2090.7 606.3 L2091.2 607.1 L2091.7 608.0 L2092.2 608.5 L2092.8 608.5 L2093.3 608.0 L2093.8 607.1 L2094.4 607.4 L2094.9 607.2 L2095.4 609.0 L2095.9 610.3 L2096.5 610.3 L2097.0 609.4 L2097.5 607.2 L2098.1 606.9 L2098.6 605.9 L2099.1 608.0 L2099.6 608.4 L2100.2 608.6 L2100.7 607.9 L2101.2 608.8 L2101.8 609.6 L2102.3 609.4 L2102.8 609.3 L2103.3 609.5 L2103.9 609.7 L2104.4 608.5 L2104.9 608.3 L2105.4 608.5 L2106.0 609.8 L2106.5 610.0 L2107.0 610.1 L2107.6 610.0 L2108.1 610.6 L2108.6 611.8 L2109.1 611.2 L2109.7 610.6 L2110.2 610.7 L2110.7 611.4 L2111.2 611.5 L2111.8 611.0 L2112.3 611.9 L2112.8 612.5 L2113.4 612.6 L2113.9 612.3 L2114.4 612.3 L2114.9 612.1 L2115.5 613.1 L2116.0 613.3 L2116.5 614.0 L2117.1 614.2 L2117.6 614.4 L2118.1 614.6 L2118.6 614.9 L2119.2 615.7 L2119.7 616.5 L2120.2 616.7 L2120.8 617.9 L2121.3 618.1 L2121.8 618.4 L2122.3 618.5 L2122.9 619.5 L2123.4 620.2 L2123.9 620.5 L2124.4 620.4 L2125.0 620.9 L2125.5 621.5 L2126.0 622.6 L2126.6 623.3 L2127.1 624.0 L2127.6 624.6 L2128.1 625.6 L2128.7 626.1 L2129.2 626.7 L2129.7 626.9 L2130.2 627.5 L2130.8 627.9 L2131.3 628.5 L2131.8 629.1 L2132.4 629.8 L2132.9 630.3 L2133.4 630.7 L2133.9 631.2 L2134.5 631.9 L2135.0 632.6 L2135.5 632.9 L2136.1 633.3 L2136.6 633.7 L2137.1 634.2 L2137.6 634.6 L2138.2 634.9 L2138.7 635.3 L2139.2 635.6 L2139.8 635.9 L2140.3 636.3 L2140.8 636.6 L2141.3 636.8 L2141.9 637.1 L2142.4 637.4 L2142.9 637.7 L2143.4 637.9 L2144.0 638.2 L2144.5 638.5 L2145.0 638.8 L2145.6 639.1 L2146.1 639.4 L2146.6 639.7 L2147.1 640.0 L2147.7 640.4 L2148.2 640.8 L2148.7 641.2 L2149.2 641.6 L2149.8 642.1 L2150.3 642.6 L2150.8 643.1 L2151.4 643.7 L2151.9 644.3 L2152.4 645.0 L2152.9 645.7 L2153.5 646.5 L2154.0 647.3 L2154.5 648.1 L2155.1 649.1 L2155.6 650.1 L2156.1 651.1 L2156.6 652.2 L2157.2 653.4 L2157.7 654.7 L2158.2 656.0 L2158.8 657.4 L2159.3 658.9 L2159.8 660.4 L2160.3 662.1 L2160.9 663.8 L2161.4 665.5 L2161.9 667.3 L2162.4 669.2 L2163.0 671.1 L2163.5 673.0 L2164.0 675.0 L2164.6 677.1 L2165.1 679.2 L2165.6 681.3 L2166.1 683.5 L2166.7 685.8 L2167.2 688.0 L2167.7 690.4 L2168.2 692.7 L2168.8 695.1 L2169.3 697.5 L2169.8 700.0 L2170.4 702.5 L2170.9 705.0 L2171.4 707.6 L2171.9 710.1 L2172.5 712.7 L2173.0 715.4 L2173.5 718.0 L2174.1 720.6 L2174.6 723.3 L2175.1 725.9 L2175.6 728.5 L2176.2 731.2 L2176.7 733.8 L2177.2 736.4 L2177.8 739.0 L2178.3 741.6 L2178.8 744.1 L2179.3 746.6 L2179.9 749.1 L2180.4 751.5 L2180.9 753.9 L2181.4 756.2 L2182.0 758.5 L2182.5 760.6 L2183.0 762.8 L2183.6 764.8 L2184.1 766.7 L2184.6 768.6 L2185.1 770.3 L2185.7 772.0 L2186.2 773.5 L2186.7 774.9 L2187.2 776.2 L2187.8 777.4 L2188.3 778.5 L2188.8 779.4 L2189.4 780.2 L2189.9 780.8 L2190.4 781.3 L2190.9 781.7 L2191.5 781.9 L2192.0 782.0 L2192.5 781.9 L2193.1 781.7 L2193.6 781.3 L2194.1 780.8 L2194.6 780.2 L2195.2 779.4 L2195.7 778.5 L2196.2 777.4 L2196.8 776.2 L2197.3 774.9 L2197.8 773.5 L2198.3 772.0 L2198.9 770.3 L2199.4 768.6 L2199.9 766.7 L2200.4 764.8 L2201.0 762.8 L2201.5 760.6 L2202.0 758.5 L2202.6 756.2 L2203.1 753.9 L2203.6 751.5 L2204.1 749.1 L2204.7 746.6 L2205.2 744.1 L2205.7 741.6 L2206.2 739.0 L2206.8 736.4 L2207.3 733.8 L2207.8 731.2 L2208.4 728.5 L2208.9 725.9 L2209.4 723.3 L2209.9 720.6 L2210.5 718.0 L2211.0 715.4 L2211.5 712.7 L2212.1 710.1 L2212.6 707.6 L2213.1 705.0 L2213.6 702.5 L2214.2 700.0 L2214.7 697.5 L2215.2 695.1 L2215.8 692.7 L2216.3 690.4 L2216.8 688.0 L2217.3 685.8 L2217.9 683.5 L2218.4 681.3 L2218.9 679.2 L2219.4 677.1 L2220.0 675.0 L2220.5 673.0 L2221.0 671.1 L2221.6 669.2 L2222.1 667.3 L2222.6 665.5 L2223.1 663.8 L2223.7 662.1 L2224.2 660.4 L2224.7 658.8 L2225.2 657.3 L2225.8 655.8 L2226.3 654.3 L2226.8 652.9 L2227.4 651.5 L2227.9 650.2 L2228.4 648.9 L2228.9 647.7 L2229.5 646.4 L2230.0 645.2 L2230.5 644.1 L2231.1 642.9 L2231.6 641.8 L2232.1 640.8 L2232.6 639.7 L2233.2 638.7 L2233.7 637.7 L2234.2 636.8 L2234.8 635.9 L2235.3 635.0 L2235.8 634.1 L2236.3 633.3 L2236.9 632.5 L2237.4 631.7 L2237.9 630.9 L2238.4 630.2 L2239.0 629.5 L2239.5 628.8 L2240.0 628.1 L2240.6 627.5 L2241.1 626.9 L2241.6 626.3 L2242.1 625.7 L2242.7 625.1 L2243.2 624.6 L2243.7 624.1 L2244.2 623.6 L2244.8 623.1 L2245.3 622.6 L2245.8 622.2 L2246.4 621.8 L2246.9 621.4 L2247.4 621.0 L2247.9 620.6 L2248.5 620.3 L2249.0 619.9 L2249.5 619.6 L2250.1 619.3 L2250.6 619.1 L2251.1 618.8 L2251.6 618.6 L2252.2 618.3 L2252.7 618.1 L2253.2 617.9 L2253.8 617.6 L2254.3 617.4 L2254.8 617.2 L2255.3 617.0 L2255.9 616.8 L2256.4 616.6 L2256.9 616.4 L2257.4 616.3 L2258.0 616.1 L2258.5 615.9 L2259.0 615.7 L2259.6 615.6 L2260.1 615.4 L2260.6 615.3 L2261.1 615.1 L2261.7 615.0 L2262.2 614.8 L2262.7 614.7 L2263.2 614.5 L2263.8 614.4 L2264.3 614.2 L2264.8 614.1 L2265.4 614.0 L2265.9 613.9 L2266.4 613.7 L2266.9 613.6 L2267.5 613.5 L2268.0 613.4 L2268.5 613.2 L2269.1 613.1 L2269.6 613.0 L2270.1 612.9 L2270.6 612.8 L2271.2 612.7 L2271.7 612.6 L2272.2 612.4 L2272.8 612.3 L2273.3 612.2 L2273.8 612.1 L2274.3 612.0 L2274.9 611.9 L2275.4 611.8 L2275.9 611.7 L2276.4 611.6 L2277.0 611.5 L2277.5 611.4 L2278.0 611.3 L2278.6 611.2 L2279.1 611.2 L2279.6 611.1 L2280.1 611.0 L2280.7 610.9 L2281.2 610.8 L2281.7 610.7 L2282.2 610.6 L2282.8 610.5 L2283.3 610.4 L2283.8 610.4 L2284.4 610.3 L2284.9 610.2 L2285.4 610.1 L2285.9 610.0 L2286.5 609.9 L2287.0 609.9 L2287.5 609.8 L2288.1 609.7 L2288.6 609.6 L2289.1 609.5 L2289.6 609.5 L2290.2 609.4 L2290.7 609.3 L2291.2 609.2 L2291.8 609.2 L2292.3 609.1 L2292.8 609.0 L2293.3 608.9 L2293.9 608.9 L2294.4 608.8 L2294.9 608.7 L2295.4 608.7 L2296.0 608.6 L2296.5 608.5 L2297.0 608.4 L2297.6 608.4 L2298.1 608.3 L2298.6 608.2 L2299.1 608.2 L2299.7 608.1 L2300.2 608.0 L2300.7 608.0 L2301.2 607.9 L2301.8 607.8 L2302.3 607.8 L2302.8 607.7 L2303.4 607.6 L2303.9 607.6 L2304.4 607.5 L2304.9 607.4 L2305.5 607.4 L2306.0 607.3 L2306.5 607.2 L2307.1 607.2 L2307.6 607.1 L2308.1 607.0 L2308.6 607.0 L2309.2 606.9 L2309.7 606.8 L2310.2 606.8 L2310.8 606.7 L2311.3 606.7 L2311.8 606.6 L2312.3 606.5 L2312.9 606.5 L2313.4 606.4 L2313.9 606.3 L2314.4 606.3 L2315.0 606.2 L2315.5 606.1 L2316.0 606.1 L2316.6 606.0 L2317.1 606.0 L2317.6 605.9 L2318.1 605.8 L2318.7 605.8 L2319.2 605.7 L2319.7 605.6 L2320.2 605.6 L2320.8 605.5 L2321.3 605.5 L2321.8 605.4 L2322.4 605.3 L2322.9 605.3 L2323.4 605.2 L2323.9 605.1 L2324.5 605.1 L2325.0 605.0 L2325.5 605.0 L2326.1 604.9 L2326.6 604.8 L2327.1 604.8 L2327.6 604.7 L2328.2 604.6 L2328.7 604.6 L2329.2 604.5 L2329.8 604.5 L2330.3 604.4 L2330.8 604.3 L2331.3 604.3 L2331.9 604.2 L2332.4 604.2 L2332.9 604.1 L2333.4 604.0 L2334.0 604.0 L2334.5 603.9 L2335.0 603.9 L2335.6 603.8 L2336.1 603.7 L2336.6 603.7 L2337.1 603.6 L2337.7 603.6 L2338.2 603.5 L2338.7 603.5 L2339.2 603.4 L2339.8 603.3 L2340.3 603.3 L2340.8 603.2 L2341.4 603.2 L2341.9 603.1 L2342.4 603.1 L2342.9 603.0 L2343.5 602.9 L2344.0 602.9 L2344.5 602.8 L2345.1 602.8 L2345.6 602.7 L2346.1 602.7 L2346.6 602.6 L2347.2 602.5 L2347.7 602.5 L2348.2 602.4 L2348.8 602.4 L2349.3 602.3 L2349.8 602.3 L2350.3 602.2 L2350.9 602.2 L2351.4 602.1 L2351.9 602.1 L2352.4 602.0 L2353.0 601.9 L2353.5 601.9 L2354.0 601.8 L2354.6 601.8 L2355.1 601.7 L2355.6 601.7 L2356.1 601.6 L2356.7 601.6 L2357.2 601.5 L2357.7 601.5 L2358.2 601.4 L2358.8 601.4 L2359.3 601.3 L2359.8 601.3 L2360.4 601.2 L2360.9 601.1 L2361.4 601.1 L2361.9 601.0 L2362.5 601.0 L2363.0 600.9 L2363.5 600.9 L2364.1 600.8 L2364.6 600.8 L2365.1 600.7 L2365.6 600.7 L2366.2 600.6 L2366.7 600.6 L2367.2 600.5 L2367.8 600.5 L2368.3 600.4 L2368.8 600.4 L2369.3 600.3 L2369.9 600.3 L2370.4 600.2 L2370.9 600.2 L2371.4 600.1 L2372.0 600.1 L2372.5 600.0 L2373.0 600.0 L2373.6 599.9 L2374.1 599.9 L2374.6 599.8 L2375.1 599.8 L2375.7 599.7 L2376.2 599.7 L2376.7 599.6 L2377.2 599.6 L2377.8 599.5 L2378.3 599.5 L2378.8 599.5 L2379.4 599.4 L2379.9 599.4 L2380.4 599.3 L2380.9 599.3 L2381.5 599.2 L2382.0 599.2 L2382.5 599.1 L2383.1 599.1 L2383.6 599.0 L2384.1 599.0 L2384.6 598.9 L2385.2 598.9 L2385.7 598.8 L2386.2 598.8 L2386.8 598.7 L2387.3 598.7 L2387.8 598.7 L2388.3 598.6 L2388.9 598.6 L2389.4 598.5 L2389.9 598.5 L2390.4 598.4 L2391.0 598.4 L2391.5 598.3 L2392.0 598.3 L2392.6 598.2 L2393.1 598.2 L2393.6 598.2 L2394.1 598.1 L2394.7 598.1 L2395.2 598.0 L2395.7 598.0 L2396.2 597.9 L2396.8 597.9 L2397.3 597.8 L2397.8 597.8 L2398.4 597.8 L2398.9 597.7 L2399.4 597.7 L2399.9 597.6 L2400.5 597.6 L2401.0 597.5" fill="none" stroke="#a62a72" stroke-width="3.0" stroke-linejoin="round"/></g>
<rect x="1926.0" y="553.0" width="475.0" height="385.0" fill="none" stroke="#3a3a3a" stroke-width="3.4"/>
<line x1="1926.0" y1="939.5" x2="1926.0" y2="945.5" stroke="#3a3a3a" stroke-width="2.6"/><line x1="2084.3" y1="939.5" x2="2084.3" y2="945.5" stroke="#3a3a3a" stroke-width="2.6"/><line x1="2242.7" y1="939.5" x2="2242.7" y2="945.5" stroke="#3a3a3a" stroke-width="2.6"/><line x1="2401.0" y1="939.5" x2="2401.0" y2="945.5" stroke="#3a3a3a" stroke-width="2.6"/><line x1="2005.2" y1="939.5" x2="2005.2" y2="942.5" stroke="#3a3a3a" stroke-width="2.6"/><line x1="2163.5" y1="939.5" x2="2163.5" y2="942.5" stroke="#3a3a3a" stroke-width="2.6"/><line x1="2321.8" y1="939.5" x2="2321.8" y2="942.5" stroke="#3a3a3a" stroke-width="2.6"/>
<text x="1926.0" y="972.0" font-size="26.0" fill="#444444" text-anchor="middle" textLength="44.0" lengthAdjust="spacingAndGlyphs">600</text>
<text x="2084.3" y="972.0" font-size="26.0" fill="#444444" text-anchor="middle" textLength="44.0" lengthAdjust="spacingAndGlyphs">700</text>
<text x="2242.7" y="972.0" font-size="26.0" fill="#444444" text-anchor="middle" textLength="44.0" lengthAdjust="spacingAndGlyphs">800</text>
<text x="2401.0" y="972.0" font-size="26.0" fill="#444444" text-anchor="middle" textLength="44.0" lengthAdjust="spacingAndGlyphs">900</text>
<text x="2164.0" y="1018.4" font-size="29.5" fill="#444444" text-anchor="middle" textLength="232.5" lengthAdjust="spacingAndGlyphs">Wavelength (nm)</text>
<text x="2345.5" y="583.7" font-size="27.5" fill="#444444" textLength="48.0" lengthAdjust="spacingAndGlyphs">2-Cl</text>
<line x1="2237" y1="740.5" x2="2299" y2="740.5" stroke="#aaaad2" stroke-width="2.6"/>
<text x="2306.5" y="749.8" font-size="25.5" fill="#444444" textLength="87.6" lengthAdjust="spacingAndGlyphs">1.84 ps</text>
<line x1="2237" y1="773.8" x2="2299" y2="773.8" stroke="#a28fc4" stroke-width="2.8"/>
<text x="2306.5" y="783.1" font-size="25.5" fill="#444444" textLength="87.6" lengthAdjust="spacingAndGlyphs">1.57 ns</text>
<line x1="2237" y1="807.1" x2="2299" y2="807.1" stroke="#9a72aa" stroke-width="1.6"/>
<text x="2306.5" y="816.4" font-size="25.5" fill="#444444" textLength="87.6" lengthAdjust="spacingAndGlyphs">2.53 ns</text>
<line x1="2237" y1="840.4" x2="2299" y2="840.4" stroke="#a25a9a" stroke-width="3.0"/>
<text x="2306.5" y="849.7" font-size="25.5" fill="#444444" textLength="87.6" lengthAdjust="spacingAndGlyphs">3.63 ns</text>
<line x1="2237" y1="873.7" x2="2299" y2="873.7" stroke="#933a7c" stroke-width="3.2"/>
<text x="2306.5" y="883.0" font-size="25.5" fill="#444444" textLength="87.6" lengthAdjust="spacingAndGlyphs">5.62 ns</text>
<line x1="2237" y1="907.0" x2="2299" y2="907.0" stroke="#a62a72" stroke-width="3.4"/>
<text x="2306.5" y="916.3" font-size="25.5" fill="#444444" textLength="87.6" lengthAdjust="spacingAndGlyphs">6.60 ns</text>
<text x="19.0" y="50.5" font-size="56.0" fill="#333333">a</text>
<text x="22.5" y="567.0" font-size="54.0" fill="#333333">b</text>
<text x="1219.0" y="50.5" font-size="54.0" fill="#333333">c</text>
<text x="1217.0" y="566.8" font-size="53.5" fill="#333333">d</text>
</svg>
</body></html>
